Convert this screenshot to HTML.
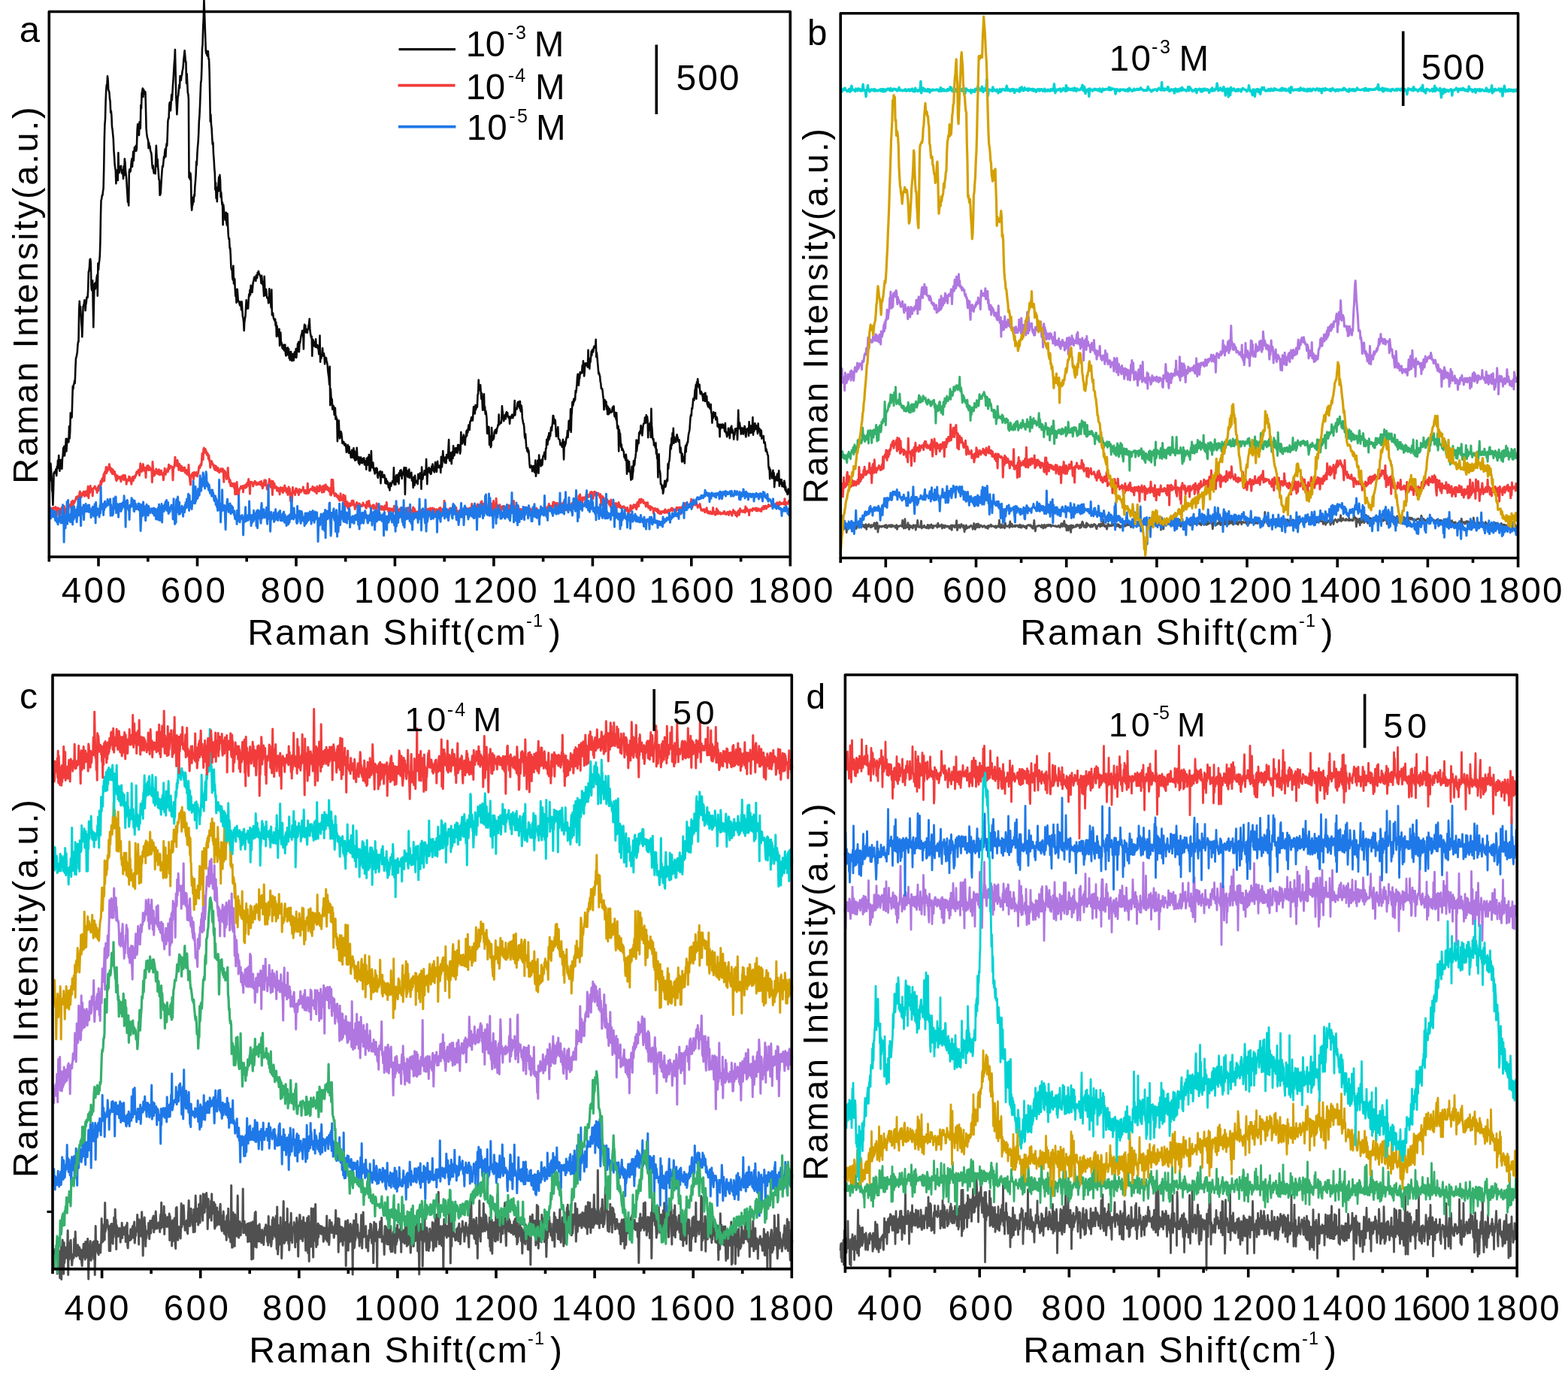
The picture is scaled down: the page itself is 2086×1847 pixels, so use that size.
<!DOCTYPE html>
<html><head><meta charset="utf-8"><title>Raman spectra</title>
<style>
html,body{margin:0;padding:0;background:#fff;}
svg{display:block;}
text{font-family:'Liberation Sans', Arial, sans-serif;fill:#000;}
</style></head>
<body>
<svg xmlns="http://www.w3.org/2000/svg" width="2086" height="1847" viewBox="0 0 2086 1847">
<rect width="2086" height="1847" fill="#fff"/>
<g id="curves" transform="scale(0.1)">
<path d="M662 6404l6-155l6-81l6 84l6 86l6 187l6 27l6 167l6-182l6-238l6-16l6 12l6-4l6-32l6-17l6 87l6-120l6 25l6-109l6 102l6-166l6 161l6 46l6-64l6-84l6 92l6-34l6 61l6-142l6-26l6-111l6 29l6-51l6 126l6-66l5-31l7-130l6 167l6-88l6-48l6-31l6 28l6 17l6-208l6 159l6-88l6-249l6 42l6 21l6-7l6-209l6-203l6 36l6-59l6-9l6-43l5 34l7-204l6-130l6-12l6-32l6-37l6-89l6-49l5 3l7-433l6-109l6 121l6-47l6 103l6 102l6 80l5 115l7-191l6-214l6-4l6-33l6-46l6 23l6 117l6-80l6-26l6-71l6 9l6-8l6-105l6-232l6-17l6-54l6-97l6-5l6 58l6 283l5 67l7 12l6-133l6 363l5 257l7-362l5-179l7-43l6 75l6-87l6-2l6-63l6-34l6 277l6-431l6 87l6-84l6-39l6-61l6-182l6-355l5-201l7-24l6-46l6 0l6-54l6-40l6-247l6-384l6-215l6-73l6-241l6-141l6-74l6-1l6-116l6 45l6 139l6 9l6 23l6 80l6 41l6 146l6-21l6 63l6 149l6 34l6 66l6 60l6 146l6 84l6 105l6 52l6 33l6 175l6-125l6-52l6 67l6 67l6-366l6 232l6 33l6-84l6 35l6 1l6-43l6 71l6 27l6-44l6 30l6 86l6-165l6 118l6-218l6 44l6 111l6 52l6 58l6 107l6 97l6 108l6-49l6 94l6-449l6-32l6 34l6-6l6-58l6-70l6-40l6 104l6-100l6-100l6 118l6-109l6-67l6 50l6-32l6-41l6 70l5-41l7-236l6-78l6 83l6-29l6 93l6-176l6 89l6-5l6-309l6 46l6-202l5-24l7-42l6 112l6-98l6 26l6 30l6-28l6 6l6 224l6 261l6 68l6 44l6 26l6 14l6 111l6-74l6 55l6-8l6 51l6 26l6 10l6 59l6 98l6 53l6-38l6 69l6 32l6-31l6 6l6 31l6-205l6-169l6 126l6 148l6-94l6 109l6 68l6 91l6 15l6 198l6-7l6-27l6-111l5-78l7-108l6-58l6 9l6-59l6-70l6 15l6-76l6-45l6 101l6-116l6-54l6 25l6-145l6-183l6-36l6 1l6-178l6-36l6 100l6 10l6-111l6-103l6 75l5-69l7-135l6-76l6-102l6-105l6-72l5-113l7 302l6 315l6 107l6 136l6-119l6-113l6-19l6-73l6-69l6 45l6-162l6 21l6 36l6-60l6-7l6-53l6-25l5-44l7-91l6-55l6-60l6 62l6 86l6 0l6 289l6-130l6 121l6 132l6 21l5 67l6 1042l7-69l6 93l6-81l6 75l6 329l6 86l6-73l6 3l6-101l6 63l6-95l6 17l6-135l6-64l6-89l6-172l6 46l6-149l6-92l6-63l6-108l6-168l6-73l6-129l6-162l6-152l6-35l6-165l6-264l5-33l7-242l6-124l6-250l6 161l6 181l6 171l6 179l6 33l6-35l6 65l6-18l6-44l6 102l6-1l6 158l6 293l6 386l6-92l6 137l6 43l6 121l6 92l6-25l5 142l7 87l6 117l6 61l6 224l6-93l6 205l6-99l6 145l6-190l6 56l6-110l6-83l6 180l6-207l6 69l6 224l6-64l6 84l6 80l6-27l6 298l6-268l6 60l6 57l6 16l6 68l6 6l6-103l6 142l6 28l6-156l6 173l6 119l6 46l6-8l6 128l6-2l6 100l6 155l6 35l6-13l6 112l6 37l6-187l6 237l6-45l6-21l5 131l6 100l6-90l6 178l6-82l6-98l6 83l6 80l6-4l6 14l6 30l6 14l6-49l6 41l6 66l6-108l6 103l6 91l6 23l6 56l6 111l5-111l7-44l6-39l6-113l6-99l6 115l6-44l6-37l6 77l6-115l6-73l6 26l6-83l6 64l6-124l6 66l6 5l6 20l6-66l6-66l6-13l6-37l6-23l6 8l6 1l6 45l6-75l6 33l6 2l6-72l6 18l6-37l6 25l6 18l6 12l6 12l6 23l6 72l6-101l6 64l6 53l6-35l6 87l6 102l6-263l6 152l6 67l6 33l6-79l6 84l6 31l6-7l6 7l6 68l6-5l6-185l6 173l6-82l6 90l6 70l6-238l6 336l6-29l6 3l6 55l6 22l6 12l6 16l6-26l5 88l7-46l6 191l6-142l6 67l6-14l6 75l6 18l6-103l6 221l6-97l6-77l6 140l6-8l6 39l6 39l6-13l6 23l6-58l6 76l6-7l6-70l6 115l6 33l6-102l6 35l6 53l6-95l6 38l6-19l6 121l6-83l6 109l6-66l6-46l6 70l6 52l6-17l6-74l6 46l6 40l6-62l6-49l6 42l6 25l6-112l6 118l6-71l6-10l6-102l6 0l6-27l6 133l6-112l6-7l6-37l6-40l6-29l6-10l6-46l6 51l6 0l6 193l6-260l6-66l6 67l6-55l6 92l6-12l6-28l6 46l6-48l6 1l6-51l6-19l6-68l6 130l6 57l6 33l6 31l6-17l6 259l6-221l6 3l6 73l6-44l6 57l6-36l6 47l6-102l6 101l6 7l6-31l6 5l6 43l6 4l6 70l6-24l6-224l6 351l6-90l6 44l6-45l6-7l6-86l6 102l6-2l6-30l6 40l6 103l6-77l6 18l6-27l6 49l5 11l7 40l6 81l6 47l6 38l6 92l6-239l6 515l6-218l6 111l6 25l6 2l6 134l6-4l6-44l6 23l6 98l6-63l6-29l6 149l6-38l6 43l6-11l6 302l6-182l6 22l6-117l6 141l6 97l6-17l6-77l6 7l6 23l6 56l6 74l6-12l6-9l6 2l6 33l6 12l6 2l6-22l6 41l6 71l6-52l6 12l6-58l6 66l6 42l6-84l6 84l6-15l6 31l6 45l6-36l6-65l6 100l6-24l6-29l6-73l6 141l6-100l6 124l6-59l6 55l6-20l6-145l6 110l6 27l6 24l6 43l6-78l6 98l6-50l6-40l6-7l6 75l6-18l6 20l6-60l6 51l6-40l6-19l6 91l6-53l6 4l6 2l6 110l6-149l6 55l6 33l6-104l6 72l6-105l6 215l6-104l6 101l6-123l6-138l6 195l5 25l7-37l6-28l6 76l6 23l6 18l6 31l6-70l6 54l6-60l6 0l6 13l6 100l6 18l6-52l6 16l6-42l6 15l6-26l6 162l6-129l6 10l6-36l6 71l6 4l6-8l6-4l6-21l6 28l6 83l6-2l6-57l6 65l6-39l6 44l6-25l6 63l6 13l6-35l6 67l6-99l6 16l6 28l6-37l6-2l6-30l6 0l6 17l6-195l6 226l6-49l6 4l6 47l6-117l6-12l6 71l6 16l6-65l6-32l6 127l6-148l6 43l6-70l6 62l6-72l6 60l6 56l6-68l6 16l6-41l6-15l6-40l6 96l6 262l6-253l6-104l5 35l7 13l6 55l6 22l6-79l6-10l6-13l6 115l6-42l6-12l6 29l6-48l6 107l6-2l6-11l6 108l6-142l6 64l6 49l6-133l6 87l6-13l6 22l6-18l6-11l6 49l6-133l6 50l6 10l6-24l6-51l6 43l6 3l6 166l6-291l6 110l6 50l6-43l6-12l6-2l6-57l6 54l6-16l6 14l6-203l6 187l6 144l6-168l6 10l6-49l6-13l6 46l6 27l6-54l6 68l6-8l6-96l6 50l6-79l6 56l6 32l6 10l6 10l6-61l6-73l6 9l6 65l6 56l6-71l6-71l6 75l6-19l6 27l6 0l6-14l6-17l6 100l6-213l6 141l6-12l6-99l6-106l6 103l6 16l6 9l6 27l6-70l6 38l6 38l6-112l6 34l6 9l6-19l6-103l6-120l6 254l6 27l6-110l6 101l6-19l6 68l6-151l6-9l6 87l6-167l6 88l6 43l6-28l6-66l6-7l6 57l6-55l6 56l6 6l6-106l6 54l6-54l6 49l6 23l6 44l6-41l6-245l6 113l6 23l6 18l6-90l6 34l6-62l6 76l6 38l6 20l6-106l6 1l6-79l6 64l6-83l6 38l6-55l6-45l6 60l6 6l6-103l6-16l6-11l6-37l6 43l6-2l6 0l6-102l6-80l6 34l6 23l5 35l7-115l6 61l6-29l6-28l6 23l6-166l6-9l6-186l6 138l6-13l6 4l6-62l6 93l6 91l6-73l6 93l6 129l6-135l6 74l6-151l6 214l6-44l6 96l6-40l6 40l6 57l6 201l6-94l6 98l6-83l6-9l6 239l6-65l6-48l6 146l6-21l6-240l6 112l6 54l6-33l6 18l6-17l6-76l6-10l6-17l6-5l6 50l6-24l6-45l6-8l6-36l6 7l6-146l6 131l6-23l6 11l6-15l6 10l6-43l6-184l6 71l6 38l6 35l6 57l6-63l6 34l6-55l6 56l6-75l6-17l6 20l6-11l6 57l6-11l6 23l6-10l6 88l6-93l6 2l6 17l6-24l6-24l6 31l6 14l6-24l6-6l6-68l6-133l6 193l6-94l6 10l6-6l6 9l6-73l6-18l6 44l6 12l6-66l6 89l6-90l6 119l6 16l6-77l6 49l6 120l6 26l6 45l6-3l6 49l6 110l6 39l6-58l6 100l6 88l6 4l6 38l6-42l6 56l6-24l6 85l6 96l6 46l6-20l5-2l7-5l6 11l6 64l6-34l6 2l6-39l6 62l6 23l6-43l6-116l6 212l6-43l6-33l6-6l6-127l6 128l6 41l6-243l6 89l6 28l6-43l6 75l6-53l6-36l6 74l6-60l6-61l6 3l6-19l6-34l6 35l6 59l6-143l6-1l6-120l6 33l6 37l6-109l6 53l6-99l6 78l6-78l6 42l6-85l6-34l6 44l6-59l6-47l6-93l6 1l6 103l6-57l6 61l6-48l6 98l6 117l6-92l6 84l6 1l6-116l6 155l6 5l6 3l6 9l6 60l6-20l6 29l6-16l6 40l6-52l6-48l6 76l6 190l6-234l6 60l5-17l7-17l6-54l6-35l6 2l6-86l6 88l6-91l6-129l6 122l6-129l6 105l6-256l6 306l6-215l6-71l6-116l6 53l6-20l6-69l6 33l6-46l6 24l6-123l6 24l6-49l6-62l6-100l6-35l6 9l6 140l6-85l6-4l6-83l6 20l6-20l6 3l6 6l6-99l6 84l6-144l6 89l6 112l6-57l6-113l6 5l6 23l6-31l6 21l6 11l6 22l6-227l6 186l6-74l6 137l6-134l6 45l6-69l6-74l6 53l6-74l6 26l6 3l6-48l6-25l6 8l6-18l6 32l6-115l6 232l6-57l6 65l6 67l6 69l6 79l6-15l6 33l6 14l6 73l6 22l6 71l6 2l6-2l6 36l6 68l6 35l6 142l6-44l5-87l6 44l6-24l6 1l6 104l6-49l6 116l6-100l6 15l6 83l6-15l6-52l6 28l6 6l6 12l6-10l6 1l6-58l6 22l6-39l6 0l6 112l6 26l6-53l6 25l6 65l5-89l7 132l6 78l6-37l6 9l6 330l6-285l6 59l6-9l6 102l6 75l6-32l6 76l6-22l6 14l6 17l6 13l6 67l6 12l6-21l6 54l6-75l6 56l6 201l6-76l6-105l6 148l6-61l6-70l6 133l6-2l6 33l6 80l6-63l6-114l6 165l6-69l6-38l6-135l6 65l6-12l6-81l6-16l6-64l6-168l5 148l7-65l6-33l6-48l6 42l6-143l6 27l6-47l6 28l6-103l6 40l6-11l6 104l6-69l6-60l6-28l6-1l6-11l6-71l6 74l6-29l6-77l6 99l6-79l6 53l6 225l6-181l6 36l6-36l6 85l6-104l6 199l6-383l6 217l6 67l6 103l6 28l6-12l6 85l6-24l6 2l6 54l6-64l6 144l6-57l6 121l6-12l6 264l6-222l6-88l6 224l6-3l6 37l6 140l6-1l6 14l6 49l6-39l6 104l6-27l6-54l6-45l6-44l6 82l6-10l6-39l6-32l6-23l6 24l6-227l6 66l6-85l6-18l6-49l6-128l6-43l6 58l6-143l6 91l6-159l6 84l6-150l6 201l6-84l6 43l6 1l6 23l6 1l6-67l6-33l6 32l6 17l6 41l6 7l6-26l6 80l6 88l6-68l6 52l6 24l6 115l6-103l6 96l6-59l6 11l6-10l6 86l6-166l6-67l6 83l6-103l6 16l6-43l6 5l6-73l6-45l6-24l6-28l6-90l6-83l6-28l6 13l6-102l6 12l6-56l6-80l6 18l6 2l6-58l6-83l6-4l6-63l6 189l6-221l6 30l6-74l6 60l6 41l6 16l6-40l6 80l6 44l6-36l6 6l6 16l5 19l7 29l6 53l6-60l6-30l6 75l6 24l6-111l6 109l6-36l6-29l6 106l6 4l6 31l6-59l6 15l6 56l6-26l6 46l6-64l6 106l6 15l6 126l6-125l6 63l6-82l6 18l6 6l6 36l6-51l6 91l6-11l6-24l6 17l6 109l6-34l6 8l6 43l6-13l6 132l6-163l6 58l6-14l6-42l6 30l6-35l6 49l6-38l6 29l6 16l6 41l6-112l6 121l6-4l6 32l6 33l6-36l6 10l6-87l6 26l6 22l6 84l6-71l6-72l6 41l6-60l6 89l6-42l6 42l6 9l6 79l6-82l6 21l6-80l6 20l6-12l6-12l6 27l6 125l6-144l6-251l6 208l6 37l6-77l6 53l6 18l6 80l6-18l6-63l6 45l6-44l6 80l6-77l6 23l6-53l6 21l6 99l6 25l6-87l6-18l5 9l7-18l6 14l6 84l6-186l6 124l6 22l6 3l6-97l6 30l6 61l6-65l6-138l6 233l6-143l6 99l6-50l6-60l6 79l6-52l6 33l6-23l6 55l6 47l6-135l6 109l6-8l6-35l6 39l6 59l6-76l6 8l6 104l6-29l6 4l6 2l6-12l6 93l6-3l6-6l6 43l6 77l6-29l6 25l6 19l6 34l6 6l6 143l6 42l6-25l6 153l6-126l6 57l6-4l6-4l6 67l6-69l6-35l6 105l6-70l6 187l6-92l6 8l6-52l6 47l6-4l6-70l6-15l6 94l5-8l7-126l6 204l6-89l6 2l6 29l6 30l6-57l6 89l6-3l6-6l6-36l6 56l6-85l6 25l6 96l6-39l6 64l6-9l6 7l6 39l6-56l6-17l6 55l6 14" fill="none" stroke="#0a0a0a" stroke-width="26" stroke-linejoin="round"/>
<path d="M662 6835l6-19l6-4l6-50l6 30l6 36l6 8l6-77l6 31l6-35l6 16l6-13l5 0l7-12l6 30l6 90l6-83l6-23l6 19l6-19l6 40l6 75l6-72l6-4l6-29l6 38l6 26l6-84l6-4l6 2l6 49l6-14l6-48l6 119l6-80l6-1l6 19l6-11l6 39l6-72l6 12l6 32l6-59l6-9l6 9l5-14l7 10l6 26l6-78l6 85l6-37l6-62l6 26l6 16l6-33l6 12l6-17l6-15l6-20l6-19l6 23l6-26l6-5l6-2l6 49l6 14l6-103l6-23l6 77l6-28l6 29l6-31l6-25l6 24l6-15l6-29l6 5l6 56l6-60l6 24l6-18l6-12l6 58l6-51l6-18l6-54l6 156l6-89l6 18l6-1l6-90l6 44l6 16l6-24l6 11l6 86l6-95l6-8l6-2l6-6l6-18l6 26l6 12l6 9l6-8l6 47l6-59l6-19l6 49l6-67l6 42l6-45l6 14l6-69l6 45l6-41l6-36l6 41l6-38l6-34l6-35l6 96l6-119l6 1l6-16l6-50l6 81l6-77l6 48l6-48l6 17l6 12l6-72l6 40l6 31l6-21l6 56l6-46l6 19l6 52l6-59l6 33l6-2l6 27l6-31l6 60l6-23l6 68l6 16l6-13l6-54l6 41l6-29l6 10l6 12l6-7l6-11l6 35l6 27l6-44l6-27l6 13l6 14l6-42l6 64l6-22l6 1l6-41l6 62l6-9l6 66l6-63l6 10l6 6l6 2l6-11l6-48l6 40l6-30l6 54l6-7l6 47l6-47l6-14l6-38l6 53l6-26l6-32l6 11l6 8l6-32l6 4l6-32l6-20l6 19l6-26l6 1l5-19l7 36l6 36l6-61l6-97l6 103l6-42l6 46l6-25l6-46l6-27l6 54l6 33l6-28l6-3l6-9l6 131l6-122l6-4l6-30l6 46l6-50l6 63l6-50l6 38l6-22l6 33l6 0l6 2l6-21l6 180l6-272l6 104l6 7l6 77l6-12l6-4l6-45l6 23l6-55l6 57l6-15l6-10l6 36l6-50l6-10l6 56l6 15l6-38l6-8l6-12l6 32l6 24l6-20l6 17l6 74l6-52l6-53l6-50l6 71l6 8l6-41l6-5l6 11l6-36l6 36l6-43l6-52l6 47l6 7l6-24l6-10l6 8l6 1l6 3l6 3l6 172l6-166l6 5l6-17l6-36l6-93l6 110l5-26l7 29l6 4l6-74l6 46l6 9l6 74l6-81l6 5l6 35l6-1l6 54l6-63l6 37l6-20l6 47l6-13l6-2l6-26l6-6l6 69l6-15l6-14l6-6l6 58l6 2l6-36l6 17l6-110l6 155l6-17l6 80l6 48l6-110l6-12l6-18l6-4l6-13l6 46l6 36l6-90l6 38l6 3l6-34l6 24l6-32l6 48l6 5l6-35l6-3l6-43l6-50l6 9l6 9l6-38l6-12l6 17l6-57l6-100l6 37l6 44l6-142l6-13l6 20l6 41l6-46l6 25l6 4l6 41l6 8l6-21l6 30l6 46l6-49l6 75l6 10l6 77l6-85l6 21l6-22l6 35l6-4l6 24l6-4l6 27l6 29l6-45l6 58l6-55l6 6l6 50l6 3l6 10l6-46l6 35l6 4l6 25l6-30l6 14l6-34l6 22l6-10l6 25l6-37l6 4l6 31l6 141l5-151l7 17l6-3l6 43l6 0l6 54l6-35l6-16l6-99l6 122l6 6l6 67l6 2l6-33l6 78l6-22l6-15l6 42l6-4l6-11l6-21l6 27l6 31l6-59l5 144l6-64l6 4l6 58l6-160l6 84l6 15l6 21l6 67l6-79l6-5l6-24l6 2l6-25l6 8l6 15l6 3l6-31l6 83l6-84l6 12l6-12l6-8l6 34l6-44l6 36l6-8l6-52l5 27l7-22l6-53l6 91l6-45l6 151l6-160l6 15l6-9l6-6l6 12l6 10l6 36l6-24l6-21l6-9l6-13l6 5l6 8l6 35l6-21l6-6l6 23l6-7l6-12l6 13l6-27l6 32l6-4l6-20l6-18l6 60l6-32l6 65l6-18l6-29l6-26l6-35l6 67l6-34l6-34l6 60l6 1l6 62l6-38l6-2l6-10l6-11l6-77l6 73l6 6l6 29l6-21l6-61l6 88l6 97l6-179l6 69l6 18l6-61l6 30l6 31l6-10l6-8l6 9l6 45l6-39l6 28l6 17l6-38l6 20l6 62l6-82l6-10l6 45l6-27l6-2l6-12l6 66l6-22l6-15l6-14l6-45l6 69l6 1l6-36l6 58l6-8l6-37l6 76l6-61l6-43l6 51l6-31l6 69l6 100l6-102l6 1l6 110l6-127l6-66l6 77l6-19l6-9l6 14l6 37l6-51l6-33l6 46l6-42l6 27l6 10l6 8l6 34l6-17l6-57l6 33l6-17l6 22l6-25l6-1l6 4l6-2l6-44l6 41l6 13l6 27l6-34l6-2l6 41l6-22l6 22l6-23l6-110l6 126l6 3l6-13l6-18l5-15l7 3l6-14l6 13l6-7l6 6l6-42l6 54l6-7l6-18l6-17l6 54l6 3l6-43l6 21l6 44l6-93l6 28l6 37l6-29l6-24l6 52l6-78l6 22l6 28l6-20l6 11l6 52l6-83l6 16l6-5l6 68l6-89l6 64l6-32l6-40l6 28l6 30l6 5l6-36l6 35l6 12l6 8l6 5l6-43l6 86l6-31l6 40l6-208l6 174l6-18l6-153l6 128l6 57l6-8l6 39l6-17l6-17l6 25l6-11l6 32l6-8l6-10l6 40l6-23l6 34l6 16l6-32l6-62l6 82l6-15l6 19l6 7l6 0l6-76l6 38l6 34l6 98l6-158l6 65l6 20l6 51l6-52l6-3l6 87l6-40l6-18l6 38l6-48l6 37l6-7l6-29l6 24l6-56l6 34l6 18l6-56l6 25l6 36l6 9l6 44l6-59l6 30l6-42l6-20l6 29l6-7l6 38l6-25l6-20l6 71l6-64l6 22l6 5l6 3l6-12l6 9l6-14l6-29l6 27l6 1l6 1l6 8l6 13l6 14l6 6l6-82l6 49l6-15l6-41l6 66l6-73l6 57l6-5l6 39l6 4l6-21l6 10l5-5l7-5l6-19l6 51l6-48l6 25l6 12l6-10l6 20l6 34l6-104l6 44l6-8l6 4l6-19l6 33l6-6l6 26l6-24l6-6l6-8l6 47l6-29l6-13l6 29l6-20l6 39l6-3l6-55l6 34l6 8l6-14l6-75l6 94l6-19l6 8l6 34l6 16l6-27l6-26l6 38l6-30l6-1l6 4l6 19l6-6l6-17l6 41l6-17l6-62l6 15l6 41l6-4l6 49l6-47l6-2l6 24l6 3l6-28l6 17l6 90l6-120l6 48l6-57l6 51l6-4l6 2l6 4l6-7l6-26l6-7l6 9l6 34l6-44l6 10l6 8l6 37l6 26l6 41l6-80l6-60l6 55l6-17l6-24l6 26l6-12l6 27l6 4l6 25l6-32l6-20l6-39l6 60l6 25l6-65l6 57l6-25l6 25l6 53l6-46l6-13l6-13l6 16l6-6l6-5l6 9l6 14l6-17l6 0l6-33l6 25l6 56l6-38l6-37l6 68l6 17l6-75l6 37l6-21l6-22l6-7l6 31l6 17l6-23l6-42l6 6l6 37l6 19l6-25l6-49l6 69l6-32l6 2l6-3l6-36l6 49l6-2l6 12l6-48l6 80l6-33l6-14l6 23l6-49l6 23l6-19l6 22l6-18l6 51l6-74l6 49l6-55l6 61l6-11l6-33l6 4l6 19l6 13l6-23l6 22l6-144l6 178l6 8l6-82l6 84l6-18l6-31l6 29l6-34l6 20l6-38l6 18l6-24l6-13l6 29l6-8l6 27l6 15l6-32l6 5l6-46l6 8l6 43l6-6l6-1l6-23l6-20l6 38l6 13l6 23l6-5l6 7l6-24l6 17l6-30l6 19l6 6l6-38l6 23l6-33l6 58l6-47l6 16l6-5l6-14l6 49l6 11l6 4l6-82l6 25l6 21l6-23l6-11l6 115l6-111l6 14l6-28l6 16l6 10l6 40l6-34l6-86l6 52l6 1l6 14l6 26l6-20l6 107l6-121l6-6l6 5l6 80l6-117l6 105l6-121l6 36l6 6l6 40l6-68l6 21l6 78l6-138l6 83l6-98l6 45l6 33l6-11l6 18l6-50l6 69l6-49l6 32l6-40l6-11l6 29l6 10l6 31l6-26l6 9l6-1l6 55l6-86l6 46l6-30l6-45l6 37l6 38l6 86l6-139l6-55l6 60l6 41l6 6l6-37l6 35l6-138l6 101l6 123l6-61l6-41l6-20l6 0l6 46l6-63l6 27l6 2l6 56l6-58l6 32l6-17l6-25l6 35l6-4l6 34l6-61l6 7l6 10l6-4l6 27l6-26l6-13l6 26l6 26l6-68l6 8l6 11l6 23l6 8l6-42l6 30l6 15l6-13l6-44l6 34l6-88l6 115l6 43l6-83l6 56l6-53l6 50l6-29l6-37l6 77l6-67l6 52l6 3l6-13l6 34l6-40l6 74l6-46l6-11l6-13l6 37l6-16l6-12l6 2l6 8l6-46l6 49l6-7l6-17l6-4l6-15l6 95l6-53l6-23l6 77l6-62l6-5l6-18l6 36l6-3l6-5l6 18l6-32l6 45l6-34l6 15l6 2l6-20l6 6l6-29l6-5l6 29l6-12l6 28l6-12l6 13l6-7l6-2l6-3l6-10l6-3l6 55l6-83l6 32l6 25l6-15l6 20l6-21l6-41l6 18l6-25l6 51l6 8l6-43l6 19l6-22l6-25l6 20l6-50l6 44l6 15l6 9l6-41l6 14l6 11l6 2l6 2l6-77l6 44l6-50l6 38l6 29l6 11l6-62l6 35l6 8l6-7l6-35l6 42l6-19l6 31l6-8l6-21l6 17l6-19l6 91l6-109l6 30l6 23l6-60l6 43l6-59l6 49l6 29l6-3l6 33l6-46l6 49l6-21l6 11l6-20l6-10l6 6l6 7l6-29l6-1l6-3l6-12l6 25l6-46l6 58l6 0l6-17l6 21l6 8l6-43l6-3l6 22l6-10l6-1l6-22l6 50l6-80l6 18l6-96l6 143l6-28l6-136l6 75l6-30l6 7l6 30l6 35l6-77l6 16l6-8l6-11l6 30l6-23l6 2l6-6l6-47l6 43l6-9l6 12l6-28l6 20l6-32l6 14l6 15l6-57l6-1l6 42l6-47l6 62l6-35l6 65l6-70l6-13l6-11l6 21l6 28l6-39l6 35l6-2l6-15l6 12l6-22l6 11l6 22l6-2l6 30l6-44l6 24l6 121l6-109l6 30l6-40l6 43l6-22l6 10l6 29l5-18l6 22l6 65l6-71l6 2l6-20l6 23l6 21l6 5l6-25l6 49l6-2l6-12l6 44l6-97l6 46l6 4l6 13l6 0l6 2l6 8l6-19l6 6l6 19l6-32l6 17l6-16l6 56l6-9l6-18l6 12l6-55l6 64l5-12l7-16l6 38l6-14l6 14l6 17l6-25l6-7l6 11l6-17l6 11l6 3l6 4l6 34l6-3l6-24l6 35l6-41l6 19l6 11l6 85l6-86l6 8l6 8l6-76l6 68l6-45l6-11l6 15l6 15l6-13l6-36l6 33l6-7l6 0l6-28l6 38l6 23l6-20l6-69l6 24l6-35l6 61l6-72l6-21l6 35l6-15l6 26l6-52l6 36l6-14l6 7l6-12l6 40l6-15l6 18l6-1l6-7l6 49l6-15l6-34l6 25l6-28l6 61l6 10l6-3l6-17l6-3l6 51l5-33l7-9l6 8l6 0l6 7l6 12l6 60l6-57l6 1l6-11l6 1l6 5l6 28l6-5l6 12l6-33l6 51l6-36l6 13l6 8l6 28l6-21l6-8l6 28l6-30l6 11l6-10l6 6l6-10l6 10l6 11l6-34l6-12l6 43l6-15l6 8l6-15l6 21l6 3l6-37l6 49l6-44l6 8l6-17l6 12l6-25l6 10l6-19l6 34l6 2l6-21l6 4l6 8l6-1l6-3l6 16l6 7l6-50l6 6l6-9l6 31l6-26l6 2l6 2l6-10l6 49l6-48l6 87l6-82l5-7l7 2l6-23l6 26l6-6l6-8l6-25l6 8l6-29l6 22l6-2l6 18l6-29l6 19l6 26l6-34l6 9l6 4l6-14l6-11l6-27l6-34l6 57l6 50l6-52l6 14l6-58l6 21l6 44l6-15l6 2l6 13l6-34l6 28l6 7l6 34l6-29l6 5l6 8l6-1l6-31l6 54l6-1l6 33l6-14l6 7l6 10l6-11l6 2l6-11l6 25l6 18l6-16l6-11l6-17l6-16l6 53l6 17l6-27l6 10l6 21l6-16l6-3l6-6l6 30l6-2l6-2l6 7l6-10l6-76l6 67l6 2l6 14l6-22l6 38l6-21l5 3l7-67l6 68l6 4l6-48l6 43l6-8l6 3l6-13l6 14l6 11l6-12l6 0l6-3l6 11l6-18l6 13l6 0l6-31l6 35l6-9l6 10l6 7l6-7l6-19l6 19l6-24l6 11l6 29l6-22l6-27l6 23l6 1l6-15l6 24l6 24l6-30l6-4l6-42l6 39l6-6l6-1l6-9l6 46l6-34l6 18l6 34l6-33l6-24l6-19l6-1l6 57l6-43l6-43l6 45l6-21l6 16l6-11l6 5l6 11l6-17l6 17l6-13l6-15l6 37l6-80l6 49l6 10l6-38l6 40l6-12l6-3l6 4l6 65l6-72l6 15l6-18l6 3l6 5l6 5l6 3l6-33l6 10l6 6l6 0l6-13l6 16l6 4l6-28l6 39l6-34l6 13l6 23l6-16l6-15l6 7l6 12l6 8l6-18l6 5l6 22l6-43l6 16l6-28l6 9l6-24l6 39l6-21l6 6l6-27l6 1l6 36l6-28l6 1l6-6l6 11l6-33l6 10l6 11l6-2l6 2l6-11l6 0l6 4l6-13l6-3l6 1l6 5l6-3l6-6l6 1l6 6l6-2l6 0l6-21l6 27l6-32l6 26l6-16l6 15l6 5l6-37l6 30l6-5l6-10l6 10l6-11l6 6l6-1l6 8l6-25l6 23l6-69l6 81l6 1l6-25l6-5l6-1l6 13l6 3l6-22l6-16l6 26" fill="none" stroke="#F23C3C" stroke-width="30" stroke-linejoin="round"/>
<path d="M666 6904l5-141l5 135l5-43l5 7l5 13l5-80l5 82l5-27l5 10l5 5l5-64l5 82l5-16l5 59l5-116l5 18l5 65l5 56l5-51l5 12l5 69l5-44l5-47l5 16l5 33l5-141l5 106l5 2l5 56l5-84l5 27l5 54l5-13l5-227l5 232l5-156l5 422l5-337l5-31l5 88l5 93l5-124l5-28l5 51l5-249l5 294l5-124l5-193l5 224l5 45l5-71l5 63l5-5l5 37l5-109l5 41l5-128l5 139l5-14l5 103l5-237l5 90l5 80l5-175l5 150l5-23l5 1l5-45l5-39l5 33l5 132l5-76l5-126l5 69l5-167l5 212l5-65l5-16l5-61l5-101l5 210l5 172l5-156l5-36l5-45l5-8l5-1l5 86l5-117l5 197l5-148l5 24l5 15l5-83l5-22l5 77l5 27l5-71l5 52l5-25l5-40l5 71l5 18l5-92l5 48l5 0l5 29l5-14l5 104l5-48l5-1l5-75l5-8l5-13l5 51l5 75l5-47l5 44l5-156l5 14l5 236l5-274l5 109l5 63l5-94l5 35l5-28l5 72l5-46l5 27l5 56l5-72l5-83l5 104l5-353l5 270l5-9l5 39l5-56l5-13l5 61l5 86l5-124l5 56l5-104l5-10l5 81l5-22l5-7l5 12l5-12l5-2l5-76l5 18l5 56l5-40l5 15l5-15l5-6l5-35l5 224l5-151l5 95l5-58l5 4l5 108l5-101l5 80l5-207l5 127l5 12l5-2l5-39l5-122l5 5l5 210l5-62l5-60l5 122l5-51l5-37l5 146l5-170l5 90l5-39l5-59l5 14l5 13l5 74l5-102l5 77l5-75l5-14l5 12l5-22l5 61l5-144l5 146l5 21l5-47l5 295l5-344l5 58l5-60l5-12l5 6l5 109l5-43l5 66l5-54l5 176l5-164l5-32l5 17l5 11l5-8l5-111l5 59l5 51l5-87l5 90l5-47l5 105l5 7l5-144l5 95l5-12l5-41l5 72l5-44l5 17l5-8l5 6l5 29l5-77l5 84l5 6l5-84l5 22l5 163l5 174l5-133l5-85l5-132l5 56l5-12l5 106l5-185l5 88l5 18l5-24l5 83l5-104l5 188l5-54l5-81l5-80l5 133l5-82l5 5l5 90l5-124l5 20l5 59l5-10l5 21l5-22l5-31l5 37l5-10l5-31l5 38l5 25l5-46l5-17l5-8l5 101l5-64l5-25l5-1l5 9l5 129l5-114l5-4l5-12l5 68l5 67l5-158l5 117l5-160l5 44l5 169l5-183l5 124l5-86l5 49l5-124l5 245l5-190l5 34l5-59l5 61l5 8l5-45l5-47l5 46l5-82l5 93l5 12l5-126l5 138l5-52l5-7l5-50l5 149l5-27l5 13l5-64l5 53l5-36l5 6l5-44l5-14l5 49l5-29l5 6l5 162l5-126l5-145l5 189l5-65l5 212l5-160l5 46l5 94l5-294l5-17l5 173l5-71l5-135l5 138l5-25l5 122l5-163l5 101l5 55l5-23l5-47l5 7l5 33l5-75l5 63l5-3l5 79l5-121l5-1l5 47l5 18l5-95l5 48l5-84l5 63l5 8l5-112l5 74l5-60l5-29l5-56l5 163l5 59l5-202l5 81l5 79l5-25l5 16l5-69l5 100l5-66l5-31l5-24l5-253l5 121l5 139l5 38l5-29l5 28l5-223l5 195l5-138l5 92l5 16l5-95l5 83l5-122l5 38l5-40l5 89l5-70l5-194l5 97l5 36l5 71l5-160l5 91l5 11l5-15l5-169l5 27l5 85l5-34l5 21l5 112l5-137l5 31l5-117l5 34l5 134l5 23l5-50l5 46l5 24l5 33l5-71l5 33l5 57l5 22l5-41l5 12l5 18l5 50l5-81l5 0l5 78l5-43l5 36l5 43l5 30l5-57l5-9l5 2l5 117l5-83l5 22l5 89l5-46l5 94l5-91l5 42l5-21l5-340l5 406l5-90l5 13l5 237l5-159l5-23l5 32l5-282l5 221l5 48l5-55l5 58l5-3l5-62l5 29l5 157l5 137l5-224l5-63l5 8l5-102l5-25l5 132l5-46l5 85l5-104l5 63l5 18l5-89l5 125l5 11l5-108l5 1l5 93l5-26l5-49l5 45l5 12l5 2l5 48l5-54l5 104l5-14l5-28l5 22l5-28l5 118l5-182l5 119l5-54l5 74l5-336l5 294l5-5l5 65l5-64l5-17l5 30l5-30l5 31l5-44l5 56l5-30l5 237l5-206l5-7l5 43l5-84l5-21l5-97l5 188l5-29l5-23l5-19l5 60l5-66l5 65l5-21l5 9l5-241l5 202l5 0l5 22l5-17l5 121l5-144l5 109l5-106l5 27l5-8l5 61l5-145l5 122l5-81l5 75l5-55l5-24l5 9l5 162l5-200l5 21l5 207l5-240l5 111l5-32l5-26l5-11l5-30l5 40l5 82l5 40l5-216l5-50l5 166l5 33l5-68l5 12l5 38l5-100l5 84l5 26l5-27l5 11l5-44l5 50l5-125l5 162l5 58l5-148l5-28l5-341l5 417l5 35l5 2l5-84l5 248l5-129l5-131l5 99l5-59l5 45l5-2l5 3l5 3l5-81l5 123l5-77l5 18l5 38l5-146l5 59l5 0l5 19l5 48l5-70l5 93l5-42l5-23l5-49l5 71l5-6l5-83l5 133l5-70l5 33l5 7l5 5l5 29l5-95l5 40l5-6l5-60l5 82l5 61l5-103l5 37l5-13l5 46l5 76l5-99l5 9l5 39l5-77l5 109l5-82l5-35l5 93l5-105l5 57l5-41l5 43l5-286l5 39l5 203l5 34l5-7l5-21l5 41l5-151l5 81l5 43l5-30l5 6l5 28l5-3l5 72l5 9l5-229l5 210l5-105l5 27l5-42l5 49l5-78l5 68l5 60l5 39l5-29l5-131l5 18l5 34l5 72l5-42l5 44l5-42l5 13l5 96l5-97l5-71l5 82l5 59l5-103l5 87l5-126l5 55l5 49l5-63l5-2l5-38l5 80l5-98l5 108l5-15l5-91l5 159l5-82l5-4l5 40l5-130l5 40l5 51l5-57l5 124l5-39l5-104l5 67l5 24l5-2l5-64l5-17l5 99l5-9l5 299l5-183l5-51l5-76l5 66l5 24l5-101l5 18l5-64l5 115l5 8l5-58l5 137l5-196l5 88l5-104l5 33l5 198l5-186l5-92l5 374l5-276l5-85l5 75l5 7l5 29l5-22l5-85l5 90l5-33l5-159l5-9l5 206l5 67l5 167l5-57l5-248l5 48l5-44l5 51l5-8l5-88l5-15l5 140l5 17l5-32l5-8l5 189l5-259l5-28l5 167l5 185l5-267l5 118l5 85l5-148l5-85l5-141l5 184l5 101l5-99l5-37l5 19l5-64l5 15l5 82l5-210l5 219l5 28l5-100l5-18l5-74l5 199l5-118l5 87l5-73l5-23l5 141l5-85l5-30l5 60l5-9l5-82l5-51l5 40l5 214l5-108l5 21l5-20l5-28l5 19l5 50l5-85l5 74l5-10l5-20l5 54l5-98l5 30l5-39l5 7l5-13l5 68l5-63l5 45l5-54l5-121l5 254l5-72l5 63l5 67l5-306l5 169l5-75l5 137l5-73l5 34l5-58l5-44l5 65l5 71l5 3l5-37l5-105l5 45l5-67l5 10l5 81l5 3l5-33l5-3l5 59l5 42l5 3l5-66l5 37l5-72l5 51l5-62l5 76l5-74l5-89l5 129l5 25l5 76l5-126l5-46l5 80l5-48l5 42l5-90l5 247l5-137l5-85l5-40l5 104l5 48l5-45l5 31l5-62l5-39l5-26l5-94l5 211l5-93l5 54l5 8l5 36l5-63l5 29l5-30l5 83l5-56l5-35l5-12l5 291l5-180l5-132l5 224l5-54l5-52l5-60l5 42l5 136l5-183l5 13l5 72l5-65l5 60l5-119l5 92l5-99l5-11l5 29l5 1l5 57l5-68l5 120l5-72l5-52l5 59l5-32l5 60l5 77l5-21l5-54l5 156l5-221l5-183l5 335l5-263l5 106l5 74l5 34l5-72l5-51l5-8l5 58l5-44l5 11l5 22l5 8l5-126l5 127l5 53l5 18l5-36l5 75l5-331l5 271l5 91l5-133l5-5l5-5l5 33l5-149l5 96l5 8l5 38l5-52l5 4l5 2l5 6l5-43l5 118l5-226l5 139l5 22l5 94l5-50l5 30l5 104l5-161l5-57l5 70l5 5l5-80l5 23l5 31l5 2l5-3l5-46l5 6l5 52l5-31l5-41l5 134l5-101l5-16l5-7l5-192l4 267l5-33l5 28l5-83l5 239l5-218l5 22l5 21l5-114l5 38l5 14l5-19l5 41l5 54l5 63l5-310l5 159l5 263l5-144l5-119l5 134l5-32l5-33l5-63l5 34l5 1l5-46l5 37l5 24l5 13l5 31l5-56l5-22l5 38l5-46l5-29l5 108l5-69l5 22l5 23l5-28l5 27l5-8l5-25l5 21l5-52l5 270l5-249l5-29l5 80l5-88l5 25l5 25l5 59l5-10l5 48l5-81l5-32l5 7l5 32l5-12l5-2l5-64l5-25l5-2l5 57l5 79l5-207l5 101l5-25l5 105l5-49l5-49l5 109l5-40l5 52l5 28l5-48l5-26l5-58l5 32l5-20l5 0l5-15l5-25l5 70l5 50l5 14l5-166l5-28l5 139l5-36l5-84l5 11l5 96l5 12l5-55l5 113l5 17l5-86l5 45l5-2l5-28l5 138l5-38l5-63l5-86l5-2l5 84l5-86l5-100l5 180l5 6l5-50l5 37l5-8l5-90l5 219l5-104l5-139l5-15l5 33l5 61l5-45l5 65l5-18l5 18l5-75l5 80l5 60l5-124l5 95l5-16l5-15l5-32l5-50l5 13l5 73l5 10l5 10l5-32l5-111l5 68l5 96l5-68l5 68l5-194l5 47l5 45l5-43l5 73l5-55l5 282l5-220l5-9l5 55l5-1l5-159l5 140l5 20l5 2l5-52l5 11l5-75l5-8l5-46l5 127l5-48l5 112l5-155l5 50l5 70l5-77l5-23l5-163l5 181l5-202l5 220l5 39l5-47l5 62l5-33l5-46l5 21l5-224l5 292l5-49l5-189l5 148l5 8l5-20l5 101l5-25l5-24l5 17l5 192l5-180l5-38l5 51l5-77l5 5l5 42l5-8l5 151l5-184l5 12l5 34l5 55l5-159l5 44l5 15l5 16l5 25l5-48l5 69l5 56l5-23l5-65l5 83l5-59l5-14l5 13l5 36l5-39l5-101l5 118l5 45l5 4l5-58l5-34l5 21l5-80l5-36l5 169l5-30l5-27l5 26l5-62l5 118l5-96l5 117l5-57l5-84l5-77l5 47l5-202l5 272l5-22l5-4l5-68l5 216l5-121l5 103l5-148l5 16l5 36l5 25l5-171l5 245l5-105l5 158l5-263l5 215l5-2l5-157l5 165l5-130l5 75l5-72l5 45l5-59l5 102l5-102l5 23l5 50l5-132l5 47l5 70l5 54l5-162l5 99l5-66l5 41l5-12l5-65l5 43l5-2l5 10l5 94l5-15l5-154l5 81l5 20l5-40l5 67l5-19l5-1l5 100l5-74l5 74l5-111l5-74l5 117l5-92l5-14l5-55l5 169l5-65l5 43l5-60l5-11l5 110l5-16l5-31l5-31l5-23l5-3l5 118l5 73l5-123l5 16l5-69l5-64l5 99l5-67l5 43l5 26l5-75l5 85l5-65l5 74l5-82l5-182l5 166l5 85l5-72l5 46l5 53l5-68l5 20l5 98l5-118l5-3l5-41l5 15l5-34l5 56l5-48l5 11l5 42l5-47l5 12l5 65l5-54l5 84l5-40l5 3l5-47l5 11l5 30l5-81l5 65l5-86l5 124l5-49l5-7l5 14l5-41l5 22l5 53l5-96l5-9l5 43l5-212l5 260l5-61l5 33l5-61l5 44l5 45l5 1l5-107l5 98l5-46l5 74l5-192l5 45l5 62l5-209l5 230l5-9l5-11l5-36l5 19l5 40l5 38l5-109l5-90l5 138l5-50l5 76l5 7l5-19l5-43l5 84l5-67l5 114l5-101l5 0l5-123l5 104l5 0l5 20l5-126l5 170l5-113l5-165l5 190l5 21l5-84l5 285l5-257l5 66l5 141l5-196l5 54l5 31l5-101l5 90l5-44l5-29l5 16l5 86l5-74l5 12l5-20l5 14l5 7l5-21l5-7l5-30l5-1l5 59l5 17l5-222l5 196l5-36l5 0l5 102l5-124l5 66l5 31l5 49l5-119l5-4l5 81l5-183l5 188l5-122l5 61l5-36l5 74l5 53l5-20l5 3l5-31l5 77l5-35l5-35l5 155l5-358l5 187l5 56l5 14l5-69l5 55l5 42l5 59l5-77l5-24l5-91l5 55l5 52l5 43l5-26l5-15l5 72l5-19l5-233l5 187l5-60l5 54l5-21l5 97l5-60l5-178l5-89l5 326l5-93l5 64l5-12l5 38l5-33l5-33l5 34l5-16l5 33l5-36l5 72l5-72l5-97l5 7l5 100l5-3l5 5l5-206l5 183l5-9l5 189l5-284l5 103l5 62l5-13l5-112l5 75l5 39l5 3l5-44l5 68l5-75l5 18l5 63l5-54l5 178l5-144l5-66l5 163l5-149l5-76l5 152l5-50l5 31l5-39l5-29l5 34l5-79l5 73l5 34l5-3l5 17l5-32l5 16l5 126l5-174l5-14l5 92l5-8l5-35l5 10l5-35l5 180l5-143l5-49l5 89l5-64l5-64l5 137l5-1l5-56l5 36l5-54l5 13l5 26l5-66l5 44l5 54l5-35l5-33l5 29l5 41l5-37l5 16l5 23l5-53l5 50l5 8l5 3l5-6l5-89l5 46l5-3l5 46l5-29l5 27l5 12l5-47l5 99l5-125l5 37l5 57l5 30l5-76l5 113l5-120l5-2l5-8l5 19l5-9l5 19l5-29l5 31l5 101l5-160l5 78l5-16l5-16l5-48l5 64l5 28l5 6l5-24l5-20l5-29l5 26l5-97l5 119l5-9l5 10l5-27l5 13l5 2l5 22l5-35l5 93l5-56l5-16l5 13l5-27l5 31l5 20l5-10l5-30l5 39l5-40l5-7l5 17l5 53l5-130l5 57l5 20l5 3l5-53l5 40l5-24l5-1l5-12l5 23l5-42l5 4l5-3l5 15l5 8l5-5l5-8l5-74l5 36l5 89l5-63l5 2l5 15l5-28l5-9l5-43l5 57l5-13l5-14l5 14l5-25l5 4l5-71l5 85l5-1l5-27l5 16l5-10l5 29l5-40l5 9l5-18l5 82l5-124l5 5l5 51l5-4l5-34l5 24l5-14l5-28l5 40l5-48l5 2l5-58l5-24l5 202l5-147l5 6l5 17l5-7l5-1l5 26l5-1l5-101l5 53l5 17l5 4l5-16l5-3l5-7l5-23l5 35l5-2l5-45l5 14l5 61l5-91l5 15l5-10l5-26l5 55l5-66l5 23l5 18l5-21l5 6l5 15l5 12l5-62l5 3l5-24l5-3l5 20l5-5l5 12l5-24l5 15l5 1l5-18l5 18l5-23l5-22l5 33l5-20l5-7l5 1l5 29l5-37l5 3l5-11l5 24l5-84l5 50l5-7l5-16l5 41l5-32l5 13l5 22l5 5l5-37l5 14l5-10l5 111l5-102l5-2l5 37l5 23l5-57l5-18l5 23l5 16l5-15l5 12l5-24l5 30l5-18l5 25l5-37l5-4l5 55l5-51l5-2l5-3l5 5l5 15l5 4l5-29l5 33l5 46l5-82l5-16l5 73l5-66l5 35l5-27l5 82l5-26l5-65l5 24l5 12l5-12l5-27l5 17l5-19l5-7l5 67l5-23l5-34l5-1l5 30l5-17l5 18l5-19l5 7l5 7l5-20l5-13l5 12l5 8l5 46l5-35l5-34l5 43l5 15l5 0l5 10l5-26l5-2l5 17l5-58l5 42l5-5l5-9l5 16l5 7l5-47l5 21l5 8l5 12l5-9l5-5l5 81l5-100l5 31l5 74l5-39l5-18l5-35l5 20l5 28l5-39l5 16l5-74l5 49l5 18l5 17l5 36l5-20l5-63l5-2l5 54l5-39l5 51l5-48l5 30l5 58l5-63l5-8l5-5l5 29l5-33l5 36l5 4l5 6l5-14l5-27l5 1l5 0l5-4l5 12l5 87l5-76l5-15l5 23l5-28l5 38l5-51l5 37l5-27l5 7l5-6l5 39l5 14l5 15l5-59l5 19l5-34l5 41l5-13l5-27l5 55l5-13l5-2l5 62l5-57l5-68l5 62l5-6l5-45l5 41l5 3l5 23l5-27l5 16l5 2l5 25l5-63l5 67l5 30l5-20l5-12l5-1l5 14l5-3l5 0l5 19l5 1l5 37l5-31l5 49l5 41l5-129l5 96l5-2l5 14l5-21l5-15l5 38l5-22l5 38l5 5l5-29l5 7l5-7l5 14l5-19l5 22l5 15l5-12l5 8l5-9l5 23l5-1l5-11l5 94l5-86l5 0l5 12l5-13l5 14l5 11l5-49l5 35l5-21l5 36l5-28l5-38l5 31l5 19l5 13l5 35l5-66l5 15l5 70l5-56" fill="none" stroke="#1E78E8" stroke-width="30" stroke-linejoin="round"/>
<path d="M11185 1198l8 0l8 19l8-10l8-24l8 14l8-3l8-22l8 19l8 11l8 0l8 14l8-13l8 2l8-20l8 37l8-42l8 31l8-69l8 49l8 2l8 0l8 10l8-5l8 16l8-33l8 18l8-9l8 17l8-29l8 18l8 5l8-17l8 25l8-7l8 7l8 0l8-86l8 68l8 6l8 10l8 1l8 78l8-93l8 3l8-59l8 60l8 1l8 22l8-26l8 2l8 7l8-14l8 6l8 4l8 8l8-21l8 26l8-17l8 5l8 7l8-2l8 4l8-9l8-2l8 4l8-13l8 22l8-20l8-5l8 33l8-22l8-10l8 30l8-22l8 14l8-19l8 6l8-15l8-2l8 9l8 13l8 5l8-32l8 14l8 20l8-2l8-9l8-14l8 0l8 7l8-4l8 12l8-7l8 19l8-11l8 1l8-37l8 40l8-6l8 0l8 0l8 12l8-3l8-5l8 5l8-14l8 11l8-14l8 22l8-13l8 1l8 5l8-17l8 8l8 14l8-10l8-11l8 14l8-22l8 34l8-18l8 2l8 22l8-48l8 26l8 5l8 5l8 6l8-18l8 9l8 4l8-9l8-118l8 155l8-51l8 2l8-17l8 23l8 16l8-24l8 23l8-8l8-5l8 20l8-32l8 4l8 6l8 35l8-36l8 12l8-2l8 2l8-16l8 6l8 5l8-4l8-1l8 4l8-8l8-1l8 4l8 12l8-11l8 20l8-18l8-30l8 6l8 40l8-17l8-4l8-5l8 22l8-3l8-3l8-3l8 11l8-7l8-20l8 20l8-6l8-3l8-37l8 38l8-29l8 44l8 4l8-20l7-3l8 6l8-15l8 16l8-6l8 26l8-33l8 3l8 18l8 2l8-17l8 3l8-8l8 16l8 9l8-33l8 28l8-33l8 18l8 52l8-62l8-2l8 17l8 7l8-4l8 9l8 5l8-1l8-17l8 42l8-37l8-3l8 16l8 3l8-16l8 22l8-40l8 4l8 8l8 0l8-44l8 13l8 36l8-19l8 4l8 21l8-3l8-50l8 55l8 18l8-34l8-15l8 26l8-8l8 11l8-153l8 143l8 79l8-68l8-14l8 1l8 2l8 7l8 1l8 10l8-55l8 49l8-19l8 12l8-4l8 16l8-12l8-10l8 10l8 37l8-31l8 9l8-30l8 37l8-26l8 8l8-21l8 1l8 9l8 0l8 10l8-19l8 16l8-58l8 43l8 19l8-19l8 13l8 0l8 14l8-24l8 8l8 9l8-22l8 11l8-8l8 49l8-34l8 1l8-12l8 18l8-1l8-14l8-2l8 28l8-47l8 39l8-23l8-31l8 33l8 3l8 14l8-16l8-25l8 28l8-10l8 12l8-1l8-16l8 28l8-28l8 18l8-13l8 2l8 1l8 14l8-19l8 10l8 18l8-23l8 7l8 7l8 21l8-23l8-11l8 13l8-6l8-10l8 23l8-15l8-8l8 0l8 4l8 23l8-16l8 9l8-24l8 34l8-9l8-10l8 2l8 12l8-18l8 7l8-5l8 18l8-7l8-21l8 16l8-17l8 22l8-4l8-84l8 73l8 46l8-34l8-9l8-2l8 10l8-14l8-2l8 2l8-7l8 38l8-26l8 11l8 0l8-29l8 8l8 12l8-10l8 30l8-80l8 60l8 9l8-32l8 8l8 13l8 1l8-11l8 15l8-2l8-16l8 13l8 12l8-32l8-4l8 35l8-12l8 21l8-34l8 11l8 7l8-5l8 6l8-3l8-8l8-17l8 14l8-51l8 68l8 6l8-55l8 40l8 53l8-47l8-4l8 4l8 13l8-26l8 98l8-103l8 25l8-16l8 4l8 2l8 15l8-17l8-4l8-7l8 15l8-12l8 4l8 5l8 7l8-14l8 13l8 11l8-32l8 29l8 7l8 8l8-23l8-20l8 17l8-6l8 6l8-12l8 1l8 3l8-2l8 1l8 4l8-30l8 30l8 6l8-28l8 26l8-10l8-4l8-2l8 5l8 1l8 11l8 53l8-46l8-19l8 15l8 4l8-10l8 10l8 11l8-26l8 11l8-7l8 2l8-3l8-3l8 13l8 1l8-9l8 16l8-5l8-3l8-15l8 27l8-6l8-35l8 11l8 6l8 10l8 7l8 6l8-16l8 5l8-20l8 19l8-9l8 5l8-3l8-11l8 2l8 10l8 1l8-4l8-18l8-5l8 14l8 9l8 1l8 1l8 13l8-7l8 6l8-5l8-5l8 9l8-13l8-37l8 30l8 11l8-4l8 7l8 14l8 6l8-14l8-10l8 8l8-6l8-8l8 5l8-1l8-4l8 20l8-19l8 0l8-17l8 15l8-4l8 3l8 13l8-106l8 104l8-8l8-4l8 18l8-23l8 12l8-11l8 9l8 3l8-38l8 10l8 43l8 6l8-17l8 5l8-15l8 6l8 6l8-6l8-6l8 52l8-44l8-16l8 29l8-11l8 22l8-33l8 26l8-2l7-13l8-20l8 15l8 13l8-43l8 29l8-4l8 11l8-6l8 6l8 1l8 12l8-15l8 1l8-40l8 49l8-53l8 41l8-22l8 17l8 6l8 20l8-15l8 2l8 1l8 5l8-25l8 3l8 48l8-42l8-1l8 4l8-11l8-4l8 6l8 30l8-27l8 31l8-9l8-29l8 22l8-22l8-3l8 21l8-7l8 5l8-12l8 16l8-4l8 34l8-32l8-7l8-7l8 23l8-40l8 40l8-17l8 7l8 4l8-21l8 2l8-1l8-74l8 53l8 45l8-13l8-14l8 17l8-27l8 22l8-2l8 20l8-19l8-35l8 31l8-1l8 84l8-70l8-19l8 11l8-13l8 109l8-92l8-14l8 83l8-103l8 40l8 2l8-11l8-9l8-6l8 24l8 6l8-10l8 12l8-21l8 1l8 20l8-26l8 16l8-2l8-2l8 22l8-33l8 5l8-17l8 10l8 6l8 1l8 2l8 5l8 18l8-3l8-16l8 2l8-62l8 50l8 26l8-8l8 1l8 30l8 31l8-77l8 42l8-39l8 91l8-89l8-1l8 10l8-19l8 35l8-31l8 39l8-24l8 48l8-62l8 5l8-30l8 25l8-5l8-21l8 36l8 1l8 9l8 0l8-5l8-10l8 11l8-21l8 11l8 14l8-7l8-22l8 8l8 15l8-3l8 5l8-29l8 5l8 11l8-8l8 10l8 0l8 4l8-5l8 7l8 2l8-6l8-14l8 25l8-36l8 27l8-2l8-18l8 22l8-12l8-6l8 25l8-16l8 6l8 6l8 7l8-34l8 11l8 48l8-79l8 5l8 35l8 0l8 6l8-6l8-6l8 6l8-2l8-5l8 8l8 1l8-14l8 21l8-2l8-1l8-35l8 28l8-2l8-9l8 16l8-21l8 28l8-9l8-9l8 19l8-9l8 14l8-32l8 18l8 9l8-3l8-24l8 27l8 2l8-7l8-13l8-11l8 6l8 3l8 9l8 3l8-14l8-9l8 3l8 0l8 27l8-26l8 18l8 3l8-18l8 52l8-44l8-12l8 4l8 11l8 9l8-30l8 20l8-2l8-6l8 6l8 1l8 0l8 9l8-18l8 27l8-8l8-15l8-14l8 19l8-4l8 12l8 0l8 12l8-21l8 10l8-13l8 1l8 19l8-17l8 1l8-3l8 7l8 3l8-7l8-11l8 15l8-26l8 19l8-7l8 14l8-6l8 20l8-9l8 12l8 5l8-38l8 7l8 8l8 7l8-14l8 2l8 14l8-20l8 11l8 14l8-19l8 11l8-9l8-23l8 18l8 4l8-2l8 4l8 3l8-1l8-1l8-6l8 2l8-2l8-2l8 20l8-33l8 21l8-19l8 27l8-2l8-11l8 17l8-24l8 7l8-4l8 7l8-4l8 0l8 4l8-6l8 7l8-1l8-4l8-15l8 3l8 4l8-26l8-31l8 74l8-11l8-5l8 4l8 12l8-3l8-26l8 49l8-3l8-36l8 22l8-16l8-6l8 8l8 16l8-13l8-2l8 19l8-9l8-6l8 20l8-14l8-12l8-3l8 7l8 6l8 7l8-1l8-7l8-13l8 21l8-8l8-12l8-1l8 14l8 1l8 5l8-20l8 1l8-7l8 17l8 14l8-3l8-20l7 16l8 6l8-5l8 54l8-45l8-33l8 17l8-11l8 6l8 1l8 8l8-17l8 15l8 10l8-49l8 23l8 18l8-12l8 4l8 4l8 4l8 16l8-4l8-21l8 0l8-6l8-13l8 37l8-8l8-67l8 61l8 24l8-19l8 0l8 41l8-53l8-4l8 3l8 10l8-4l8 10l8 10l8-11l8 2l8-12l8-9l8 35l8-15l8 5l8-64l8 70l8-5l8-35l8 20l8-3l8 7l8 6l8 4l8-33l8 31l8 93l8-96l8-11l8 57l8-58l8-8l8 13l8 32l8-23l8-8l8 11l8-6l8 17l8-17l8 1l8-9l8-5l8 5l8 77l8-67l8 1l8-7l8 3l8-11l8 2l8-20l8 12l8 8l8 31l8-39l8 14l8-4l8-13l8 19l8-2l8-15l8-9l8 23l8-14l8 22l8-10l8 8l8-8l8 19l8-9l8 9l8-64l8 38l8-4l8 9l8 8l8-9l8 31l8-25l8 5l8-4l8-13l8 48l8-29l8 3l8-19l8 10l8 0l8 12l8-26l8 21l8 6l8-17l8-4l8 6l8 5l8 9l8-4l8 4l8-13l8-26l8 41l8-20l8 13l8 14l8-3l8-20l8 12l8 2l8-72l8 100l8-39l8-9l8 24l8-24l8-7l8 11l8 7l8-1l8-4l8-1l8-18l8 29l8 11l8-25l8-11l8 26l8 71l8-93l8 7l8-51l8 47l8 32l8-10l8-12l8 2l8 16l8-27l8 19l8-15l8 18l8-9l8-9l8 18l8-5l8 13l8-23l8 6l8-6l8 17l8-20l8 7l8 4" fill="none" stroke="#00D2D2" stroke-width="34" stroke-linejoin="round"/>
<path d="M11183 7001l8 0l8 0l8 9l8 10l8-14l8-10l8-3l8 21l8 13l8 58l8-98l8 4l8 35l8-19l8 14l8-18l8-15l8 48l8 12l8-75l8 39l8-54l8 38l8 14l8 6l8 20l8-36l8-10l8 12l8-16l8-33l8 50l8-3l8-21l8 19l8-9l8-4l8 22l8-19l8 32l8-6l8-38l8 68l8-55l8 15l8 1l8-29l8 25l8-1l8 17l8-30l8 27l8-25l8 10l8-7l8-33l8 53l8 26l8-74l8-11l8 8l8 119l8-77l8 20l8-25l8 9l8-3l8 9l8-14l8 3l8 5l8-2l8-13l8 25l8-31l8 1l8 39l8-8l8-19l8-9l8-2l8 22l8-21l8-3l8 27l8-26l8 12l8 5l8-6l8 5l8 20l8-26l8-11l8 57l8-42l8-2l8 9l8-10l8-1l8-3l8 3l8 9l8-81l8 80l8 26l8-20l8-105l8 122l8-19l8-18l8 26l8-60l8 38l8 51l8-56l8 15l8 14l8-20l8 11l8 20l8-43l8 21l8-8l8-11l8 62l8-47l8 6l8-87l8 82l8 9l8-6l8 8l8-6l8-78l8 98l8-17l8-7l8 8l8-23l8 23l7 7l8-8l8 13l8-22l8-20l8 47l8-12l8-30l8 34l8-19l8-25l8 19l8 32l8-4l8-33l8 7l8 0l8-1l8-8l8 16l8 12l8-57l8 46l8-20l8 18l8-12l8 1l8-15l8 51l8-14l8-27l8 27l8 6l8-31l8 4l8 3l8 14l8-11l8-1l8 2l8 27l8 4l8-37l8-6l8 62l8-63l8 6l8 9l8-14l8 27l8-9l8-17l8-66l8 129l8-25l8-26l8-19l8 4l8 35l8-28l8-21l8 21l8 8l8 17l8-31l8 87l8-62l8 28l8-53l8 39l8-1l8-12l8-7l8 11l8-18l8 1l8-11l8 12l8-1l8 40l8-42l8-37l8 58l8 22l8-24l8-46l8 31l8 11l8-46l8 11l8 38l8-19l8-11l8 10l8-3l8 18l8-4l8-10l8-5l8 8l8 20l8-14l8 15l8-22l8 33l8-41l8 19l8-8l8-14l8-10l8 25l8-7l8 0l8 0l8 9l8 0l8 9l8-20l8 26l8-8l8-16l8 4l8 8l8-90l8 91l8 11l8-30l8-14l8 42l8-17l8 10l8-29l8 43l8-66l8 40l8-3l8 7l8-4l8-2l8-12l8 34l8-83l8 66l8 0l8-34l8 40l8-10l8-1l8 5l8-15l8 18l8-14l8-3l8 1l8 14l8 8l8-18l8-13l8 36l8-30l8 32l8-18l8-9l8 1l8 15l8 6l8-15l8 16l8 16l8-32l8-13l8 1l8-4l8 10l8-1l8-9l8 26l8-12l8 30l8 3l8-13l8-94l8 101l8 43l8-58l8-6l8-6l8 4l8-9l8 0l8 0l8 9l8-4l8 17l8-31l8 17l8 28l8-25l8-23l8 38l8 2l8-26l8-11l8 15l8-1l8-17l8 16l8-12l8-5l8 26l8-4l8-9l8-3l8 5l8 2l8 0l8 5l8-5l8 11l8 2l8-2l8-14l8 0l8 15l6 9l10-16l8-34l8-3l8 42l8-14l8-25l8-37l8 73l8-3l8-20l8 76l8-65l8 15l8 50l8-58l8 13l8-19l8 90l8-96l8 7l8 28l8-29l8 22l8-5l8-2l8 1l8-26l8 20l8-23l8 7l8 9l8-9l8 38l8-44l8 37l8-28l8-49l8 12l8 41l8 19l8-11l8-13l8 30l8-62l8 50l8-36l8 17l8-1l8 3l8 18l8 5l8-33l8 6l8 23l8-7l8-22l8-7l7 13l8-2l8 39l8 14l8-29l8-14l8 2l8-23l8 16l8 19l8-41l8 26l8 6l8-20l8-67l8 72l8 21l8-10l8-4l8 24l8 25l8-35l8-35l8 7l8 21l8 1l8-14l8 7l8 6l8-10l8-19l8 21l8-12l8-2l8 9l8 25l8-13l8-22l8 23l8-21l8 31l8-22l8 34l8-10l8-3l8-16l8-2l8-4l8-25l8 9l8 33l8-10l8-4l8 1l8-71l8 67l8-18l8 18l8-16l8 7l8 38l8-40l8 14l8-3l8-2l8 14l8-40l8-2l8-24l8 59l8 15l8-18l8 1l8-24l8 23l8-2l8-24l8 30l8-17l8 5l8 4l8-71l8 66l8-6l8 6l8 2l8-20l8 19l8-9l8-10l8 16l8 18l8-42l8-3l8 0l8 51l8-28l8-1l8-11l8-2l8-15l8 30l8-13l8-17l8 13l8 4l8 9l8 4l8 12l8-43l8 109l8-76l8-23l8 1l8 86l8-67l8-6l8-26l8 22l8 15l8-5l8-9l8-2l8-19l8 29l8 9l8 9l8-23l8-82l8 66l8 32l8 7l8-33l8 12l8 20l8 16l8 37l8-83l8 14l8-29l8-21l8-5l8 63l8 25l8-42l8-5l8-5l8 7l8-3l8 1l8 60l8-55l8 19l8-42l8 24l8-12l8-7l8-18l8 42l8 21l8-40l8 17l8-7l8 0l8-1l8 12l8-78l8 54l8 25l8-14l8 3l8-5l8 11l8-25l8 21l8 12l8-20l8 32l8-39l8-12l8 16l8-64l8 55l8 8l8 7l8 25l8-12l8 8l8-42l8 33l8-9l8 0l8-8l8-5l8 14l8-2l8 78l8-70l8-32l8 24l8-1l8 12l8 15l8-15l8 4l8-21l8 9l8 5l8-96l8 113l8-38l8-8l8 40l8 7l8-39l8 1l8-82l8 111l8-49l8 19l8 37l8-37l8-22l8 48l8-8l8-14l8-82l8 93l8-22l8-19l8 59l8-17l8-54l8 47l8 9l8 3l8-32l8 21l8 22l8-14l8-21l8 5l8-30l8 24l8 34l8-24l8-11l8 4l8 6l8 0l8-3l8-6l8 20l8 12l8-29l8 0l8 24l8-37l8 12l8-28l8 38l8-6l8 1l8-30l8 16l8-8l8-4l8 39l8-35l8 31l8 3l8 2l8-14l8-6l8 9l8-9l8-10l8 35l8-30l8 25l8-5l7-14l8 13l8-146l8 120l8-32l8 37l8 16l8 4l8 42l8-58l8 2l8 24l8-1l8-14l8-20l8 27l8-5l8 0l8 21l8-13l8-5l8-52l8 64l8-16l8 9l8-21l8-16l8 29l8 18l8-17l8-20l8 11l8-3l8 10l8-20l8 73l8-62l8 0l8 12l8-6l8-38l8 37l8 0l8-17l8 24l8-13l8-9l8 20l8-14l8-26l8 39l8-6l8-12l8 5l8 17l8-22l8 20l8-76l8 68l8 8l8-7l8-5l8-29l8 17l8-3l8 15l8 15l8-11l8-9l8 7l8 2l8-24l8-22l8 19l8-2l8 13l8-9l8 4l8 18l8-5l8-2l8 24l8-30l8 1l8 22l8-33l8-8l8 41l8-14l8 4l8 0l8 4l8-20l8-9l8 0l8 17l8 1l8-4l8 1l8 40l8-18l8-12l8-24l8 62l8-62l8 28l8 5l8-24l8-3l8 8l8 9l8 40l8-21l8-38l8 14l8-15l8 52l8-45l8-10l8-11l8 8l8 14l8 17l8-10l8-28l8 9l8 7l8-2l8-69l8 80l8-8l8-13l8-18l8 22l8 2l8 0l8 6l8-23l8 16l8-3l5 2l11 8l8-33l8 32l8 0l8-9l8-3l8 13l8 1l8-4l8-65l8 19l8 18l8-3l8 116l8-107l8 27l8 22l8-28l8-20l8 86l8-86l8-8l8 58l8-28l8-18l8 13l8 38l8-11l8-32l8-61l8 55l8-8l8 63l8-91l8 35l8-15l8 1l8 3l8 15l8 6l8 0l8 10l8-20l8 14l8 7l8-9l8-35l8 43l8-39l8 5l8 27l8-17l8 30l8-22l8-17l8 16l8-8l8 28l8 1l8-13l8-15l8 5l8 14l8-26l8 76l8-18l8-37l8-14l8-1l8-24l8 44l8-18l8-19l8 4l8 3l8 36l8 50l8-93l8 45l8-7l8-34l8-23l8 51l8-23l8 7l8-6l8 25l8 3l8-21l8-2l8 5l8 5l8-31l8 39l8-22l8 35l8-29l8 11l8 2l8 81l8-101l8-8l8 14l8-11l8 22l8-22l8 13l8 12l8 2l8-11l8 18l8-1l8 2l8-14l8-2l8-6l8-4l8 10l8 5l8-1l8 16l8-69l8 20l8 28l8 16l8-21l8 13l8 5l8 8l8-6l8 13l8-26l8 17l8 17l8-23l8 22l8-36l8-23l8 32l8 11l8-3l7-11l8 6l8 11l8-1l8 12l8-14l8-12l8 20l8-16l8 12l8 59l8-66l8 14l8-17l8 10l8 9l8-7l8 25l8-28l8 1l8 1l8-25l8 7l8 96l8-78l8 25l8 29l8-50l8 18l8-10l8 19l8-37l8 22l8 4l8-1l8 9l8-1l8-14l8 61l8-10l8 24l8-59l8 6l8-15l8-15l8 9l8 16l8-62l8 68l8-15l8 2l8-10l8 8l8 18l8-20l8-16l8 11l8 22l8-31l8 12l8 19l8 6l8-17l8 17l8 40l7-50l9 3l8-79l8 51l8 18l8 11l8 2l8 1l8 6l8 0l8-29l8 15l8-2l8 23l8-21l8 21l8-12l8 32l8-22l8-9l8-2l8 5l8-30l8 22l8-5l8 10l8-3l8-7l8 26l8 0l8-13l8 0l8-7l8 7l8-6l8 29l8 6l8 17l8-21l8-44l8 20l8 2l8 10l8 5l8-13l8 7l8-6l8 28l8-48l8 11l8 6l8 49l8-48l8 7l8-5l8 9l8 10l8-7l8 2l8-15l8-2l8 12l8 18l8 27l8-24l8-1l8 3l8-27l8 30l8-7l8 19l8-50l8 27l8-6l8 5l8-9" fill="none" stroke="#505050" stroke-width="28" stroke-linejoin="round"/>
<path d="M11183 7013l6 43l6-193l6 134l6 33l6 10l6-22l6 24l6-65l6-44l6 53l6-25l6 5l6 36l6-30l6 55l6 0l6 14l6-101l6 86l6-69l6 62l6-35l6 5l6-57l6 138l6-82l6-37l6 61l6-26l6 118l6-125l6 19l6-32l6-173l6 160l6 8l6-15l6 37l6-17l6-28l6 85l6-76l6 0l6-48l6 87l6 35l6-100l6-8l6-55l6 60l6-2l6-45l6-2l6-52l6-9l6 26l6 22l6-41l6 15l6 13l6-35l6 7l6 23l6-82l6 59l6-80l6 31l6 29l6-23l6 6l6 83l6-89l6 14l6-31l6 42l6-48l6 19l6-3l6 27l6-36l6 5l6 17l6 18l6-63l6 44l6-18l6 33l6 133l6-105l6-38l6 11l6-66l6 128l6-124l6-19l6 15l6-97l6 104l6-25l6 30l6-110l6 73l6 53l6-129l6 6l6 28l6-6l6-18l6-10l6-7l6-60l6 91l6 4l6-10l6-82l6-19l6 44l6-8l6-35l6 24l5-23l7 39l6-3l6 17l6-82l6 133l6-64l6-26l6 33l6-40l6 42l6 26l6-7l6 16l6 16l6 15l6-44l6 33l6-19l6-47l6 50l6 6l6 1l6-11l6-2l6 103l6-82l6-22l6 105l6-181l6 109l6 22l6-31l6 40l6-5l6-18l6-50l6-2l6 40l6 10l6-188l6 176l6 50l6 134l6-191l6-32l6 9l6 12l6-19l6 104l6-83l6 57l6-51l6 0l6-5l6-2l6-21l6-23l6 23l6 20l6-3l6 16l6-19l6-35l6 54l6-88l6-47l6 136l6-62l6 6l6-3l6 13l6 2l6 4l6 21l6-18l6-43l6-31l6 69l6 63l6-48l6-135l6 148l6-66l6 19l6-16l6 84l6 1l6-143l6 117l6 18l6 1l6-76l6-93l6 131l6 7l6-26l6 77l6-33l6 166l6-153l6-22l6-33l6 18l6-18l6-88l6 61l6 53l6-9l6-6l6-48l6 13l6 120l6-89l6-50l6-83l6 135l6 86l6-19l6-135l6-1l6 64l6-23l6-45l6-29l6 126l6-49l6-15l6-14l6-86l6 14l6 52l6-18l6 1l6 107l6-142l6 32l6-32l6 8l6 13l6 6l6 33l6 13l6-76l6 41l6 88l6-48l6-48l6-34l6 99l6 2l6-41l6 115l6-106l6 104l6-4l6-95l6 127l6-74l6-5l6 66l6-116l6 91l6-35l6 122l6-71l6 24l6-28l6-47l6 22l6 8l6 52l6-31l6 26l6 33l6-91l6 115l6-68l6-56l6 35l6 73l6-57l6 35l6-107l6 140l6-68l6-53l6 64l6-24l6 42l6-80l6 20l6-110l6 191l6-234l6 142l6-38l6 129l6-72l6-149l6 115l6 46l6-27l6 34l6-193l6 136l6 2l6 94l6-60l6 208l6-268l6 113l6 9l6 49l6-77l6 154l6-133l6-21l6-90l6 91l6 7l6 30l6 6l6-11l6 24l6-53l6 15l6 23l6 21l6-63l6 90l6-29l6-24l6 30l6 157l6-182l6-10l6 88l6-17l6 183l6-168l6-3l6 158l6-170l6 53l6 41l6-94l6 22l6-63l6 10l6-6l6 27l6-44l6 117l6-51l5 7l6-32l6 39l6-29l6-1l6 4l6 5l6-29l6-4l6 82l6 47l6 75l6-215l6 51l6 36l6-84l6 35l6 15l6-25l6 3l6 56l6-42l6-1l6 68l6-76l6 64l6-21l6 19l6-34l6 2l6-49l6 9l6 139l6 8l6-105l6-38l6-18l6-22l6 20l6 84l6-74l6 7l6 34l6-2l6-20l6 12l6-16l6 52l6-57l6-11l6 0l6-6l6-44l6 48l6 3l6 9l6 4l6-16l6 46l6-21l6-99l6 119l6-36l6-22l6 2l6-39l6 101l6-78l6 15l6-7l6 53l6-10l6 16l6-57l6 7l6 15l6 76l6-73l6-10l6 38l6 47l6-307l6 238l6 46l6-17l6-81l6 107l6-15l6-8l6 76l6-196l6 131l6-14l6 10l6-162l6 315l6-241l6 95l6-17l6-38l6 74l6-81l6 16l6 27l6-45l6 100l6-60l6-9l6 6l6 24l6 53l6-81l6 85l6-67l6-11l6-38l6-7l6 53l6 7l6 1l6-10l6 16l6-45l6-32l6 149l6-112l6 17l6 14l6-53l6 28l6 2l6-4l6 31l6 5l6-115l6 56l6 142l6-141l6 2l6 6l6-3l6 127l6-176l6 55l6 71l6-58l6 2l6-10l6-16l6 64l6-82l6-9l5 18l7 17l6 59l6-88l6 107l6-118l6 45l6-54l6 120l6-6l6-102l6-14l6 106l6-56l6 20l6-2l6 0l6 15l6-9l6-9l6 0l6 32l6-31l6 24l6 31l6-34l6 26l6-149l6 190l6-59l6 5l6-3l6 29l6 31l6-100l6 42l6-50l6 47l6 40l6-37l6 25l6 42l6-15l6-17l6-113l6 73l6 20l6 41l6-22l6-15l6 109l6-105l6 20l6 74l6-76l6-18l6-38l6 50l6 27l6 6l6 80l6-29l6-29l6-19l6-22l6 66l6 17l6-120l6 105l6-8l6-28l6-42l6 75l6-66l6 113l6-96l6 62l6-36l6 10l6 35l6-209l6 314l6-362l6 245l6 7l6-16l6 2l6-57l6-4l6 51l6-47l6 61l6-45l6 65l6-16l6-6l6-12l6-10l6 157l6-98l6-29l6 21l6-21l6-2l6 35l6-37l6-60l6-52l6 124l6 1l6-18l6 35l6-32l6 29l6-12l6 46l6-41l6 5l6-10l6-36l6 31l6 80l6-25l6-87l6 6l6-95l6 146l6 6l6 37l6-65l6 41l6 7l6-51l6 34l6-7l6 25l6-23l6-230l6 329l6-69l6-50l6 1l6 38l6-59l6 37l6-18l6-56l6 63l6 24l6-30l6-52l6-14l6 355l6-293l6 10l6 19l6-13l6-74l6 68l6 188l6-149l6-50l6-13l6 50l6-69l6 29l6-5l6-54l6 99l6-12l6-27l6 55l6-44l6 21l6 19l6 21l6-38l6-35l6 37l6-88l6 83l6-4l6-43l6 104l6-144l6 133l6-70l6 34l6-13l6-6l6-19l6-6l6 32l6-56l6 78l6-50l6 31l6-49l6 49l6-20l6 13l6-32l6 8l6-34l6 57l6 35l6-83l6 57l6-19l6 11l6 25l6-145l6 140l6 72l6-76l6-118l6 78l6-43l6 134l6-79l6-33l6-20l6 47l6 43l6-45l6-7l6 18l6-30l6-9l6 35l6-49l6 69l6 71l6-97l6 96l6-61l6 15l6-61l6 180l6-152l6-77l6 76l6-6l6 8l6-57l6 69l6-5l6-33l6-49l6 52l6-36l6-22l6 160l6-44l6-116l6-46l6 95l6 22l6-59l6 34l6 21l6-20l6 56l6-100l6 31l6 30l6-24l6-38l6-107l6 82l6 33l6-23l6 72l6-15l6-93l6 34l6 97l6-21l6 36l6-131l6 78l6-24l6 43l6-4l6-70l6 40l6-9l6-128l6 116l6 10l6 18l6-47l6-16l6 101l6-18l6-4l6-19l6-50l6-24l6 27l6 31l6 29l6-182l6 243l6-84l6-79l6 68l6-15l6-17l6-109l6 162l6-78l6 53l6-44l6 31l6 51l6-35l6-3l6 23l6-12l6 170l6-231l6-67l6 112l6-11l6-65l6 89l6 25l6-16l6 91l6-168l6 32l6 50l6-115l6 81l6-19l6 36l6 17l6-52l6-2l6 31l6 6l6-16l6 38l6-37l6-36l6 121l6-54l6-65l6 42l6-26l6 58l6-8l6 0l6-20l6-36l6 34l6-27l6 36l6 22l6-10l6-15l6-62l6 33l6 6l6 2l6-65l6 102l6 2l6-2l6-41l6 24l6 23l6 9l6-43l6 107l6-96l6 32l6-6l6-20l6-7l6 16l6-114l6 132l6 12l6-22l6 35l6-46l6 72l6-60l6 12l6-52l6 24l6 20l6 6l6-47l6 38l6-9l6 19l6-45l6 67l6-60l6 32l6 92l6-40l6 4l6-11l6 29l6-68l6 58l6-86l6 22l6-50l6-22l6 58l6 7l6-43l6 27l6 61l6-35l6-110l6 111l6 11l6 57l6-55l6 17l6-48l6-1l6 2l6 129l6-92l6-101l6 130l6-43l6 13l6-43l6 26l6 84l6-98l6 59l6-62l6-2l6 85l6-152l6 80l6 31l6 44l6-93l6 99l6-78l6-43l6 177l6-133l6 31l6-96l6 54l6 5l6 19l6 136l6-172l6 82l6-32l6 40l6-51l6 15l6 20l6-11l6 7l6 14l6-27l6-101l6 109l6-32l6 49l6-66l6 3l6 133l6-72l6-38l6-27l6 18l6 29l6 52l6-207l6 141l6-63l6 185l6-109l6-38l6 36l6-97l6 44l6-8l6 30l6-27l6-5l6 15l6-30l6 93l6-18l6 47l6-108l6 21l6-71l6 52l6 24l6-2l6-49l6-35l6 90l6-52l6 96l6-16l6-78l6 19l6 76l6-68l6-98l6 153l6-36l6-75l6 60l6 73l6-181l6 178l6-107l6 38l6-22l6 11l6-27l6 12l6 58l6 5l6-66l6-20l6 20l6-95l6 103l6-65l6 87l6-31l6-49l6 60l6-10l6 23l6-13l6 34l6-127l6 31l6-1l6 98l6-87l6 2l6 12l6-17l6 23l6-92l6 104l6 71l6-94l6-118l6 166l6 28l6-210l6 134l6-88l6 15l6-50l6 78l6 32l6-73l6 83l6-122l6 1l6-23l6 86l6-72l6 14l6-21l6 18l6-13l6 25l6-13l6 31l6-67l6 42l6 2l6 99l6-54l6 38l6-78l6 17l6 29l6-17l6 71l6-21l6 20l6 23l5-16l6 25l6-42l6-35l6-18l6 33l6 10l6-1l6-21l6-30l6 20l6-13l6 88l6-79l6-19l6-32l6-20l6 63l6-151l6 137l6-17l6 35l6 50l6-24l6-109l6 84l6 22l6-15l6 0l6 1l6 124l6-68l6-126l6 162l6-11l6-125l6 146l6-21l6 59l6 7l6-14l6-40l6-20l6 39l6-36l6 68l6-3l6-11l6 76l6-51l6-22l6-5l6-5l6 151l6-93l6-83l6 80l6-37l6-7l6-47l6 37l6-27l6-33l6 83l6-13l6-21l6 154l6-188l6 1l6 36l6-112l6 132l6 9l6 58l6-149l6 11l6 14l6-72l6 36l6 8l6 52l6-117l6 128l6-162l6 95l6 38l6 63l6-18l6-71l6-66l6 236l6-209l6 99l6 94l6-116l6 44l6-2l6-182l6 180l6 22l6-19l6-61l6 97l6-47l6 20l6 119l6-135l6 70l6-109l6 7l6 9l6 49l6 2l6-38l6 38l6-18l6 23l6 5l6-5l6-19l6 10l6 21l6-79l6 74l6-8l6-22l6 42l6-6l6-39l6-45l6 119l6-189l6 153l6-5l6 20l6-10l6-31l6 57l6-42l6 30l6 15l6 6l6-32l6 18l6-21l6 7l6-71l6 129l6-75l6 86l6-27l6-50l6 122l6-153l6 27l6 133l6-140l6-22l6 42l6 8l6-21l6 44l6-15l6-113l6 73l6-30l6 35l6-15l6 5l6 29l6 77l6-105l6 132l6-134l6 3l6-25l6-32l6 50l6-42l6 62l6-24l6-96l6 115l6-38l6 6l6-38l6 24l6-2l6 10l6-5l6 44l6-12l6-2l6 77l6-87l6 24l6-7l6 1l6-25l6-28l6 94l6-43l6 20l6-32l6 32l6-2l6 1l6 3l6-43l6 30l6-18l6 147l6-187l6 244l6-199l6 22l6-2l6-56l6 44l6 49l6-59l6-54l6 110l6 25l6-217l6 168l6 21l6-3l6 15l6-6l6-50l6 46l6-32l6 33l6-23l6 43l6 0l6-12l6-33l6 34l6-44l6 8l6 145l6-124l6-10l6 42l6-94l6 97l6-42l6 55l6 123l6-204l6 49l6-46l6 31l6 40l6-26l6 37l6-28l6 4l6 27l6-13l6 84l6-80l6-4l6-77l6 10l6 33l6 30l6-55l6 58l6-139l6 99l6 48l6-114l6 94l6-5l6-99l6 49l6 23l6 18l6-10l6-40l6 45l6 49l6-5l6-166l6 91l6 40l6-19l6 29l6-44l6 27l6-34l6-12l6-148l6 173l6 22l6-16l6-47l6 30l6 71l6-73l6 116l6-40l6-35l6-29l6 7l6 5l6-31l6 106l6-62l6-90l6 179l6-34l6-62l6 15l6 16l6-88l6 120l6-53l6-15l6 86l6-143l6 88l6 27l6-52l6 54l6-27l6-60l6 58l6-77l6 5l6 76l6-2l6 54l6-73l6-42l6 77l6-31l6-4l6 115l6-131l6 117l6-32l6-50l6-23l6 62l6-50l6-19l6 14l6 12l6 28l6 12l6-75l6 46l6-27l6 6l6-64l6 128l6-31l6-54l6 32l6 36l6-28l6-90l6 99l6-9l6 5l6 1l6 23l6-55l6 100l6-44l6-57l6 31" fill="none" stroke="#1E78E8" stroke-width="30" stroke-linejoin="round"/>
<path d="M11183 6437l6 37l6-17l6-19l6 13l6 160l6-126l6-133l6 141l6-57l6 44l6-4l6-8l6-31l6-119l6-36l6 143l6 26l6-43l6-71l6 73l6 77l6-60l6 46l6-3l6-9l6-72l6 56l6 17l6-2l6-55l6 26l6-21l6-1l6 50l6-15l6-30l6 21l6-50l6 8l6 46l6-223l6 126l6 33l6 32l6-93l6 66l6-28l6-29l6-11l6 41l6-95l6 62l6-107l6 49l6 59l6-26l6 20l6-33l6-13l6 25l6-23l6 15l6-41l6-83l6 108l6 30l6 5l6-75l6 197l6-144l6-82l6-27l6 79l6 39l6-175l6 122l6-3l6 1l6 51l6-61l6 32l6-14l6-16l6-5l6-30l6 31l6-15l6 45l6-17l5-22l7 34l6-70l6 35l6-138l6 157l6-131l6-36l6 0l6-22l6 40l6-94l6 84l6 50l6-128l6 28l6 54l6-55l6 24l6-69l6 16l6-18l6-59l6 17l6-11l6-42l6 27l6-45l6 99l6-62l6 2l6 10l6-4l6-50l6 32l6 111l6-178l6 144l6-72l6 81l6-143l6 156l6 44l6-167l6 155l6-56l6 28l6 0l6 6l6-15l6 68l6-66l6 43l6-16l6-6l6 3l6 74l6-46l6 31l6 80l6-317l6 189l6-10l6 14l6-14l6-1l6 77l6 110l6-185l6-25l6 16l6 56l6-18l6-89l6 187l6-169l6-79l6 114l6-18l6-7l6-20l6 25l6-33l6 58l6-35l6-52l6 74l6-59l6 21l6-12l6-16l6-5l6 31l6-30l6 58l6-89l6 35l6-59l6 66l6-63l6 43l6 41l6 2l6-39l6 28l6 9l6 2l6 4l6-40l6 61l6-82l6 64l6-118l6 121l6 101l6-135l6-23l6-15l6-59l6 82l6 31l6 27l6 64l6-150l6 5l6 62l6-8l6 10l6-26l6-18l6 87l6-40l6-54l6 63l6-28l6 10l6-50l6-22l6 43l6-36l6 184l6-192l6 28l6-7l6 45l6-109l6 63l6-36l6-4l6-49l6 24l6 30l6-31l6-1l6-187l6 207l6-41l6 0l6-32l6-45l6-44l6 76l6 44l6-125l6 43l6 1l6-81l6 123l6 5l6 180l6-194l6 62l6 150l6-151l6-29l6 82l6-55l6 62l6-63l6 43l6 12l6 15l6 40l6 21l6-56l6 46l6-4l6-81l6 94l6 95l6-83l6-26l6 32l6 11l6 50l6 7l6-26l6 20l6-20l6 13l6-34l6 101l6-19l6-3l6-15l6-12l6 104l6-44l6-72l6 6l6 43l6-127l6 77l6-50l6 76l6 20l6-34l6-14l6-14l6-24l6 30l6 27l6-39l6 4l6-1l6 9l6-52l6 39l6-20l6 51l6-51l6 40l6 27l6-97l6 31l6 23l6-33l6 3l6 46l6-88l6 71l6 4l6-23l6 43l6-44l6 19l6 61l6-63l6 62l6 4l6-24l6 12l6 44l6-62l6-9l6 99l6-76l6 46l6 124l6-192l6 5l6 13l6 11l6 3l6 15l6 5l6-16l6 10l6 10l6-6l6 262l6-195l6-34l6 67l6-126l6 66l6 33l6-78l6 73l6 0l6-21l6-31l6 33l6-5l6 44l6 53l5-56l6-26l6-7l6 38l6 1l6-25l6 42l6-33l6-187l6 262l6 5l6-32l6-11l6 6l6-10l6 23l6 138l6-200l6 65l6-137l6 115l6 143l6-207l6 26l6 27l6 4l6-26l6-11l6 24l6-45l6 6l6 50l6-13l6-73l6 95l6 15l6-264l6 190l6 0l6-27l6 107l6-67l6 34l6-70l6-10l6 80l6-66l6 43l6-65l6 71l6-20l6-39l6 40l6-19l6-75l6 169l6-99l6 83l6-85l6-6l6 40l6 30l6-71l6 48l6-17l6-8l6 57l6 24l6-1l6-66l6 37l6-17l6-13l6 42l6-21l6 88l6 9l6-88l6-104l6 112l6-111l6 221l6-107l6-49l6 74l6-50l6 91l6-56l6 11l6-41l6 39l6-23l6-10l6 47l6-34l6 5l6 41l6-39l6 38l6-9l6-27l6-27l6 113l6-64l6-44l6 57l6 7l6-1l6 57l6-86l6-14l6 16l6-11l6 212l6-149l6-55l6 46l6-67l6 89l6-147l6 119l6-75l6 115l6-91l6 23l6-38l6 105l6-79l6 41l6-38l6 15l6-62l6 44l6 10l6-3l6-22l6-66l6 86l6 0l6 104l6-49l6-61l6 33l6 167l6-217l6-5l6 19l6-30l6-31l6 57l6-9l6 4l5 26l7-38l6 15l6-7l6 26l6-5l6-38l6-68l6 73l6-33l6 87l6-68l6 92l6-33l6 5l6-5l6 4l6-16l6 112l6-94l6 21l6-36l6 118l6-73l6-6l6-7l6 33l6-64l6 66l6 14l6-15l6 6l6-7l6-8l6-10l6 36l6-3l6 42l6-25l6 23l6 42l6-63l6-50l6 79l6-30l6-67l6 90l6-52l6 53l6 35l6 6l6-46l6 23l6 48l6-1l6-48l6 0l6-27l6 20l6 38l6 2l6-34l6-83l6 36l6 145l6-36l6-1l6 19l6-17l5 2l7 2l6-39l6-18l6 69l6-18l6 131l6-177l6 42l6-5l6 24l6-70l6 59l6 39l6 44l6-86l6 19l6 25l6-104l6 81l6 22l6 6l6 32l6-15l6-23l6 1l6 17l6-38l6 16l6 30l6 81l6-109l6 5l6 83l6-127l6 50l6 46l6-57l6 11l6 1l6 32l6 9l6-75l6 20l6 39l6-87l6 35l6 78l6-14l6 0l6-28l6 52l6-45l6 41l6 49l6-107l6 33l6-27l6 42l6-12l6-36l6 31l6-13l6 39l6-66l6 26l6 172l6-181l6 7l6 19l6-21l6-37l6 91l6-62l6 33l6-2l6-26l6-24l6 183l6-84l6-71l6 19l6 11l6 37l6-52l6 25l6-32l6 7l6-19l6 65l6-35l6-112l6 103l6 5l6 28l6-28l6-23l6 19l6 87l6-47l6-97l6 143l6-79l6 136l6-145l6 70l6-45l6 5l6-36l6 73l6 9l6-51l6 4l6-82l6 79l6-25l6 19l6 7l6-31l6 28l6-8l6-34l6 12l6 27l6-28l6 62l6-16l6 37l6-131l6 116l6-20l6-94l6 263l6-246l6 29l6 9l6-63l6 70l6-56l6 54l6-30l6 11l6 7l6-15l6-2l6-38l6-61l6 171l6 4l6 35l6-90l6-26l5 27l7-10l6-1l6-7l6 155l6-161l6 213l6-235l6 21l6-61l6 68l6-6l6 23l6 4l6-55l6 26l6 90l6-77l6 41l6-5l6-15l6-30l6-19l6 53l6-41l6 128l6-144l6 64l6-32l6 23l6-15l6-6l6-32l6-12l6 35l6-44l6 126l6-29l6-117l6 81l6-12l6-18l6 38l6-55l6 146l6-164l6-6l6 68l6-29l6-34l6-41l6 78l6-26l6 12l6-9l6-12l6 7l6-71l6 39l6 37l6-1l6-58l6 37l6-4l6 12l6-49l6 88l6-47l6-41l6-50l6 91l6-13l6 22l6-186l6 142l6 20l6 48l6-55l6 13l6-91l6 44l6 15l6-13l6 125l6-159l6 39l6 12l6-99l6 68l6 13l6-51l6-25l6 84l6 78l6 13l6-149l6 38l6 36l6-9l6-1l6-45l6 44l6-38l6-19l6 10l6 66l6-39l6-103l6 79l6 41l6-48l6 12l6-49l6-21l6 55l6 11l6 11l6-25l6-129l6 88l6 42l6 7l6 7l6 29l6-31l6 17l6-55l6 63l6 28l6-25l6-13l6 0l6 52l6-62l6 52l6-21l6 12l6-32l6 25l6-15l6 15l6-4l6-68l6-39l6 69l6 146l6-96l6 92l6-111l6-2l6 8l6 69l6 64l6-37l6-68l6 27l6-19l6-2l6-30l6-15l6 70l6-34l6 121l6-117l6-27l6 28l6 12l6 16l6-26l6-31l6-50l6 90l6-7l6-18l6-3l6 28l6-46l6-9l6-16l6 70l6-78l6 104l6-84l6-15l6-30l6 58l6-38l6-35l6-40l6 153l6-48l6 27l6 9l6-38l6 31l6-11l6-14l6 3l6 12l6-1l6-10l6 6l6 47l6-26l6 21l6 11l6-17l6 52l6-92l6-7l6 25l6 66l6 60l6-172l6 26l6 55l6 5l6-1l6-23l6 17l6-70l5 58l7 33l6-97l6 168l6 15l6-84l6-34l6-19l6 39l6-37l6 1l6 56l6-27l6 17l6-153l6 136l6-43l6 50l6-3l6 22l6 15l6-41l6 4l6 58l6-47l6-27l6 59l6-42l6 27l6 112l6-113l6 2l6-23l6 75l6-50l6-120l6 138l6-48l6 9l6 65l6-104l6 156l6-114l6 3l6 89l6-134l6 63l6-33l6 1l6 15l6 15l6-51l6-10l6-60l6 52l6-27l6 136l6-96l5 55l7-90l6 89l6 85l6-100l6 17l6 33l6-48l6 99l6-138l6 44l6-27l6 31l6-29l6 22l6-84l6-25l6 107l6-39l6-15l6 14l6-36l6 43l6 68l6-41l6-70l6 5l6 12l6 41l6-42l6-47l6 79l6-3l6-39l6-24l6 148l6-93l6 12l6-19l6-43l6 31l6 40l6-26l6-75l6 55l6 3l6-72l6-2l6 20l6-50l6 86l6-210l6 94l6 48l6-4l6 6l6-2l6-103l6 118l6-104l6 88l6-27l6-9l6-3l6-39l6-43l6 28l6 151l6-151l6 76l6 3l6-119l6 48l6-92l6-2l6 75l6-19l6-15l6 4l6-17l6-32l6 30l6 29l6-14l6 43l6-17l6 30l6 57l6 105l6-115l6-149l6 152l6 3l6 4l6 40l6-47l6 82l6-31l5-15l6 30l6 13l6 10l6-18l6 24l6-12l6-42l6 48l6 10l6 16l6-24l6 110l6-118l6 20l6-12l6 49l6-7l6 34l6-40l6 13l6 7l6 9l6 10l6-35l6-11l6 36l6-28l6 40l6-3l6-15l6 96l6-78l6-2l6 21l6 21l6-16l6-15l6-43l6 24l6 35l6-9l6-36l6 14l6 7l6-86l6 10l6 54l6-82l6 45l6 45l6-86l6 51l6 12l6-23l6-50l6 50l6-3l6-7l6-59l6 47l6-26l6 5l6 18l6 8l6 3l6-47l6-75l6 116l6-6l6-20l6-28l6-6l6 25l6-70l6 46l6-17l6 9l6-36l6 30l6 31l6 48l6-178l6 143l6 142l6-155l6 42l6-5l6-6l6 99l6-82l6 11l6-26l6-13l6 0l6 229l6-164l6-88l6 110l6 23l6-41l6 81l6-73l6 23l6 16l6 21l6 5l6 4l6 11l6-17l6-64l6 43l6 14l6-20l6 40l6-37l6-74l6 130l6-22l6-13l6 23l6 5l6-21l6-17l6-11l6 7l6 46l6-24l6 31l6 157l6-263l6 69l6-9l6-22l6 90l6-45l6-26l6 45l6-37l6-12l6 34l6 19l6-41l6-77l6 130l6 53l6-105l6 31l6-9l6-1l6 26l6 13l6 51l6-13l6-52l6-52l6 27l6-1l6 21l6-33l6 16l6 10l6-44l6-53l6 5l6-11l6 87l6-77l6 47l6-11l6-109l6 74l6 4l6-7l6 5l6 12l6-53l6 27l6 46l6-103l6 55l6-38l6 29l6 16l6-31l6 22l6-69l6 85l6-48l6 41l6-8l6-81l6 58l6-40l6 117l6 79l6 53l6-211l6 15l6 89l6-19l6-35l6-38l6 79l6 58l6-56l6-37l6 124l6-127l6 68l6-25l6-9l6 18l6-23l6 34l6 3l6 2l6-86l6 85l6-20l6 78l6-91l6-18l6 3l6 16l6 84l6-36l6 8l6-1l6-54l6 133l6-59l6-28l6-7l6 62l6-61l6-23l6-4l6 122l6-71l6-50l6 13l6 47l6 2l6-36l6 39l6-91l6 21l6 45l6 23l6-28l6-46l6 114l6-26l6-39l6 34l6 64l6-111l6 41l6 32l6-7l6-24l6-39l6 53l6-41l6-54l6 160l6-64l6 33l6 19l6-236l6 208l6-1l6-48l6 26l6-31l6-115l6 68l6 53l6-32l6 24l6 1l6 99l6-254l6 156l6-80l6 57l6 13l6-125l6 97l6 28l6 139l6-128l6 45l6-72l6 29l6-34l6-77l6 66l6 80l6-35l6 5l6-36l6 42l6-32l6-33l6 51l6-1l6 10l6-163l6 132l6-40l6 24l6-16l6 96l6-82l6 13l6 28l6 62l6-100l6-5l6 51l6-52l6 54l6-25l6-32l6-15l6 90l6-65l6 47l6 52l6-33l6-78l6 36l6-12l6 158l6-197l6 24l6 34l6-8l6 22l6-27l6 68l6-92l6 29l6 7l6-53l6 77l6-69l6 44l6-18l6-30l6-18l6 34l6-46l6 83l6-3l6-38l6-10l6 36l6 108l6-87l6 49l6-169l6 87l6-4l6-21l6-2l6-3l6 18l6-1l6 35l6-96l6 65l6-29l6 26" fill="none" stroke="#F23C3C" stroke-width="30" stroke-linejoin="round"/>
<path d="M11183 6076l6-27l6-4l6 40l6-78l6 64l6-26l6 53l6-1l6 10l6-22l6-28l6 25l6 16l6 59l6-92l6-22l6 41l6-71l6 13l6 17l6-6l6 69l6-72l6-18l6-25l6 18l6 9l6-66l6 94l6-80l6-49l6 57l6 39l6-67l6 54l6-7l6 27l6-163l6 30l6 65l6-102l6 48l6-44l6 32l6-8l6 19l6-23l6-46l6-136l6 115l6 29l6-45l6 71l6 13l6-71l6 14l6 35l6-38l6-30l6 1l6-56l6 170l6-136l6 23l6-30l6-31l6 21l6 28l6 119l6-104l6-61l6 22l6 70l6-102l6 28l6 28l6-34l6-40l6-46l6 130l6 86l6-127l6-56l6 168l6-145l6-32l6-18l6 35l6 53l5-20l7-117l6 19l6 4l6-57l6 25l6 2l6-44l6-217l6 177l6 136l6-193l6 22l6-19l6 2l6-22l6-46l6-25l6 34l6-61l6-2l6-98l6 113l6-73l6 46l6-78l6 3l6 34l6 104l6-176l6 51l6 55l6-179l6 165l6 62l6-26l6-13l6-10l6 34l6-45l6 66l6-141l6 104l6 24l6 20l6 27l6-20l6 36l6 2l6-33l6 2l6 65l6-12l6-13l6-10l6 41l6-49l6 17l6-35l6 59l6-110l6 96l6 34l6-58l6-2l6 65l6-104l6 57l6-65l6 43l6 52l6-89l6-6l6 91l6-72l6-14l6 12l6-54l6 66l6 15l6-29l6-17l6-19l6-50l6-48l6 87l6 8l6-72l6 69l6-21l6-1l6 0l6 10l6-73l6 17l6 24l6-6l6 6l6-15l6 50l6 14l6 10l6 15l6-9l6-55l6-1l6 10l6 32l6-17l6 38l6 23l6-59l6 46l6-38l6 11l6-30l6 32l6-43l6 75l6 34l6-53l6 254l6-189l6-33l6 0l6-11l6 70l6-45l6 36l6-111l6-4l6 104l6-35l6 81l6-73l6 17l6-39l6 118l6-169l6 4l6 60l6-112l6 12l6 56l6-33l6-42l6-23l6 50l6 15l6-19l6-20l6-1l6-18l6-101l6 138l6-106l6 26l6-6l6 37l6-24l6-42l6-53l6 56l6-4l6-2l6-55l6 27l6-41l6 5l6 4l6 51l6-60l6 48l6-20l6-141l6 166l6 27l6-50l6 43l6 66l6 91l6-82l6-16l6 64l6-38l6 56l6-15l6 35l6-32l6 14l6 66l6-87l6 109l6-43l6 70l6-62l6 53l6-42l6 188l6-143l6 66l6-73l6-23l6 49l6-48l6 47l6-30l6-76l6 53l6-15l6-28l6 46l6-94l6 8l6 15l6 31l6 20l6-78l6-76l6 31l6 30l6-30l6 13l6 15l6-44l6-6l6-11l6-3l6-25l6 21l6 48l6-21l6 133l6-113l6 47l6-50l6 46l6 113l6-89l6 51l6-90l6 32l6 49l6-24l6 35l6 61l6-11l6 13l6-7l6-8l6 102l6-97l6 7l6 46l6 18l6 113l6-151l6 84l6-171l6 88l6 46l6 18l6-11l6-2l6 22l6-10l6 11l6 12l6-58l6 105l6-93l6 64l6 0l6-2l6-20l6 56l6-15l6 2l6-46l6 40l6-7l6-15l6 122l6-58l6 79l6-89l5 48l6-67l6 43l6 48l6-36l6 5l6-5l6 43l6-73l6 1l6-11l6 77l6-62l6-40l6 58l6-50l6-20l6 28l6 96l6-40l6 14l6-39l6 25l6-21l6-36l6 67l6-27l6 7l6-85l6 28l6 52l6-3l6 21l6-45l6 72l6-45l6-9l6-43l6-38l6 101l6-36l6 13l6-42l6 5l6 121l6-196l6 64l6-30l6 37l6 75l6-77l6 24l6-74l6 49l6-6l6 25l6-22l6-11l6 34l6 28l6-11l6-18l6 13l6-55l6-94l6 188l6-107l6 52l6 23l6 19l6 48l6-76l6 9l6 50l6-22l6 135l6-87l6-30l6-18l6-53l6 79l6-10l6-12l6 97l6-60l6-14l6-13l6 26l6 137l6-78l6-44l6-18l6-43l6 95l6-22l6-13l6-138l6 68l6 240l6-144l6-29l6 20l6-11l6 83l6-78l6 23l6-39l6 30l6-43l6 7l6-3l6 47l6-36l6 46l6-68l6 41l6-46l6 67l6-55l6 34l6-35l6-3l6 30l6-59l6 120l6-25l6-1l6-21l6-51l6-92l6 125l6 17l6-27l6-9l6 34l6-49l6 44l6-13l6-41l6 112l6-46l6-45l6-31l6 29l6-26l5 38l7-34l6 47l6 29l6 32l6-54l6-11l6 50l6-56l6-86l6 93l6-94l6 133l6-101l6-77l6 37l6 8l6-25l6 66l6 14l6 75l6-153l6 138l6 5l6 41l6 6l6-155l6 147l6-61l6 20l6 18l6-35l6-1l6 34l6-23l6 16l6-34l6 43l6-25l6 49l6-13l6-1l6 23l6 98l6-109l6-40l6 0l6 72l6-10l6 1l6 30l6-25l6-31l6 84l6-21l6-31l6 22l6 4l6-5l6-30l6 48l6 0l6 70l6 14l6-51l6-7l6 13l6 3l6 15l6 7l6-56l6 77l6-31l6-19l6-24l6 3l6 55l6-29l6 2l6 140l6-101l6-12l6 69l6-49l6-4l6-24l6 107l6-32l6 3l6-46l6 101l6-114l6 71l6-120l6 149l6-123l6 154l6-73l6-13l6 43l6-143l6 106l6-67l6-17l6 158l6 6l6 61l6-121l6-52l6 53l6 10l6-3l6 20l6-76l6 16l6 15l6 19l6 36l6-52l6 25l6 232l6-255l6 74l6-62l6 57l6-10l6-54l6-2l6 1l6-10l6 9l6 7l6-22l6 87l6-38l6-43l6 25l6-14l6-6l6 26l6 37l6-75l6 58l6-57l6 42l6-6l6-65l6 54l6 84l6-37l6-29l6-31l6 53l6 69l6-73l6 101l6-125l6 6l6 59l6-31l6 27l6 17l6-51l6-53l6 119l6-128l6 8l6 70l6 76l6-84l6-56l6 31l6 15l6-39l6-32l6 53l6 153l6-157l6-155l6 215l6-43l6-23l6-41l6 45l6-27l6 14l6-8l6 83l6-88l6-42l6 30l6 29l6 80l6-209l6 114l6 9l6-37l6 102l6-94l6 38l6-36l6 107l6-73l6-43l6 4l6-28l6 78l6-35l6-49l6 50l6 54l6-19l6-82l6 61l6-47l6-155l6 147l6 65l6-13l6-25l6 1l6 69l6-82l6-18l6-143l6 198l6 19l6-29l6-9l6 7l6 30l6-29l6 22l6-70l6 68l6-17l6 63l6 103l6-123l6-97l6 187l6-35l6-110l6 19l6 51l6-31l6-15l6 22l6-45l6 18l6 1l6 54l6-49l6 53l6 45l6-116l6-45l6 68l6-144l6 56l6 92l6-20l6-80l6 88l6 17l6-69l6 27l6-70l6 46l6 49l6-81l6-80l6 115l6-30l6 19l6-57l6-26l6 70l6 36l6-64l6 43l6-67l6 49l6-1l6-152l6 193l6-32l6 53l6-91l6 83l6 25l6-90l6 156l6 21l6-210l6 74l6-57l6-14l6 40l6-56l6 108l6-99l6 12l6 146l6-120l6 33l6-45l6 70l6-57l6-85l6 104l6-47l6 28l6 59l6-11l6-79l6 69l6-46l6-29l6 17l6-8l6 56l6-33l6 17l6 63l6-127l6 36l6 39l6 31l6-84l6 21l6-43l6 33l6 47l6-36l6-52l6 24l6 10l6 10l6-7l6-36l6 15l6 34l6-66l6 30l6 54l6-26l6-14l6 34l6-96l6 38l6-12l6 73l6-43l6-25l6-18l6 38l6 21l6-6l6-50l6 29l6 29l6 58l6-79l6-17l6 46l6-48l6 68l6-19l6-19l6-4l6-28l6 8l6 23l6-21l6 53l6-56l6 1l6 26l6-12l6-19l6 29l6-61l6 19l6-24l6-5l6 63l6 49l6-51l6 44l6-8l6-52l6 32l6-23l6-25l6 36l6 40l6-44l6-82l6 242l6-168l6 8l6-22l6 58l6-37l6 48l6-49l6 42l6-57l6 128l6-103l6-136l6 168l6 20l6 11l6-39l6 53l6-21l6-72l6 33l6-48l6 29l6 25l6-19l6 44l6-73l6 58l6 2l6-19l6-72l6 65l6 18l6-35l6 33l6-46l6 133l6-66l6-4l6-25l6 26l6-117l6 90l6 38l6-92l6 77l6 9l6 35l6-50l6 130l6-308l6 156l6 20l6-28l6 40l6 66l6-104l6 2l6 40l6 83l6-56l6 66l6-70l6 4l6-15l6 28l6 18l6-41l6-4l6 11l6-18l6 55l6 4l6-43l6 31l6-52l6-23l6 91l6-53l6-17l6 44l6-3l6-26l6-137l6 160l6-22l6-10l6 11l6-26l6-50l6 108l6-50l6 18l6-60l6-43l6 53l6-6l6-1l6-20l6 10l6 37l5-54l7 27l6-16l6-18l6 30l6-39l6 15l6-9l6 42l6 13l6-28l6-13l6 16l6 23l6-52l6 78l6 1l6 100l6-45l6-17l6-70l6 29l6-32l6 15l6 16l6-53l6 37l6-12l6 18l6-8l6 21l6 12l6-33l6 42l6-58l6 76l6-140l6 120l6-67l6 36l6-82l6 69l6-14l6 109l6-66l6-129l6 90l6 11l6-81l6 58l6-26l6-25l6-22l6-38l6 7l6 167l6-171l6-21l6-24l6 50l6 35l6-16l6-62l6 33l6-30l6 12l6-21l6 8l6-110l6 22l6 57l6-36l6 106l6-109l6 11l6-27l6 2l6-39l6-9l6 120l6-115l6-55l6 31l6 47l6-42l6 20l6-90l6 65l6 5l6 11l6 65l6-49l6 64l6-101l6 65l6 2l6 11l6 72l6 3l6-50l6 119l6-113l6 124l6-92l6 95l5-60l6-42l6-20l6 24l6 100l6-90l6-11l6 130l6-95l6 36l6-39l6 77l6-47l6-12l6 61l6-35l6 7l6 13l6-38l6 8l6 40l6 53l6-85l6 49l6-121l6-13l6 80l6 97l6-61l6-37l6 42l6-17l6 20l6-86l6 55l6 116l6-65l6-25l6 73l6 19l6-67l6 40l6-45l6 15l6-9l6 148l6-183l6 70l6-11l6 13l6-27l6 12l6 12l6-20l5 13l7 39l6-40l6-4l6 65l6-1l6-69l6-61l6 1l6 84l6-26l6-54l6 39l6-1l6-31l6 57l6-75l6 32l6-76l6 145l6-120l6 9l6-30l6 124l6-127l6 14l6-80l6 68l6-48l6 46l6 102l6-147l6 81l6-26l6 30l6 34l6-86l6-1l6 57l6 13l6-14l6 30l6-82l6 107l6-19l6-3l6-26l6 56l6 4l6-104l6 108l6 27l6-64l6 24l6 65l6-93l6 129l6-35l6-33l6 26l6-57l6 82l6-81l6 86l6-51l6 57l6-59l6 39l6-1l6 69l6-83l6 28l6 36l6-86l6 74l6-61l6 63l6-39l6 57l6-48l6-6l6 49l6-37l6 3l6 37l6 17l6-15l6-81l6 34l6 36l6-151l6 190l6-10l6-14l6 49l6-63l6-14l6 85l6-212l6 214l6-81l6 36l6-47l6-20l6 57l6-57l6 36l6-106l6 23l6 19l6-20l6 33l6-9l6-118l6 79l6-4l6-23l6 84l6 0l6-28l6-57l6-23l6 42l6 20l6-84l6 58l6 115l6-146l6 76l6-55l6-23l6-4l6-41l6 50l6-20l6-20l6-50l6 148l6-27l6-46l6 49l6-35l6 46l6 32l6-166l6 223l6-96l6-69l6 64l6 20l6 6l6-3l6 15l6-13l6 49l6-27l6-2l6 53l6-88l6 34l6-9l6-53l6 31l6 143l6-79l6-32l6 153l6-6l6-93l6 3l6-35l6 2l6 223l6-206l6 23l6 19l6-40l6 27l6-72l6 107l6-62l6 78l6-64l6 14l6 5l6 83l6-106l6 31l6 83l6-145l6 91l6-55l6-7l6 35l6-63l6 55l6 40l6-147l6 145l6 63l6-54l6-18l6 12l6-9l6 44l6-12l6-2l6-151l6 134l6 48l6-124l6 36l6 50l6-18l6-12l6-24l6 10l6 6l6-100l6 118l6 2l6 34l6-28l6 0l6-30l6 12l6 3l6 22l6-11l6-21l6 2l6 34l6-56l6 61l6 65l6-84l6-86l6-97l6 175l6 7l6-32l6 3l6 31l6-47l6 25l6 5l6-25l6 42l6-83l6 47l6 32l6-12l6-4l6 55l6-74l6 126l6-131l6 38l6-28l6-65l6-7l6 97l6-40l6 3l6-8l6 42l6-40l6 36l6 58l6-83l6 25l6-20l6-21l6 57l6 20l6-56l6 94l6 16l6-111l6 48l6-84l6 105l6-60l6 26l6 40l6-51l6 87l6-123l6 61l6 77l6-131l6-23l6 91l6-32l6 13l6-38l6-92l6 135l6-10l6-95l6 96l6-49l6 106l6-77l6 2l6 39l6-53l6 34l6-85l6 83l6 52l6-114l6 118l6-70l6 12l6-81l6 117l6-68l6 69l6 4l6-25l6 3" fill="none" stroke="#36B06C" stroke-width="30" stroke-linejoin="round"/>
<path d="M11183 5066l6-5l6-64l6-91l6 175l6 11l6-40l6-9l6-24l6 177l6-235l6 107l6-50l6 80l6-15l6-63l6-41l6 71l6-64l6-6l6 12l6 7l6-57l6 120l6-133l6 105l6-20l6-64l6 46l6 68l6-88l6-56l6-32l6 34l6-34l6 59l6-23l6-93l6 83l6-20l6 6l6-25l6-38l6 20l6-13l6 12l6-17l6 78l6-108l6-8l6 4l6 9l6-50l6-43l6-16l6 16l6-1l6-84l6 8l6-9l6-20l6-126l6 109l6 35l6-93l6-6l6-15l6 17l6 7l6 15l6-22l6 12l6-70l6 24l6-11l6 35l6 6l6-64l6-21l6 85l6 3l6-68l6 51l6 22l6-9l6 22l6-101l6 24l6 20l6 86l5-173l7 38l6 34l6-37l6-16l6-53l6-55l6 88l6-120l6 82l6-113l6 11l6-32l6-113l6 63l6 56l6-61l6-31l6-42l6-142l6 125l6-209l6 203l6 18l6-35l6-131l6 146l6-178l6 42l6-29l6-7l5-26l7 64l6-84l6 22l6 103l6 58l6-96l6 73l6-35l6 24l6 7l6 15l6 43l6 4l6-8l6-25l6-40l6 62l6 1l6 59l6 29l6-48l6-64l6 49l6 33l6-27l6 19l6 18l6 105l6-162l6 58l6-35l6 65l6 49l6-46l6-90l6 39l6 7l5 45l7-75l6 18l6 12l6-1l6-49l6 11l6 21l6-44l6-76l6 52l6-38l6 169l6-168l6-59l6 23l6 16l6 131l6-157l6-14l6-43l6-68l6-16l6 145l6-111l6 16l6 17l6-106l6 130l6-73l6 59l6-75l6 101l6 9l6 0l6 9l6-6l6 45l6 13l6-55l6 17l6 19l6 36l6 28l6 3l6-16l6 34l6-17l6-5l6 75l6-5l6 8l6-34l6-23l6 102l6-53l6 42l6-26l6 6l6 6l6-149l6 81l6 51l6 0l6-181l6 161l6-98l6 60l6 4l6-94l6 58l6 5l6-73l6-59l6 94l6 8l5-19l7-52l6 102l6-101l6 6l6-26l6 3l6 20l6-10l6-26l6-50l6 30l6 165l6-158l6-2l6-77l6 10l6 51l6-148l6 67l6 48l6-4l6-154l6 71l6 14l6 2l6 34l6-153l6 139l6-52l6 75l6 19l6-1l6-14l6 49l6-32l6 3l6 31l6 2l6-8l6 44l6 36l6-24l6 26l6 27l6-6l6 86l6 51l6-100l6 91l6 2l6-82l6 168l6 78l6-190l6 69l6-6l6-73l6 35l6 44l6 12l6-57l6-10l6 12l6-39l6 20l6-53l6 19l6 7l6-6l6-78l6 36l6 0l6-8l6 45l6 83l6-196l6-54l6 75l6-12l6-7l6-5l6-15l6 33l6 4l6-32l6-71l6 144l6-14l6-46l6 50l6-96l6 160l6-45l6 95l6 34l6-4l6-45l6-10l6 130l6-106l6 38l6-23l6 21l6 3l6 52l6 26l6 2l6-6l6-38l6 51l6 26l6 19l6 4l6-90l6-101l6 153l6-2l6 76l6-64l6-8l6 258l6-211l6 128l6-120l6 48l6-47l6 108l6-80l6-98l6 105l6-34l6 77l6 0l6-60l6 15l6-57l6 29l6 52l6-33l6 41l5-93l6 89l6 30l6-20l6 19l6 8l6 23l6-32l6-3l6 22l6-27l6 72l6 0l6-85l6 44l6 9l6 27l6-2l5-46l7 21l6-147l6 121l6-16l6-64l6 142l6-203l6 134l6 19l6 29l6-90l6 69l6-42l6-8l6 34l6-107l6 188l6-60l6-103l6-141l6 181l6 100l6-221l6 100l6 83l6-91l6 37l6-15l6 9l6-35l6 82l6 31l6 14l6-41l6 71l6-65l6 64l6-105l6 2l6-7l6 1l6 11l6 40l6-30l6-25l6-4l6 59l6-56l6 52l6-118l6 116l6 90l6-78l6 38l6 178l6-252l6-63l6 134l6-85l6 36l6 9l6 115l6-4l6-6l6-45l6-25l6 63l6-21l6 35l6-41l6-37l6 32l6-25l6 44l6 26l6-29l6 87l6-64l6 39l6-7l6-116l6 172l6-25l6-21l6-17l6 55l6 4l6-55l6 48l6-78l6 63l6 50l6-29l6 52l6-91l6 55l6-16l6-67l6 27l6 0l6 54l6-44l6 102l6-92l6 75l6-93l6 66l6-118l6 0l6 21l6 195l6-187l6-38l6 15l6 88l6-57l6 0l6 45l6-115l6 56l6-19l6 16l6 77l6-68l6 38l6 1l6-29l6 21l6-63l6-53l6 129l6-152l6 137l6-32l6 23l6 40l6-75l6 127l6-66l6-50l6 52l6-79l6 119l6-86l6 265l6-177l6-33l6 28l6-98l6 59l6 79l6-181l6 133l6-24l6-35l6 52l6 1l6-10l6 32l6 63l6-46l6-45l6-29l6 31l6 24l6 43l6-32l6-106l6 102l6 70l6 13l6-16l6-31l6 118l6-68l6 22l6-62l6 48l6-28l6 2l6-90l6 137l6-9l6 47l6-15l6 29l6-11l6-52l6 27l6-1l6 12l6 76l6-179l6 62l6 44l6 32l6-96l6 90l6 50l6-50l6 35l6-22l6-16l6 8l6 86l6-25l6-29l6-2l6-13l6 1l6 29l6 91l6-177l6 140l6-36l6 29l6-115l6 173l6-189l6 127l6-21l6 121l6-151l6 102l6-38l6-16l6-4l6 78l6 13l6-111l6 49l6 5l6-16l6 60l6 78l6-42l6-97l6 50l6-43l6 51l6 32l6-72l6 131l6-116l6-8l6 49l6 17l6 67l6-77l6-132l6 110l6-167l6 58l6 109l6-135l6 136l6 93l6-42l6-31l6 36l6-72l6 97l6-52l6 61l6 78l6-116l6-97l6 136l6-46l6 13l6-157l6 134l6 45l6-38l6 78l6-269l6 208l6 28l6 8l6 9l6-38l6 62l6-60l6 18l6 46l6-138l6 215l6-199l6 90l6-8l6-35l6 35l6-5l6 65l6-14l6-33l6-70l6 35l6 36l6-10l6 2l6-39l6 23l6-13l6-1l6 42l6-60l6 14l6 33l6-7l6 32l6-57l6 44l6-47l6 3l6 33l6-14l6 0l6-3l6 103l6 8l6-159l6 31l6 11l6-16l6-22l6-154l6 98l6 131l6-65l6-40l6-8l6 148l6 55l6-178l6 13l6 4l6-30l6 122l6-127l6 67l6-25l6-29l6 1l6-9l6 8l6 18l6-87l6 60l6-172l6 180l6 4l6 1l6-9l6-31l6 26l6 46l6-270l6 315l6-101l6-28l6-102l6 129l6 44l6-14l6-5l6-147l6 131l6-104l6 126l6 96l6-128l6 24l6-61l6 17l6 26l6-86l6 63l6-46l6 40l6 2l6-7l6-33l6 21l6-23l6 27l6-24l6-17l6 54l6-71l6 32l6 72l6-61l6 14l6-155l6 176l6 63l6-138l6 31l6-61l6 40l6 106l6-98l6-2l6-54l6-3l6 24l6-13l6 5l6-19l6 43l6-28l6 34l6-58l6-31l6 47l6 23l6 8l6-36l6-44l6 22l6 12l6-43l6 20l6-11l6-8l6-10l6-45l6 89l6-7l6-25l6 8l6-61l6 62l6 31l6-71l6 38l6 170l6-180l6-67l6-8l6 12l6-1l6 11l6 43l6-47l6-3l6-4l6-33l6 50l6-25l6 3l6-23l6-152l6 149l6-43l6-39l6 133l6-107l6-4l6 57l6-21l6-34l6-26l6-47l6 34l6 116l6-168l6 133l6-25l6-107l6-195l6 203l6 9l6 27l6 77l6-67l6 69l6-75l6 59l6-15l6-4l6 30l6 41l6-22l6 16l6-11l6 20l6 5l6 21l6-23l6-8l6 12l6 7l6 41l6-159l6 180l6-8l6 40l5-77l7 133l6-85l6-12l6-196l6 114l6 67l6-27l6 0l6-50l6 96l6-5l6-56l6 167l6-138l6 10l6-213l6 155l6-144l6 178l6-132l6 157l6-54l6-7l6 56l6-41l6 50l6-167l6 32l6 65l6-7l6-55l6 3l6-1l6 45l6-116l6 84l6-23l6-75l6 102l6 48l6-69l6 38l6-238l6 74l6 67l6 44l6-62l6 42l6 28l6 36l6-54l6 27l6-23l6 65l6-56l6 78l6 103l6-140l6 79l6-81l6-111l6 133l6-28l6-19l6 50l6 164l6-111l6 43l6-76l6 27l6-62l6 130l6 34l6-51l6 15l6-56l6 17l6 9l6 16l6 14l6 55l6 90l6-70l6-75l6 151l6-201l6 57l6 18l6-26l6 69l6-153l6 96l6-35l6 104l6 0l6-70l6-43l6 45l6-80l6 57l6-72l6 123l6-79l6-29l6-49l6 34l6 24l6 52l6-28l6-88l6 36l6 38l6-56l6 39l6 8l6-85l6-7l6 81l6-50l6-57l6-83l6 97l6 27l6-64l6-22l6 34l6-76l6 38l6-60l6 48l6 11l6-1l6-63l5 26l7 52l6-14l6 33l6-2l6 16l6 69l6-83l6 44l6-12l6 152l6-63l6 31l6-72l6 18l6 17l6 36l6-180l6 212l6-61l6-5l6 16l6 98l6-66l6-20l6 74l6-15l6-10l6-3l6-43l6 47l6-50l6-76l6-14l6-1l6-40l6-85l6 90l6-106l6 85l6 21l6-69l6-2l6-17l6-64l6 89l6-65l6-25l6 19l6 46l6-96l6-20l6 87l6-129l6 103l6-71l6-11l6-39l6 51l6 12l6-86l6 67l6-68l6 26l6-38l6 49l6-75l6 9l6-4l5-5l7-14l6-47l6-43l6 76l6 170l6-218l6 121l6-167l6 95l6-49l6-22l6-183l6 134l6 134l6-58l6 17l6-30l6 24l6 20l6 106l6-18l6 12l6 10l6-8l6 9l6 53l6-60l6 131l5-37l6-30l6 56l6-120l6 50l6 38l6-48l6 5l6 73l6-64l6 8l6-157l6-132l6-65l6-157l6-117l5-40l7 118l6 134l6 58l6 83l6 63l6 112l5 101l7-13l6 0l6 17l6 102l6-24l6 36l6 62l6 122l6-136l6 48l6 52l6-111l6 110l6 35l6-26l6-1l6 62l6-39l6 104l6 3l6-60l6-25l6 113l6-31l6-199l6 143l6 99l6-111l6 43l6-51l6 16l6 36l6-77l6-26l6 41l6-17l6-20l5-8l7 8l6-41l6 22l6-22l6-36l6-6l6-88l6 72l6-18l6-30l6-91l6 97l6-16l6-7l6-10l6 62l6-44l6 45l6-15l6-43l6 69l6-3l6-45l6 11l6 0l6 4l6-6l6-2l6 30l6 126l6-181l6 68l6 56l6 24l6-19l6 4l6 72l6 38l6-24l6 3l6 94l6 58l6-138l6 71l6-151l6 93l6 128l6-1l6 4l6-62l6 20l6 5l6 72l6-36l6 13l6-9l6-30l6 80l6 15l6-37l6-13l6 15l6 8l6-20l6 38l6 1l6-47l6 52l6-9l6 42l6-74l6-29l6-106l6 141l6-9l6-37l6-143l6 143l6 28l6-87l6-159l6 128l6 41l6 25l6 30l6-16l6-82l6 221l6-240l6 67l6-22l6 34l6-23l6-13l6 23l6 9l6-14l6 20l6 40l6-54l6 142l6-145l6 4l6 82l6-79l6-58l6 67l6 39l6-78l6-70l6 80l6-20l6 13l6-35l6-11l6-15l6 18l6-17l6-13l6 13l6 17l6-75l6 23l6 43l6 27l6-5l6 1l6 50l6-16l6 14l6-11l6-31l6 40l6 31l6 33l6-45l6 85l6-85l6 33l6 45l6 24l6-39l6 3l6 11l6 20l6 200l6-145l6-7l6-61l6 20l6 86l6-152l6 49l6-9l6 94l6-23l6-19l6-22l6 74l6-71l6 42l6-15l6 157l6-137l6 94l6-189l6 80l6 57l6-102l6 120l6-48l6 31l6 7l6 2l6-59l6 101l6-52l6-7l6 22l6 36l6-42l6 128l6-99l6-21l6 32l6 11l6-80l6-2l6 34l6-23l6-44l6 72l6 0l6-8l6 62l6-48l6-38l6 0l6 45l6-12l6-23l6-11l6 55l6-50l6 22l6-10l6 11l6-36l6 144l6-138l6 46l6 71l6-112l5 6l7-70l6 6l6 90l6-112l6 118l6-102l6 72l6-44l6 25l6 26l6 44l6-36l6-63l6 58l6-48l6 19l6 12l6-1l6 9l6-27l6 6l6-99l6 104l6-14l6 6l6 30l6 5l6-30l6 68l6-62l6-86l6 125l6 20l6-33l6-63l6 119l6-104l6-8l6 13l6 74l6-47l6-59l6 123l6-109l6 111l6-140l6 124l6-40l6 133l6-133l6 103l6-92l6 18l6-62l6-121l6 145l6 18l6 185l6-137l6-80l6-28l6 73l6-8l6-21l6-38l6 76l6-30l6 89l6-54l6 2l6-57l6 17l6 58l6-62l6 15l6 21l6-167l6 139l6 26l6-71l6 43l6 4l6 68l6-53l6 9l6 29l6 31l6-70l6 3l6 27l6-53l6 134l6-231l6 43l6 48l6 21l6 17l6-52l6 2l6 1" fill="none" stroke="#B077E0" stroke-width="30" stroke-linejoin="round"/>
<path d="M11183 7367l7-104l7-94l7-60l7-108l7-80l6-75l8-8l7-53l7-41l7-59l7-33l7-18l7-50l7-31l7-37l7 12l7-96l5 31l9-21l7-71l7-17l7-71l7 53l7-51l7-80l7 15l7 15l7 5l7-72l7-62l7-93l7 15l7-56l7-38l7-1l7-87l7-42l7-36l7-71l7-58l7-47l7-94l7-21l7-114l7-35l7-113l7-82l7-74l7-101l7-109l7-8l7-134l7-77l7-47l7-159l7-49l7-53l7 70l7-32l7 2l7-23l7 115l7-73l7-68l7-24l7-27l7-94l7-108l7-46l7-128l7-78l7 51l7 82l7 26l7 25l7 96l7 100l7-175l7 4l7-41l7-32l7-73l7-69l7-65l7 29l7-73l7-119l7-153l7-118l7-203l7-150l7-175l7-231l7-218l7-221l7-226l7-135l7-134l7-273l7 52l7-122l7 19l7 6l7 315l7-11l7 209l7-63l7 19l7 66l7 113l7 281l7 134l7 114l7 41l6 61l8 52l7 88l7-89l7-61l7-16l7-15l7-38l7 67l7-30l7-5l6 3l8 66l7 74l7 126l7 180l7-19l7-70l7-121l7-114l7-152l7-80l7-79l7-134l7-204l5 25l9 291l7 143l7 94l7-3l7 203l7 99l7 136l7 47l7-363l7-520l5-199l9-34l7-11l7-19l6 8l8-53l7-137l7-43l7-122l7-77l7-91l7 99l7 40l7-26l7 60l7-1l7 96l7 44l7 222l7 24l7 81l7 89l7-9l7-8l7 109l7 4l7 82l7 38l7 6l7 109l7-38l7-57l7-151l6-37l8 237l7 315l5 140l9-78l7-64l7 40l7-125l7 63l7-62l7-12l7-42l7-118l7 61l7-90l7-31l7-94l7-14l7-253l7-137l7-35l7-49l7 17l7-164l7 152l7-47l7 29l7-109l7-141l7-42l7-105l7-13l7-208l7-120l7-64l7-119l6-79l8 215l7 120l7 423l7 103l7-196l7-166l7-182l7-146l7-201l7-63l7 112l7 74l7 229l5 58l9 100l7 19l7 120l7 68l7 19l7 406l7 239l7 479l7-19l7 59l7 41l7-49l7 143l7 135l7 96l7 155l7-70l7-191l7-316l7-47l7-118l7-87l7-201l7-121l7-218l7-353l7-236l7-306l5-171l9 38l7-3l7-40l7 15l7 3l7 6l7-256l7-131l7-157l7 98l7 95l7 124l7 157l7 105l6 153l8 309l7 284l7 227l7 148l7 38l7 67l7 111l7 35l7 154l7 36l6 51l8-8l7-133l7 31l7-20l7-33l7 235l7 191l7 329l7-118l7 47l7-10l7 0l7 32l7-35l7-48l7-66l7 75l7 268l7-32l7 78l7 245l7 183l7 84l7 52l7 87l7 3l7 68l5 54l9 65l7 115l7-25l7 36l8 62l7 76l7-83l7 177l7-40l7 44l7 40l7 30l7 59l7-57l7 134l7-61l7 46l7-17l7-1l7 97l7-32l7-98l7 68l7-72l7-19l7 7l7-61l7 53l7-70l7 43l7-55l7-20l7-36l7 19l7-121l7-24l7-28l7 41l7-53l7-60l7-26l7-89l7 62l7-82l7 45l7-183l7 203l7-12l7 24l7-49l7 59l7 124l7-69l7 13l7 25l6 4l8 141l7-80l7 159l7-80l7-30l7-29l7 86l7 33l7-36l7 19l7 78l5 11l9 31l7 44l7 9l7 8l7 35l7 20l7 17l7 7l7-79l7 137l7 53l7 25l7-76l7 140l7-10l7 79l7-37l7 81l7 73l7 137l7-139l7 62l7 8l7-3l7-123l7 126l7-36l7 59l7 15l7-107l7 332l7-266l7 50l7-7l7-33l7 34l7-75l7 51l7-56l7 4l7-59l7-37l7-61l7 54l7-36l7-76l7-59l7 5l7-19l7-87l7 58l7-85l7-34l7 109l7 24l7 112l7 23l7-30l7 90l7 41l7 29l7-140l7 60l7 44l7-143l7 50l7-98l7-94l7 33l7-36l7 15l7 119l7-23l7 144l7 44l7 71l7 19l7 99l7-13l7 28l7-64l7-30l7-109l7 6l7-51l7-13l7-101l6-31l8 120l7-3l7-63l7 109l7 76l7 40l7-36l7 143l5 3l9 12l7 78l7 12l7 73l7 56l7 97l7 4l7 75l7 15l7 6l7 47l7 104l7-24l7 172l7 38l7-47l7 37l7 122l7-44l7 76l7 12l7 37l7 28l7-102l7 208l7-40l7 104l7-20l7 33l7-39l7 61l7 81l7 9l7-49l7 40l7-92l7 94l7 27l7 70l7-72l7-39l7 226l7-70l7 16l7-27l7-6l7 37l7-28l7 41l7-2l7-2l7 40l7 7l7 67l7-28l7-202l7 321l7-123l7 9l7 39l7-31l7 29l7-34l7 23l6 46l8-31l7 36l7 30l7 30l7-76l7 26l7 24l7-137l7 67l7 107l7-50l7 2l7 140l7-107l7-16l7 54l7-192l7 111l7 92l7-5l7 23l7-22l7 63l7-17l7 36l7 24l5-17l9 86l7 65l7 158l7-101l7 182l7-87l7-161l7 61l7-157l5-37l9 29l7-108l7-10l7-4l7 66l7-45l7-52l7 5l7-81l7 207l7-201l7 117l7 5l7-57l7-91l7 84l7-75l7 165l7-69l7-20l7 48l7 15l7-66l7 96l7-47l7 34l7-21l6 21l8 29l7-30l7-53l7 51l7-11l7-13l7 54l7-86l7 51l7-26l7-6l7 31l7-24l7-35l7-9l7-14l7 34l5-6l9 17l7-35l7-18l7 22l7-6l7-45l7 47l7-23l7 12l7-26l7-14l7-40l7-8l7 64l7-30l7-21l7 38l7 103l7-200l7 76l7-39l7 29l7-63l7 20l7-152l7 133l7 45l7-36l7-31l7-18l7 48l7-13l7 1l7-22l7-11l7 37l7-67l7 99l7-119l7 59l7-65l7 48l7-52l7-16l7 134l7-121l7 55l7-76l7 84l7-117l7 65l7-31l7-16l7-12l7 23l7-19l7-34l7 73l7 149l7-89l7-133l7-23l7-19l7-48l7 114l7-73l7 34l7 13l7-46l7 26l5 18l9 94l7-255l7 16l7 79l7 30l7-193l7 116l7 105l7-176l7 5l7-79l7 50l7-239l7 195l7-39l7-8l7 56l7-157l7-1l7-7l7-43l7 19l7-68l7 97l7-117l7-60l7-20l7 85l7-49l7-45l7-62l7-30l7 38l7-51l7-59l7-95l7 32l7-48l7-102l7 118l7-158l7 124l7-254l7 37l7-54l7 133l7 3l7 117l7-64l7 174l7 49l7 1l7 122l7-2l7 15l7 129l7 27l7 43l7 74l7 59l7 10l7 19l7 142l7 53l6-22l8-75l7-49l7 73l7-153l7-42l7-35l7 42l7-103l7-50l7-28l7-68l5 7l9 28l7 4l7 26l7-184l7 206l7-39l7-77l7 67l7 4l7-5l7 153l7-170l7 15l7-44l7 59l7-17l7 75l7-79l7-36l7-61l7-7l7-81l7 72l7-148l7 62l7-82l7 20l7-11l7-257l7 165l7-65l7-54l7 103l7-52l7 119l7-48l7 47l7 136l7-15l7 80l7-8l7 74l7 11l7 86l7 50l7 59l7 45l7 16l7 21l7 44l7 25l7 190l7-80l7 40l7 50l7 29l7 86l7-35l7 12l7 111l7 11l7 12l7-6l7 85l6-20l8-17l7 6l7-50l7-83l7-28l7 78l7 150l7-248l7-26l7-10l7-17l7 6l7-45l7-32l7-8l7-64l7-5l7-54l7 7l7-33l7 4l7-31l7-19l7-101l7 160l6-167l8 43l7 39l7 20l7-14l7-1l7 132l7-3l7 23l7 23l7 39l7-30l5 21l9 55l7-31l7 54l7 29l7 91l7-107l7 76l7 14l7 29l7-94l7-44l7 89l7-42l7-155l7 151l7-134l7-55l7 29l7-74l7 34l7-61l7-232l7 159l7-127l7-74l7 61l7-96l7 16l7-107l7-40l7 3l7-57l7-41l7-80l7-55l7-28l7-39l7-52l7 43l7 37l7-89l7-35l7 26l7-85l7 18l7-41l7 128l7-113l7 35l7-55l7-4l7-59l7 33l7-73l7-18l7-53l7-45l7-77l7-13l7-31l7-4l7-78l7-60l7-92l6 30l8 18l7 253l7-78l7 63l7 23l7 83l7 68l7 48l5 60l9 105l7-30l7 82l7 74l7 89l7-15l7 185l7 25l7 26l8-14l7 4l7 1l7 10l7 36l7 38l7 4l7-7l7 46l7 21l7-49l7 18l7 35l7 45l7-18l7-36l7 113l7 40l7-20l7 12l7 141l7-12l7 69l7-41l7-103l7 167l7-19l7 46l7 12l7-8l7 17l7 82l7 138l7-9l6-62l8-1l7 58l7-4l7 29l7 46l7-41l7 34l7 12l6 30l8-64l7-17l7-102l7 130l7-161l7-12l7-34l7-34l5-32l9-69l7-23l7-11l7-15l7-80l7 6l7-47l7-108l7-12l7-114l7 32l7-9l7-51l7-6l7-45l7-12l7-57l7 28l7 48l7 9l7 52l7-67l7-46l7 76l7 147l7 17l7 25l7 3l7 58l7-6l7 54l7 121l7-8l7 29l7 58l7 24l7 39l7 119l7-42l7 56l7 78l7 26l7 63l7 36l7 18l7 90l7 16l7-46l7 15l7-108l7-29l7 5l7-1l7-130l7 9l6 42l8 5l7-80l7-86l7 1l7-76l7-59l7 42l7-37l6-48l8 28l7-87l7 103l7-10l7 42l7-70l7-14l7 109l5-6l9-101l7 147l7 4l7 34l7-55l7 137l7 3l7-84l7 44l7-88l7 51l7-47l7 7l7-49l7-39l7-18l7-55l7-28l7 38l7-55l7-47l7-29l7-98l7-64l7-34l7-61l7-65l7-40l7-23l7-59l7-31l7 13l7-63l7-33l7-16l7-6l7-68l7-24l7-43l7 56l7 54l7 32l7-141l7 152l7 131l7-99l7 39l7 50l7-50l7 33l7 18l7-35l7 168l7-61l7 27l7-71l7 82l7-6l7 81l7-29l7 122l6-87l8 31l7-177l7 286l7-98l7-74l7 134l7 35l7 16l7 12l7-195l7 168l5 21l9-1l7 22l7-11l7-15l7 58l7 32l7-62l7 51l7-21l7-44l7-40l7 56l7 57l7 3l7-20l7 20l7-14l7-3l7 26l7-165l7 61l7 30l7 102l7 34l7-46l7-110l7 57l7-37l7 112l7-85l7-20l7 13l7 70l7-64l7-32l7 94l7-50l7 35l7-44l7-30l7 47l7-1l7-206l7 149l7 60l7-108l7 38l7 6l7 21l7-23l7 72l7 12l7-43l7-67l7-37l7 83l7 96l7-29l7-52l7 21l7 50l7-35l7 6l7-48l7 152l7-69l7-72l7 88l7 28l7-80l5 54l9 54l7 100l7-69l7 160l7-32l7 28l7 21l7 34l7-26l7 103l7 24l7-19l7 117l7-15l7 4l7 0l7 2l7-7l7 74l7-40l7 8l7 86l7-40l7 41l7 10l7-22l7 3l7 48l7-80l7 6l7 50l7-17l7 99l7-124l7 78l7-65l7 128l7-36l7-144l7 71l7-11l7-32l7 12l7 138l7-120l7-44l7-20l7 101l7-53l7-6" fill="none" stroke="#D4A000" stroke-width="32" stroke-linejoin="round"/>
<path d="M712 16690l5 121l5 58l5-228l5 26l5-48l5 117l5-57l5-9l5-153l5 433l5-453l5 245l5-35l5-61l5 75l5 31l5 254l5-149l5-119l5-141l5 428l5-264l5-148l5-113l5 99l5 163l5 189l5-415l5 269l5-55l5-103l5-46l5 101l5 29l5 8l5-25l5-145l5-194l5 590l5-379l5 98l5 76l5-215l5 55l5-82l5-16l5 167l5 35l5 132l5-56l5-51l5-18l5-21l5 49l5-255l5 223l5-2l5-315l5 154l5 82l5 92l5-75l5 2l5 32l5-110l5 132l5 8l5-19l5-91l5 145l5 12l5-126l5 73l5 56l5 48l5 40l5-122l5-93l5 6l5-83l5 172l5-94l5 64l5 66l5-235l5 91l5-91l5 140l5 67l5-10l5-239l5 108l5 429l5-249l5-90l5-105l5 94l5-155l5 110l5 146l5-93l5-75l5 32l5-12l5-96l5 72l5 153l5-126l5-113l5 452l5-274l5-376l5 334l5-48l5-88l5 9l5 0l5 155l5-92l5 112l5-132l5 33l5-25l5 31l5 64l5-114l5-35l5-306l5 317l5-240l5 45l5 185l5-142l5 87l5-20l5 52l5-494l5 387l5-70l5-51l5-2l5 24l5-57l5 54l5 43l5 32l5-52l5 332l5-305l5 28l5 279l5-244l5-109l5-6l5 248l5-248l5 235l5 28l5-264l5 176l5-260l5 212l5 0l5-322l5 292l5-150l5 390l5-319l5 80l5-52l5 99l5 20l5-45l5 3l5-19l5-47l5 27l5 160l5-108l5-32l5 52l5-170l5 201l5-147l5 4l5 12l5 6l5 78l5-76l5-10l5-12l5 196l5-113l5-108l5 108l5-140l5 303l5 32l5-147l5 7l5 27l5-48l5 60l5-50l5-99l5 139l5-22l5-59l5-23l5-60l5-17l5 154l5-119l5-55l5-35l5 281l5-68l5-135l5 107l5-106l5 28l5 17l5-219l5 224l5-112l5 28l5 254l5-332l5 49l5 157l5-159l5 78l5 99l5-125l5-199l5 232l5 25l5 325l5-342l5 22l5-132l5-57l5 111l5-1l5 274l5-171l5 65l5-43l5-54l5 20l5-23l5 28l5-132l5 100l5 113l5-112l5-130l5 108l5 57l5-82l5-86l5 47l5 49l5-134l5 81l5-105l5 218l5-78l5-23l5 58l5-103l5-132l5 110l5 86l5 34l5-42l5-10l5 39l5-61l5-8l5 42l5 14l5 70l5-191l5-44l5 187l5-344l5 274l5 30l5-47l5 69l5-136l5 137l5-276l5 372l5-165l5-96l5 123l5-12l5 47l5-116l5 35l5 82l5-127l5 7l5 81l5 46l5-179l5 354l5-319l5 126l5 151l5-210l5 80l5 247l5-330l5-12l5 79l5 196l5-116l5 76l5-262l5 131l5 219l5 53l5-540l5 239l5-247l5 317l5-71l5 190l5-61l5-32l5-62l5-20l5 34l5-14l5 133l5-193l5-273l5 315l5-28l5-68l5-160l5 166l5-198l5 91l5 163l5 8l5 69l5-59l5-10l5-28l5-33l5 65l5 93l5 17l5-216l5-91l5-135l5 313l5-53l5 80l5-170l5 96l5-159l5 172l5-84l5 68l5 72l5-122l5 210l5-303l5 161l5-27l5 164l5-270l5-213l5 249l5 95l5-58l5-89l5-21l5 75l5 140l5-103l5-174l5 57l5 41l5 149l5-360l5 248l5-92l5 84l5-87l5 73l5 105l5-355l5 245l5-9l5 13l5-5l5-237l5 108l5 65l5-20l5-171l5 84l5 61l5 333l5-187l5-213l5 256l5-87l5-66l5 104l5 28l5-18l5-192l5 263l5-354l5 252l5-119l5 123l5 4l5-13l5-138l5 221l5 132l5-324l5 301l5-88l5-111l5 32l5-91l5 233l5-68l5-108l5 47l5 101l5-99l5 120l5-234l5-39l5 215l5 85l5 32l5 27l5-207l5 112l5-69l5-98l5 87l5 209l5-124l5-37l5 73l5 110l5-155l5 220l5-318l5-9l5 139l5-26l5-205l5 295l5 87l5-208l5 131l5-37l5 177l5-110l5-644l5 583l5 245l5-191l5 185l5-460l5 303l5-206l5 203l5 147l5-421l5 262l5-159l5 181l5-196l5 201l5-159l5-383l5 398l5-39l5 203l5-86l5-54l5-76l5 79l5 103l5-143l5 6l5-18l5 3l5 39l5-503l5 586l5-92l5 31l5-95l5 151l5-30l5-78l5 87l5 54l5-44l5 5l5-112l5 242l5-70l5-70l5-108l5 180l5 62l5-17l5-20l5-214l5 71l5 421l5-432l5 187l5-259l5 493l5-377l5-39l5 4l5-92l5-108l5 452l5-466l5 393l5 82l5-230l5 64l5 55l5-179l5 202l5 8l5-3l5-226l5 110l5 116l5-1l5-65l5 88l5-88l5-86l5 54l5 55l5-11l5 103l5-96l5-50l5-78l5 92l5-98l5-37l5 12l5 9l5 83l5 122l5-85l5 132l5-387l5 349l5-89l5-127l5 78l5-65l5 157l5 97l5-47l5-108l5-193l5 252l5-289l5 147l5-127l5 37l5 184l5-172l5 193l5-107l5-174l5 273l5 170l5-562l5 431l5 198l5-83l5-135l5 92l5-260l5 162l5-21l5-246l5 360l5-168l5 354l5-177l5-78l5-94l5-185l5-225l5 452l5 107l5-21l5-36l5-207l5-16l5 243l5-186l5 97l5-336l5 305l5-99l5 261l5-239l5 325l5-172l5 46l5-237l5 124l5-255l5 305l5-6l5 96l5-118l5-56l5-38l5 62l5-123l5 129l5-101l5 306l5-296l5 119l5 103l5-319l5 30l5 49l5 96l5 340l5-295l5 73l5-129l5-203l5 13l5 300l5-76l5-134l5 217l5-239l5 240l5 28l5-200l5-118l5 106l5-20l5 176l5-186l5 180l5 190l5-302l5-43l5 102l5-192l5 145l5 321l5-236l5-256l5 602l5-437l5-75l5 227l5 24l5 68l5-512l5 293l5-62l5 35l5 169l5 217l5-649l5 324l5-36l5 141l5-362l5-124l5 362l5 208l5-178l5 131l5 16l5-183l5-99l5 183l5-164l5 65l5 46l5-40l5-57l5 20l5-4l5 92l5-102l5 14l5 32l5-30l5 185l5-15l5-132l5-37l5 92l5 21l5 27l5-80l5 102l5-319l5 117l5 224l5-12l5-167l5 23l5 198l5-80l5-249l5 169l5-19l5-3l5-30l5-84l5 136l5-89l5 52l5-21l5-10l5 133l5-32l5-82l5-64l5 57l5-244l5 312l5-72l5 32l5 7l5 43l5-214l5 451l5-326l5-117l5 310l5-100l5-16l5-92l5 93l5 13l5 92l5-188l5 204l5 36l5-224l5 158l5-91l5 63l5-58l5-96l5-75l5 597l5-526l5-31l5 156l5-88l5-119l5 403l5-227l5-110l5 225l5-7l5-209l5-29l5 43l5 192l5-130l5 92l5-67l5 545l5-667l5 90l5-141l5 367l5-27l5-78l5 2l5-29l5-320l5 286l5-145l5 1l5-4l5 91l5 84l5 11l5-39l5 142l5-105l5-72l5 117l5-189l5-166l5 206l5 237l5-152l5-59l5-271l5 251l5 79l5-88l5 53l5 11l5-76l5-43l5 286l5-98l5-29l5-14l5 1l5 188l5-210l5 71l5-141l5 52l5 48l5-185l5 8l5 2l5 52l5 196l5-111l5 86l5-124l5 414l5-282l5-264l5 65l5 92l5-85l5 180l5-229l5 156l5 31l5 391l5-468l5 44l5-14l5-13l5 36l5-89l5 107l5-208l5 184l5-45l5 54l5-247l5 320l5-77l5 31l5-14l5-2l5 51l5 182l5-268l5-112l5 133l5-127l5 20l5 82l5 131l5-73l5-25l5 101l5-211l5 211l5-163l5-44l5 53l5 223l5-312l5 343l5-81l5-65l5-42l5 186l5-211l5-49l5 138l5-218l5 166l5-51l5 243l5-200l5-127l5 214l5-209l5 171l5-222l5 177l5-107l5 78l5-62l5-21l5-3l5 91l5 50l5-188l5 348l5-293l5 121l5-98l5-16l5 150l5-9l5 0l5-150l5 179l5-111l5-111l5 209l5-71l5-162l5 282l5-58l5 9l5 31l5-43l5-178l5 80l5 5l5-39l5 73l5 208l5-80l5-13l5-35l5-97l5-15l5 80l5-63l5 136l5-78l5-85l5 98l5-82l5 76l5-191l5 135l5-84l5-3l5-85l5 364l5-207l5 35l5 55l5 426l5-458l5-169l5 139l5-179l5 206l5-30l5 11l5-195l5 567l6-394l5 31l5 37l5-258l5-108l5 232l5 26l5-25l5 86l5 161l5-301l5 27l5 252l5-167l5-14l5 210l5-228l5 187l5-254l5 57l5-4l5 86l5-66l5 49l5 39l5-245l5 157l5 220l5-134l5 95l5-327l5 41l5 236l5-373l5 249l5 158l5-422l5 331l5-80l5-52l5-29l5-473l5 589l5 103l5-157l5 122l5-143l5-59l5 232l5 15l5 13l5-195l5-11l5-56l5 573l5-416l5-249l5 130l5 83l5-201l5 190l5-11l5-16l5 70l5-153l5 6l5 29l5 96l5-47l5-282l5 334l5-68l5-170l5 596l5-456l5 69l5 162l5-434l5 88l5 139l5-121l5 110l5 89l5-26l5 16l5 17l5 43l5-87l5 80l5-142l5 52l5-54l5-17l5 74l5 104l5-196l5-38l5 165l5-17l5 126l5-85l5-73l5-51l5 48l5-36l5-108l5 122l5-17l5-22l5-3l5 190l5-91l5 21l5-140l5-38l5 65l5 47l5-54l5 36l5 79l5-60l5 138l5 73l5-301l5 75l5-279l5 245l5 77l5-471l5 369l5-19l5 56l5 41l5 31l5-90l5-106l5 246l5 14l5-108l5-10l5-122l5 305l5-345l5 223l5-88l5 404l5-433l5 72l5 64l5-53l5-416l5 478l5-7l5 70l5-315l5 180l5-1l5-101l5 101l5 5l5-99l5-274l5 293l5 45l5-59l5 88l5-221l5 147l5-126l5 109l5-16l5 92l5-61l5 36l5 136l5-4l5-57l5-215l5 387l5-236l5 290l5-54l5-278l5-78l5 450l5-376l5 87l5-69l5-54l5 192l5-199l5 250l5-218l5 223l5-451l5 318l5 32l5 9l5-531l5 607l5-187l5 70l5-278l5 206l5-99l5 169l5-35l5 180l5-236l5 33l5 61l5-194l5 225l5-196l5 117l5-42l5 24l5-270l5-46l5 403l5 21l5 148l5-258l5-15l5 4l5-54l5-211l5 292l5 52l5-163l5 136l5-109l5 106l5 36l5 12l5-4l5-102l5 48l5-24l5 72l5 32l5-90l5-88l5 171l5-155l5-45l5 47l5 187l5-102l5-187l5 393l5-299l5 272l5-213l5 136l5-38l5-7l5-35l5-101l5 166l5-12l5 86l5-173l5 57l5 283l5-173l5-61l5 72l5-153l5 170l5-104l5 72l5 52l5-261l5 80l5 134l5-1l5-129l5 70l5 178l5-196l5-127l5 62l5 2l5 270l5-449l5 643l5-423l5-36l5-30l5 74l5-253l5 208l5-66l5 75l5-32l5-49l5-56l5 126l5-70l5 272l5-202l5-12l5-321l5 510l5-273l5-220l5 559l5-246l5 8l5 102l5-226l5 126l5 147l5-191l5 198l5-364l5 280l5-78l5 115l5-148l5-124l5 190l5 125l5-58l5-9l5-106l5 60l5 312l5-180l5-151l5 81l5-70l5-53l5 12l5-65l5-108l5 175l5 25l5-111l5 162l5-56l5 32l5-57l5 143l5-64l5-155l5 83l5-28l5-203l5 452l5-257l5-136l5 40l5 7l5 105l5 2l5 51l5-169l5 254l5-160l5 121l5 45l5-186l5-210l5 310l5 86l5 40l5-211l5 36l5 33l5-190l5 100l5 1l5 281l5-287l5-166l5 221l5-154l5 348l5-289l5 238l5-1l5-420l5 151l5-190l5 302l5-119l5-98l5 169l5 120l5-115l5 82l5-37l5 88l5 13l5-21l5-258l5 253l5-83l5-43l5-89l5-38l5 31l5 96l5-274l5 198l5 311l5-182l5-89l5-166l5 308l5-151l5 5l5-76l5 123l5 19l5-38l5-60l5-53l5 64l5-18l5 133l5-13l5-193l5 163l5-102l5-53l5 48l5 114l5 16l5-53l5-153l5-62l5 291l5-145l5-16l5 238l5-327l5-95l5 332l5-21l5-147l5 78l5-235l5 245l5 154l5-138l5-8l5 80l5-249l5 110l5-40l5 175l5-252l5-185l5 397l5-208l5 150l5-115l5 155l5-60l5-41l5 88l5 23l5-714l5 591l5-61l5 93l5 146l5-148l5 15l5 1l5 67l5-199l5 127l5-127l5-118l5 256l5 113l5-85l5 29l5 18l5-58l5-137l5-299l5 113l5 184l5-396l5 398l5 52l5 171l5 63l5-51l5-208l5 269l5-238l5 140l5-271l5 230l5 16l5 0l5 35l5 96l5-328l5 198l5-183l5 50l5 59l5-42l5 129l5 76l5-131l5 124l5-127l5 60l5-58l5 89l5-9l5 6l5 40l5-64l5 13l5 118l5-131l5 78l5 190l5-243l5-54l5-30l5 77l5 211l5-128l5 32l5-119l5-80l5 390l5-214l5-130l5 70l5 226l5-160l5-192l5 143l5 55l5-182l5 28l5 114l5 35l5-111l5 19l5-16l5 15l5-92l5-21l5 121l5-150l5 68l5 28l5-36l5 116l5-62l5 32l5-84l5 125l5 10l5-14l5-75l5 74l5-16l5-3l5 128l5-180l5 73l5 452l5-315l5-281l5 166l5-224l5 223l5-60l5-1l5-83l5 106l5-134l5 104l5-24l5-271l5 360l5-88l5 70l5-354l5 281l5-13l5 1l5 170l5-58l5-35l5-151l5 162l5 23l5-37l5-144l5 275l5-2l5-64l5-39l5-232l5 608l5-320l5-455l5 175l5 102l5-59l5-128l5 175l5-137l5 205l5-120l5 77l5 90l5 120l5-243l5 193l5-230l5-14l5 151l5-261l5 188l5 57l5 91l5-62l5 45l5-222l5 144l5 34l5-138l5 80l5-13l5-162l5 96l5 213l5-410l5 271l5 129l5-43l5-124l5 120l5-80l5-232l5 238l5 106l5-200l5 270l5-2l5-101l5-206l5-97l5 240l5-13l5-275l5 202l5 350l5-350l5 102l5-140l5 91l5 175l5-337l5 254l5-315l5 426l5-148l5-127l5 182l5-102l5 89l5-42l5 12l5-11l5-93l5-54l5 224l5-100l5 39l5 158l5-365l5 68l5 241l5 62l5-53l5-266l5 400l5-300l5 14l5 14l5-50l5 243l5-186l5 30l5-254l5 461l5-216l5-3l5-73l5 152l5-184l5 122l5-117l5 182l5 226l5-202l5-22l5 226l5-302l5 144l5-238l5-40l5 48l5 189l5-253l5 106l5 47l5 14l5-49l5 216l5-522l5 449l5-147l5 26l5-76l5 68l5 57l5-117l5 162l5-128l5 58l5-106l5 72l5 43l5-450l5 721l5-701l5 452l5 121l5-228l5 110l5-103l5 73l5 120l5-292l5-2l5 467l5-415l5 185l5-14l5 48l5 33l5-391l5 342l5-77l5-73l5 81l5-14l5 107l5-194l5 106l5-22l5 184l5-241l5 197l5-252l5 191l5-42l5 48l5-96l5-111l5 140l5 157l5-98l5-96l5 161l5 43l5-188l5-41l5 216l5 240l5-430l5 115l5 175l5-8l5-471l5 296l5-2l5-141l5 109l5 45l5 49l5-116l5 91l5-155l5 246l5-110l5-47l5-92l5 278l5 177l5-406l5 25l5 30l5 265l5 57l5-363l5 81l5 9l5-30l5-66l5 198l5-59l5-70l5-186l5 567l5-362l5 346l5-378l5 134l5-87l5-79l5-184l5 319l5-200l5 484l5-319l5 96l5-126l5-103l5 162l5-28l5-51l5 261l5-358l5 179l5-23l5 110l5-5l5-59l5 36l5-138l5-140l5 162l5-107l5 100l5 72l5 2l5-87l5-65l5 96l5-227l5 61l5 97l5 71l5-152l5-90l5 247l5-123l5 145l5 11l5-150l5 117l5 230l5-619l5 408l5 39l5-79l5 111l5-207l5 30l5 137l5-293l5 320l5 77l5-107l5 82l5-102l5-176l5 274l5-120l5 63l5-85l5 123l5-104l5 253l5-246l5-3l5 41l5 8l5-74l5-25l5 92l5 11l5-35l5 62l5-93l5 156l5-66l5 55l5-87l5-190l5 166l5 180l5 3l5-281l5 229l5-153l5 12l5-24l5 378l5-467l5 123l5 87l5-102l5-29l5 17l5-26l5 407l5-441l5-25l5-45l5 37l5 265l5-58l5 25l5-6l5-178l5 76l5-350l5 285l5 109l5-194l5-32l5 55l5 137l5 85l5 128l5-104l5-480l5 143l5 222l5 82l5-212l5 70l5 7l5 44l5-19l5 63l5 87l5-127l5 61l5-84l5-75l5-2l5-32l5-84l5 226l5 83l5-126l5 111l5-139l5-88l5-153l5 333l5 89l5-28l5-357l5 341l5-232l5 242l5 159l5-200l5-2l5-39l5 69l5-93" fill="none" stroke="#505050" stroke-width="30" stroke-linejoin="round"/>
<path d="M712 15749l5-193l5 117l5 107l5 49l5-174l5 31l5 43l5-21l5 62l5-65l5 26l5-148l5 148l5-97l5 157l5-58l5 0l5-65l5-76l5 174l5-61l5-112l5-196l5 212l5-3l5 89l5-256l5 50l5 40l5 140l5-91l5 0l5-53l5-23l5-24l5-243l5 319l5-3l5-135l5 180l5-64l5-100l5 116l5 91l5-56l5-65l5 260l5-228l5-156l5 104l5 44l5 28l5-97l5 102l5-190l5 261l5-90l5-9l5-87l5-178l5 184l5 31l5 278l5-417l5 35l5 70l5 79l5-205l5-23l5 83l5 1l5-105l5 143l5 27l5-66l5 16l5-109l5-192l5-85l5 330l5 29l5-14l5-186l5 185l5 129l5-301l5 131l5-66l5-65l5 197l5-146l5 5l5-217l5 231l5 37l5-11l5-64l5-274l5 232l5 354l5-396l5 40l5-64l5-180l5 194l5 2l5 48l5-73l5-24l5 38l5-185l5 490l5-336l5-122l5 152l5 6l5-27l5-94l5-69l5 106l5-17l5-105l5-44l5 108l5-56l5 171l5-202l5-2l5 18l5-348l5 286l5 51l5-167l5 110l5-47l5 323l5-222l5-32l5-46l5 34l5-3l5-71l5 70l5-218l5 89l5 51l5 5l5 248l5-237l5 36l5-44l5-21l5 29l5-33l5-101l5-4l5 140l5-142l5 76l5-23l5 79l5-108l5 441l5-353l5 3l5-101l5 73l5 42l5 40l5-12l5 14l5-118l5 8l5 23l5 138l5-124l5-96l5 46l5 230l5-188l5-64l5 103l5 131l5-90l5 31l5-37l5-146l5 247l5-25l5-49l5 63l5 15l5 55l5 8l5-100l5-52l5 114l5-75l5-24l5-59l5 29l5 166l5-164l5 90l5-51l5 48l5 2l5-322l5 260l5 20l5-4l5-371l5 338l5-126l5 54l5-287l5 305l5 46l5 6l5-16l5 115l5-127l5 8l5-57l5 32l5-21l5 127l5-82l5-57l5 146l5-199l5 255l5-122l5-31l5-54l5 4l5-17l5 64l5-140l5 116l5-26l5-48l5-110l5 122l5-35l5 90l5 37l5 55l5-185l5 44l5-41l5 99l5-83l5 67l5 107l5-29l5-46l5-90l5 53l5-76l5-239l5 452l5-34l5-61l5-131l5 159l5 20l5-167l5 59l5 6l5 62l5-64l5-17l5 29l5 215l5-191l5-20l5 14l5 52l5 80l5-18l5-6l5-42l5 10l5 371l5-465l5 215l5-146l5 11l5 3l5 16l5-108l5 17l5 43l5 48l5 20l5-115l5-12l5 66l5-17l5 135l5-333l5 270l5-53l5-6l5-90l5-12l5 156l5-130l5 126l5-177l5 12l5-124l5 134l5-416l5 486l5-22l5-39l5-11l5-43l5-12l5 20l5-23l5-12l5 33l5-199l5 195l5 35l5-52l5 12l5-128l5 91l5 37l5-215l5 76l5 34l5-133l5 113l5 45l5-31l5 287l5-281l5 132l5-217l5 425l5-326l5-330l5 393l5-34l5 27l5 65l5 64l5-234l5 212l5 23l5-125l5 63l5-116l5 230l5-270l5 281l5-77l5 220l5-35l5 76l5-306l5 129l5-41l5 6l5 55l5-41l5 40l5-44l5 33l5 35l5 7l5-123l5 73l5 16l5-8l5-73l5 97l5 11l5-218l5 281l5-132l5 7l5-13l5 241l5-251l5-80l5 129l5 168l5-71l5-195l5 50l5 119l5-122l5 23l5-224l5 256l5-6l5 77l5-160l5 40l5-104l5 44l5 87l5-90l5-63l5 148l5-141l5 76l5 71l5-75l5-128l5 50l5 68l5-30l5 17l5 4l5-68l5 24l5-29l5-18l5-22l5 190l5 155l5-222l5-4l5-212l5 122l5 14l5 92l5 53l5-127l5-10l5 2l5-144l5 184l5-50l5 128l5-270l5 126l5 147l5 32l5-94l5 170l5-44l5-169l5 22l5 143l5-76l5 30l5-60l5-40l5 96l5-13l5 61l5-58l5-3l5-163l5 121l5 141l5-197l5 45l5 285l5-241l5 55l5-3l5-61l5 187l5-110l5 66l5 2l5-83l5-175l5 306l5-36l5-6l5 48l5-19l5 146l5-71l5-19l5-7l5-11l5-86l5 156l5 85l5-41l5-55l5-26l5 171l5-46l5 109l5 225l5-346l5 56l5-36l5 99l5-118l5 55l5-5l5-43l5 47l5 210l5-226l5-25l5 248l5-275l5 3l5 219l5-241l5-209l5 302l5-76l5 112l5-216l5 162l5-62l5-6l5-116l5 190l5-108l5 84l5-18l5-51l5 89l5-66l5-82l5 152l5-152l5 56l5-11l5-157l5 286l5-56l5 59l5-168l5 4l5-93l5 151l5 72l5 7l5 122l5-116l5-65l5-54l5 115l5-88l5 14l5-69l5 63l5 210l5-220l5 28l5-168l5 225l5-58l5 62l5-71l5-14l5-21l5 50l5-3l5-86l5 54l5-34l5 133l5-121l5-49l5-58l5 334l5-115l5-117l5-51l5 78l5-8l5 35l5 1l5 54l5-62l5 1l5-62l5 42l5 50l5-103l5 261l5-186l5 27l5 40l5 23l5 47l5-51l5 59l5-29l5-111l5-36l5-93l5 264l5-290l5 243l5-67l5 101l5-80l5 64l5 281l5-372l5 74l5 8l5-174l5 182l5 94l5-207l5 133l5 39l5-75l5 175l5-192l5-35l5-3l5 49l5 110l5-64l5 333l5-467l5 49l5 225l5-363l5 120l5 57l5 39l5 96l5-143l5 55l5 0l5-207l5 190l5-34l5-21l5 203l5 15l5-144l5 90l5-155l5-65l5-21l5 370l5-308l5 100l5-138l5 224l5-57l5-29l5 58l5-124l5-1l5 108l5 8l5 29l5-85l5 184l5-95l5-172l5 39l5 21l5-58l5 13l5 17l5 272l5-105l5-51l5-334l5 445l5-181l5-10l5-7l5 95l5-192l5 81l5 46l5 29l5-333l5 227l5-106l5 124l5 44l5-18l5-32l5 114l5-2l5-95l5 58l5-223l5 313l5-246l5 144l5-130l5 58l5 70l5-16l5 64l5-113l5 94l5-4l5 54l5-168l5-75l5 280l5-145l5-77l5-176l5 156l5 215l5-179l5 37l5-37l5 37l5 44l5-68l5 16l5 131l5-76l5-43l5-40l5 22l5-44l5 59l5-58l5 155l5-142l5-42l5 75l5-39l5-13l5-57l5 165l5-193l5 271l5-367l5 320l5-93l5 217l5-165l5 97l5-121l5 101l5-50l5 134l5-120l5 26l5 154l5-133l5 82l5-132l5 121l5-134l5 190l5-79l5-227l5 256l5-22l5 101l5-154l5 110l5-5l5 147l5-205l5 24l5 252l5-568l5 465l5 142l5-167l5-101l5 264l5-263l5 16l5 60l5-18l5-92l5 49l5 93l5-136l5 111l5-18l5 48l5-83l5 99l5-43l5-73l5 33l5 13l5 137l5-134l5 99l5-85l5-18l5 84l5-79l5 72l5-64l5 70l5-7l5-70l5 188l5-62l5-151l5 120l5-43l5 168l5-59l5-51l5-32l5 52l5-206l5 120l5 189l5-495l5 406l5-30l5-28l5-40l5 17l5 66l5-117l5 101l5 87l5-89l5-155l5 182l5-57l5 11l5 88l5-78l5 157l5-84l5-37l5 27l5 172l5-325l5 152l5 39l5-17l5-59l5 64l5 71l5-70l5-13l5 42l5-260l5 178l5 25l5 9l5-104l5 167l5-76l5-121l5 29l5 211l5-100l5 76l5-102l5 116l5-57l5-126l5 111l5-108l5 132l5-6l5-56l5-24l5 95l5 25l5-188l5 4l5 165l5-11l5-5l5-114l5-7l5 215l5 5l5 30l5-121l5-39l5-191l5 247l5-79l5 59l5-38l5 114l5-114l5 36l5-96l5 9l5 190l5-160l5 38l5 33l5 20l5-118l5 72l5 102l5-75l5-95l5-79l5 253l5 23l5-28l5-206l5 182l5 91l5-178l5 20l5 99l5-31l5-8l5-224l5 130l5 101l5 9l5-13l5-2l5-14l5 44l5-94l5 88l5-54l5-151l5 116l5 9l5-24l5 69l5-83l5 65l5 234l5-323l5-17l5 114l5-130l5 192l5-89l5-64l5 67l5-68l5-185l5 149l5 110l5 51l5-187l5 67l5 45l5-7l5 17l5 20l5-81l5 20l5-14l5-100l5 165l5-135l5 149l5-178l5 184l5-158l5 29l5-36l5 28l5-62l5 110l5 59l5-3l5 53l5-275l5 325l5-171l5-29l5 6l5 116l5-81l6 79l5-15l5-194l5 133l5-117l5 217l5 207l5-291l5-21l5-103l5 148l5-82l5-133l5 131l5 81l5 53l5-153l5 49l5 90l5-60l5-43l5-14l5-21l5-1l5 108l5-281l5 254l5 22l5 16l5-65l5-6l5 19l5-15l5 61l5-114l5-22l5 237l5-208l5 63l5-95l5 114l5-21l5-38l5 40l5-27l5-451l5 545l5-94l5-42l5 35l5-28l5-53l5 23l5 93l5-19l5-8l5-78l5 82l5 44l5-84l5-53l5 65l5-252l5 143l5 89l5-1l5-141l5 221l5-73l5 169l5-249l5 197l5-21l5-109l5 51l5-196l5 225l5-32l5-13l5 33l5 11l5-170l5 63l5 30l5-278l5 288l5-43l5 61l5-97l5 198l5-108l5-78l5 68l5 54l5-73l5 64l5-145l5-99l5 181l5-7l5-47l5-19l5-14l5 61l5-78l5-23l5 126l5 52l5-88l5 59l5 190l5-202l5-40l5 23l5-95l5 70l5 58l5-29l5 41l5-47l5-15l5-52l5-28l5 27l5 31l5 224l5-208l5-20l5 159l5-29l5-36l5 111l5-125l5 9l5-42l5-84l5 128l5-120l5 84l5 172l5-212l5-76l5 86l5 17l5 48l5-286l5 512l5-311l5-265l5 212l5 5l5 57l5-65l5-175l5 82l5 3l5 93l5 75l5 99l5-208l5 50l5 180l5 112l5-153l5-81l5-127l5 44l5 134l5-175l5 186l5-82l5-234l5 475l5-243l5 134l5-114l5 94l5-66l5-48l5 7l5-348l5 335l5 31l5-44l5 32l5 51l5 7l5-110l5 134l5-255l5 82l5 60l5 98l5-136l5 122l5 146l5-145l5-88l5-20l5 181l5-118l5 18l5-36l5 2l5-156l5 291l5-49l5-10l5-84l5 37l5-31l5-300l5 240l5 177l5-19l5-219l5 126l5 37l5 32l5-61l5-4l5 55l5 23l5-48l5 216l5 64l5-204l5-46l5 95l5-94l5 29l5-112l5-154l5 11l5 329l5-105l5 24l5-139l5 338l5-162l5-51l5-42l5 11l5-346l5 411l5-80l5 78l5 2l5-11l5-3l5 249l5-187l5-111l5 23l5-204l5 290l5-25l5-60l5 90l5-128l5 138l5 12l5-93l5-28l5-45l5 47l5 129l5-263l5 296l5-132l5-60l5 62l5 129l5-299l5 152l5 1l5-55l5 133l5 22l5-63l5-4l5 11l5 59l5-2l5-131l5 77l5 3l5-92l5 189l5 16l5-88l5 68l5-113l5 50l5 139l5-169l5 39l5-74l5 100l5 160l5-254l5 270l5-118l5-2l5-112l5-47l5-42l5 195l5 70l5-154l5-79l5 78l5-20l5 64l5-129l5-142l5 234l5-41l5-114l5 108l5-19l5-61l5 54l5-93l5 181l5-155l5 19l5-9l5 8l5 19l5 93l5-349l5 262l5-17l5-21l5 83l5 2l5 0l5-166l5 99l5-120l5 20l5-43l5 267l5-156l5 67l5-271l5 123l5 13l5 47l5-131l5 208l5-106l5 47l5 2l5-17l5-263l5 207l5 32l5-50l5 98l5 35l5-115l5-9l5 107l5-10l5 54l5 193l5-282l5-25l5 53l5-26l5 9l5 32l5-41l5-31l5 33l5-6l5 60l5 51l5-93l5-124l5 184l5-37l5-86l5-23l5 79l5-48l5 22l5 68l5-181l5 161l5-201l5 265l5-8l5-41l5 13l5-120l5 148l5-231l5 187l5 51l5-119l5-193l5 173l5 107l5-82l5 145l5-236l5 232l5-408l5 269l5 72l5-69l5-36l5-51l5 75l5 106l5 93l5-196l5-500l5 417l5 54l5-218l5 134l5-12l5 13l5-18l5 34l5 180l5-184l5-82l5 56l5-58l5 149l5 61l5-288l5 35l5-101l5 69l5 8l5-51l5-5l5 57l5 2l5 1l5-131l5-3l5 61l5-6l5-174l5 216l5-61l5-156l5 133l5-106l5 6l5-63l5 368l5-356l5 17l5-84l5 150l5 174l5-307l5-3l5 35l5 305l5-247l5-43l5-87l5 174l5 451l5-134l5-178l5-35l5 77l5-5l5-32l5 36l5 29l5 45l5-74l5 152l5-12l5 85l5-42l5-102l5-88l5 169l5 155l5-85l5-47l5-150l5 189l5 22l5-64l5 78l5 63l5-73l5 15l5-65l5 74l5-50l5-54l5 60l5 14l5 109l5-80l5-17l5-6l5 63l5-89l5 37l5 9l5 8l5-55l5 59l5 142l5-133l5-73l5 59l5 70l5 32l5 44l5-107l5 5l5 45l5-121l5-62l5 154l5 47l5-100l5 101l5 38l5-51l5-47l5-15l5 354l5-331l5 168l5-49l5-33l5 4l5-106l5-4l5-72l5 46l5-33l5 137l5 24l5-117l5-66l5 103l5 44l5-32l5-173l5 203l5-44l5-161l5 60l5 74l5 227l5-218l5 88l5-213l5-53l5 43l5-41l5 134l5-212l5 152l5-68l5-66l5 147l5 64l5-184l5 72l5-25l5 33l5-45l5 5l5 122l5-170l5-172l5 344l5-43l5-87l5-61l5 125l5-36l5 67l5-69l5-21l5-32l5 101l5 86l5-135l5-332l5 418l5 19l5 50l5 147l5-176l5-156l5 135l5-33l5 12l5-93l5 173l5 26l5-27l5-8l5-46l5-141l5 633l5-395l5 22l5-34l5-113l5 182l5-130l5 48l5 46l5 33l5-11l5 1l5 71l5-77l5 46l5 67l5 270l5-626l5 374l5-264l5-13l5 190l5 105l5-128l5-37l5 71l5 102l5-91l5-74l5 80l5 1l5-123l5 509l5-525l5 89l5-45l5 106l5-102l5 15l5-123l5-112l5 389l5-175l5-76l5 94l5-16l5 67l5 4l5-93l5 82l5-132l5 84l5-209l5 136l5 189l5 48l5-196l5-1l5 54l5-142l5 288l5-53l5-5l5-72l5-103l5 332l5-205l5-90l5-62l5 210l5-149l5-79l5 128l5-43l5 81l5-24l5 32l5 14l5 0l5-74l5-60l5 63l5 3l5 108l5-4l5-139l5 34l5 147l5-43l5-59l5-13l5-52l5-26l5 65l5-49l5-108l5 133l5-63l5-15l5-71l5-81l5-25l5 212l5-86l5 11l5 153l5-192l5 117l5-368l5 212l5-44l5-43l5 98l5-93l5 56l5-87l5 200l5-207l5 160l5-44l5-110l5 161l5-86l5 114l5-99l5 56l5 6l5 30l5 12l5-198l5 131l5-34l5-61l5 59l5 72l5-43l5-43l5 78l5 104l5-82l5 41l5 13l5 44l5 21l5 28l5-48l5 13l5-13l5-57l5 75l5 281l5-216l5-118l5-46l5 171l5-50l5-54l5 156l5 35l5-158l5 13l5 18l5-6l5 42l5-59l5 68l5-21l5 89l5 262l5-268l5 38l5-57l5 9l5-65l5 30l5 139l5-160l5 28l5-25l5 16l5-227l5 116l5 140l5 218l5-144l5-170l5 143l5 77l5-128l5 101l5 60l5-115l5-74l5-34l5 69l5 63l5-36l5-7l5-39l5 124l5-126l5 145l5-96l5 33l5-126l5 52l5 46l5-4l5 66l5-53l5-7l5 111l5-202l5 78l5 174l5-225l5-3l5 140l5 24l5-253l5 117l5-88l5 170l5-230l5 358l5-189l5-77l5-37l5 158l5-105l5 51l5 68l5-89l5-18l5-46l5 89l5-80l5-294l5 403l5-102l5-62l5 82l5 63l5-16l5 86l5-240l5 130l5-141l5 136l5 59l5-92l5 12l5-190l5 206l5 33l5-160l5 104l5 37l5-114l5-34l5 102l5 91l5-105l5 121l5-113l5 129l5-252l5 276l5-34l5-332l5 152l5 39l5 67l5 49l5 77l5-99l5-80l5 195l5-282l5 42l5 537l5-442l5 27l5 141l5-227l5-45l5 356l5-211l5-106l5 22l5-14l5 23l5 30l5-167l5 103l5 84l5 285l5-258l5 8l5-146l5 9l5 130l5-117l5-31l5-36l5 102l5 20l5 7l5-13l5-105l5 159l5 48l5 12l5-28l5-214l5 128l5 30l5 72l5-58l5-25l5-189l5-24l5-54l5 345l5-134l5-46l5 248l5-27l5-203l5 336l5-309l5-4l5-67l5-5l5 8l5 42l5 16l5-124l5 28l5 60l5 49l5-111l5 161l5-78l5 101l5 65l5-115l5-62l5 94l5-270l5 196l5 29l5 111l5-123l5-53l5 16l5 79l5-88l5 95l5-11l5-32l5 88l5-184l5 46l5 23l5 35l5-109l5 71" fill="none" stroke="#1E78E8" stroke-width="30" stroke-linejoin="round"/>
<path d="M712 14431l5 247l5-155l5 29l5-8l5-53l5 88l5-157l5 145l5-272l5 147l5 225l5-291l5-283l5 233l5 16l5 6l5-282l5 447l5-166l5-91l5 162l5 100l5-39l5-108l5 94l5-211l5 183l5-237l5 126l5 82l5-76l5-55l5-42l5 35l5 114l5-18l5-102l5-88l5 159l5-185l5 61l5-37l5 105l5 278l5-341l5-37l5-3l5-14l5 55l5-63l5-43l5-91l5 84l5-50l5-3l5-64l5-239l5 139l5 149l5 94l5-221l5-290l5 144l5 96l5 17l5-69l5-425l5 20l5 223l5 16l5 99l5 100l5-47l5-546l5 468l5-63l5-309l5 225l5 66l5 44l5-245l5 16l5 219l5-30l5-162l5-17l5 61l5-96l5 63l5 159l5-139l5 78l5-128l5 40l5 77l5-242l5-11l5 92l5 27l5 45l5-31l5-195l5 110l5-73l5-6l5-57l5-188l5 331l5 220l5-87l5-135l5-23l5-21l5 99l5-170l5 4l5-38l5 205l5-142l5-135l5 116l5 244l5-226l5 297l5-256l5 17l5-190l5 193l5-255l5-203l5 100l5 76l5-114l5-72l5-95l5-170l5 553l5-377l5-238l5 104l5 93l5-25l5 17l5-291l5 51l5 216l5-290l5-188l5-263l5 234l5-96l5 52l5 26l5-238l5 13l5 248l5-194l5-42l5 225l5 5l5-389l5 287l5-166l5 172l5-49l5-118l5 299l5-179l5 108l5 75l5 17l5-16l5 34l5 98l5 185l5-155l5 16l5 163l5-110l5-10l5 99l5-101l5-110l5-66l5 306l5-53l5 31l5 176l5-205l5 138l5-124l5-116l5 65l5-205l5 163l5-119l5 31l5 305l5-29l5 79l5 8l5-10l5 77l5-198l5 70l5-63l5-37l5 226l5 79l5 144l5-441l5 153l5-73l5 59l5 15l5-121l5 123l5-221l5-102l5 165l5 32l5 81l5-55l5-161l5-163l5 92l5 144l5-196l5 62l5 142l5-89l5-175l5 102l5-2l5-68l5-33l5 2l5-158l5 120l5-112l5 97l5-15l5-48l5-66l5 52l5-198l5 48l5 84l5 9l5 37l5-5l5 109l5-292l5 348l5 45l5-216l5-97l5 153l5 89l5-99l5-217l5 157l5-17l5 258l5-118l5-134l5 323l5-140l5-5l5-24l5-54l5 62l5 9l5-224l5 218l5-81l5 124l5-280l5 287l5-48l5 83l5 0l5-91l5 127l5-12l5 23l5-149l5 88l5 113l5 49l5-224l5 131l5 101l5 31l5 75l5-101l5-80l5 98l5-198l5 215l5-106l5 15l5 23l5 21l5-228l5 72l5-58l5 45l5 360l5-482l5 355l5-205l5-154l5-68l5 388l5-407l5 107l5-253l5 86l5-54l5 152l5-21l5-78l5 401l5-403l5-184l5 172l5-19l5-337l5 211l5-81l5-213l5 142l5 31l5 54l5-65l5 17l5 31l5-34l5 294l5-298l5-7l5 87l5 157l5-181l5-359l5 453l5 84l5-128l5-20l5 62l5 116l5-173l5 15l5 149l5 193l5-39l5-125l5-24l5 42l5 155l5-276l5-17l5 190l5 167l5 3l5 17l5-126l5 195l5 4l5 74l5-215l5 71l5 173l5-94l5 98l5 98l5 136l5-55l5-18l5 25l5 101l5 64l5-370l5 74l5-47l5 102l5-187l5 151l5-251l5 47l5-67l5-88l5 46l5-121l5 251l5-182l5-156l5 1l5 314l5-460l5 155l5 155l5-94l5-167l5-106l5-66l5-134l5 113l5-16l5-78l5-16l5-125l5 254l5-260l5-80l5 53l5 245l5-81l5-245l5 316l5-112l5 62l5 126l5 4l5-76l5 53l5-287l5 460l5-17l5-48l5-211l5 294l5-186l5 117l5 154l5 13l5 95l5-119l5 185l5-160l5 81l5 284l5-300l5-38l5 63l5-19l5 96l5-145l5-74l5 117l5 13l5 115l5-199l5 374l5-307l5-91l5 281l5-261l5-72l5 295l5-261l5 55l5-23l5-2l5 20l5-111l5 209l5 188l5-316l5 118l5-114l5 105l5-283l5 336l5 141l5-49l5 79l5-314l5 238l5 27l5 369l5-262l5 174l5 227l5-175l5-171l5 146l5 128l5-1l5-83l5 261l5-188l5 18l5 134l5-16l5 21l5-62l5 199l5 3l5-94l5-31l5 170l5-6l5 99l5-233l5 125l5-14l5-70l5-116l5 38l5 109l5 76l5-182l5-59l5 155l5 27l5 68l5-268l5 142l5 21l5-88l5-247l5 440l5-418l5 238l5 157l5-147l5 173l5-120l5-56l5 185l5 13l5-85l5 26l5 242l5-137l5-132l5-57l5 94l5-8l5 102l5-187l5-59l5 159l5-105l5 108l5-159l5 130l5-83l5-93l5 21l5 493l5-492l5 240l5-37l5-125l5-161l5 215l5-45l5 148l5-177l5 6l5-241l5 251l5-7l5 50l5-3l5 139l5-88l5-39l5-49l5-29l5-142l5 144l5 133l5-81l5 174l5-207l5-48l5 102l5-149l5 287l5-245l5 167l5-82l5-82l5 90l5-14l5 114l5-53l5-58l5 261l5-367l5 91l5 158l5-22l5-53l5-51l5 73l5 23l5 52l5 1l5-27l5-205l5 216l5-60l5-43l5 171l5 67l5 261l5-379l5-166l5-158l5 373l5-68l5 62l5-70l5-63l5 26l5 161l5-89l5-267l5 299l5 32l5 1l5-60l5-86l5 78l5-22l5 210l5-84l5 69l5-52l5-67l5 129l5-72l5 81l5-171l5-26l5 186l5 74l5 11l5-105l5 330l5-225l5-116l5 75l5 33l5-74l5-30l5-49l5-3l5 57l5-43l5 29l5-158l5 79l5 82l5-57l5 12l5-52l5 153l5-60l5-85l5 50l5-90l5 215l5-264l5 211l5-41l5 9l5 91l5-55l5-53l5-69l5 73l5-64l5 22l5 160l5-52l5-51l5 28l5-216l5 402l5-387l5 128l5 43l5-2l5 24l5-49l5-13l5-7l5 116l5-12l5-237l5 140l5 87l5 94l5-192l5-73l5-54l5 110l5-49l5 17l5-39l5 370l5-339l5-30l5 144l5-202l5 123l5 273l5-309l5 43l5-16l5 126l5-177l5-109l5 76l5 564l5-514l5 27l5-115l5 20l5 35l5 10l5 92l5-174l5 132l5-79l5 39l5 192l5-262l5-24l5 118l5 64l5 28l5-181l5 286l5 71l5-249l5 170l5-135l5-14l5 165l5-163l5 126l5 203l5-68l5-35l5-149l5 48l5 112l5-172l5 85l5 119l5 43l5-14l5 32l5 231l5-470l5 247l5-152l5 117l5-64l5 304l5-109l5-236l5 320l5-64l5-174l5 101l5 81l5-145l5-7l5 150l5-229l5 248l5-21l5 59l5 67l5-277l5 266l5-59l5-24l5 50l5-89l5-134l5 134l5-127l5 91l5 225l5-607l5 422l5-34l5 253l5-243l5-18l5 68l5 62l5 115l5-332l5 288l5-84l5 42l5-371l5 336l5 71l5-52l5-147l5 254l5-352l5 213l5 52l5 211l5-256l5-290l5 206l5 124l5-53l5-43l5-83l5 243l5-286l5 247l5-118l5 123l5-96l5 241l5-323l5 49l5-5l5-132l5 258l5 69l5-50l5-24l5 104l5-206l5 149l5-212l5 131l5 90l5-38l5 92l5-63l5 65l5-107l5 67l5 39l5-157l5 159l5-98l5 36l5 102l5-38l5-131l5 162l5-56l5 90l5 65l5-87l5-85l5 280l5-276l5-43l5 49l5-15l5 18l5-88l5-63l5-222l5 361l5 92l5-57l5 159l5-134l5 25l5 235l5-120l5-87l5-133l5 214l5 88l5-113l5 139l5-180l5-156l5-23l5 60l5 319l5-71l5-59l5 48l5-80l5-161l5-30l5 174l5 78l5 27l5-30l5 169l5 229l5-436l5 49l5 37l5 111l5-267l5 219l5-26l5-10l5-197l5 59l5 127l5-76l5 62l5-57l5 103l5-34l5-34l5 62l5-100l5 139l5 115l5-290l5-99l5 126l5-51l5-191l5 314l5-159l5 213l5 15l5 132l5-138l5 89l5-233l5-4l5 140l5-196l5 208l5 93l5-167l5 156l5-277l5 307l5-338l5 53l5 89l5-18l5-136l5 69l5 80l5 22l5-176l5 84l5 183l5-64l5-55l5-216l5 164l5 160l5-195l5 95l5-211l5 328l5-140l5-155l5 200l5 66l5-153l5 40l5 64l5-136l5 177l5-148l5-78l5 16l5 100l5-25l5-582l6 571l5-60l5 79l5 88l5-126l5-36l5 106l5 64l5-192l5 193l5-169l5 46l5-82l5 99l5-89l5 291l5-144l5-156l5 82l5 49l5 20l5-76l5-5l5 43l5 74l5-199l5-32l5 145l5 300l5-230l5-114l5 24l5-96l5 89l5-26l5-22l5-82l5 175l5-119l5 45l5 40l5 32l5-101l5-24l5 40l5-19l5-175l5 228l5-140l5-96l5 158l5 21l5-53l5-247l5 318l5 4l5-216l5 240l5 0l5 51l5 86l5-88l5-119l5-68l5 88l5-131l5 188l5-102l5 112l5-61l5-130l5-43l5 109l5-58l5 20l5 144l5-232l5 149l5 48l5 106l5-303l5 143l5-74l5 102l5-75l5 194l5-214l5 15l5 79l5 91l5-262l5 143l5-52l5 172l5-300l5 71l5 24l5 102l5 214l5-210l5-38l5-5l5-58l5-54l5 124l5-123l5 112l5 23l5-119l5 10l5-72l5 160l5-49l5-144l5 145l5 183l5-222l5 28l5-2l5-109l5 75l5 1l5-36l5-340l5 192l5 194l5-20l5 24l5-200l5 169l5 80l5-204l5 122l5-79l5-45l5 101l5-35l5-171l5 122l5 114l5-122l5 22l5-12l5 88l5-2l5-139l5-31l5 131l5 43l5-29l5 8l5-130l5-67l5-37l5 174l5-134l5-11l5 218l5-99l5 233l5-97l5-158l5 180l5-122l5 363l5-466l5 138l5 42l5 87l5-228l5 41l5-149l5 222l5 65l5 99l5-119l5 11l5-12l5-377l5 510l5 17l5 55l5-220l5 267l5 80l5-246l5-87l5-145l5 396l5-129l5-48l5 241l5-220l5-134l5 216l5 37l5 57l5 3l5 109l5-310l5-39l5-42l5 265l5 143l5-435l5-34l5-261l5 150l5 304l5-102l5 8l5 100l5 116l5-146l5-28l5-16l5 52l5-61l5 41l5 47l5-111l5 31l5-6l5 68l5-40l5-1l5 16l5-54l5 40l5-160l5-30l5 344l5-568l5 409l5 89l5-71l5-150l5 146l5-45l5-93l5 60l5-39l5 22l5 57l5-156l5 205l5 101l5-180l5-66l5 51l5 140l5-504l5-33l5 635l5-257l5 79l5-54l5 20l5 44l5-70l5 104l5-21l5 87l5-38l5-23l5 98l5-141l5 283l5-315l5 127l5-98l5 117l5-140l5 83l5 271l5-345l5-5l5 128l5-70l5 117l5-19l5-187l5 230l5 86l5-153l5-21l5 121l5 135l5-169l5-10l5-48l5 35l5-9l5 9l5 174l5-360l5 306l5 11l5 71l5-58l5 18l5 52l5-56l5 107l5 159l5-279l5 356l5-438l5 27l5 39l5 11l5-46l5-90l5 127l5-97l5 87l5-58l5 2l5-2l5-148l5 248l5-188l5 102l5 10l5-100l5 139l5-54l5-136l5 68l5 40l5-85l5-111l5 82l5 93l5-116l5 136l5 198l5-468l5 29l5 62l5 202l5-168l5 5l5-5l5 112l5-113l5-225l5 354l5-248l5 121l5 137l5-84l5 79l5-101l5-136l5 150l5-66l5-123l5 18l5 29l5-109l5 226l5-30l5 47l5-105l5 71l5-134l5 245l5-100l5-44l5 65l5 118l5-100l5 198l5 18l5-139l5-192l5 122l5 136l5-149l5-5l5 67l5 231l5-261l5-119l5 196l5 16l5 35l5-270l5 249l5-63l5 125l5-99l5 31l5-122l5 166l5-112l5-73l5 26l5-10l5-75l5 106l5-34l5 5l5-26l5-99l5-9l5 163l5-394l5 73l5 114l5-173l5 135l5-13l5-97l5 108l5-65l5 49l5-450l5 286l5 26l5 167l5-308l5 231l5-113l5 87l5-84l5-11l5-64l5 179l5-206l5 15l5-101l5 14l5-44l5 38l5 26l5-327l5 190l5 19l5 122l5-160l5 45l5-55l5-126l5 109l5 89l5 39l5-327l5 101l5 81l5-113l5-153l5 219l5-54l5-19l5-111l5 238l5-195l5 10l5-24l5 102l5 77l5-123l5 201l5-113l5 65l5 9l5 89l5-78l5-194l5 128l5 172l5-146l5 115l5-3l5 262l5-88l5-92l5-77l5 36l5-72l5-161l5 317l5 99l5 22l5-303l5 189l5-4l5 85l5 48l5 125l5-187l5 128l5 162l5-229l5 124l5-12l5-332l5 254l5 158l5-215l5 21l5 41l5 311l5-46l5-91l5-187l5 196l5-60l5 86l5 84l5-204l5 210l5-240l5 552l5-431l5 151l5-230l5 151l5 103l5-30l5-14l5 11l5-27l5-122l5 302l5-108l5 38l5-5l5-30l5 85l5-95l5-35l5-22l5-62l5 189l5 19l5-88l5 182l5-128l5 121l5-157l5 192l5-60l5-73l5 170l5-15l5-219l5 447l5-273l5-156l5-10l5 10l5-107l5 194l5-198l5 267l5-246l5-98l5 149l5-99l5-102l5 91l5-29l5-144l5 145l5-15l5-166l5 116l5 14l5-33l5 24l5-282l5 161l5-39l5 47l5-136l5 55l5 49l5-39l5 27l5-132l5-65l5 62l5 211l5 108l5-174l5 79l5-257l5 135l5 170l5-19l5 43l5 69l5-93l5-111l5 88l5 163l5-278l5 403l5-384l5 62l5 152l5 64l5-52l5 145l5 19l5-176l5 62l5-77l5 125l5 38l5-6l5 41l5 153l5-364l5-123l5 269l5-128l5 286l5-221l5 533l5-375l5-32l5-98l5 4l5 46l5-85l5 51l5 54l5 83l5 17l5-203l5 72l5 179l5 4l5-141l5 37l5 3l5 163l5 15l5-292l5 179l5-68l5 29l5 56l5 151l5-214l5 157l5-60l5 19l5-91l5-88l5 98l5 80l5-115l5-76l5 125l5 8l5-87l5 71l5 41l5 187l5-152l5 18l5-107l5-69l5-22l5 167l5 38l5-46l5-159l5 76l5-161l5 67l5 599l5-551l5 56l5 21l5-49l5-48l5-197l5 182l5 49l5-50l5 170l5-219l5-47l5 157l5 73l5-45l5-160l5 88l5-117l5 122l5 291l5-348l5-82l5-15l5 47l5-53l5-51l5 122l5-92l5 177l5-127l5-25l5 258l5-347l5-49l5 125l5-144l5 163l5 45l5-80l5 74l5-108l5 4l5-75l5-27l5 164l5-120l5 23l5-63l5 133l5-135l5-113l5 103l5-117l5 104l5-152l5 183l5-90l5 221l5-152l5-47l5 77l5-46l5-102l5 4l5-176l5 235l5 276l5 26l5-267l5 343l5-330l5 278l5-19l5-103l5-165l5 355l5 101l5-378l5 158l5-51l5 87l5-139l5-117l5 334l5 100l5-281l5 154l5 17l5 43l5-21l5 79l5-70l5 48l5-159l5 157l5-110l5 161l5 109l5-221l5-96l5 259l5 63l5 390l5-383l5-309l5 217l5 150l5 62l5-278l5 177l5-65l5-454l5 339l5 95l5 10l5 26l5-64l5 48l5 104l5-24l5-349l5 550l5-386l5 25l5 69l5-27l5 102l5 11l5-302l5 284l5-242l5 194l5-26l5 40l5-69l5 15l5 70l5 30l5-109l5 101l5-128l5 44l5 78l5 6l5-249l5 96l5 35l5 247l5-1l5-122l5-147l5 141l5-39l5-197l5 202l5-10l5 9l5-67l5 4l5-71l5-29l5 69l5 67l5-116l5 187l5-176l5 207l5-286l5 244l5 253l5-277l5-212l5 223l5-255l5 271l5-109l5-161l5 111l5-146l5 170l5 19l5-136l5-125l5 209l5 138l5-25l5-160l5 162l5-375l5 297l5-64l5 112l5-145l5 24l5 121l5-149l5 114l5 67l5-186l5 71l5 370l5-537l5 105l5 188l5 82l5-144l5-140l5-29l5 66l5 58l5 80l5-270l5 24l5-81l5 162l5 104l5-92l5-338l5 111l5 206l5 40l5 361l5-312l5-180l5 56l5 148l5-70l5 168l5-129l5 44l5 26l5-226l5 125l5-327l5 208l5 320l5-477l5 286l5-141l5-29l5 199l5-109l5 83l5-290l5 274l5-119l5 21l5 224l5-222l5-217l5 186l5-15l5 391l5-332l5 7l5 63l5-127l5 96l5-84l5-17l5 115l5-17l5-170l5 141l5 38l5 198l5-437l5 238l5-231l5 220l5 438l5-343l5-1l5-211l5 60l5 13l5-81l5 8l5 97l5-52l5-34l5-48l5 50l5 47l5 55l5 102l5-86l5-178l5 189l5-78l5 63l5-153l5 164l5-137l5 148l5 46l5-155l5-90l5-25l5 210l5-168l5 59l5 70l5-32l5 47l5-82" fill="none" stroke="#B077E0" stroke-width="30" stroke-linejoin="round"/>
<path d="M712 13232l5-27l5 149l5-312l5 219l5 138l5-102l5 533l5-259l5-145l5 98l5-299l5 107l5 202l5-241l5 21l5-53l5 73l5-208l5 125l5 579l5-502l5-37l5 53l5 5l5 12l5 4l5-179l5 163l5-87l5 300l5-242l5-82l5 80l5-194l5 288l5-87l5 76l5-217l5 52l5 70l5 125l5-65l5-188l5 99l5 90l5-125l5-119l5 99l5 11l5-212l5 124l5 23l5-19l5-167l5 79l5-33l5-188l5 435l5-311l5-159l5-26l5 159l5-157l5-167l5 192l5-65l5-32l5-12l5 242l5-124l5-169l5 18l5-222l5 259l5-60l5-209l5 82l5 126l5-15l5 9l5-11l5-491l5 184l5 123l5 171l5-286l5 279l5-222l5-3l5-28l5-155l5 89l5-12l5 100l5-110l5 46l5 8l5-10l5 102l5-28l5-70l5 45l5-181l5 202l5 9l5 100l5-168l5 35l5-101l5 201l5-153l5 5l5 165l5-112l5-14l5 21l5 37l5 99l5-107l5 101l5 25l5-127l5-55l5-70l5-27l5-18l5-107l5-150l5-153l5 311l5-13l5-183l5-116l5 123l5-46l5-437l5 310l5-212l5 102l5-130l5 118l5-187l5 120l5-190l5 33l5 10l5-250l5 226l5-62l5-270l5 168l5-127l5-7l5-119l5 31l5 91l5-86l5-149l5-16l5-184l5 132l5 220l5-242l5 116l5-26l5 76l5-50l5 425l5-116l5-46l5-7l5-351l5 531l5-177l5-140l5 196l5 79l5 1l5-100l5 240l5-40l5 120l5-93l5 38l5 176l5-196l5 36l5-124l5 232l5-108l5 58l5-43l5-139l5 299l5-181l5 24l5-1l5 177l5 1l5-124l5 228l5-572l5 287l5-62l5 289l5-44l5-101l5 139l5 7l5-79l5 84l5 77l5-92l5-85l5 89l5-4l5 123l5-609l5 270l5 144l5-3l5-83l5 70l5-33l5-352l5 228l5-2l5 300l5-309l5 235l5-168l5-121l5 349l5-273l5 29l5-29l5-133l5-14l5 41l5-106l5 50l5 89l5-59l5-119l5 268l5-301l5 139l5 11l5 48l5-180l5 77l5-16l5 115l5-63l5 5l5 12l5-266l5 282l5 19l5-152l5 140l5-177l5 72l5 65l5-86l5-20l5 91l5 21l5-57l5 303l5-277l5-17l5 38l5 42l5 98l5-46l5-92l5 196l5-27l5-112l5 119l5-122l5-8l5 13l5 209l5-115l5 25l5-11l5 74l5-18l5 27l5 119l5-493l5 470l5-56l5-193l5 239l5-375l5 406l5-130l5 120l5-288l5 176l5-31l5-115l5 76l5-285l5 419l5-315l5 7l5 475l5-473l5 8l5-15l5-118l5 151l5-74l5 60l5-130l5-160l5 117l5-94l5 136l5-142l5 119l5-185l5 279l5-275l5 87l5-143l5 14l5 8l5-19l5-60l5-61l5 19l5 42l5-12l5-72l5-16l5 283l5-327l5 158l5-87l5 201l5-7l5-107l5-86l5 20l5 91l5 140l5 23l5 42l5-175l5 174l5 117l5-209l5 162l5 16l5-198l5 247l5-127l5 242l5-222l5 310l5 25l5 180l5 117l5-118l5 33l5 192l5-136l5 73l5 278l5-413l5 275l5-87l5-5l5 154l5-188l5 106l5-40l5-35l5-91l5 105l5-19l5 86l5-272l5-159l5 315l5-193l5 67l5 52l5-54l5-148l5-234l5 333l5 384l5-518l5 24l5-267l5 209l5-35l5-5l5-97l5 205l5-329l5-25l5-14l5-43l5 126l5-155l5 76l5-48l5-100l5 31l5 11l5 25l5-164l5 169l5-84l5-147l5 232l5 69l5-7l5 55l5-292l5 531l5-251l5 70l5-3l5 70l5-200l5 217l5-28l5 114l5-465l5 143l5 135l5 27l5 83l5-48l5 99l5-69l5 383l5-550l5 143l5 160l5-203l5 255l5-352l5 45l5 212l5-324l5-153l5 131l5 46l5 269l5-172l5-217l5 173l5-94l5 15l5 46l5-66l5-15l5 70l5-62l5 127l5-82l5 358l5-245l5 271l5-7l5-8l5-23l5 243l5 11l5-87l5 27l5 72l5 179l5-192l5 117l5 136l5 270l5-293l5 90l5-73l5 335l5-412l5 171l5-124l5 76l5 69l5-67l5 129l5-5l5-11l5 51l5-89l5-267l5 371l5 1l5-98l5-22l5 418l5-371l5 389l5-370l5 244l5-282l5-119l5 251l5-109l5-66l5 152l5-62l5 246l5-240l5 123l5-56l5-52l5-158l5 298l5-100l5-184l5 123l5 5l5 83l5-121l5-28l5 63l5-37l5-96l5 176l5-110l5-43l5-19l5-29l5 76l5 35l5-73l5 63l5-11l5 109l5-397l5 411l5-251l5-62l5 152l5-109l5 49l5-111l5 15l5-10l5 249l5-114l5 15l5-299l5 222l5 130l5 181l5-275l5 107l5-109l5 109l5 14l5 153l5-250l5 182l5-231l5 22l5 159l5-167l5 9l5-176l5 130l5 87l5-76l5 50l5 219l5-336l5 47l5 86l5 123l5-146l5-27l5-68l5 205l5-148l5 266l5-197l5 39l5-67l5 73l5 110l5-136l5-14l5-172l5 260l5-91l5 90l5-19l5-88l5 31l5-56l5 378l5-178l5-5l5 65l5-11l5-41l5 18l5-176l5-48l5 166l5-66l5 61l5-63l5-26l5 164l5-171l5 156l5-161l5 107l5-110l5 80l5-72l5 177l5-190l5 233l5-126l5 37l5 204l5-203l5-29l5 289l5-168l5-102l5 194l5-121l5-46l5-21l5 46l5-134l5 244l5 22l5-154l5-11l5 22l5 140l5-24l5-215l5 203l5-143l5 236l5-162l5-25l5 102l5-140l5-146l5 159l5 137l5-285l5 242l5 233l5-257l5-48l5 249l5-206l5-12l5 10l5-85l5-10l5 19l5-31l5 195l5-287l5 172l5-82l5 63l5 103l5-272l5 320l5-189l5 185l5 51l5-127l5-184l5 226l5-1l5-212l5 8l5 68l5-78l5 88l5 35l5-78l5 106l5-33l5-368l5 395l5-41l5 15l5-64l5-59l5 53l5 119l5-103l5-37l5 118l5 63l5-144l5-42l5 6l5-97l5-29l5-104l5 238l5-46l5 19l5-92l5 30l5-269l5 363l5 134l5-324l5-98l5 168l5-91l5 157l5-24l5-65l5-30l5 53l5-38l5 227l5-147l5 28l5 127l5-201l5 116l5-45l5 469l5-333l5 189l5-113l5 90l5-219l5 206l5-10l5 61l5 93l5-100l5 157l5-131l5 100l5-45l5 224l5-171l5-164l5 160l5-97l5 281l5-343l5 222l5 69l5 98l5-293l5 143l5-206l5 214l5 23l5-28l5 5l5-388l5 295l5 14l5 217l5-34l5 39l5-526l5 523l5-69l5-16l5-20l5 88l5-258l5 226l5 173l5-88l5 2l5-136l5 110l5-118l5 81l5-33l5 28l5 96l5-54l5 174l5-80l5-10l5-73l5 115l5-68l5 158l5-156l5-64l5-39l5 114l5 97l5-104l5 129l5-33l5-95l5 137l5-252l5-35l5 210l5 15l5 179l5-213l5-118l5 173l5-74l5-55l5-169l5 562l5-246l5-182l5 203l5-124l5 173l5-116l5 5l5-2l5 97l5-355l5 318l5-52l5 141l5-212l5 379l5-259l5-141l5 58l5 138l5-79l5 190l5-36l5-123l5-4l5 148l5-277l5 82l5-29l5 193l5-178l5 215l5-99l5-12l5 60l5-98l5 83l5-110l5 57l5-304l5 319l5-63l5-43l5 97l5 144l5-255l5 288l5-90l5-114l5 153l5-130l5 129l5-125l5 80l5-45l5 114l5-123l5 61l5-84l5 220l5-220l5 114l5 15l5 23l5-134l5 45l5-5l5 93l5-322l5 270l5-32l5-19l5 93l5-181l5 502l5-790l5 604l5-171l5 238l5-93l5-114l5-92l5 78l5-14l5 80l5-110l5 134l5-169l5-108l5 188l5-162l5 168l5-36l5-19l5 16l5-20l5 89l5-121l5-158l5-122l5 488l5-123l5-29l5-57l5-84l5-64l5 88l5-114l5-157l5 474l5-106l5 66l5-399l5 325l5-200l5 206l5-67l5 54l5 56l5-153l5 218l5-196l5-44l5 149l5-159l5 25l5 97l5-148l5 85l5 8l5-28l5-50l5 76l5-133l5 424l5-420l5 129l5 112l5-103l5-62l5-34l5 40l5-21l5 277l5-326l5 167l5 205l5-375l5 7l5-53l5 118l5-22l5 20l6 397l5-349l5-187l5 203l5 149l5-254l5 13l5 72l5 33l5-100l5-5l5-24l5 28l5 119l5 73l5-171l5-71l5-79l5-51l5 88l5-17l5 201l5-73l5 37l5-18l5-181l5-33l5 44l5 186l5-271l5 85l5 207l5-161l5-19l5-24l5 113l5-7l5-50l5-24l5-169l5 588l5-286l5-177l5 20l5-16l5 187l5-57l5-169l5 133l5-33l5-38l5-115l5 145l5-181l5 101l5 30l5 2l5-134l5 141l5 305l5-592l5 315l5-70l5 14l5-6l5 83l5 104l5-153l5 2l5 27l5 366l5-460l5-24l5 250l5-220l5 53l5 112l5-204l5 62l5-214l5-68l5 172l5 260l5-178l5-5l5-151l5 205l5 168l5-212l5-9l5 167l5-335l5 216l5-86l5 46l5-304l5 298l5-29l5 25l5-33l5 60l5-128l5 115l5-67l5 86l5-73l5-42l5-28l5 121l5-31l5 62l5-59l5-68l5 106l5-341l5 374l5-199l5 49l5 32l5-317l5 477l5-268l5 76l5 57l5-175l5 68l5 42l5-56l5 52l5 72l5 75l5-252l5 209l5-25l5-161l5 25l5-96l5 211l5-167l5 193l5-226l5-221l5 246l5 45l5-32l5 16l5-137l5 33l5-141l5 225l5-183l5 121l5-23l5-22l5-223l5 68l5 96l5-89l5 71l5-51l5-68l5 172l5 75l5-124l5 212l5-118l5-18l5 2l5-91l5-28l5 194l5-93l5 291l5-255l5 61l5-59l5 132l5-105l5 21l5 183l5-15l5-157l5-9l5 206l5 95l5 41l5 86l5-265l5 42l5 267l5-259l5-4l5-38l5-220l5 242l5-19l5-144l5 166l5-110l5 118l5 51l5-18l5-193l5 282l5-67l5-124l5-217l5 47l5 18l5 145l5-20l5-147l5 197l5-79l5-13l5 113l5 2l5-15l5-111l5 147l5-222l5 120l5 107l5-91l5-4l5-9l5 79l5-127l5-68l5 62l5-17l5-43l5-21l5 239l5-98l5-49l5 95l5-197l5-3l5 6l5 237l5-322l5 38l5 83l5 136l5 121l5-233l5-163l5 312l5 143l5-241l5 27l5 49l5 65l5-194l5 88l5 5l5 25l5-129l5 172l5 7l5-150l5-99l5 276l5-129l5 144l5 14l5-70l5-113l5-96l5 460l5-482l5 257l5-42l5-13l5 76l5-23l5-12l5 122l5-103l5-231l5 283l5 176l5-154l5 3l5 151l5-184l5 22l5 143l5-35l5-128l5-29l5 43l5 40l5 60l5 11l5-280l5 351l5 85l5-146l5 70l5-218l5 381l5-186l5 25l5-259l5 441l5-208l5-13l5 16l5 99l5-107l5 84l5-94l5 96l5-235l5 101l5 52l5 60l5-173l5 72l5 9l5-40l5-111l5 46l5-100l5 29l5 6l5 74l5-12l5 45l5-83l5 108l5 114l5-435l5 72l5-24l5-181l5 150l5 121l5 20l5 24l5-187l5-75l5 30l5 53l5 45l5-36l5-10l5-25l5-111l5 127l5-152l5-141l5 170l5 96l5-273l5 69l5 116l5 137l5-67l5-187l5 279l5-68l5 119l5 37l5-60l5 36l5-183l5 145l5 82l5 88l5-18l5-155l5 316l5-234l5 330l5-312l5-56l5 84l5-12l5 32l5-181l5 227l5 92l5-98l5 81l5 52l5-34l5 73l5-115l5 76l5-76l5-58l5 50l5 316l5-287l5-139l5 258l5-103l5-84l5-55l5-76l5 131l5-160l5 151l5-271l5 141l5 7l5-212l5 224l5-135l5 129l5-102l5 46l5-38l5 6l5 154l5-213l5-146l5-232l5 37l5 472l5-123l5-132l5-84l5 54l5-82l5-22l5-49l5 4l5-145l5 117l5-32l5 106l5-84l5-58l5 143l5-239l5-6l5 42l5-68l5-55l5 61l5-119l5 148l5-130l5-137l5 20l5-17l5 152l5-157l5 283l5-273l5-33l5 0l5 104l5-77l5-109l5 58l5-197l5 93l5-302l5 350l5-66l5 99l5 2l5-121l5 431l5-249l5-173l5 147l5 208l5-17l5-94l5 90l5 13l5 83l5-34l5 31l5 18l5-116l5 135l5-74l5 196l5-42l5-124l5 149l5 272l5-210l5 78l5-144l5 313l5-436l5 123l5-83l5 2l5 342l5-386l5 197l5 195l5-25l5-56l5-94l5 98l5 35l5-147l5 138l5-30l5 19l5-196l5 136l5 198l5 89l5-335l5 295l5-182l5-166l5 283l5-68l5 154l5-39l5-133l5 25l5 81l5 90l5-93l5-73l5 153l5-77l5 99l5-90l5 109l5-88l5 28l5 108l5 63l5-41l5 194l5 42l5-104l5-135l5 122l5-78l5 271l5-329l5 130l5-115l5-25l5 25l5 391l5-497l5 174l5-105l5-48l5 127l5-165l5 60l5-64l5 32l5-80l5 159l5-238l5 147l5-159l5-358l5 398l5 237l5-438l5 88l5-17l5 252l5-522l5 316l5 75l5-273l5 461l5-355l5-204l5 283l5-140l5-72l5 114l5 177l5-32l5-127l5 36l5 171l5-105l5-129l5 157l5 45l5 326l5-439l5-34l5 174l5-102l5 299l5-115l5-89l5-9l5 64l5-45l5 67l5-9l5-146l5 161l5-118l5 143l5-133l5 180l5-13l5-143l5 242l5 87l5-244l5 280l5-62l5-101l5 436l5-502l5 201l5-37l5 81l5 106l5-236l5 112l5 80l5 91l5-193l5 532l5-581l5 205l5 368l5-369l5 9l5-125l5 250l5 2l5-174l5 64l5 142l5-126l5 215l5-74l5-169l5 254l5-129l5-26l5-83l5 4l5-183l5 480l5-328l5-80l5 237l5-29l5-113l5 289l5-247l5-32l5 292l5-23l5-169l5 24l5-58l5 137l5-47l5-133l5-26l5 98l5 219l5-323l5-3l5-14l5-13l5 29l5 232l5-151l5-258l5 324l5-10l5-209l5 47l5-33l5 376l5-350l5 347l5-301l5 23l5-171l5 226l5-76l5-58l5 79l5-120l5 165l5-65l5-124l5-75l5 70l5-183l5 159l5-93l5-16l5 297l5-260l5 88l5 10l5-190l5-143l5-3l5 213l5-54l5-170l5 50l5 72l5 68l5-135l5 172l5-281l5 236l5-237l5 231l5-131l5-209l5 244l5-108l5 21l5 1l5 63l5-114l5 74l5-211l5 93l5-182l5 537l5-223l5-147l5-38l5 86l5-118l5 337l5-274l5-62l5 115l5 48l5-29l5-38l5 28l5 88l5-89l5-10l5 97l5 10l5-99l5 309l5-110l5 70l5-41l5-351l5 456l5 89l5-323l5 114l5-67l5 27l5 124l5-74l5 163l5-263l5 183l5 29l5 110l5-77l5-200l5-25l5 150l5 53l5 41l5 69l5-130l5 110l5 38l5-277l5 283l5-201l5 169l5 57l5-123l5 74l5-65l5-307l5 289l5-15l5 121l5-3l5-146l5-170l5 256l5-75l5 197l5-146l5 82l5-194l5 166l5-97l5 240l5-146l5 106l5 63l5-286l5 159l5-212l5 162l5-18l5 63l5 59l5 10l5 42l5-90l5-165l5 233l5 35l5-1l5 371l5-369l5 56l5-299l5 156l5 59l5-39l5-199l5 305l5-50l5 73l5-232l5-240l5 286l5 120l5 42l5-91l5 98l5-23l5-94l5 102l5-60l5-20l5 398l5-512l5 5l5-109l5 69l5-59l5 136l5 229l5-212l5-43l5 112l5-38l5-58l5 45l5 114l5-82l5-200l5 223l5 11l5-9l5-83l5-192l5 5l5 147l5 28l5 81l5-124l5 151l5-202l5 79l5-95l5 205l5-31l5-8l5-152l5 156l5-250l5 172l5-3l5 228l5-471l5 425l5-172l5-132l5 102l5 219l5-329l5 225l5-72l5 40l5 131l5-107l5-204l5 307l5-175l5-109l5 435l5-219l5 72l5 195l5-356l5 84l5-97l5 32l5 308l5-320l5-121l5 98l5 97l5 69l5-228l5 244l5-25l5 38l5 72l5-72l5-180l5 224l5-109l5-86l5 118l5 18l5 14l5 174l5-128l5-76l5 26l5 137l5-280l5 214l5-224l5 198l5-451l5 423l5-129l5 60l5-133l5 121l5 55l5-105l5 38l5-6l5 360l5-471l5 113l5-147l5 105l5 140l5-164l5 247l5-254l5 101l5-94l5 116l5-97l5-126l5 104l5 18l5 284l5-311l5 137l5 175l5-252l5-13l5 157l5 18l5-228l5 78l5 15l5 20l5-87l5 178l5-120l5 152l5-149" fill="none" stroke="#D4A000" stroke-width="30" stroke-linejoin="round"/>
<path d="M712 16859l6 21l6-93l6-79l6 29l6-13l6-153l6 107l6-229l6 485l6-359l6-98l6 12l6 4l6 88l6-339l6 150l6 33l6-85l6-139l6-28l6-24l6 157l6-78l6 77l6-192l6 16l6-72l6 0l6-124l6 209l6-168l6 14l6 6l6-28l6-113l6 68l6 2l6 126l6-237l6-85l6-31l6 58l6-8l6-76l6 112l6-112l6 10l6-33l6-137l6 135l6-107l6-191l6 150l6-9l6-138l6-47l6-36l6-35l6 27l6-76l6 56l6-83l6 62l6-225l6 191l6 20l6-93l6-119l6 187l6-154l6-100l6 62l6-82l6 29l6-30l6 7l6-85l6 65l6-71l6-22l6 79l6 55l6-232l6 99l6 35l5-88l7-6l6 53l6-154l6-118l6-57l6 118l6 23l6-67l6-51l6 69l6-115l6 57l6-6l6 67l6-77l6 35l6-116l6 26l6-25l6-195l6-165l6-72l6 21l6-54l6-122l6 3l6-73l6-448l6 139l6-120l6 12l6 144l6-361l6 68l6-220l6 191l6-175l6-8l6-54l6 68l6-42l6-93l6-166l6 154l6 2l6 9l6-308l6 320l6 19l6 47l6 98l6-31l6 215l6-333l6 274l6-38l6 199l6-50l6 270l6-215l6 49l6 22l6 40l6 64l6-150l6 188l6-118l6 16l6-201l6 168l6 261l6-110l6-233l6 123l6-26l6 190l6 150l6-197l6 30l6-64l6 359l5-281l7 11l6 5l6 164l6-173l6 81l6-75l6 28l6-51l6 172l6-88l6 12l6 39l6-22l6 23l6 112l6-14l6 4l6 140l6-77l6-170l6-116l6 46l6-201l6 269l6-125l6-100l6-58l6-170l6 29l6-48l6-186l6 149l6-155l6-135l6 34l6 69l6-124l6-102l6 30l6 73l6-111l6 62l6-20l6 108l6-25l6-178l6 145l6-52l6-23l6 88l6-72l6-43l6 169l6-172l6 36l6 36l6 48l6 13l6 158l6-1l6-37l6-87l6 261l6-65l6-74l6 119l6 84l6-108l6 85l6 311l6-432l6 242l6-141l6 138l6-7l6 93l6 2l6-72l6 314l6-206l6-81l6-18l6 219l6-256l6 142l6 14l6-2l6-59l6 29l6-41l6-51l6 154l6-177l6 219l6-300l6 275l6-239l6-130l6-18l6-55l6-63l6 14l6-2l6-50l6-47l6-122l6 90l6-41l6 44l6-152l6-73l5 17l7 0l6 37l6 73l6 163l6-249l6 92l6-48l6 107l6-42l6-141l6-124l6 192l6-68l6 170l6-67l6-125l6 166l6 45l6 142l6-118l6 21l6-18l6 148l6 82l6-6l6 50l6 47l6 67l6-15l6 43l6-39l6 105l6 59l6 73l6 36l6-48l6 90l6 143l6-56l6 40l5 207l7-174l6 24l6-414l6 203l6-103l6-142l6 48l6 26l6-134l6-122l6-129l6 14l6-50l6 38l6-260l6-67l6 113l6-330l6 0l6-32l6-89l6-26l6-140l6-79l6-52l5-110l7-19l6 43l6 15l6 55l6 175l6 42l6-155l6 276l6 52l6-96l6 389l6-192l6 180l6 30l5-23l7 37l6-22l6-57l6 107l6 430l6-205l6-248l6 51l6 74l6-26l6-112l6 142l6 38l6 27l6-87l6 120l6-60l6-8l6 106l6-68l6 65l6-18l6-51l6-102l6 369l6 32l6 168l6-18l6 155l6 41l6-33l6 60l6 380l6-88l6-56l6 52l6-8l6 250l6-108l6-30l6 139l6-82l6-284l6 186l6 80l6-277l6 228l5 116l6 42l6 41l6-17l6 6l6-464l6 426l6-46l6 115l6 211l6-215l6-72l6-23l6 147l6-9l6-81l6 179l6-141l6 72l6-73l6-1l6-140l6 93l6-29l6 10l6-116l6-32l6-86l6 208l6 2l6-4l6-23l6 129l6-288l6 140l6 70l6-123l6-226l6 215l6-101l6 24l6 68l6-101l6 84l6-55l6 103l6-165l6 104l6 5l6-77l6-27l6-96l6 373l6-219l6-214l6 242l6 29l6 58l6-53l6-2l6 43l6-27l6-87l6 111l6 30l6-43l6-26l6 139l6-49l6 105l6-95l6 146l6-274l6 264l6 37l6-81l6 91l6 17l6-152l6 53l6 78l6 97l6-100l6 51l6-95l6 115l6 6l6-36l6 61l6-27l6 92l6-129l6 60l6-20l6 248l6-220l6 41l6 165l6-114l6 72l6-118l6 103l6 5l6-15l6 145l6-261l6 161l6 22l6-6l6-109l6 253l6-173l6-14l6 123l6-108l6 52l6-253l6 195l6 66l6 48l6-46l6 40l6-119l6 206l6-141l6 86l6-211l6 36l6-112l6 299l6 97l6 5l6-80l6-27l6-1l6 1l6-6l6-27l6-19l6-3l6 184l6-177l6-1l6-18l6 24l6-3l6 3l6 83l6-53l6 135l6-55l6-188l6 53l6 181l6-124l6 27l6 76l6-147l6 87l6 101l6-11l6-229l6 110l6 3l6-73l6 79l6-5l6-118l6 102l6-63l6 17l6 7l6 84l6-77l6-21l6-119l6 97l6 42l6 191l6-192l6-211l6 130l6-10l6-78l6 288l6-221l6 53l6-20l6-99l6 110l6-28l6 37l6-79l6-108l6 51l6 16l6-5l6-82l6 50l6 67l6-372l6 317l6-27l6 126l5-108l7-63l6 255l6-260l6 211l6 215l6 30l6 19l6 43l6-13l6 131l6-18l6 409l6-198l6-24l6 25l6 77l6 38l6-134l6 97l6 102l6 27l6-95l6 95l6-147l6 138l6-71l6 79l6-28l6-81l6 176l6-76l6 134l6-28l6 23l6-23l6-8l6-39l6 97l6 62l6-58l5 8l7 112l6 173l6-297l6 83l6-70l6 31l6 35l6 105l6 41l6-214l6 85l6 1l6 50l6-10l6-47l6 56l6-47l6-4l6 82l6-15l6-37l6 75l6-52l6-15l6 42l6 46l6-61l6 119l6-86l6-80l6 148l6-37l6 224l6-224l6 70l6 22l6-54l6-26l6 22l6-13l6-107l6 166l6-6l6-267l6 321l6-70l6-56l6 70l6 105l6-77l6 24l6 79l6-1l6-114l6 89l6-60l6 31l6 229l6-260l6 19l6 79l6 8l6 10l6-9l6-6l6 11l5 17l7-31l6 51l6-53l6 0l6-23l6-77l6 129l6 27l6 23l6 71l6 6l6-68l6-108l6 11l6 161l6-23l6 8l6 65l6-294l6 314l6 101l6-148l6 145l6-240l6 74l6-42l6 59l6-98l6 34l6 75l6-32l6-150l6-116l6 494l6-306l6 48l6 96l6-126l6 123l6-68l6 3l6 96l6-240l6 177l6-6l6 96l6-142l6 64l6-25l6 177l6-439l6 285l6-58l6-118l6 205l6-51l6 113l6-118l6 22l6 104l6-123l6 25l6-93l6 78l6-13l6 238l6-290l6 255l6-63l6 120l6-282l6-76l6 480l6-391l6-132l6 497l6-257l6-107l6 15l6 110l6-116l6 18l6 65l6-135l6-22l6-7l6 152l6 116l6-268l6-40l6-35l6 26l6 132l6-51l6-155l6 269l6 108l6-191l6-68l6 50l6-56l6-114l6 214l6 24l6-65l6-118l6 127l6-98l6 55l6-19l6 2l6-42l6 107l6-140l6 92l6 42l6-16l6-109l6 104l6-101l6-66l6 95l6 137l6-200l6 32l6-65l6 39l6-114l6 145l6 44l6-65l6 164l6-9l6-36l6 62l6-150l6-15l6 58l6 29l6-76l6 68l6-22l6-139l6 220l6-59l6-115l6-28l6 298l6-216l6 1l6 9l6 90l6-157l6-33l6 166l6-49l6-249l6 10l6 261l6 150l6-261l6 63l6-61l6 99l6-20l6 301l6-266l6 127l6-245l6 98l6 25l6-79l6 11l6 21l6 32l6 96l6 18l6-42l5 8l7-145l6 151l6-102l6 56l6-49l6-71l6 132l6 8l6-72l6-66l6 147l6-79l6-94l6-9l6 2l6 83l6-85l6 185l6-25l6-84l6-32l6 2l6-67l6-13l6-58l6 69l6 7l6-84l6-30l6 158l6-117l6-65l6 51l6 50l6-51l6-117l6 122l6-62l6 79l6-15l6-33l6-62l6 17l6-57l6 43l6 120l6-186l6 52l6 88l6-86l6 57l6-165l6-71l6 167l6 157l6 33l6-72l6 53l6 5l6-76l6-254l6 377l6-11l6 28l6-29l6 9l6 63l6-147l6 315l6-188l6 21l6-129l6 24l6 130l6-63l6 59l6 34l6-92l6 9l6 76l6 70l5-50l7 81l6-452l6 347l6 4l6 32l6 10l6 160l6-186l6 30l6-72l6 55l6-24l6 14l6 164l6-200l6 94l6-109l6 39l6 78l6-91l6 5l6-111l6 126l6 108l6-323l6 208l6-134l6 14l6 124l6 8l6-70l6-92l6 35l6 84l6-40l6 65l6-161l6 170l6 55l6-132l6 116l6-84l6 106l6-50l6-37l6 163l6-264l6 202l6 51l6 3l6-18l6-16l6 72l6-82l6 86l6 8l6 2l6-306l6 300l6-55l6-12l6 150l6-9l6-14l6 139l6-173l6 19l6 71l6 11l6-101l6 108l6-146l6 89l6 69l6 13l6-164l6 147l6-87l6 49l6 32l6-129l6 16l6 110l6 26l6-18l6 13l6 56l6-158l6-1l6 17l6-35l6 110l5-19l7 39l6-64l6 38l6-59l6-117l6 271l6-231l6 17l6 48l6 129l6-129l6 2l6-261l6 181l6-72l6 24l6-107l6 244l6-175l6-31l6-31l6 93l6-106l6-68l6 28l6-53l6-151l6 89l6-48l6-282l6 50l6 77l6 124l6-98l6-70l6-91l6 47l6-83l6 176l6-145l6 153l6-160l6 166l6 48l6-92l6 101l6 73l6-19l6-50l6 143l6 107l6-9l6-19l6-26l6 62l6 66l6 98l6-110l6 84l6 27l6 37l6 262l6-130l6-89l6-33l6-76l6-37l6 2l6 105l6 118l6-393l6 117l6-180l6-145l6 148l6-102l6-20l6 87l6-289l6 23l6 98l6 25l6-181l6 24l6-16l6 133l6-241l6-410l6 219l6 76l6-29l6 8l6-70l6 51l6-162l6 19l6 53l6-7l6 5l6 0l6-4l6-101l6-159l6 96l6-48l6 118l6-137l6-13l6-54l6 8l6 39l6-64l6-77l6-124l6-44l6 54l6-69l6 28l6-55l6-285l6 445l6-240l6-50l6-4l6-186l6 83l6-34l6-129l6 30l6 65l6 81l6 146l6 169l6 3l6 20l6 39l6 117l6-10l6-6l6-57l6 289l6 168l6 3l6 150l6 44l6-76l6-163l6 338l6 276l6-197l6 49l6 347l5-180l6-247l6 231l6-133l6-94l6 293l6-341l6-105l6 67l6-103l6-20l6-98l6-64l6-178l6 155l6 47l6 124l6 117l6-44l6 9l6 16l6 99l6 191l6-195l6 89l6 97l6 40l6-73l6 42l6 67l6 15l6 92l6 54l6-10l6 97l6-274l6 171l6 82l6 72l6-90l6 127l6 35l6 120l6-170l6 132l6 9l6-219l6 251l6-4l6 113l6-240l6 187l6 52l6 25l6 18l6-216l6-420l6 294l6-78l6 63l6-141l6 112l6 51l6-108l6-252l6 127l6-56l6-51l6 21l6-110l6 19l6-89l6 120l6 25l6-176l6-126l6 145l6-196l6-77l6-28l6-30l6 35l5-81l7 64l6 107l6-86l6 110l6-317l6 250l6 171l6-6l6-17l6 91l6 255l6-127l6-72l6-167l6 359l6 19l6 9l6 14l6 54l6 99l6-252l6 219l6-12l6-26l6 100l6-41l6 104l6-176l6 196l6-79l6 145l6 49l6 20l6-63l6 10l6 37l6 22l6 157l6-171l6-8l6 173l6-126l6-96l6 72l6-76l6-73l6 324l6-243l6-167l6 30l6 10l6-8l6-10l6-214l6 130l6-13l6 35l6-125l6 0l6-122l6-180l6 269l6-130l6 26l6-273l6 272l6-98l6-3l5-27l7 13l6 61l6-34l6-36l6 108l6-101l6 295l6-11l6-19l6-75l6 167l6 52l6 131l6 2l6-156l6 131l6 65l6 112l6-135l6 161l6-333l6 147l6-44l6-287l6 114l6 29l6-27l6 20l6-90l6 102l6-103l6 5l6-67l6 72l6-187l6-18l6 127l6-126l6-164l6 181l6-112l6 15l6 60l6-31l6-38l6 67l6-89l6-72l6-22l6-109l6 225l6 226l6-368l6 126l6 58l6-45l6 41l6-27l6 171l6-93l6-107l6 199l6 254l6-139l6-29l6-141l6 152l6 3l6-30l6 159l6 39l6 329l6-304l6-20l6-25l6-108l6 224l6 183l6-122l6-272l6 86l6 84l6 0l6 43l6-12l6 105l6-13l6-48l6 111l6-78l6 193l6-106l6-24l6 41l6 8l6 55l6-156l6 230l6-99l6-38l6 152l6-114l6 117l6-103l5-19l7 20l6-34l6-29l6 87l6-66l6 22l6-56l6 40l6 19l6-86l6 131l6-94l6 19l6-33l6 55l6-91l6-28l6 53l6-27l6-21l6 117l6-107l6 25l6-140l6 68l6 28l6 92l6-110l6 76l6-173l6 69l6 16l6 23l6 9l6-124l6 140l6-24l6 2l6-113l6 115l6-166l6 94l6-2l6 50l6-50l6-48l6 116l6-203l6 63l6 10l6 76l6-44l6-119l6 274l6-227l6 100l6 235l6-140l6-161l6-108l6 122l6 19l6-87l6-12l6 20l6 38l6 37l6 34l6-86l6-25l6 21l6-155l6 58l6-84l6 250l6-100l6-36l6 68l6-32l6-238l6 252l6-10l6-121l6 148l6-46l5-12l7-24l6-57l6 36l6 6l6-64l6 44l6 250l6-312l6 37l6 224l6-235l6 65l6-136l6 172l6-153l6 115l6-97l6 93l6-117l6-230l6 262l6-82l6 64l6-39l6 167l6-191l6-7l6 32l6-38l6-58l6 99l6-72l6-11l6 10l6 169l6-78l6-148l6 27l6-97l6 87l6 36l6-138l6 130l6-65l6-379l6 546l6-189l6 46l6-36l6 39l6-60l6-66l6 1l6-150l6 246l6 122l6 35l6-449l6 124l6-36l6 86l6-56l6 4l6 211l6-67l6-121l6 74" fill="none" stroke="#36B06C" stroke-width="32" stroke-linejoin="round"/>
<path d="M712 11482l5 65l5-183l5 217l5-305l5 194l5 75l5-72l5-84l5 32l5 196l5-101l5-24l5 106l5-44l5 2l5-18l5-40l5-135l5 230l5-199l5 86l5-87l5 135l5 10l5-46l5 100l5-174l5 167l5-198l5 231l5-332l5 221l5 140l5-293l5 237l5-16l5 27l5-1l5-21l5 189l5-227l5 14l5-15l5 75l5-66l5-126l5 244l5-104l5-549l5 506l5 52l5 12l5-248l5 51l5 109l5-75l5 212l5-427l5 147l5 286l5-275l5-43l5-3l5-88l5 13l5 37l5 278l5-328l5 364l5-411l5 25l5 68l5 57l5-41l5-308l5 186l5 29l5-29l5-13l5-56l5 19l5-94l5 253l5-11l5-132l5-75l5 184l5 349l5-372l5-118l5 484l5-462l5 167l5-364l5 233l5-18l5-209l5 69l5 35l5-180l5 218l5-34l5 120l5 11l5-16l5-87l5 27l5 173l5-162l5 26l5-45l5 84l5 2l5-33l5-56l5-4l5-100l5 41l5-156l5 61l5 349l5-490l5 117l5-63l5 272l5-329l5-180l5 192l5-145l5 27l5 52l5-269l5 80l5-151l5 17l5-69l5 81l5-15l5 120l5-250l5 75l5-27l5 193l5-271l5 189l5-85l5-134l5 44l5-23l5 139l5-114l5 7l5-31l5 49l5 93l5-105l5-94l5 178l5-75l5 148l5 423l5-274l5-284l5 80l5 17l5 163l5-245l5-130l5 303l5 98l5-126l5 181l5-53l5-123l5 201l5-73l5 28l5 6l5 95l5-262l5-8l5 254l5-43l5-110l5 43l5 130l5-20l5-129l5 120l5 84l5 240l5-198l5 57l5-27l5-176l5 98l5-222l5 253l5-64l5 154l5 108l5-71l5-19l5-2l5-132l5 47l5 63l5-463l5 471l5-119l5 136l5-145l5 243l5-153l5 79l5 172l5-245l5-1l5-8l5-401l5 503l5-47l5 88l5-159l5 33l5 91l5 79l5-57l5-74l5 49l5-161l5-104l5 144l5-97l5-28l5 70l5-127l5 238l5-338l5 16l5-52l5-203l5 441l5-129l5-184l5 158l5-167l5 57l5 7l5-93l5 81l5 92l5-130l5-110l5-12l5 135l5 103l5-55l5-25l5 48l5 55l5 4l5-280l5 156l5 16l5 198l5-72l5-81l5 57l5 133l5-190l5-189l5 352l5 4l5 0l5-118l5-36l5 205l5-109l5-13l5 9l5 124l5-85l5 2l5 75l5 90l5-208l5 128l5-80l5-98l5 184l5-103l5-247l5 265l5 126l5-107l5 2l5-57l5 206l5-324l5 223l5-74l5 19l5-44l5-94l5-164l5 347l5 23l5 25l5-136l5 30l5-95l5 110l5 151l5 18l5-126l5 9l5 29l5 2l5-108l5 289l5-106l5 17l5-207l5-130l5 76l5-48l5-138l5 63l5-112l5 44l5-245l5 25l5 146l5-69l5 11l5-18l5 5l5 100l5-109l5-42l5 35l5 37l5-22l5 0l5 66l5 37l5-48l5 134l5-152l5-31l5 44l5 162l5-72l5 140l5-107l5 49l5 263l5-367l5 133l5 253l5-11l5-248l5 143l5-47l5-20l5 165l5 52l5-43l5 24l5-84l5 11l5 75l5-75l5 11l5 182l5-232l5 86l5-96l5-5l5 355l5-264l5-55l5 85l5-42l5 48l5-1l5-3l5 178l5-180l5 68l5-108l5-74l5-364l5 297l5 51l5 82l5-78l5-89l5 220l5-223l5-39l5-21l5-109l5-7l5 253l5-338l5 63l5-48l5-97l5-31l5-77l5-49l5 195l5-286l5-276l5 460l5-19l5 66l5-24l5 150l5 213l5-307l5 149l5 128l5-179l5-99l5 207l5-15l5 80l5 96l5-24l5 236l5-102l5-36l5 29l5 71l5-107l5 28l5 42l5-22l5 4l5 69l5-75l5 56l5 155l5-200l5 31l5 38l5 125l5 66l5-16l5 26l5-207l5 187l5-33l5-128l5 168l5 207l5-347l5 178l5-79l5 62l5 176l5-500l5 274l5 82l5-127l5 106l5 31l5 261l5-220l5-38l5 34l5-4l5 279l5-116l5-80l5-29l5-98l5 28l5 0l5-58l5 86l5 101l5-142l5 38l5-104l5 107l5 20l5-28l5 44l5-66l5 12l5-33l5 125l5-45l5 178l5-196l5-36l5 94l5 79l5-155l5 38l5 90l5-180l5-8l5 146l5 29l5 96l5-141l5-61l5 7l5 52l5-72l5 66l5-98l5 53l5 104l5-25l5-103l5 131l5-202l5 463l5-306l5-60l5 202l5-253l5-32l5 78l5-35l5-78l5 167l5-96l5-33l5 78l5 36l5-320l5 214l5 20l5 31l5-138l5 187l5-7l5-103l5 47l5-3l5 88l5-46l5 403l5-249l5-49l5-104l5-99l5-90l5 82l5-48l5 195l5-49l5 60l5-72l5-84l5 69l5-81l5 261l5-326l5 126l5 69l5-17l5 24l5-71l5 28l5 28l5-51l5 105l5-129l5 231l5-180l5-97l5 212l5-89l5 37l5-33l5-5l5 99l5-144l5 32l5 73l5-22l5-32l5 99l5-203l5 120l5-295l5 206l5-6l5 367l5-257l5-56l5 24l5 29l5-156l5-305l5 360l5 97l5 84l5-54l5-12l5-219l5 212l5 118l5-80l5-13l5-45l5 6l5 206l5-248l5-4l5-26l5 165l5-81l5-146l5 124l5 44l5 17l5-131l5-200l5 214l5 55l5-64l5 37l5-34l5 39l5 60l5-189l5 109l5-35l5-20l5-244l5 343l5-5l5-5l5-200l5 612l5-225l5-201l5-114l5 145l5-18l5 2l5-64l5-57l5-57l5 102l5-6l5-48l5 26l5 172l5-144l5 98l5-232l5 54l5 7l5 146l5-135l5-216l5 266l5 98l5-79l5 63l5 11l5-45l5-74l5 170l5 54l5-126l5-194l5 157l5-44l5 30l5 34l5 26l5-153l5 93l5-37l5 21l5-80l5 69l5-25l5 124l5-127l5 176l5-56l5-185l5 67l5-26l5-63l5 248l5-203l5 142l5-434l5 387l5 7l5 92l5-183l5-17l5 66l5-44l5 30l5 46l5 37l5-145l5-10l5 99l5-196l5 157l5 20l5-4l5-132l5 270l5-347l5 127l5-72l5 173l5-77l5-118l5 126l5-11l5-97l5 129l5-69l5 33l5-304l5 254l5 126l5-126l5 262l5-227l5-137l5 312l5-193l5 200l5 42l5-184l5 186l5-108l5 38l5 215l5-120l5-328l5 238l5-126l5 120l5-8l5 23l5 94l5-70l5 24l5-24l5 67l5 54l5 148l5-246l5 27l5-10l5-22l5 103l5-79l5-45l5 161l5 69l5-44l5 2l5 77l5-203l5 284l5 88l5-339l5 150l5-74l5 30l5-357l5 279l5 9l5 63l5-14l5-53l5 84l5-160l5 159l5 15l5-236l5 84l5 126l5 8l5 71l5-420l5 305l5 53l5-92l5 147l5 59l5-55l5-114l5 249l5-485l5 230l5-2l5 127l5-85l5-21l5 87l5-27l5 309l5-370l5 226l5-54l5-33l5-107l5 152l5-168l5-121l5 354l5-24l5-314l5 144l5-25l5 295l5-355l5 100l5 133l5-53l5 235l5-507l5 248l5-21l5 103l5 65l5-148l5-69l5 192l5-234l5-38l5 206l5-77l5 62l5-189l5 496l5-457l5 70l5 142l5-82l5 63l5 54l5-106l5-265l5 419l5-112l5-186l5 242l5-22l5-98l5 20l5-82l5 47l5 181l5-99l5-108l5-24l5 50l5-48l5 8l5-79l5 200l5-187l5-57l5 202l5-48l5 47l5 127l5-141l5-33l5 62l5-18l5-4l5-125l5 267l5-156l5 243l5-205l5 80l5 90l5-59l5-23l5-43l5-103l5-10l5 51l5 39l5-59l5-78l5 279l5-406l5 121l5 228l5-112l5 204l5-113l5-109l5 483l5-491l5 182l5-115l5-48l5 40l5-83l5 192l5-145l5-3l5 18l5 43l5-6l5-6l5-49l5-41l5 102l5 202l5-242l5-80l5 54l5-43l5 50l5 98l5-248l5 113l5-41l5 71l5-109l5 10l5 96l5-66l5 15l5 108l5 40l5-497l5 378l5 52l5-203l5 93l5 105l5 11l5 19l5-5l5-128l5 20l5 105l5-10l5-291l5 236l5-3l5 33l5 15l5 122l5-322l5-21l5 146l5-68l5 95l5-106l5-75l5 455l5-296l5 62l5-44l5 63l5 68l5-339l5 10l5 89l5-135l5 31l5 271l6-15l5-48l5 117l5-331l5-3l5 155l5-155l5 86l5 26l5 72l5 90l5-237l5 141l5-37l5-24l5 64l5-473l5 471l5-183l5 119l5-159l5 33l5 47l5 21l5 54l5 84l5-240l5 22l5 67l5-6l5-2l5-44l5 183l5-65l5-35l5-78l5-52l5 108l5 133l5-175l5-219l5 238l5-51l5 79l5 35l5-182l5 164l5-102l5 107l5-373l5 15l5 129l5 45l5 181l5-15l5-126l5-164l5 16l5 143l5-184l5 85l5 435l5-243l5-156l5 2l5 161l5-156l5 29l5-83l5 78l5-43l5-25l5 95l5-113l5 313l5-347l5 294l5-79l5 53l5-215l5 97l5 34l5-70l5 47l5 59l5-233l5 19l5 111l5 34l5-194l5 83l5-31l5-43l5 282l5-51l5-24l5-15l5-24l5-133l5 78l5 108l5-207l5 153l5-202l5-51l5 196l5-193l5 29l5 233l5-24l5-275l5 179l5 89l5-153l5 269l5-97l5-73l5 462l5-603l5 53l5 59l5 130l5-163l5-141l5 96l5 69l5-448l5 15l5 416l5-86l5-71l5 41l5 178l5-36l5 255l5-138l5-108l5-102l5 70l5-189l5 112l5 115l5 75l5-212l5-34l5 125l5-258l5 139l5-42l5 1l5-34l5 3l5-86l5 44l5 189l5-47l5-31l5-58l5-117l5 263l5-213l5 67l5-21l5 183l5-271l5-143l5 175l5 134l5 144l5-278l5 116l5 79l5 28l5 60l5-46l5-35l5-116l5 152l5-58l5-256l5 475l5-178l5 94l5-73l5 50l5 256l5-431l5 253l5-177l5 185l5-259l5 69l5 143l5-155l5 453l5-313l5-6l5-61l5 60l5-118l5 163l5-215l5 159l5-132l5 129l5-1l5-179l5 257l5-76l5-100l5-36l5 17l5-210l5 256l5-39l5 52l5-90l5-66l5-39l5 294l5-177l5 41l5 8l5-85l5 6l5-26l5 44l5-17l5-81l5 123l5-10l5 77l5-32l5 94l5-53l5-147l5 266l5-192l5-29l5-68l5 60l5-18l5 36l5 98l5-108l5 169l5-224l5 154l5 5l5-190l5 255l5-84l5-18l5-41l5-5l5 223l5-118l5-7l5-138l5 194l5 4l5-71l5 76l5 197l5-220l5-175l5 87l5 161l5-287l5 199l5 122l5 34l5-480l5 453l5-77l5-37l5 50l5 110l5-91l5-4l5-62l5-100l5 110l5-28l5-51l5 171l5-24l5-15l5-27l5-32l5 104l5-200l5 180l5-78l5-232l5 298l5 197l5-313l5 150l5-298l5 116l5 89l5-32l5 29l5-20l5 41l5 43l5-131l5 196l5-113l5-72l5 102l5-135l5-307l5 291l5 154l5 75l5-172l5-263l5 299l5 80l5-96l5-198l5 242l5 103l5 0l5-183l5 435l5-783l5 454l5 34l5-246l5 45l5-8l5-26l5 33l5-29l5-232l5 398l5-93l5 43l5-53l5-52l5-41l5 114l5-54l5 392l5-418l5 130l5-260l5 174l5-26l5-24l5-111l5 98l5 3l5 40l5-134l5 127l5 418l5-428l5-94l5 200l5-221l5 53l5 61l5-123l5 150l5 17l5 96l5-300l5 144l5 150l5-58l5 35l5 83l5-143l5 39l5-11l5-244l5 305l5-57l5 14l5 53l5-115l5 242l5-183l5 163l5-154l5 128l5-58l5 48l5 105l5-85l5-248l5-58l5 303l5-114l5-223l5 212l5 77l5 17l5-404l5 174l5 68l5 36l5-329l5 345l5-30l5 231l5-270l5-320l5 111l5 166l5 113l5-204l5 442l5-603l5 95l5 116l5 16l5-134l5 18l5-230l5 99l5 131l5-66l5 126l5 15l5-280l5 170l5-56l5-10l5-183l5 153l5 48l5-168l5 162l5-189l5 192l5-247l5 192l5-116l5-1l5-128l5-96l5-140l5 258l5 195l5-220l5-64l5 78l5-34l5 32l5 96l5-103l5-178l5 78l5 60l5-42l5-143l5 292l5-163l5-64l5 112l5 37l5 341l5-393l5 31l5 25l5 56l5 42l5-13l5 241l5-212l5-367l5 231l5-61l5 282l5-156l5-7l5 235l5-154l5 121l5-117l5 59l5-217l5 264l5 108l5-160l5 117l5-132l5 39l5-237l5 288l5 113l5-46l5-187l5 143l5 30l5 56l5-45l5 55l5 61l5-7l5 14l5 141l5-86l5-192l5 117l5 141l5-137l5 400l5-536l5 288l5-135l5 300l5-126l5-100l5-248l5 458l5-79l5-42l5 376l5-378l5 25l5 4l5 425l5-242l5-107l5 79l5-147l5 98l5-109l5 282l5 207l5-231l5-34l5 90l5-83l5-131l5 444l5-226l5 37l5-119l5 113l5-15l5-171l5 41l5 138l5-71l5 194l5-90l5 1l5 161l5-180l5 159l5-135l5-33l5-151l5 423l5-365l5 145l5-266l5-12l5 184l5-75l5 51l5 145l5-27l5-228l5 186l5-26l5-109l5-112l5 140l5-119l5-32l5 16l5 35l5 33l5-91l5 144l5-135l5-58l5 227l5-225l5 156l5 41l5-72l5 74l5-29l5-6l5-28l5 21l5 118l5-136l5 159l5-30l5-57l5 95l5-159l5 118l5-16l5-39l5 72l5-160l5 210l5-125l5 306l5-119l5-307l5 357l5-53l5-8l5 81l5 145l5-305l5 90l5 16l5-102l5 157l5 4l5 141l5-12l5 17l5-54l5-2l5 78l5 106l5-37l5-91l5-67l5-431l5 514l5-175l5 151l5-19l5 73l5 55l5-125l5-87l5 32l5 241l5 11l5-367l5-117l5 175l5 157l5-15l5-124l5 85l5-12l5-29l5-45l5 173l5 9l5-363l5 207l5-125l5 271l5-240l5-90l5 143l5 114l5-12l5 4l5-53l5-84l5-22l5-22l5 147l5 93l5-100l5 95l5-196l5-39l5-20l5 60l5 18l5 87l5-87l5-47l5-106l5 260l5-86l5-131l5 74l5 64l5 13l5 94l5-98l5-407l5 262l5 55l5-93l5-155l5 226l5-90l5-141l5 9l5 105l5-373l5 210l5 180l5-319l5 160l5 175l5-305l5 190l5-78l5-131l5 329l5-149l5-290l5 325l5-147l5 35l5-70l5-125l5 103l5 64l5-264l5 84l5 20l5-47l5 175l5-353l5-109l5 261l5-21l5-169l5 532l5-347l5 38l5-63l5-290l5 215l5-79l5 153l5 6l5 13l5-248l5 123l5 7l5 186l5-209l5 29l5 131l5 122l5-12l5-13l5-35l5-83l5 55l5-70l5-87l5 94l5 135l5-47l5-25l5-88l5 219l5-24l5-157l5 144l5 2l5-82l5 3l5 127l5-191l5 170l5-80l5 63l5-94l5 20l5 6l5-150l5 99l5 100l5-56l5 17l5 95l5 221l5-230l5-192l5 166l5 23l5-21l5-20l5 55l5 34l5-298l5 123l5 115l5 47l5-37l5-21l5-53l5 3l5 58l5-26l5 78l5-50l5 4l5-104l5-87l5 126l5 311l5-197l5-38l5-120l5 170l5-214l5 5l5 205l5 101l5-55l5-70l5-121l5 75l5-23l5 167l5-166l5 1l5 12l5-56l5 177l5-221l5 115l5-37l5 52l5 14l5-90l5 16l5 12l5-8l5 101l5-214l5 61l5 191l5-42l5-46l5 70l5-39l5-109l5 112l5-214l5 78l5-280l5 334l5 78l5-98l5 17l5 113l5-238l5 227l5 48l5-71l5-17l5-135l5 113l5 68l5-248l5-116l5 134l5 231l5-40l5-332l5 344l5-72l5-165l5 118l5 105l5-67l5 87l5-51l5-140l5 96l5 110l5-236l5 354l5-190l5-121l5 287l5-18l5-468l5 376l5-83l5-30l5 89l5-70l5 102l5-58l5 28l5 422l5-607l5 284l5-12l5 96l5-43l5-112l5 7l5 95l5-23l5 36l5 5l5-24l5-13l5 15l5 102l5 91l5 84l5-132l5-20l5-128l5-27l5 316l5-308l5 39l5-7l5 138l5 71l5-174l5 11l5 353l5-400l5 323l5-285l5 206l5-171l5 86l5 89l5-64l5 139l5-158l5-41l5 115l5-300l5 336l5 1l5-10l5-152l5 149l5-98l5 245l5 216l5-347l5-69l5 286l5-181l5 104l5 190l5-204l5-113l5 191l5-46l5-193l5 173l5-62l5-14l5 107l5-148l5-142l5 203l5 19l5-105l5 57l5-88l5 201l5-255l5 78l5-102l5 181l5 207l5-409l5 128l5-71l5-72l5 93l5 55l5 121l5-141" fill="none" stroke="#00D2D2" stroke-width="30" stroke-linejoin="round"/>
<path d="M712 10280l5-2l5 123l5-47l5-223l5 151l5-67l5-7l5 51l5 12l5-179l5 254l5-354l5 426l5-358l5 169l5 144l5 72l5-194l5 18l5-59l5 242l5-268l5 223l5-126l5-46l5 117l5-416l5 138l5 6l5 63l5-135l5 377l5-126l5 87l5-98l5-46l5 34l5 125l5-102l5-6l5-138l5 93l5 19l5 173l5-256l5-44l5 28l5 40l5-37l5 4l5 128l5-135l5 45l5 6l5 21l5-298l5 304l5 23l5-65l5 59l5-80l5-16l5 61l5-8l5-15l5-30l5-213l5 154l5 99l5-123l5 157l5 219l5-375l5-66l5 263l5-204l5 58l5 0l5-51l5-118l5 290l5-237l5 153l5 2l5-153l5 130l5-9l5 24l5-13l5-54l5-43l5 237l5-363l5 27l5 72l5 1l5 190l5 23l5-217l5 115l5 40l5-94l5-12l5-40l5 13l5-205l5 236l5-26l5-550l5 299l5 197l5 118l5-87l5 247l5-243l5 380l5-626l5 227l5-193l5 45l5 168l5-45l5 31l5-79l5 63l5-55l5 121l5-76l5 171l5-166l5 382l5-418l5 245l5-220l5-71l5 184l5-181l5-24l5 71l5 14l5 199l5-253l5 204l5-117l5-106l5 154l5-34l5 6l5-178l5 132l5-77l5 16l5-149l5 153l5-163l5 180l5-183l5 243l5-285l5 185l5 134l5-122l5-77l5 111l5-45l5 29l5-93l5-113l5 227l5-41l5 87l5-244l5 63l5-67l5 50l5 92l5 138l5-172l5 178l5-205l5 184l5 69l5-45l5-16l5-195l5 114l5 90l5-157l5-106l5 241l5 113l5-323l5 116l5-60l5 92l5-80l5 181l5-147l5 27l5-72l5 43l5-172l5 181l5 23l5-111l5 113l5-128l5 110l5-1l5-16l5-360l5 335l5 94l5-42l5-276l5 255l5-37l5 43l5-17l5-120l5 275l5-169l5-19l5 76l5-192l5 134l5 55l5-329l5 309l5-39l5 190l5-155l5 16l5-98l5 181l5-67l5-72l5 5l5 56l5-94l5 174l5-152l5 24l5 0l5 77l5-40l5 37l5 75l5-81l5 16l5-4l5-189l5 229l5-83l5-21l5 162l5-144l5-189l5 150l5 59l5 9l5-65l5 220l5-199l5 10l5 88l5-55l5-41l5 22l5 66l5-56l5-30l5 92l5 32l5-268l5 122l5 17l5 115l5-173l5 165l5-343l5 282l5 114l5-174l5 211l5-205l5-132l5 160l5-237l5 276l5-10l5-35l5-71l5-361l5 457l5 109l5-235l5 43l5 178l5-19l5-1l5 65l5-26l5-366l5 349l5 34l5-115l5 37l5-94l5-116l5 10l5 98l5-150l5 148l5-14l5 220l5-248l5 22l5 187l5-318l5 166l5-338l5 468l5-111l5-73l5 167l5 202l5-410l5 193l5-86l5-91l5 213l5 25l5 247l5-483l5 193l5-105l5 14l5-131l5 133l5-98l5 35l5-171l5 182l5 110l5-71l5 43l5 3l5 43l5 11l5-218l5 300l5-81l5-3l5-309l5 375l5-100l5 15l5 20l5 30l5 74l5 162l5-188l5-7l5-76l5-57l5 72l5 150l5-225l5 94l5 29l5-28l5 68l5-73l5 35l5 67l5-362l5 267l5 111l5-40l5-146l5 271l5-78l5-85l5 60l5-219l5 157l5-197l5 218l5-154l5-63l5-139l5 310l5 12l5-23l5-122l5 181l5-98l5 236l5-159l5-19l5-44l5-143l5 282l5-77l5 28l5-160l5 379l5-256l5-139l5-84l5 16l5 347l5-201l5-46l5-122l5 180l5-56l5-224l5 110l5 54l5 267l5-239l5 67l5-99l5 194l5-78l5 21l5-152l5 155l5-269l5 384l5-203l5-35l5-41l5 51l5 97l5-249l5 308l5-193l5 107l5-171l5 65l5-35l5-26l5 79l5-8l5-116l5 230l5 58l5-109l5-90l5 37l5-2l5 138l5-211l5 34l5 59l5 64l5-140l5-47l5 492l5-388l5 69l5 19l5-119l5 25l5 25l5 63l5-28l5-186l5 160l5 130l5 25l5-293l5 134l5-48l5 402l5-282l5 107l5 54l5-58l5-78l5-130l5 88l5 27l5 39l5-50l5 48l5-103l5 173l5-4l5-169l5 301l5-256l5 70l5 227l5-219l5 51l5-86l5 122l5-201l5-66l5 230l5-98l5 5l5-22l5-146l5 442l5-315l5 490l5-654l5 354l5-194l5-11l5 174l5-118l5 248l5 66l5-270l5 13l5 22l5-153l5 120l5 52l5 53l5-63l5-101l5 71l5-196l5 223l5-170l5 221l5 49l5-28l5-137l5-45l5 133l5 199l5-88l5-222l5 86l5-164l5 114l5-46l5-77l5 54l5 616l5-311l5 29l5-268l5 78l5-311l5 95l5 269l5-140l5 78l5-119l5-71l5 88l5-13l5 17l5-56l5 360l5-257l5 369l5-294l5-16l5-44l5 51l5-66l5 30l5-45l5-133l5 39l5-23l5 289l5-165l5 180l5-121l5 179l5-252l5-337l5 426l5 53l5-116l5 274l5-302l5-66l5 95l5-158l5 240l5-57l5 173l5-90l5-23l5-91l5 17l5 47l5-26l5 159l5 69l5-301l5 95l5 78l5 300l5-367l5 66l5-37l5-97l5 31l5 67l5-69l5 8l5 176l5-133l5 16l5-33l5-35l5 45l5-89l5 23l5 89l5-104l5 128l5-251l5 222l5-143l5 126l5-67l5 74l5 134l5-184l5 269l5-307l5 186l5-84l5-100l5-303l5 372l5-62l5-3l5 137l5-100l5 57l5-80l5 88l5 132l5-458l5 321l5 48l5-266l5 142l5 136l5-149l5 12l5 173l5-59l5-28l5-123l5 49l5-318l5 376l5-8l5-135l5 125l5 20l5 428l5-749l5 316l5 45l5-169l5 77l5 132l5 18l5 142l5-449l5 53l5 196l5 127l5-121l5-21l5-83l5-94l5 51l5-8l5 21l5 104l5-52l5 146l5-183l5-116l5-528l5 526l5 54l5 436l5-380l5-60l5-75l5 17l5 8l5 142l5 289l5-340l5 134l5-130l5-184l5 125l5 138l5-91l5 223l5-628l5 440l5 129l5-207l5 95l5-7l5 79l5-39l5-139l5 117l5-124l5 76l5-82l5 189l5-223l5 216l5-26l5-39l5-114l5 208l5-50l5-106l5 106l5-198l5 158l5 13l5-3l5-62l5-106l5 22l5 418l5-364l5 81l5-189l5 34l5 86l5 92l5-77l5-23l5 14l5 136l5 110l5-308l5 250l5-291l5 224l5 52l5-23l5-266l5 106l5 221l5-425l5 240l5 56l5 251l5-223l5-312l5 368l5 110l5-268l5 11l5 122l5-104l5-118l5 227l5 8l5-21l5 378l5-405l5-67l5 75l5-158l5 221l5 19l5-50l5 77l5-54l5 41l5 53l5-209l5 87l5 77l5-89l5 81l5-82l5 47l5-26l5 181l5-79l5-182l5 103l5 144l5-51l5 109l5-160l5 1l5 24l5-52l5-63l5 131l5 50l5-119l5 72l5-149l5-135l5 79l5 152l5-56l5 112l5 32l5 16l5-52l5 98l5-165l5 67l5-170l5 124l5 151l5 20l5-67l5-6l5 116l5-236l5 221l5-300l5 68l5 92l5-63l5-68l5 175l5-259l5 155l5-101l5 173l5-92l5 54l5-29l5-342l5 188l5 67l5 146l5-11l5 208l5-286l5-53l5 21l5 57l5-17l5-24l5 76l5-34l5-56l5 312l5-117l5-220l5 289l5-11l5-299l5 143l5 89l5-95l5-72l5-36l5 87l5 93l5-165l5 1l5 244l5-255l5 134l5-125l5 92l5-67l5 71l5-122l5-12l5 442l5-246l5-73l5-23l5 115l5-168l5 139l5-176l5 249l5-320l5 310l5-339l5 189l5-4l5 59l5-146l5 225l5-150l5 41l5-73l5 246l5-245l5 56l5 69l5 111l5-185l5-44l5 51l5-3l5 44l5-46l5-77l5-184l5 50l5 17l5 265l5-119l5-145l5 3l5 240l5 70l5 82l5-74l5-39l5-255l5 120l5-13l5-74l5 144l5-90l5 163l5 28l5-111l5-51l5 47l5-269l5 269l5 16l5 41l5 151l5 176l5-306l5 91l5-237l5-146l5 320l5 17l5-102l5 143l5-19l5-74l5 126l5-352l5 235l5-183l5 351l5-282l5-11l5 23l5-533l5 565l5-67l5-10l5 27l5-165l5 341l5-225l5 192l5-274l5-84l5 397l5-139l5-22l5-118l5-25l6 119l5 24l5 304l5-492l5 199l5-45l5 37l5 9l5 272l5-237l5 61l5-107l5-24l5-124l5-61l5 183l5-216l5 134l5 45l5 48l5-24l5-23l5-59l5 34l5 34l5 93l5-103l5 124l5-56l5-39l5 9l5-21l5-45l5-23l5 158l5-165l5 312l5-245l5 2l5 94l5-7l5-55l5-122l5-27l5 34l5 123l5 39l5-30l5-76l5-313l5 628l5-278l5 40l5 269l5-308l5-218l5 6l5 100l5-55l5 159l5-40l5-52l5 77l5 19l5 67l5-395l5 263l5 158l5-146l5 123l5-212l5 65l5 88l5-87l5 155l5-46l5-150l5-24l5-70l5 108l5 102l5-125l5 118l5-142l5 147l5 13l5 121l5-218l5 319l5-222l5-36l5-153l5-118l5 398l5-109l5 74l5-51l5 28l5-116l5-18l5 134l5-143l5 139l5-167l5 104l5 164l5 96l5-232l5 124l5-112l5-83l5 25l5 171l5-30l5-10l5-162l5-120l5 191l5-157l5 251l5-185l5 83l5 19l5 112l5-12l5-155l5 74l5 72l5-95l5 109l5-182l5-60l5 90l5-73l5 300l5-392l5 201l5-17l5 9l5-67l5-37l5 53l5-128l5 44l5 54l5-45l5 29l5 92l5-238l5 130l5-67l5 127l5 79l5-65l5-93l5 31l5-9l5 67l5 48l5-94l5 385l5-308l5 73l5-442l5 211l5 346l5-220l5-69l5-59l5-64l5 300l5-100l5-13l5 136l5 280l5-332l5-170l5 39l5 12l5-125l5 98l5 62l5 162l5-133l5 141l5-271l5 59l5 5l5 157l5-195l5 61l5 48l5-1l5-27l5-32l5 70l5-29l5 95l5-168l5 29l5-5l5-21l5-8l5 85l5 28l5-80l5-12l5 95l5-44l5 23l5-62l5 101l5 34l5-170l5 126l5-81l5 150l5-158l5 174l5-209l5 499l5-444l5 62l5-74l5-171l5-12l5 178l5 7l5 12l5 131l5-186l5 56l5 218l5-301l5 71l5-30l5 17l5 77l5 18l5-60l5 84l5-128l5 84l5-103l5 3l5 162l5-46l5-40l5 88l5 52l5-351l5 94l5 157l5 127l5-203l5 399l5-19l5-382l5 184l5 1l5-81l5-199l5 17l5-32l5-4l5 79l5 70l5-124l5 75l5 228l5-88l5 48l5-443l5 253l5 64l5-77l5 422l5-372l5 68l5-41l5-133l5-4l5 225l5 293l5-530l5 373l5-262l5-3l5-72l5 350l5-323l5 72l5 20l5 14l5-71l5 170l5-245l5 143l5-52l5 103l5-197l5-10l5 148l5-44l5 136l5-73l5-189l5-135l5 427l5-76l5-9l5-128l5-17l5-11l5-97l5 238l5-239l5 233l5-165l5 111l5-19l5 115l5-124l5-103l5 81l5 105l5-43l5 63l5 26l5-88l5 12l5 18l5 129l5-162l5-121l5 310l5-98l5-2l5-9l5 13l5 190l5-295l5 197l5-283l5 93l5 69l5-108l5-28l5 11l5-65l5 320l5-166l5-127l5 86l5-35l5 20l5-7l5 59l5-111l5 6l5 133l5-145l5 121l5-113l5 30l5 56l5 73l5-106l5 72l5-169l5 106l5-335l5 355l5-37l5-63l5 237l5-124l5 308l5-298l5-59l5-46l5 278l5-223l5 139l5-96l5-35l5 197l5-166l5 33l5-41l5 111l5-1l5-128l5-98l5 138l5-52l5 86l5 7l5-71l5-86l5 244l5-111l5-140l5-59l5 45l5 173l5-252l5 228l5-58l5 39l5-190l5 263l5-157l5 12l5 34l5-205l5 154l5 109l5-114l5 193l5-352l5-13l5 179l5-109l5-14l5 37l5-114l5 136l5 40l5 146l5-317l5 25l5-119l5 121l5 36l5 239l5-249l5 48l5 88l5 96l5-12l5-228l5-138l5 127l5 65l5-236l5 175l5 66l5-96l5-75l5 84l5 33l5 37l5 91l5-148l5 182l5-232l5-14l5-25l5 37l5 137l5-156l5 30l5-154l5 171l5 75l5-101l5 22l5 8l5 55l5-103l5 3l5 81l5 69l5-171l5-79l5 128l5-38l5 135l5-121l5-44l5 235l5-88l5 62l5-80l5-151l5 221l5-400l5 189l5 49l5-82l5 90l5-75l5 363l5-314l5 140l5-204l5 222l5-207l5-150l5 313l5-271l5 269l5-176l5 11l5 65l5 45l5 44l5-302l5 278l5-132l5 164l5-147l5 99l5-6l5 18l5-221l5 200l5 75l5-243l5 184l5-54l5 120l5-75l5-26l5 168l5-162l5-93l5 266l5-163l5 31l5-10l5 2l5-19l5-109l5 151l5 168l5-110l5-43l5-56l5-58l5 24l5 2l5 208l5-23l5-114l5 311l5-136l5-47l5-69l5 37l5-149l5 264l5-191l5 16l5-339l5 206l5 52l5 189l5-249l5 277l5-50l5-197l5 172l5-96l5-93l5 41l5-212l5 421l5-167l5 187l5-46l5-85l5 162l5 224l5-521l5 229l5-276l5 163l5-12l5-39l5 112l5-119l5 96l5-57l5 73l5 102l5-91l5-85l5 247l5-67l5-162l5 87l5-38l5-6l5-97l5 81l5-103l5 107l5 122l5-198l5 13l5-47l5 251l5-143l5-95l5-125l5 295l5-53l5 67l5-269l5 205l5 10l5 138l5-150l5-64l5 26l5-46l5-45l5-111l5-90l5 543l5-478l5 300l5-72l5 209l5-209l5-4l5-35l5 152l5-54l5 42l5 56l5 101l5-87l5-222l5 240l5-80l5-194l5 123l5 28l5 92l5-160l5-138l5 243l5-191l5 83l5-43l5 254l5-495l5 427l5-61l5 13l5-8l5 4l5-125l5 17l5 41l5-219l5 182l5-38l5 57l5-279l5 464l5-184l5-34l5 46l5 159l5 74l5-174l5-137l5 268l5-184l5-12l5-50l5 128l5-420l5 225l5 87l5 212l5-177l5 59l5-42l5 48l5 5l5-63l5-12l5 44l5-91l5-41l5-10l5 244l5-52l5-37l5 36l5 25l5-211l5-3l5 160l5 67l5-28l5-173l5 111l5 72l5-78l5-304l5 257l5 132l5-200l5 58l5 127l5-141l5-130l5 218l5 205l5-364l5 13l5 152l5 21l5-161l5 128l5-66l5 26l5 62l5-9l5-108l5 312l5-371l5 117l5-108l5 223l5-100l5-99l5 56l5 44l5-132l5 155l5-396l5 345l5 187l5-177l5-70l5 85l5-44l5 15l5 30l5-55l5 50l5-17l5 24l5-58l5 24l5-116l5 6l5 62l5-3l5 151l5-52l5-319l5 276l5 92l5-4l5-129l5 14l5 120l5-3l5-326l5 367l5 38l5-224l5 20l5 211l5-82l5 43l5-136l5 98l5-118l5 119l5-16l5-363l5 472l5-38l5-61l5-161l5 256l5-168l5 65l5 71l5 134l5-138l5 103l5-104l5-86l5 160l5-101l5-23l5-5l5 132l5 12l5-202l5 46l5 36l5-10l5-66l5 131l5-50l5-27l5 94l5-189l5 255l5-247l5 176l5-88l5-34l5 20l5 97l5-77l5 98l5-143l5 113l5 74l5 6l5-193l5 63l5-150l5 188l5-201l5 281l5-162l5 34l5 116l5-103l5-58l5-50l5 134l5 54l5-164l5 50l5-157l5 288l5-59l5-163l5 198l5-104l5-84l5 288l5-234l5 10l5 168l5-149l5 27l5-26l5 48l5-73l5 116l5 38l5-303l5 269l5 8l5 68l5-82l5-125l5 286l5-222l5 12l5 41l5-112l5 88l5-12l5 28l5-97l5-50l5 319l5-174l5-54l5-8l5 34l5 9l5-319l5 315l5 5l5-48l5-122l5 127l5 217l5-375l5-15l5 80l5 97l5 85l5-65l5-28l5 47l5 7l5-184l5 273l5-188l5 189l5-15l5-68l5-150l5 210l5-46l5-73l5-20l5 140l5-163l5 329l5-137l5-133l5 45l5 78l5 175l5-262l5 19l5 68l5-167l5 31l5 40l5 32l5 18l5 77l5-38l5-107l5-64l5-1l5 55l5 162l5-99l5 51l5-160l5 46l5-92l5 160l5-8l5-15l5-53l5 11l5 51l5 181l5-57l5-150l5-11l5 74l5 57l5-254l5 262l5-31l5-98l5 188l5-315l5 116l5 285l5-99l5-45l5-85l5 93l5-217l5 86l5 155l5-54l5-82l5-95l5 221l5-197l5 31l5 57l5 3l5-4l5 35l5 4l5 172l5-166l5-36l5-165l5 245l5-121l5 109l5-58l5 67l5 21l5 53l5-115" fill="none" stroke="#F23C3C" stroke-width="30" stroke-linejoin="round"/>
<path d="M11180 16640l5-86l5 182l5-192l5 246l5-92l5-108l5 69l5-157l5 328l5-305l5-152l5 263l5-66l5-98l5 157l5 43l5-130l5 40l5 29l5-362l5 328l5-65l5-19l5 91l5 240l5-260l5 55l5 221l5-354l5 59l5-8l5-110l5 196l5-14l5-62l5-78l5 296l5-182l5-137l5 180l5 3l5-39l5-78l5 49l5 115l5-312l5-264l5 377l5 233l5-401l5 217l5 70l5-202l5-54l5 224l5-112l5 16l5 108l5-242l5 210l5-121l5 45l5-45l5 40l5 18l5-3l5 152l5-224l5 62l5 37l5 52l5-34l5 111l5-90l5-25l5-93l5 123l5-99l5-41l5 84l5-33l5-21l5 54l5-43l5 73l5 128l5-241l5 209l5-80l5-57l5 80l5-111l5-191l5 335l5-150l5-23l5 201l5-330l5 118l5 82l5 55l5 113l5-172l5 26l5-25l5 119l5-114l5-22l5 30l5-49l5 29l5-18l5-33l5 189l5 11l5-215l5-206l5 184l5 68l5-117l5 92l5-176l5 126l5 165l5-186l5-82l5-67l5 33l5 148l5-149l5-50l5 102l5-146l5 112l5 1l5-92l5 61l5 135l5 0l5-131l5 102l5-160l5 119l5 77l5-151l5 325l5-283l5-154l5 148l5 44l5 95l5-58l5-121l5 173l5-145l5 10l5-66l5 30l5-111l5 228l5-79l5-150l5 179l5 202l5-223l5-83l5 40l5 166l5-51l5 26l5 46l5-311l5-265l5 446l5-110l5 46l5 64l5-96l5 90l5-166l5 120l5-14l5 331l5-235l5-66l5-70l5-46l5 56l5 60l5 143l5-356l5 203l5 67l5-140l5-20l5 33l5 8l5 45l5 78l5-12l5-202l5 18l5 119l5-68l5 137l5 30l5-225l5 212l5-28l5-52l5 80l5-116l5 60l5-166l5 61l5 198l5 7l5-119l5 72l5-116l5-27l5 97l5 75l5-121l5 10l5-15l5-72l5-81l5 158l5-120l5 237l5-117l5 34l5-332l5 195l5-6l5 200l5-161l5-143l5 252l5-231l5 343l5-163l5 19l5 23l5 108l5-108l5-62l5-62l5 278l5-369l5 136l5-1l5-57l5 20l5 36l5-12l5 33l5-36l5-114l5 119l5 16l5-24l5 1l5 3l5 186l5-235l5 116l5-45l5 8l5 120l5-338l5 188l5 175l5-303l5 258l5-234l5 280l5-211l5 14l5-8l5 94l5-26l5-102l5 219l5-117l5-38l5 126l5-62l5-82l5-18l5-71l5 127l5-162l5 240l5-196l5 132l5 82l5-149l5 58l5-20l5-54l5 162l5-80l5-145l5 171l5-126l5 114l5-53l5 157l5-133l5 12l5-107l5 275l5-159l5 125l5-275l5 177l5-13l5-122l5 80l5-337l5 612l5-168l5 105l5-552l5 292l5-4l5 231l5-317l5 46l5-38l5 162l5-97l5 74l5-177l5 326l5-159l5-267l5 18l5 149l5 135l5-198l5 41l5-89l5 60l5 80l5-43l5 196l5-126l5-178l5 38l5-163l5 125l5 185l5-205l5 198l5-125l5 13l5 46l5-111l5-285l5 114l5 97l5 164l5-109l5 330l5-209l5-12l5-172l5 56l5 58l5-54l5-227l5 268l5 64l5 104l5-201l5 8l5 91l5 37l5 124l5-173l5-158l5 929l5-476l5-454l5 371l5-221l5 173l5-140l5 77l5-75l5 115l5-75l5 39l5-283l5 468l5-180l5-187l5 169l5 14l5 170l5-35l5-200l5 261l5-39l5 25l5-149l5 87l5-185l5 329l5-45l5-168l5-21l5 129l5-12l5 12l5 70l5-302l5 235l5-123l5 208l5-102l5-83l5 100l5-201l5 148l5 11l5-215l5 123l5 91l5-494l5 554l5-78l5-83l5 274l5-288l5 102l5-3l5-224l5 222l5-97l5 75l5 105l5 101l5-21l5-133l5-68l5 148l5-118l5 373l5-387l5 84l5-48l5 223l5-204l5 5l5-201l5 131l5 237l5-201l5 119l5-185l5 91l5 104l5-107l5 53l5-52l5-21l5 61l5-40l5 174l5-133l5 43l5-103l5 117l5-198l5 84l5-78l5 32l5-117l5 37l5-3l5-10l5 450l5-253l5 74l5-45l5-116l5 90l5-57l5-102l5 115l5 24l5-111l5 182l5-185l5-341l5 485l5-18l5-42l5 10l5 98l5-5l5-263l5 143l5 28l5-68l5 130l5 66l5-27l5-105l5 27l5 107l5 137l5-221l5 28l5-37l5-133l5 87l5-27l5 37l5-287l5 302l5-39l5-58l5 151l5-79l5 74l5 79l5-69l5-36l5 82l5-237l5 100l5-84l5 162l5-74l5 191l5-167l5-61l5 94l5-9l5 19l5-95l5-102l5-50l5 238l5-1l5-116l5 117l5 50l5-106l5-68l5-62l5 88l5-57l5 174l5-49l5 80l5-97l5 50l5-104l5-184l5 387l5-300l5 32l5 71l5 167l5-225l5 193l5-224l5 76l5-111l5 111l5 474l5-300l5-58l5-49l5 109l5-90l5-10l5 99l5-208l5-79l5 91l5 119l5 106l5 21l5-320l5 6l5 214l5-270l5 138l5 202l5-69l5-144l5-284l5 219l5 77l5 82l5-145l5 31l5 60l5-329l5 372l5 27l5-27l5 61l5-199l5-28l5 105l5 48l5 365l5-445l5 197l5-171l5 100l5-158l5 186l5-124l5 71l5-22l5-18l5-54l5 32l5-151l5 48l5-30l5 94l5 216l5-202l5 70l5 22l5-152l5 47l5-36l5 335l5-183l5-31l5-8l5 75l5-59l5-131l5-61l5 277l5-171l5 76l5 173l5-273l5 95l5 162l5-316l5 18l5 126l5-3l5-8l5 18l5 68l5-11l5-22l5 65l5-115l5 126l5-280l5 341l5-131l5-150l5 78l5 37l5 64l5-188l5 140l5-72l5-18l5 71l5 64l5-245l5 31l5 128l5-34l5-61l5 2l5 18l5 110l5 45l5-113l5 38l5-59l5 34l5 142l5-112l5-270l5 256l5 47l5-18l5-359l5 448l5-170l5 207l5-109l5-193l5 127l5 72l5-127l5 286l5-77l5-63l5-106l5-68l5 1l5 182l5-282l5 239l5-137l5 36l5 46l5 142l5-89l5 90l5 143l5-301l5 84l5-26l5-21l5 8l5-11l5-77l5-152l5 327l5-86l5-7l5 9l5-2l5-84l5 1l5 56l5 86l5-121l5 10l5 55l5 184l5-11l5-299l5 220l5-117l5-19l5 286l5-257l5-65l5-20l5 350l5-253l5 23l5-279l5 85l5 114l5 112l5-54l5-14l5 47l5 76l5-136l5-25l5 31l5-50l5 288l5-197l5 182l5-164l5-54l5 109l5-272l5 127l5 126l5-4l5-41l5-11l5 52l5-80l5-17l5 62l5-3l5-235l5 324l5-352l5 273l5 202l5-146l5 11l5-119l5 35l5 34l5-233l5 161l5-66l5 8l5 102l5 10l5 167l5-191l5 55l5 48l5-104l5-67l5 87l5-72l5 230l5-152l5 24l5-131l5 144l5-77l5 59l5-77l5 35l5-128l5-74l5 132l5-21l5-59l5 143l5-9l5-19l5-17l5 33l5 18l5 73l5-123l5-19l5-2l5 175l5-195l5-69l5 65l5 171l5-156l5 220l5-569l5 355l5 133l5-87l5 91l5 117l5-635l5 434l5 113l5-70l5-89l5 17l5 46l5 54l5 11l5-7l5 11l5-207l5 39l5 200l5-90l5-117l5 110l5 33l5-64l5 22l5-137l5 29l5 209l5 102l5-142l5 58l5-188l5-9l5 88l5-27l5 45l5 127l5-154l5 421l5-442l5-23l5-58l5 32l5-276l5 498l5-159l5-99l5-3l5 163l5-6l5 25l5 3l5-61l5 8l5 300l5-717l5 124l5 361l5-2l5 12l5-81l5-21l5 104l5-12l5-127l5 97l5-90l5 0l5-56l5 57l5 139l5 98l5-195l5-120l5 519l5-414l5 206l5-239l5 145l5-10l5-105l5 146l5-11l5-83l5 56l5 109l5-140l5 17l5-439l5 411l5 233l5-274l5 44l5 57l5-62l5-478l5 437l5 125l5-189l5 8l5 21l5 95l5-169l5 9l5 84l5 157l5-79l5-5l5-13l5-178l5-107l5 165l5-80l5 397l5 45l5-181l5-19l5-102l5-83l5 332l5-100l5-68l5-114l5 35l5-24l5 42l5-15l5 101l5-124l5 52l5 26l5-64l5 16l5 633l5-746l5 75l5 205l5 23l5-258l5-107l5 123l5-322l5 390l5-415l5 329l5 361l5-294l5 54l5-16l5 52l5 47l5-65l5 45l5-84l5 65l5-144l5 185l5-61l5-69l5-170l5 186l5-18l5-23l5-51l5 86l5-43l5 106l5-22l5-22l5-38l5 75l5-206l5 268l5-90l5-17l5-310l5 452l5-447l5 343l5 58l5-10l5-115l5 414l5-132l5-582l5 291l5 50l5-81l5-14l5 42l5 25l5 117l5-51l5-73l5 126l5-73l5-436l5 614l5-302l5-19l5 160l5-163l5 198l5-106l5-132l5 140l5 38l5 84l5-119l5 1l5 127l5-51l5-89l5 13l5 76l5-136l5 103l5 16l5 130l5-264l5 51l5 45l5 47l5 211l5-269l5 89l5-131l5 112l5 99l5 45l5-128l5 32l5-234l5 264l5-188l5-46l5 244l5-8l5-75l5-67l5-72l5 170l5 285l5-447l5 76l5 108l5-60l5-173l5 168l5 113l5-106l5-165l5 39l5-3l5 135l5-48l5-337l5 208l5 130l5 42l5 311l5-320l5 6l5-64l5-14l5 45l5-88l5 222l5-110l5 14l5-224l5 83l5-6l5 210l5-144l5-73l5 38l5 61l5-199l5 211l5 28l5-87l5-8l5 46l5-127l5 177l5-235l5 307l5-248l5 67l5 139l5-120l5 159l5-75l5 4l5-29l5-152l5 74l5-10l5 93l5 96l5-99l5 119l5-179l5 17l5-15l5 115l5-267l5 229l5 2l5 22l5 9l5-92l5-16l5-72l5 295l5-86l5-35l5-115l5 135l5 85l5-135l5-146l5 304l5-61l5-197l5 100l5 22l5-153l5 114l5-167l5 140l5-16l5-42l5-57l5 66l5 157l5-138l5 109l5-208l5 71l5 79l5-124l5 266l5-166l5 12l5 4l5-96l5 121l5 195l5-360l5 276l5-177l5 91l5-12l5-3l5 78l5-152l5 84l5-449l5 401l5 73l5-93l5 82l5-74l5 293l5-309l5-246l5 507l5-257l5-48l5 354l5-240l5-29l5 127l5-119l5 3l5 84l5-130l5-85l5 139l5-25l5 28l5 85l5-97l5-44l5-5l5-51l5 82l5-43l5 81l5 80l5 4l5-229l5 144l5-49l5-47l5 218l5-30l5 53l5-311l5 123l5 200l5-266l5 56l5-39l5 6l5 165l5 199l5-277l5-25l5 71l5 2l5 80l5 123l5-269l5 44l5-278l5 325l5 213l5-311l5 56l5 18l5-141l5 173l5-196l5 212l5-112l5 413l5-346l5-63l5-26l5-154l5 391l5-82l5-111l5-36l5 72l5-58l5 46l5 34l5-116l5 108l5-70l5 17l5 13l5-54l5 260l5-208l5 37l5-238l5 217l5-29l5 77l5-88l5 125l5-291l5 268l5-58l5 33l5-125l5 187l5-309l5 228l5-172l5 254l5-430l5 228l5-20l5 192l5 37l5-69l5-58l5 126l5-326l5 129l5 149l5-84l5-182l5 240l5 6l5-13l5-76l5 85l5-23l5 153l5-449l5 300l5 167l5-159l5 5l5-11l5 78l5-166l5 108l5-36l5 117l5-180l5 137l5-86l5 149l5-46l5-143l5-48l5 46l5 24l5 157l5-225l5 184l5-56l5-256l5 56l5 265l5-142l5-22l5 79l5-75l5 26l5 28l5-75l5 32l5-185l5 162l5-18l5 35l5 440l5-550l5 145l5 29l5 130l5-118l5-218l5 368l5-139l5-149l5 134l5-47l5-64l5 61l5 100l5-163l5 261l5 45l5-198l5 53l5-15l5-43l5 88l5-90l5 279l5-253l5-37l5-178l5 374l5-360l5 150l5 89l5 31l5-191l5-213l5 223l5 78l5 8l5-56l5-23l5-39l5-43l5 84l5 183l5-96l5 4l5 256l5-383l5 113l5 7l5 34l5-77l5 64l5-147l5 28l5 5l5 61l5-166l5 64l5 50l5-64l5 202l5 95l5-231l5 34l5 72l5-64l5-258l5 66l5 273l5-54l5 177l5-194l5 143l5-223l5 131l5-37l5 77l5 24l5-109l5-307l5 238l5 256l5-158l5 133l5-31l5-197l5-22l5-12l5 22l5 144l5-178l5 25l5 101l5-37l5 163l5-162l5-20l5 128l5-139l5-107l5 194l5 22l5-98l5 139l5-133l5 45l5 288l5-577l5 223l5 0l5 156l5-319l5-38l5 119l5 196l5-152l5-32l5 127l5-117l5 197l5-340l5 264l5 184l5-444l5 341l5-144l5 185l5-221l5 143l5-140l5 131l5 103l5 68l5-270l5 159l5-312l5-250l5 792l5-340l5 27l5-57l5 78l5-273l5 564l5-280l5 15l5 28l5-280l5-28l5 185l5 189l5-326l5 184l5 6l5 2l5 48l5-82l5-26l5-39l5 45l5-77l5 201l5-77l5 237l5-354l5 178l5-338l5 291l5-20l5-54l5 64l5-60l5-411l5 590l5-165l5 43l5 137l5-90l5 16l5-126l5 232l5-189l5-15l5-39l5 91l5 59l5-10l5 73l5-117l5-85l5 39l5-190l5 70l5 9l5 153l5 25l5 142l5-129l5 30l5-260l5 278l5-285l5 174l5-338l5 382l5 9l5-86l5-122l5-19l5 11l5 508l5-455l5 195l5-194l5 173l5 63l5-238l5 36l5-73l5 182l5-88l5 10l5 67l5-47l5-49l5 63l5-22l5-33l5-85l5 283l5-167l5 212l5-212l5 19l5 1l5-61l5 20l5-9l5 10l5 127l5 27l5-137l5 281l5-302l5 74l5-375l5 341l5-10l5 109l5-99l5-26l5 256l5-292l5-83l5 243l5-212l5-31l5 406l5-472l5 156l5 71l5-45l5 77l5-13l5 47l5-9l5 18l5-100l5-58l5 21l5-17l5 40l5 57l5-55l5 85l5-47l5-43l5 54l5 14l5-40l5-399l5 389l5 6l5 190l5-303l5 182l5 143l5-225l5 64l5 0l5-34l5-361l5 450l5-123l5 104l5-20l5-123l5 78l5-19l5-97l5 98l5-5l5 61l5-76l5 60l5-135l5-36l5 131l5 52l5-109l5-150l5 70l5 22l5 95l5 20l5-179l5 192l5 96l5-74l5-90l5 365l5-383l5-148l5 386l5-263l5 3l5-20l5 401l5-282l5 360l5-358l5 261l5-220l5 281l5-240l5 24l5-192l5-26l5 122l5-246l5 290l5-121l5-416l5 608l5-1l5 177l5-209l5-94l5 54l5-158l5 7l5 306l5-170l5 200l5-143l5-101l5-189l5 301l5-50l5-109l5 104l5-59l5 5l5 10l5-17l5-71l5 105l5-165l5 214l5-156l5 60l5-7l5 294l5-298l5 72l5-12l5-89l5-87l5-97l5 125l5 64l5-9l5 203l5 86l5-280l5 100l5-164l5 180l5-191l5 138l5 33l5 44l5 18l5-73l5 63l5 132l5-165l5 135l5-238l5-68l5 93l5-11l5 215l5-299l5 29l5-111l5 332l5-28l5-158l5 80l5-93l5 444l5-346l5-38l5 160l5-227l5 425l5-374l5 59l5-210l5 187l5 59l5-55l5 154l5-22l5-98l5 51l5-190l5 182l5-163l5 196l5-168" fill="none" stroke="#505050" stroke-width="28" stroke-linejoin="round"/>
<path d="M11240 15814l5 55l5-29l5-52l5 25l5-68l5 102l5-58l5 59l5-10l5-60l5 64l5-10l5-50l5 132l5-60l5-100l5 10l5 65l5-1l5-137l5 181l5-56l5-48l5-168l5 201l5-69l5 35l5-49l5-83l5 203l5-95l5 80l5-76l5 51l5-17l5-36l5 32l5-34l5 76l5-13l5 57l5-133l5 127l5-59l5 24l5 8l5 48l5-8l5-26l5 93l5-46l5 175l5-269l5-6l5 28l5 38l5-47l5-37l5-16l5 57l5 36l5 91l5-124l5-46l5 135l5-66l5-17l5-47l5-20l5 219l5-177l5-41l5 66l5 34l5 199l5-381l5 39l5 232l5-75l5 12l5-157l5-70l5 89l5-78l5 125l5 115l5-128l5 44l5 9l5 75l5-104l5-230l5 226l5 2l5-64l5 45l5 30l5-237l5 167l5-226l5 281l5-8l5 73l5-131l5 70l5-133l5 193l5-187l5 34l5 95l5-41l5 59l5-160l5 113l5-43l5-35l5 6l5 53l5-63l5 44l5 25l5 9l5-124l5 347l5-209l5-261l5 464l5-178l5-43l5-145l5 212l5-185l5 57l5-41l5 128l5-105l5 54l5 28l5-62l5 41l5-49l5 9l5 87l5-116l5 8l5-75l5 154l5-55l5 42l5-24l5 13l5-139l5 136l5 31l5-49l5 142l5-177l5 83l5-86l5-129l5 322l5-178l5 24l5 36l5-70l5 29l5-36l5-46l5 60l5-74l5 92l5-23l5-26l5-30l5 54l5 86l5-276l5 195l5 71l5 160l5-116l5-171l5 94l5-146l5 107l5 178l5-126l5-186l5 204l5-137l5 91l5 2l5-35l5-6l5-1l5 35l5-39l5-13l5 31l5 10l5-15l5 25l5-56l5 50l5 31l5 38l5-141l5 100l5-33l5 82l5-118l5-18l5 76l5 47l5-34l5-27l5 159l5-235l5-38l5 26l5 40l5 95l5 73l5-71l5-85l5 74l5-27l5-10l5 81l5 106l5-241l5 4l5 45l5 7l5-30l5 23l5-256l5 261l5-60l5-3l5 182l5-182l5 111l5-105l5 60l5-156l5 209l5-81l5-18l5 37l5 79l5-101l5 22l5 39l5-105l5-160l5 253l5 7l5 5l5-96l5 53l5 252l5-125l5-331l5 156l5-16l5 20l5 1l5 65l5 205l5-187l5-94l5 104l5-203l5 81l5 370l5-279l5-80l5 110l5-194l5 135l5-30l5-74l5 93l5-70l5 100l5-241l5 273l5-19l5-57l5 51l5-85l5 358l5-286l5-32l5-61l5 62l5 493l5-438l5-89l5 24l5-47l5 101l5-37l5 40l5-54l5-33l5 69l5-100l5 51l5 65l5-55l5 120l5-175l5 143l5-111l5-106l5 154l5 37l5-93l5 105l5-37l5-42l5 34l5-115l5 147l5 123l5-282l5 145l5-147l5 59l5 79l5 94l5-102l5-149l5-112l5 216l5-64l5 138l5-85l5-180l5 143l5 15l5 141l5 128l5-272l5 90l5-5l5-52l5 31l5-58l5 16l5-5l5-11l5 64l5-68l5 75l5 17l5-181l5 244l5-194l5 202l5-130l5-70l5 182l5-106l5 31l5-56l5 49l5-95l5 139l5-66l5-52l5 43l5 4l5 72l5-58l5-49l5 80l5-59l5 26l5 28l5-70l5 64l5 64l5-150l5 216l5-185l5-132l5-23l5 204l5-144l5 145l5-45l5 140l5-192l5 420l5-244l5-122l5 70l5-33l5 100l5-128l5-157l5 246l5 0l5 59l5-87l5-1l5 6l5 65l5-52l5-52l5 19l5 36l5-75l5 29l5 17l5 37l5 26l5-67l5 9l5 42l5-62l5 114l5 19l5-13l5-124l5 70l5-31l5-16l5 132l5-178l5 205l5-128l5 41l5-32l5-15l5 167l5-161l5-9l5-51l5-111l5 124l5-23l5 65l5-9l5 7l5 44l5 218l5-221l5-32l5 9l5-24l5-21l5 72l5-31l5 35l5-13l5 0l5 58l5-60l5-14l5-49l5 89l5-78l5 41l5-62l5 139l5-334l5 219l5-12l5 199l5-107l5-293l5 232l5-40l5 180l5-90l5-19l5-28l5-22l5-20l5 73l5 14l5-87l5 30l5-201l5 61l5 168l5 110l5-26l5-89l5 124l5-197l5 221l5-224l5 71l5 45l5 41l5 13l5-133l5 123l5-148l5 124l5-115l5 137l5-79l5-7l5 46l5-53l5 110l5-79l5 10l5 60l5 17l5-167l5 129l5-89l5 286l5-191l5-150l5-169l5 67l5 179l5 15l5-38l5-21l5 113l5-96l5 85l5 122l5-133l5-50l5-52l5 160l5-15l5-77l5 102l5-252l5 280l5-218l5 14l5-2l5 12l5 63l5-9l5 331l5-291l5-47l5-20l5 17l5 149l5-179l5 128l5-58l5-17l5 155l5-134l5-56l5 52l5 36l5-13l5-22l5-36l5 118l5-87l5 25l5-67l5-33l5-7l5-8l5 29l5-22l5 119l5 75l5-171l5 318l5-255l5-10l5-110l5-199l5 317l5 27l5-38l5 130l5-200l5-102l5 265l5-126l5 47l5 139l5-130l5-3l5-109l5 70l5 247l5-261l5 52l5-52l5 221l5-93l5 58l5-76l5-21l5-50l5 41l5-17l5-51l5 24l5-30l5-204l5 175l5 48l5 49l5-45l5 14l5-81l5-34l5 178l5 67l5-143l5 53l5-22l5-180l5 80l5 43l5-122l5 129l5-75l5 82l5 2l5-49l5-32l5 291l5-227l5 11l5 164l5-156l5-19l5-45l5 59l5 60l5-15l5-67l5 79l5 99l5-208l5 57l5 67l5 23l5-163l5 98l5-1l5 50l5-66l5-14l5-137l5 101l5 46l5 191l5-207l5-286l5 285l5 8l5-39l5 78l5 26l5-241l5 199l5-228l5 294l5-194l5 106l5-30l5-49l5 118l5 2l5-24l5-43l5-21l5 228l5-140l5-91l5-21l5 58l5-19l5 72l5-107l5 108l5-138l5 53l5 44l5 70l5-56l5-22l5 71l5 1l5-114l5 0l5 79l5-87l5 116l5-79l5 42l5 133l5-65l5 282l5-391l5 31l5-44l5 84l5-47l5 32l5-42l5 178l5-244l5-86l5 89l5 125l5 26l5-39l5-76l5 137l5-75l5-48l5-8l5 82l5-141l5 92l5-22l5 31l5-5l5-42l5 110l5-4l5-135l5 56l5 32l5 124l5-102l5-9l5-49l5 32l5 94l5 41l5-242l5 97l5-32l5 20l5-12l5 33l5-47l5-191l5 244l5 7l5-1l5-31l5-18l5 55l5-25l5 48l5 108l5-112l5 43l5-142l5 10l5 74l5 86l5-177l5 122l5-46l5-73l5 102l5-18l5 9l5-103l5-49l5 227l5-62l5 4l5-9l5-127l5 38l5 169l5-149l5 76l5-93l5 94l5-121l5 43l5 65l5-16l5 5l5 189l5-215l5 80l5-17l5-52l5-29l5 1l5-51l5 76l5 0l5 26l5 101l5 54l5-52l5-181l5 32l5-124l5 68l5 31l5-36l5-105l5 133l5 55l5-75l5 117l5-152l5 222l5-54l5 27l5-38l5-52l5-59l5 140l5-14l5-120l5-136l5 200l5 29l5-11l5 6l5 11l5 22l5-56l5 47l5-59l5 5l5 116l5-92l5-68l5 45l5-87l5 54l5 239l5-91l5-98l5-42l5 59l5-202l5 173l5 43l5-59l5 83l5-98l5-20l5 112l5-233l5 207l5 139l5-162l5 201l5-218l5-14l5 222l5-199l5 86l5-76l5-267l5 308l5-11l5-93l5 67l5 85l5-168l5 45l5 6l5 15l5-52l5 68l5-87l5 89l5-31l5 60l5-16l5-20l5-13l5-1l5-202l5 97l5 131l5 12l5-61l5 4l5 54l5-71l5 195l5-143l5-91l5 51l5 80l5-177l5 37l5 12l5 101l5 16l5-73l5 46l5 19l5 52l5-19l5-44l5-14l5-29l5 86l5-61l5 16l5 34l5-57l5 6l5-17l5 36l5-94l5 131l5-85l5 95l5 118l5-250l5 77l5-33l5 46l5-29l5 55l5 61l5-224l5 182l5-250l5 272l5-109l5 33l5 9l5 14l5-154l5-143l5 234l5-1l5 14l5 51l5-4l5-27l5-31l5 53l5-22l5 76l5-151l5 94l5-135l5-8l5 108l5-41l5-71l5 58l5 128l5-32l5-16l5-40l5-25l5 268l5-234l5-37l5 40l5 28l5 65l5-40l5-84l5-42l5 70l5 51l5-1l5-12l5 68l5-69l5 14l5-36l5 11l5 29l5-271l5 223l5-32l5 140l5-202l5 85l5 61l5 97l5-129l5 79l5-51l5-40l5-17l5 11l5-64l5 58l5-109l5 224l5-45l5-111l5 118l5-49l5-10l5-5l5-5l5-55l5 0l5 159l5 19l5-170l5 59l5-7l5 196l5-209l5 31l5 35l5-64l5 94l5-91l5 50l5-66l5-84l5 92l5 40l5 12l5-13l5-43l5 97l5-31l5-65l5-55l5 21l5 28l5-58l5-10l5 143l5-29l5-31l5-14l5 34l5 160l5-293l5 118l5-2l5 24l5-62l5-35l5 137l5-33l5-158l5 76l5-163l5 15l5 271l5 131l5-188l5-49l5 100l5-173l5 204l5 33l5-95l5-15l5-175l5 369l5-219l5 110l5-91l5-53l5-15l5 49l5 6l5 47l5-16l5 84l5-129l5 97l5-50l5-21l5 27l5 14l5-16l5-224l5 127l5 76l5-245l5 236l5 45l5-49l5-125l5 161l5-44l5 50l5-49l5 38l5-21l5 113l5-139l5-260l5 304l5-25l5 42l5-66l5-34l5-1l5 244l5-170l5-7l5-78l5 350l5-375l5 85l5 14l5 84l5-94l5 106l5 111l5-228l5 21l5-61l5 76l5-32l5-133l5 199l5 60l5 41l5-120l5-38l5 69l5-86l5 106l5-134l5 61l5 35l5-87l5 16l5 15l5-8l5-57l5 88l5 87l5-102l5 4l5-19l5 150l5-79l5-85l5-143l5 77l5 238l5-87l5-110l5 92l5 61l5-56l5 3l5-46l5-287l5 387l5-166l5 57l5 64l5-36l5 89l5-135l5 26l5 89l5-122l5 7l5 43l5-17l5 155l5-102l5-45l5-25l5 128l5 19l5-302l5 189l5 12l5-35l5-118l5 140l5 96l5-155l5 33l5 55l5 118l5-40l5-112l5-110l5 66l5 114l5-131l5 172l5-132l5-11l5 44l5-15l5 49l5-147l5-20l5 157l5-119l5 63l5 5l5-15l5 3l5 105l5 98l5-303l5 213l5-35l5 38l5-102l5 12l5-107l5 335l5-257l5 14l5-21l5 87l5-386l5 410l5-69l5 25l5-122l5 329l5-299l5 139l5-105l5 1l5 96l5-74l5 2l5 92l5-93l5 111l5-72l5-43l5-12l5-136l5 167l5-207l5 202l5 4l5-19l5-19l5 19l5 22l5-113l5 243l5-62l5-27l5-52l5-78l5 147l5-129l5 99l5 92l5-25l5 45l5-109l5-16l5-34l5 48l5-18l5 5l5-40l5-57l5 30l5 98l5-7l5-62l5 89l5-171l5 118l5-33l5 27l5-114l5 122l5-14l5 37l5 76l5-152l5 22l5 10l5 35l5 45l5-76l5 3l5-228l5 280l5-18l5-17l5-43l5 195l5-201l5 81l5-98l5 9l5 44l5-38l5 0l5 85l5 104l5-238l5 75l5-249l5 197l5-32l5 126l5-11l5-59l5-15l5-1l5 294l5-295l5-38l5 116l5-73l5-176l5 408l5-208l5 16l5 327l5-301l5-4l5 50l5-107l5 70l5 133l5-251l5 107l5 35l5 79l5-23l5-47l5 23l5-78l5 79l5 8l5-211l5 178l5-57l5 35l5-56l5 69l5-92l5 140l5-21l5-46l5 67l5-10l5-151l5 273l5-155l5 24l5-152l5 122l5-156l5 130l5-105l5 144l5-90l5 39l5 32l5 23l5-14l5 12l5-37l5-31l5 71l5 16l5-34l5-332l5 365l5-37l5-73l5-280l5 333l5 12l5 56l5-81l5 20l5-42l5 68l5 38l5-146l5 112l5-209l5 123l5 55l5-262l5 268l5 23l5-169l5 225l5 41l5-238l5 150l5 4l5-83l5 14l5-86l5 15l5-20l5 120l5-9l5 115l5-179l5 81l5-98l5 78l5 63l5 95l5-254l5 120l5 120l5-38l5-158l5 142l5-134l5-248l5 295l5 44l5-7l5-81l5 18l5 116l5-55l5-70l5 27l5-15l5 9l5 19l5-27l5-220l5 81l5 144l5 73l5-89l5-18l5 101l5-19l5-7l5 49l5-95l5 93l5 35l5-93l5 129l5-103l5-105l5 65l5 7l5-44l5 71l5-122l5 153l5-36l5 31l5-46l5 59l5-66l5 23l5-56l5-15l5-16l5 146l5-106l5 124l5 8l5 111l5-150l5-16l5 127l5-146l5 221l5-252l5-41l5 105l5-109l5 45l5 16l5-44l5-22l5 91l5-26l5 171l5-270l5 115l5-66l5-37l5 179l5-143l5-19l5 35l5-126l5 104l5-4l5 77l5-26l5 103l5-54l5-15l5-76l5 53l5 14l5-303l5 385l5-12l5-60l5-165l5 40l5 181l5-153l5 121l5-40l5 13l5-10l5-5l5-56l5 85l5-54l5-50l5 33l5-17l5-141l5 205l5-36l5-76l5 46l5 73l5 6l5-35l5-77l5 192l5-99l5 22l5-96l5 29l5-142l5 172l5 62l5-153l5 90l5-69l5 180l5-60l5-73l5 17l5-366l5 376l5 47l5-122l5 27l5 60l5-71l5-201l5 287l5-84l5 63l5-24l5 75l5-43l5 18l5-177l5 124l5 11l5 8l5-11l5 60l5-92l5 115l5-30l5-56l5 85l5-41l5-32l5 38l5-108l5-52l5 175l5-1l5-70l5 325l5-255l5-8l5 28l5-90l5-41l5 43l5 105l5-2l5-5l5-65l5 168l5-136l5-137l5 85l5 341l5-398l5 70l5-8l5-54l5 50l5 37l5 19l5-40l5 32l5 25l5-67l5 63l5-39l5 4l5-51l5-44l5 42l5 75l5-22l5 10l5-39l5 3l5-39l5 99l5-85l5 78l5-156l5 148l5 25l5-62l5-41l5 122l5-119l5 30l5 61l5-67l5 13l5-24l5 128l5 14l5-108l5-138l5 80l5 27l5 35l5-7l5 83l5-97l5 67l5-39l5-62l5 44l5-142l5 102l5 314l5-257l5 29l5 28l5-73l5 55l5-110l5 336l5-167l5-141l5 52l5 11l5-76l5 110l5-145l5 160l5-74l5-73l5 66l5 183l5-189l5-65l5-2l5 0l5 166l5-81l5-77l5 11l5 88l5 89l5-178l5 70l5 30l5-26l5 33l5 66l5-83l5 1l5-101l5-80l5 119l5 25l5-77l5-106l5 192l5 73l5-113l5 341l5-323l5 20l5-48l5 72l5 69l5-12l5-17l5-151l5 2l5 87l5-93l5 155l5-90l5 72l5-77l5 25l5-48l5-75l5 127l5-33l5-83l5 155l5 49l5-43l5-101l5 88l5-28l5-29l5 4l5 8l5 22l5 6l5-42l5 87l5-106l5 58l5-12l5 31l5 55l5-38l5 32l5-113l5 93l5-24l5 1l5 26l5-30l5-75l5 87l5-3l5 218l5-354l5 294l5-150l5-152l5 196l5-352l5 425l5-155l5-51l5 198l5-108l5-106l5 64l5-11l5 98l5-145l5 34l5 33l5 12l5 34l5-56l5-200l5 213" fill="none" stroke="#36B06C" stroke-width="28" stroke-linejoin="round"/>
<path d="M11240 15647l5 36l5 16l5-76l5 8l5-63l5-30l5 2l5 177l5-49l5-68l5 13l5-78l5-6l5-8l5 207l5-176l5 56l5 138l5-156l5-82l5 186l5-171l5 89l5 147l5-328l5 80l5 49l5 59l5-65l5 41l5 15l5-149l5-158l5 355l5-126l5 112l5-81l5 8l5-141l5 330l5-39l5-60l5-253l5 56l5 152l5-32l5 139l5-19l5-136l5 115l5 6l5-57l5 60l5-200l5 32l5-63l5 148l5-154l5 135l5-62l5 79l5-7l5-223l5-38l5 210l5 198l5-464l5 144l5-26l5-27l5-320l5 400l5-13l5-183l5 9l5 131l5-34l5 10l5-20l5-33l5-99l5 45l5 16l5-99l5 69l5 181l5-144l5 72l5-96l5 73l5-347l5 461l5-161l5 93l5-92l5-106l5-75l5 177l5 38l5 108l5-223l5 78l5-45l5-161l5 189l5-52l5-69l5 51l5-3l5 65l5 41l5-130l5 35l5-96l5 54l5-71l5-43l5 114l5-122l5 148l5-106l5 102l5-58l5-78l5 193l5-8l5-78l5 23l5-33l5-11l5-102l5 241l5-256l5 145l5-28l5 21l5 34l5-331l5 305l5-47l5-46l5 150l5-12l5 97l5-206l5-53l5-12l5-20l5 133l5-140l5-2l5 124l5-70l5 138l5 37l5-155l5-38l5-88l5-20l5 97l5 155l5-121l5 127l5-81l5 5l5-48l5-69l5 180l5-10l5-88l5-25l5 93l5-22l5-113l5 44l5 35l5 69l5 11l5 19l5-158l5 124l5-102l5 93l5-36l5 60l5 41l5 70l5-199l5 102l5-154l5 189l5-41l5-39l5-289l5 410l5 31l5-395l5 248l5-23l5-42l5-53l5 228l5-225l5-210l5 427l5 84l5-49l5-115l5-51l5 236l5-186l5-51l5 78l5-43l5 21l5 8l5-94l5 71l5-76l5 129l5-263l5 188l5 56l5-92l5 25l5-2l5 68l5-132l5 54l5 32l5-85l5 33l5 39l5-14l5 115l5-94l5 18l5-16l5 23l5-55l5 82l5-56l5 163l5-50l5-112l5 36l5-58l5 24l5 88l5-49l5 23l5-62l5-116l5 205l5-112l5 178l5-91l5-97l5-50l5-27l5 75l5-45l5-25l5 63l5-8l5 11l5 24l5 86l5-2l5-123l5-10l5-71l5 100l5-56l5 80l5-30l5-3l5 49l5 7l5 12l5-209l5-260l5 447l5-16l5 367l5-713l5 399l5-81l5 15l5-25l5 93l5 91l5-140l5 33l5-171l5 211l5-190l5 84l5-126l5 332l5-207l5-79l5 46l5-105l5 195l5-30l5 147l5-264l5 23l5 96l5 201l5-167l5-29l5 77l5-33l5-145l5 326l5-100l5-8l5-69l5 27l5 33l5-162l5 89l5-38l5 130l5-103l5-53l5 87l5-69l5-9l5-16l5 45l5-51l5 35l5-182l5 158l5-170l5 19l5-130l5 105l5-364l5 535l5-352l5 135l5 59l5-155l5 185l5-205l5 12l5 130l5-130l5 141l5-323l5-19l5-45l5 76l5 22l5 104l5-229l5 52l5-72l5-8l5 4l5-198l5-35l5 146l5-415l5 349l5-68l5 19l5-45l5-19l5-56l5-76l5-48l5 30l5 230l5-236l5 26l5 199l5-106l5 132l5 57l5-179l5 51l5 289l5-123l5 186l5-160l5-147l5 225l5 39l5 155l5 280l5-97l5-199l5 366l5-375l5 60l5 217l5-55l5 83l5 160l5-237l5 99l5-349l5 528l5-178l5-90l5 190l5-58l5 93l5-221l5 35l5-101l5 221l5 314l5-261l5 207l5-170l5 140l5-126l5 62l5 66l5-107l5 57l5-10l5 89l5-139l5 88l5 61l5-121l5 226l5-119l5 1l5-41l5 75l5-60l5-23l5 41l5-28l5 221l5-137l5-28l5-24l5 236l5-474l5 242l5-62l5 73l5 8l5 216l5-163l5 132l5-283l5 223l5-121l5-173l5-206l5 397l5 54l5-7l5-3l5-37l5 105l5-34l5-27l5 10l5 175l5 34l5-139l5 79l5-156l5 179l5-118l5 83l5-210l5 133l5 228l5-358l5 56l5 71l5-82l5 127l5-39l5 39l5-96l5-55l5 41l5 47l5-205l5 218l5-56l5 16l5-194l5 125l5 52l5-15l5 58l5-89l5-19l5-9l5 132l5-65l5-25l5-84l5 156l5-68l5 150l5-87l5-11l5-12l5 12l5 34l5-79l5 115l5-67l5-8l5-140l5 188l5-141l5 132l5-51l5-44l5-64l5 57l5 77l5 93l5-134l5-79l5 87l5-80l5 120l5-356l5 289l5-143l5 85l5-9l5 147l5-177l5 224l5-112l5 21l5 28l5-70l5 388l5-446l5 151l5-22l5-139l5 95l5-125l5 615l5-521l5 368l5-417l5 64l5 13l5-175l5 129l5 66l5 46l5-10l5-54l5 103l5-208l5 115l5 33l5 203l5-275l5-71l5 108l5-171l5 312l5-188l5 62l5-111l5-32l5 262l5-160l5-120l5 220l5-60l5 231l5-108l5-156l5 35l5-93l5 103l5 20l5-70l5 99l5-109l5 31l5 90l5 47l5 100l5-287l5 99l5 143l5-563l5 595l5-303l5-241l5 369l5-114l5 121l5-304l5 535l5-234l5 58l5-151l5 73l5-98l5 67l5-63l5 83l5 7l5 20l5-18l5 0l5 88l5 153l5-143l5-158l5 365l5-266l5-20l5 133l5-158l5 156l5-211l5 189l5-144l5-66l5 117l5-67l5 3l5 163l5-149l5 86l5-86l5 15l5 83l5-124l5 77l5 5l5-38l5-31l5 91l5-50l5-65l5 64l5 16l5 116l5-64l5-84l5 30l5-26l5 88l5-145l5-10l5-53l5 129l5 9l5-152l5 400l5-104l5-159l5 65l5-19l5-141l5 71l5 114l5 34l5 126l5-263l5 94l5 138l5-193l5-120l5 21l5 252l5 112l5-262l5 61l5 4l5 83l5 61l5-212l5 171l5-75l5-54l5 0l5-188l5 181l5 0l5-8l5 79l5-34l5-18l5-55l5 27l5-117l5-156l5 242l5-111l5 153l5-11l5 111l5-123l5-95l5 8l5 171l5-195l5 53l5 53l5 118l5-55l5-140l5 126l5-115l5 5l5 63l5-108l5 244l5-72l5 2l5 49l5-225l5 144l5-80l5 80l5 25l5-103l5-69l5 175l5-32l5 53l5-60l5-109l5-58l5 558l5-504l5-76l5 89l5 392l5-24l5-284l5 90l5-110l5 86l5-212l5 86l5-67l5 227l5-534l5 178l5 234l5-27l5 153l5-210l5-129l5 477l5-296l5 23l5 160l5-114l5-214l5 96l5 16l5 14l5-74l5 148l5-10l5-23l5 91l5-28l5 107l5-147l5-82l5-4l5-279l5 322l5 21l5-41l5-73l5 13l5 109l5 91l5-53l5-170l5-4l5 28l5 386l5-278l5 15l5 6l5 70l5-191l5 171l5-101l5-56l5 112l5-203l5 363l5-219l5-82l5 95l5-241l5 254l5-88l5-61l5 210l5-146l5 14l5 43l5 15l5-195l5-9l5 155l5-176l5 235l5-111l5 24l5-39l5 152l5-152l5-4l5 140l5-189l5 148l5-116l5 123l5-70l5-24l5-18l5-4l5 67l5-36l5 43l5-139l5 169l5-7l5 78l5-122l5 81l5-70l5-140l5 236l5-58l5-69l5-60l5 154l5-4l5-174l5 106l5 117l5-121l5 141l5-95l5-115l5 30l5 120l5-266l5 133l5 19l5 26l5 142l5-115l5-316l5 303l5-26l5-74l5 83l5 39l5-353l5 547l5-182l5-213l5 220l5-93l5-74l5 89l5 43l5-180l5 215l5 65l5-118l5-158l5 364l5-306l5 113l5 140l5-160l5-148l5 74l5 65l5-27l5-208l5 274l5-99l5-109l5 0l5 157l5-176l5 157l5-46l5 94l5-49l5-11l5-16l5 48l5 54l5 116l5-376l5 147l5 220l5-220l5-40l5-4l5 88l5-117l5 138l5-64l5-8l5 52l5-40l5-4l5 10l5 14l5-83l5 39l5-8l5 97l5-83l5-3l5-202l5 133l5-15l5 61l5 44l5-2l5-143l5 169l5 16l5-12l5-150l5 74l5 289l5-231l5-78l5-57l5 20l5-134l5 180l5-75l5 88l5-63l5-31l5 46l5 106l5-170l5 335l5-227l5-48l5-154l5 100l5 502l5-584l5 143l5-42l5 79l5 288l5-194l5-95l5 39l5-125l5 21l5 5l5 18l5 13l5-41l5-34l5 189l5-188l5 28l5 18l5 185l5-173l5-98l5-102l5 317l5-103l5 1l5-248l5 273l5-221l5 197l5 25l5-16l5-70l5 51l5-77l5 166l5-187l5 84l5-55l5 19l5-122l5 238l5-101l5-87l5 246l5-199l5 110l5-93l5 113l5-112l5 86l5 3l5-17l5-85l5-87l5 267l5 122l5-282l5 469l5-420l5-126l5 101l5 77l5-148l5 316l5-228l5-132l5-114l5 203l5-60l5 6l5 1l5-30l5 102l5-116l5-269l5 51l5 104l5 63l5 187l5-114l5-47l5 129l5-1l5-46l5 62l5 9l5 18l5 44l5-119l5-7l5 52l5-69l5 45l5 69l5 154l5-371l5-146l5 237l5-34l5 46l5 4l5 62l5-57l5-129l5 357l5-239l5 6l5-175l5 145l5 6l5-150l5 51l5 52l5 118l5-11l5-60l5-100l5 163l5 88l5-109l5-205l5 169l5-87l5-226l5 339l5-64l5 10l5 82l5-98l5-15l5 62l5-5l5-236l5 36l5 245l5 94l5-332l5 92l5 40l5-126l5 18l5 10l5 95l5-62l5 81l5-99l5 126l5 107l5-246l5 30l5 56l5-151l5 249l5-202l5 20l5 110l5-122l5 87l5 4l5-161l5 126l5 8l5-44l5-65l5 300l5-58l5-86l5-25l5-21l5 89l5-108l5-137l5 130l5 94l5-244l5 294l5-62l5-78l5-56l5 48l5 89l5-43l5 211l5-90l5-125l5-40l5-93l5 324l5-149l5 16l5 146l5-177l5-49l5 13l5 82l5-102l5 223l5-152l5 39l5-98l5 109l5-70l5-34l5 208l5 169l5-319l5-148l5 325l5-266l5 73l5 71l5 20l5-50l5-13l5 91l5-142l5 70l5 73l5-60l5-10l5 132l5-521l5 359l5-47l5 45l5 19l5 93l5-105l5 69l5-174l5 154l5-26l5 33l5 23l5-117l5 64l5-27l5-22l5-60l5-17l5 60l5 94l5-32l5-54l5 46l5-54l5-43l5-32l5 98l5-74l5 56l5 200l5-119l5-165l5 39l5-204l5 236l5-70l5 101l5-315l5 164l5 41l5 33l5-64l5-7l5 422l5-271l5-145l5 29l5 177l5 23l5-99l5-103l5-9l5 50l5 114l5-147l5 318l5-227l5-83l5 44l5 121l5-253l5 209l5 19l5-200l5 128l5-175l5 148l5-37l5-318l5 352l5-27l5 97l5-168l5 260l5-221l5 45l5 79l5-113l5-258l5 203l5 304l5-239l5-29l5-1l5 43l5 334l5-111l5-190l5-161l5-100l5 188l5-17l5-122l5 395l5-379l5 208l5-115l5-10l5 126l5-272l5-33l5 220l5-111l5 8l5-90l5 118l5 136l5-135l5-81l5 131l5-33l5-84l5 77l5-29l5 32l5 29l5-186l5 97l5 175l5-41l5 42l5-188l5 38l5 27l5 122l5-21l5-99l5-290l5 460l5 70l5-75l5 14l5-59l5-63l5 61l5-214l5 261l5-72l5 95l5 157l5-56l5-10l5-4l5 12l5-10l5-91l5 6l5 4l5-3l5 107l5-86l5 122l5 119l5-209l5 34l5-89l5 122l5 34l5 121l5-123l5-44l5-18l5-35l5 134l5-239l5 135l5 46l5 42l5 81l5 20l5-12l5-71l5-24l5-144l5 119l5 37l5-22l5 1l5 190l5-164l5 120l5-35l5-106l5-32l5 143l5-51l5 84l5-53l5 42l5-284l5 210l5-35l5 98l5-190l5 265l5-200l5 71l5-15l5 74l5 92l5-13l5-81l5 6l5-5l5 312l5-237l5-35l5-50l5 22l5 38l5-61l5-82l5-52l5 186l5-27l5-62l5 97l5-75l5 133l5-441l5 371l5-75l5 76l5-137l5 185l5 10l5-119l5 195l5-77l5-157l5 65l5-102l5 42l5-10l5 78l5 133l5-278l5 188l5-37l5-34l5 14l5-145l5 249l5 57l5 7l5-88l5 31l5-147l5 64l5-118l5 197l5 120l5-124l5-5l5-40l5 20l5 13l5 100l5-122l5 226l5-115l5-356l5 293l5 29l5 85l5-13l5-203l5 87l5-80l5 124l5-107l5 89l5-83l5-114l5 242l5 23l5 17l5-59l5-11l5-22l5 75l5-145l5-122l5 197l5 234l5-314l5 113l5 217l5-137l5 133l5 127l5-340l5 206l5-132l5 38l5-124l5 20l5-114l5 148l5-67l5 79l5 23l5 41l5-168l5-63l5-76l5 161l5 59l5-103l5-73l5 124l5-206l5 246l5-196l5 31l5 68l5-163l5 176l5 59l5-140l5-249l5 253l5 162l5-164l5-204l5-22l5 177l5-71l5 13l5 112l5-232l5 75l5-90l5 31l5 4l5-41l5-13l5 93l5-58l5-44l5-97l5 218l5-47l5 44l5 174l5-333l5 36l5-50l5-136l5 195l5-38l5 75l5-113l5-172l5 68l5 73l5 16l5 44l5-219l5 174l5-62l5 53l5-84l5 145l5-18l5-186l5 57l5 69l5 15l5-73l5 150l5-93l5-167l5 281l5-40l5-61l5-34l5 30l5-11l5-177l5-100l5 313l5-79l5-271l5-29l5 280l5 54l5-6l5 48l5-86l5-5l5-85l5 321l5-14l5-244l5 9l5-112l5 364l5-225l5-49l5 14l5 21l5-132l5 13l5 105l5-7l5 30l5-35l5 31l5-5l5-133l5 50l5-3l5 15l5-176l5 211l5 4l5 32l5-31l5 131l5-165l5 43l5-79l5 101l5-97l5-49l5 165l5-64l5-274l5 254l5-38l5 8l5-36l5 334l5-213l5 28l5 55l5-44l5-119l5 74l5-30l5 96l5-97l5 70l5-10l5-149l5 113l5 34l5-188l5 171l5 70l5 40l5 70l5-80l5 78l5 4l5-149l5-7l5 136l5-26l5-120l5 109l5-113l5-11l5 0l5-13l5 124l5-15l5-61l5-95l5 153l5 64l5-56l5-39l5-43l5 130l5-127l5-41l5 115l5-14l5-62l5-44l5-72l5 249l5 185l5-245l5-82l5 41l5 110l5-39l5-39l5-23l5 105l5-52l5 38l5-162l5 202l5-158l5 119l5-83l5 63l5 36l5 26l5-17l5-11l5-34l5 106l5-92l5 102l5 83l5-189l5-41l5 128l5-72l5-9l5 153l5-290l5 209l5-84l5 59l5-20l5 28l5 21l5 110l5-74l5-386l5 261l5 143l5-95l5 77l5 29l5-77l5 99l5 3l5-46l5 153l5-156l5 22l5 50l5 21l5-163l5 451l5-170l5 30l5-94l5-134l5 160l5 23l5-39l5-251l5 153l5-91l5 339l5-65l5 116l5-124l5 58l5-1l5-98l5 78l5-51l5 23l5 101l5 1l5 9l5-9l5-109l5 199l5-80l5-156l5 43l5 79l5-85l5 336l5-219l5 36l5 25l5 1l5-11l5 3l5-103l5 92l5-50l5-48l5 78l5 113l5-50l5-30l5-20l5-229l5 342l5-19l5-24" fill="none" stroke="#D4A000" stroke-width="28" stroke-linejoin="round"/>
<path d="M11240 12083l5 93l5 188l5-328l5 36l5-49l5-1l5-19l5 55l5 69l5-17l5 3l5-153l5 8l5 202l5 56l5-92l5 12l5-146l5 150l5-349l5 162l5 110l5 75l5-190l5 162l5-132l5 176l5-154l5 150l5-68l5-90l5 167l5-46l5-33l5-45l5 36l5-70l5 59l5-56l5-38l5 140l5-86l5-36l5-11l5 48l5-71l5 82l5 126l5-134l5-113l5 212l5 5l5-172l5 154l5-189l5 64l5 121l5 9l5-152l5 20l5 52l5-51l5-278l5 365l5 17l5-65l5 274l5-273l5 241l5-104l5 49l5-145l5-26l5 157l5-162l5 21l5 58l5-217l5 97l5 39l5-69l5 138l5-23l5-302l5 233l5 22l5 36l5-20l5-51l5-92l5 101l5-15l5-32l5 112l5-37l5-114l5 1l5 73l5-94l5 7l5 77l5 16l5 101l5-108l5-177l5 101l5 107l5 35l5 59l5-397l5 231l5 59l5-62l5 41l5 146l5-51l5-279l5 129l5 61l5 0l5-49l5-5l5 81l5 62l5-85l5-51l5-20l5-62l5 31l5 166l5 7l5-141l5 68l5-88l5 54l5 197l5-232l5 150l5 189l5-257l5 25l5 176l5-186l5-24l5 31l5-87l5-120l5-312l5 396l5 56l5 6l5 148l5-41l5-24l5-109l5 135l5-179l5 41l5 148l5-77l5-51l5-97l5 69l5 102l5-20l5-81l5 73l5-49l5-167l5 196l5-41l5 65l5-4l5 5l5 45l5 304l5-472l5 66l5 45l5-11l5-66l5 118l5-60l5 1l5-56l5 131l5-83l5-53l5-2l5 46l5 129l5-51l5-159l5-124l5 252l5 24l5-18l5-63l5 142l5-106l5-139l5 100l5 49l5 155l5-181l5-43l5 80l5-5l5-374l5 215l5 123l5 193l5-199l5-137l5 175l5-36l5-19l5-37l5 22l5 110l5-35l5 92l5 100l5 62l5-380l5 119l5 21l5 17l5-70l5 71l5-69l5 315l5-162l5-130l5 56l5 94l5-150l5-37l5 32l5-62l5 3l5 101l5-40l5 44l5 16l5-81l5-12l5 45l5-25l5-11l5 75l5-30l5 30l5 43l5 1l5-139l5 16l5 239l5-275l5 222l5-195l5 317l5-239l5 235l5-162l5-141l5 36l5-39l5 107l5-100l5 21l5-17l5 58l5 44l5 29l5-115l5 28l5 195l5-230l5-38l5 226l5-299l5 140l5 65l5-204l5 93l5 98l5-318l5 136l5 199l5-10l5 22l5-128l5 153l5-114l5-196l5 232l5-7l5-42l5 95l5-40l5-30l5-9l5-16l5 1l5 48l5 132l5-437l5 169l5 74l5 45l5 27l5-129l5-189l5 369l5-171l5 136l5 277l5-628l5-24l5 258l5 15l5 146l5-57l5-11l5 44l5-87l5 93l5-40l5-46l5-90l5-116l5 226l5-37l5 133l5-90l5-70l5 56l5 161l5-193l5-31l5-11l5-85l5 202l5 48l5 211l5-430l5 44l5-35l5 24l5 50l5-89l5 96l5 9l5 44l5-132l5 93l5 79l5-478l5 254l5 79l5 14l5 35l5-90l5 451l5-353l5-63l5 4l5-96l5-101l5-270l5 476l5-166l5 38l5 39l5 140l5 61l5-141l5-63l5 65l5 32l5-120l5 5l5 42l5 8l5-45l5 61l5-70l5-77l5 210l5-169l5 132l5 134l5 112l5-286l5-21l5 246l5-341l5 101l5 125l5-129l5 38l5-115l5 142l5-38l5 135l5-21l5-240l5 222l5-24l5 31l5-54l5 50l5 74l5-11l5 8l5-44l5-42l5 41l5-130l5 222l5-352l5 86l5 4l5 158l5-149l5 139l5-93l5 21l5-103l5 232l5-21l5-68l5-197l5 9l5 391l5-261l5 18l5 63l5-121l5 120l5 86l5 21l5-2l5-40l5-95l5 125l5-23l5-186l5 78l5-4l5 178l5-41l5-61l5 52l5-33l5 13l5 33l5 43l5-77l5 271l5-324l5 93l5-375l5 302l5 77l5-77l5 122l5-352l5 386l5-266l5 54l5 201l5-102l5 34l5-41l5 30l5 24l5-100l5 54l5 94l5-329l5 204l5 272l5-165l5-81l5 97l5-54l5 23l5 168l5-232l5 30l5 45l5-294l5 235l5 20l5-36l5-50l5 92l5 42l5 95l5-207l5 17l5 67l5 26l5-78l5 172l5-257l5 60l5 146l5-109l5-91l5 65l5 42l5-88l5 201l5-310l5 195l5-119l5 155l5-6l5-17l5-278l5 303l5-334l5 299l5-113l5 88l5-56l5 503l5-346l5-78l5 24l5-87l5-54l5-184l5 21l5 61l5 170l5 20l5 7l5-136l5 117l5-209l5 176l5 97l5-188l5 120l5 85l5-91l5 39l5-10l5-79l5-79l5 74l5 242l5-176l5-313l5 199l5 196l5-58l5 169l5-298l5 75l5-66l5 150l5 55l5-1l5-91l5-55l5 108l5-223l5 82l5 87l5 165l5-128l5-139l5-46l5 162l5-119l5 153l5-110l5-262l5 411l5-125l5 50l5-337l5 295l5 0l5-2l5 132l5-159l5 147l5-163l5 58l5-179l5 16l5 210l5-48l5-105l5 42l5 106l5-40l5 153l5-92l5-169l5-23l5 147l5 75l5-312l5 270l5-119l5 44l5 36l5-56l5 12l5 59l5 31l5 137l5-86l5-111l5-36l5 49l5-241l5 254l5 169l5-455l5 193l5 63l5-16l5-70l5 70l5-85l5-21l5-24l5 240l5-164l5-115l5 159l5-393l5 406l5-9l5 41l5-76l5 73l5-102l5 23l5 14l5 26l5-337l5 289l5-2l5-17l5 46l5 63l5-68l5-92l5 85l5 234l5-327l5 169l5 21l5-120l5-74l5 157l5 42l5-24l5-301l5 443l5-241l5 26l5-51l5 96l5 6l5 40l5-34l5-53l5 111l5-47l5-22l5-92l5 381l5-527l5-102l5 182l5-179l5 307l5 102l5-38l5-120l5 107l5-13l5 84l5-100l5-206l5-63l5 215l5 64l5-167l5 77l5 42l5 40l5 191l5-258l5 47l5 58l5-128l5 105l5 33l5 324l5-360l5 89l5-103l5-36l5-21l5 63l5 53l5 70l5-118l5 152l5-222l5-20l5 87l5-31l5 51l5 169l5-184l5-36l5 47l5-149l5 109l5-173l5 222l5-57l5-62l5 119l5-78l5-202l5 277l5-93l5-43l5 30l5-36l5 118l5 82l5-158l5 132l5-7l5-277l5 138l5 27l5 149l5-110l5 3l5 225l5-170l5-90l5 21l5 55l5-24l5-64l5 130l5-28l5-76l5-15l5-278l5 157l5 163l5-45l5-6l5 101l5-37l5-165l5 131l5 38l5-115l5 368l5-316l5 53l5 70l5-8l5-44l5 51l5-73l5 112l5-221l5 134l5 91l5-148l5 21l5 31l5 0l5-98l5-471l5 607l5-143l5 7l5 8l5 93l5 57l5-454l5 458l5-91l5 10l5 29l5-92l5 51l5 65l5-178l5 87l5 59l5-42l5-34l5-91l5 353l5-320l5 58l5 101l5-108l5 112l5-150l5-111l5 148l5 149l5 12l5-195l5 118l5-174l5 222l5 19l5-121l5-11l5-18l5 107l5-172l5 463l5-231l5-121l5 119l5-127l5-22l5 79l5-64l5 11l5-33l5-52l5 58l5 66l5 24l5-75l5 25l5-81l5 49l5 1l5 1l5 13l5 19l5 56l5-29l5-17l5-185l5 99l5 55l5 18l5 26l5-161l5 125l5-3l5-116l5 56l5 24l5 17l5 54l5-174l5 71l5 157l5-84l5-65l5 29l5-63l5 176l5 1l5-36l5 21l5-48l5 55l5-44l5 50l5-93l5-4l5-31l5 6l5-72l5 188l5 5l5-44l5 17l5-50l5-261l5 159l5 82l5-112l5 73l5 25l5-2l5-109l5 222l5-29l5-98l5 39l5-37l5 20l5-112l5-126l5 240l5-18l5 91l5-64l5-25l5 103l5-183l5 235l5-187l5 0l5 156l5 111l5-135l5-364l5 489l5-521l5 316l5 276l5-350l5 30l5-105l5 142l5-8l5-128l5 157l5-110l5 141l5-50l5-129l5 109l5-56l5 112l5-7l5 39l5-118l5 81l5-121l5 109l5-36l5 30l5-16l5 170l5-192l5 10l5-126l5 132l5-30l5 98l5-63l5-3l5 43l5-53l5 55l5-11l5 69l5-106l5 46l5-19l5-109l5 150l5-93l5-38l5-65l5-14l5 14l5 98l5 4l5 23l5-227l5 206l5-22l5 91l5-2l5-27l5-35l5 155l5-286l5 48l5 84l5-6l5 36l5 13l5 25l5-79l5 112l5-302l5 238l5 579l5-663l5-122l5 217l5 34l5-244l5 97l5 356l5-344l5 12l5 28l5 58l5-71l5-41l5 388l5-322l5 176l5-163l5-21l5 28l5-29l5-55l5 49l5 110l5-260l5 112l5 22l5-260l5 318l5-33l5 98l5-167l5-311l5 406l5 2l5-118l5 14l5 99l5 0l5 28l5 37l5-45l5-202l5 92l5 499l5-381l5-221l5 147l5 22l5 7l5-171l5 230l5-50l5-78l5 133l5-138l5 71l5-70l5 67l5 158l5-166l5 93l5 35l5-26l5 154l5-348l5 21l5 33l5 55l5 113l5-179l5 101l5-34l5 25l5 60l5-181l5 143l5-33l5-6l5-185l5 133l5-48l5 125l5-100l5-80l5 180l5-83l5-424l5 544l5-109l5 17l5-159l5 134l5-146l5 204l5-5l5-69l5 47l5 210l5-378l5 235l5-49l5-117l5 140l5-58l5-89l5 43l5 118l5-210l5 62l5 168l5-31l5 28l5-150l5 56l5 28l5 63l5-109l5 85l5 13l5-29l5 4l5-74l5 158l5-216l5 9l5 27l5 194l5 75l5-173l5-148l5 137l5 73l5-56l5 62l5 0l5-19l5-207l5 57l5 23l5 17l5-15l5-37l5 128l5-136l5 33l5-2l5 239l5-258l5 12l5 108l5 32l5-94l5 108l5-54l5-175l5 188l5-109l5-21l5 119l5-160l5 22l5 24l5 210l5-94l5 7l5-85l5 27l5-35l5-70l5 115l5-72l5 93l5-82l5-30l5-183l5 291l5-128l5 148l5-45l5-1l5-15l5-41l5-142l5 462l5-313l5 54l5-109l5 112l5-28l5 90l5-138l5 46l5 14l5-215l5 281l5-172l5 246l5-52l5 283l5-427l5 189l5-457l5 304l5-2l5-66l5 94l5-85l5-195l5 294l5 30l5 17l5-59l5-61l5 94l5-65l5-133l5 186l5-20l5 187l5-152l5-67l5-32l5 47l5 57l5-150l5-290l5 291l5 168l5-14l5 9l5-400l5 237l5 63l5-23l5-34l5 71l5-38l5 44l5-32l5-39l5 85l5 12l5-63l5-109l5-10l5 60l5 111l5-140l5 121l5 295l5-511l5 235l5-67l5 27l5-206l5 97l5 174l5 169l5 213l5-527l5 431l5-556l5 257l5-30l5 54l5-36l5 85l5-431l5 321l5-48l5 329l5-249l5-118l5 139l5-35l5-36l5-6l5-140l5 135l5 53l5 12l5-51l5 38l5-40l5 2l5 54l5-1l5-252l5 193l5 320l5-301l5 24l5 65l5-53l5-355l5 301l5-8l5 105l5-109l5 11l5 106l5-54l5 73l5-89l5-2l5 51l5-37l5 17l5-16l5 55l5-79l5-85l5 115l5-151l5-10l5 169l5-32l5-162l5 138l5 14l5 79l5-63l5 25l5-27l5-128l5 158l5-122l5 115l5-32l5-24l5-74l5 210l5-230l5 119l5-47l5-43l5-60l5 170l5 139l5-154l5 35l5 5l5-115l5-1l5 185l5-53l5-96l5-164l5 221l5 65l5-53l5-64l5 93l5-83l5 69l5-71l5-158l5 294l5-138l5 178l5-100l5-128l5 18l5 91l5-104l5 165l5-58l5 38l5-129l5-8l5 59l5 44l5-97l5 53l5 15l5 75l5-315l5 120l5 153l5 86l5-196l5 18l5 140l5-62l5-45l5 47l5 33l5-39l5 19l5-11l5 13l5-12l5 14l5-35l5-128l5 120l5-287l5 190l5 71l5 55l5-20l5 48l5 122l5-196l5-84l5 105l5 76l5-30l5 262l5-261l5-13l5-72l5-7l5 5l5 85l5 41l5-44l5-40l5 133l5-129l5 43l5-300l5 334l5-168l5 136l5 89l5-126l5 11l5 74l5-10l5-169l5 12l5-46l5 105l5-50l5 108l5-113l5 82l5 6l5 191l5-122l5-74l5 79l5 7l5-257l5 122l5 6l5-2l5-24l5 30l5 82l5 5l5 59l5-114l5-122l5 390l5-324l5 211l5-191l5 106l5 217l5-277l5 111l5-111l5-102l5 158l5-27l5 5l5 9l5-116l5 13l5 512l5-313l5-189l5 123l5 85l5-134l5 44l5-69l5-24l5 108l5-164l5 186l5 63l5-162l5-70l5 2l5 127l5-56l5 5l5 35l5-296l5 177l5 75l5 31l5 3l5 1l5-71l5 76l5-61l5-235l5 252l5 85l5-95l5 255l5-16l5-306l5-51l5 87l5-53l5 119l5-91l5 129l5-97l5-53l5 337l5-237l5-25l5 23l5 87l5-88l5-54l5-2l5 11l5-19l5-85l5-217l5 377l5 12l5 7l5 28l5 33l5-133l5 44l5-63l5 73l5 60l5-5l5-51l5 111l5-70l5 11l5-90l5 97l5 47l5-337l5 503l5-322l5-3l5 276l5-159l5-91l5 102l5 14l5-1l5-49l5-39l5 115l5-118l5 53l5 41l5 37l5-86l5-267l5 283l5-18l5-404l5 457l5 42l5-109l5 50l5-144l5 4l5 184l5-104l5-99l5 365l5-280l5-76l5 61l5 101l5-83l5 92l5-186l5 174l5-47l5 141l5-137l5-3l5 1l5-283l5 262l5 67l5-25l5 2l5-239l5 180l5 191l5-209l5-342l5 394l5-106l5 104l5-135l5 181l5 42l5 51l5-108l5-3l5-156l5 149l5 54l5-69l5 19l5 236l5-356l5 171l5-96l5-38l5 143l5-35l5 11l5-26l5-47l5 580l5-591l5 175l5-182l5-6l5 118l5-97l5-362l5 332l5 130l5-68l5 66l5-4l5-152l5 148l5-56l5-37l5 121l5-40l5 3l5 195l5-157l5-55l5-155l5 239l5 82l5-267l5 215l5 10l5-225l5 123l5-109l5 126l5-66l5 123l5-36l5-97l5 65l5-65l5 145l5-565l5 436l5-103l5-95l5 466l5-167l5 24l5-94l5 55l5-134l5 328l5-148l5-183l5-108l5 208l5 38l5 56l5-113l5-311l5 236l5 339l5-126l5-107l5 19l5-79l5 8l5-91l5 58l5 48l5 464l5-314l5-85l5-7l5-11l5-112l5 15l5 61l5 7l5 126l5-137l5 50l5-122l5 116l5-18l5 112l5-62l5-109l5 89l5-1l5-98l5-26l5 52l5 51l5-58l5 204l5-81l5-277l5 267l5-257l5 118l5 128l5-34l5-272l5 329l5-157l5 108l5-40l5-100l5 129l5 130l5-111l5-58l5 72l5-14l5-106l5 21l5 196l5-111l5 33l5 60l5 70l5-296l5 190l5-137l5-334l5 369l5 6l5 71l5-203l5 114l5-26l5 66l5-50l5 36l5 198l5-247l5 57l5-11l5-23l5-73l5 285l5-11l5-164l5 4l5 19l5-47l5 29l5 96l5-94l5-111l5 352l5-273l5 24l5 115l5 147l5-311l5 113l5 0l5-3l5-97l5 121l5-32" fill="none" stroke="#B077E0" stroke-width="28" stroke-linejoin="round"/>
<path d="M11240 11380l5-52l5-252l5 289l5 134l5-199l5 165l5 20l5-126l5-3l5 75l5 165l5-56l5 202l5-164l5-210l5 71l5-27l5 47l5-88l5 36l5-99l5 311l5-631l5 362l5-8l5 180l5-121l5-30l5-44l5 181l5-75l5-131l5 177l5-244l5 149l5-13l5-58l5 323l5-217l5-77l5 67l5-89l5 335l5-178l5-98l5 64l5 58l5-212l5-192l5 336l5-20l5-80l5 97l5-168l5 89l5 53l5-170l5 43l5-216l5 239l5 38l5 54l5-56l5-25l5 22l5-60l5 54l5 138l5 3l5-82l5 82l5-223l5 169l5-17l5-60l5-12l5 49l5-94l5 120l5-13l5 66l5 96l5 154l5-76l5-290l5-138l5 287l5-194l5 89l5-53l5 79l5-60l5 1l5-10l5 69l5-166l5 159l5-33l5-82l5 34l5-30l5 31l5 56l5-107l5 91l5 12l5-22l5 59l5 5l5-65l5 115l5-161l5 8l5-134l5-410l5 600l5-89l5-100l5 45l5 0l5-10l5 45l5-125l5 126l5-63l5 100l5 224l5-334l5 100l5-81l5 27l5-237l5 328l5-108l5-312l5 374l5 54l5 8l5-144l5-50l5 331l5-279l5 126l5-104l5 35l5-88l5 107l5 183l5-206l5-41l5 199l5-231l5 63l5 82l5-168l5 133l5-119l5 47l5 20l5 684l5-725l5 50l5-96l5 19l5 89l5 35l5-116l5 131l5 41l5-103l5-16l5 19l5-359l5 291l5 98l5 5l5-78l5 6l5-13l5 344l5-366l5-34l5 157l5-81l5 27l5 113l5-148l5 70l5-125l5 48l5 86l5-62l5-75l5-328l5 443l5-81l5 104l5-26l5-408l5 387l5 54l5-46l5-63l5 83l5-44l5 9l5 215l5-234l5 100l5-76l5-17l5 8l5 46l5-75l5 53l5-55l5 224l5-271l5 257l5-178l5 42l5-10l5-353l5 350l5 123l5-141l5 119l5-76l5-80l5 14l5-117l5 476l5-271l5-18l5 8l5 81l5-401l5 254l5 188l5-159l5 24l5 9l5-4l5 28l5-74l5 80l5-100l5 37l5 31l5-46l5 154l5-204l5 48l5-35l5-177l5 238l5 108l5 117l5-194l5-57l5-38l5 20l5-18l5-39l5 41l5 159l5-59l5-65l5 217l5-252l5 21l5-74l5 189l5-84l5 192l5-166l5 0l5 330l5-436l5 43l5 131l5-167l5-86l5 203l5 3l5-116l5 47l5 80l5 106l5 130l5-305l5 274l5-221l5-53l5-83l5 82l5 31l5-137l5 12l5 248l5-183l5-17l5-81l5 16l5-4l5 128l5-83l5 88l5 87l5-198l5-31l5 111l5 28l5-16l5 1l5-114l5 124l5-19l5-17l5 83l5-173l5 144l5-54l5 62l5 67l5-118l5-16l5 12l5 88l5 10l5-332l5 119l5 228l5-5l5-205l5 11l5 429l5 104l5-288l5-136l5-57l5 131l5-142l5 128l5-73l5 79l5 34l5-13l5-45l5-114l5-4l5-152l5 299l5-14l5-15l5-138l5 250l5-119l5-2l5 12l5-107l5 119l5-13l5-136l5 64l5 78l5-191l5-178l5 197l5 140l5-132l5-311l5 369l5 10l5 0l5-40l5 143l5-147l5 29l5 80l5 126l5-101l5-41l5 25l5-95l5-102l5 236l5-34l5 21l5-9l5-168l5-149l5 439l5-460l5-63l5 244l5 76l5 40l5-185l5 129l5-35l5 98l5-40l5-43l5 174l5-205l5 72l5-163l5 196l5-87l5 45l5 27l5 9l5-59l5 18l5 34l5 110l5-201l5 123l5 57l5 53l5-217l5 145l5-78l5 58l5 34l5-105l5-147l5 88l5 25l5 50l5-10l5 111l5-118l5-363l5 454l5 67l5-116l5-34l5-174l5 143l5 140l5-47l5-107l5 84l5-48l5-37l5 29l5 28l5-102l5 13l5-19l5-184l5 335l5-125l5 12l5-267l5 311l5-47l5 307l5-301l5 339l5-273l5-36l5-102l5 474l5-266l5-204l5 217l5-97l5 92l5-18l5-19l5-25l5 73l5-96l5 87l5-75l5-16l5-504l5 494l5 5l5 81l5 52l5-146l5-21l5 148l5 182l5-243l5-228l5 269l5-115l5 131l5-21l5-193l5 132l5-14l5 49l5-28l5-56l5 39l5 45l5-19l5-12l5 153l5-108l5 146l5-172l5 14l5-84l5 71l5-61l5-226l5 236l5 86l5 0l5-48l5-29l5-18l5 85l5 31l5 27l5-156l5 33l5 34l5-87l5 137l5-9l5 39l5-45l5 70l5-146l5-225l5 313l5-57l5-100l5 66l5-80l5-160l5 242l5-5l5-68l5 84l5 17l5-132l5 253l5-75l5-80l5 170l5 167l5-447l5 139l5-21l5 20l5-278l5 282l5 21l5-165l5 168l5 83l5-83l5 66l5-73l5 18l5 7l5-324l5 272l5 174l5-117l5-228l5 196l5-187l5 111l5 14l5 75l5 24l5-111l5-577l5 704l5-3l5-101l5 35l5-22l5 209l5-225l5 67l5-23l5-408l5 334l5-25l5 146l5-97l5 40l5 22l5-84l5-18l5 31l5 271l5-150l5-168l5 166l5-32l5-24l5 36l5-23l5 18l5 27l5-45l5 21l5 31l5-77l5 76l5 1l5 122l5 172l5-414l5 122l5 11l5-39l5-28l5-14l5-2l5 65l5-119l5 12l5 110l5-14l5-45l5-77l5 0l5 137l5-30l5 72l5-176l5 75l5 239l5-127l5 58l5-125l5 64l5-166l5-31l5 183l5-182l5 114l5 38l5-119l5-32l5 188l5-114l5-10l5-255l5 223l5 28l5 125l5 95l5-314l5-87l5 64l5-114l5 66l5 224l5 68l5-18l5 76l5-206l5 50l5 34l5 26l5 21l5-224l5 94l5-29l5 53l5 36l5 135l5-155l5 65l5-52l5 68l5 38l5 211l5-281l5 91l5-673l5 505l5-27l5-22l5 55l5 27l5 1l5 72l5-94l5 326l5-413l5 64l5 33l5-144l5 113l5 98l5-52l5 188l5-194l5-516l5 519l5-39l5 42l5-1l5 3l5-94l5 50l5 150l5-53l5-77l5 589l5-509l5-176l5-5l5 87l5 138l5-220l5 114l5-54l5 45l5 319l5-373l5 75l5 95l5-111l5-11l5-61l5 29l5-207l5 174l5 52l5-61l5 67l5 31l5-25l5 421l5-412l5 24l5 245l5-343l5 73l5 81l5-127l5 115l5-70l5-32l5 131l5 95l5-159l5 104l5-104l5 198l5-283l5-116l5 104l5 2l5 171l5-65l5-131l5 125l5-45l5 124l5-23l5 8l5-129l5 141l5-49l5 11l5-39l5-52l5 68l5-38l5 39l5-40l5-120l5 140l5-35l5-268l5 265l5-104l5-27l5 66l5 118l5 76l5-124l5 7l5-119l5 156l5 67l5-79l5-277l5 191l5 107l5-148l5 125l5-12l5-58l5-19l5 93l5 114l5-242l5 251l5-176l5 19l5 162l5-368l5 179l5 74l5 66l5-133l5 56l5-8l5-49l5 77l5-50l5 61l5-84l5 30l5-117l5-192l5 296l5-381l5 802l5-676l5 265l5-25l5 197l5-317l5 191l5 41l5-210l5 201l5-184l5 107l5 85l5-178l5 112l5-18l5-246l5 394l5-242l5 85l5 228l5-373l5 162l5-60l5 87l5-66l5 43l5 112l5-117l5 30l5-72l5-81l5 79l5 32l5-18l5 60l5 29l5-60l5-20l5 35l5-197l5 0l5 98l5-29l5 194l5-85l5-163l5 157l5-146l5 80l5-93l5 55l5 241l5-171l5 40l5-285l5 152l5 133l5 97l5-114l5-2l5-72l5 77l5 88l5 161l5-197l5-190l5 550l5-372l5-72l5 38l5 88l5-174l5 144l5-38l5-37l5 93l5-198l5 98l5-69l5 73l5 38l5-137l5 120l5 0l5-33l5 10l5 75l5-50l5 84l5-21l5 263l5-439l5-27l5 266l5-147l5 44l5-65l5 88l5 19l5-77l5 482l5-734l5-123l5 374l5 78l5-53l5-3l5-56l5 26l5-54l5-230l5 377l5 83l5-138l5-10l5-98l5 141l5-120l5 19l5 60l5-70l5 504l5-620l5 102l5-46l5 61l5 74l5-52l5 8l5 16l5-288l5 350l5-42l5-42l5-13l5 10l5 7l5-84l5 65l5-38l5 375l5-325l5 64l5-4l5-90l5 63l5-11l5-30l5 188l5-206l5-6l5 62l5 89l5-121l5 108l5-148l5 39l5 240l5-231l5 20l5-213l5 197l5-49l5 94l5-28l5 61l5 11l5 36l5-94l5 74l5-117l5-70l5 188l5-167l5 61l5 61l5-62l5 35l5 533l5-524l5-18l5-28l5-13l5 29l5-15l5 73l5-83l5 81l5-53l5-55l5 66l5 24l5-105l5-30l5 167l5-80l5 79l5-53l5 23l5-93l5 24l5 33l5-9l5-24l5-67l5 195l5-72l5-52l5 127l5-20l5-97l5 26l5-125l5-111l5 290l5 260l5-375l5 13l5 79l5 18l5-123l5 75l5 17l5 240l5-291l5-216l5 179l5 242l5-149l5 7l5 35l5-98l5-32l5-223l5 269l5 9l5-9l5 124l5-101l5 63l5-125l5 272l5-173l5 393l5-519l5 1l5-228l5 324l5 171l5-165l5 285l5-341l5-37l5-130l5 117l5-23l5 40l5-214l5 289l5-205l5 243l5-119l5 77l5-196l5 128l5 117l5-110l5-59l5-160l5 440l5-107l5-19l5-129l5 99l5-20l5-23l5 81l5-421l5 244l5 76l5 77l5 112l5-248l5 108l5 95l5 1l5-176l5 136l5-200l5 124l5-95l5 29l5 152l5-161l5-36l5 112l5-195l5 313l5-46l5-455l5 277l5-74l5 462l5-194l5 406l5-489l5-13l5 85l5-54l5-142l5 42l5 30l5-337l5 346l5 1l5-302l5 318l5 41l5-2l5-23l5-23l5 195l5-122l5 327l5-363l5-97l5 96l5 69l5-131l5 169l5-224l5-158l5-23l5 285l5 60l5-129l5 124l5-200l5 127l5-30l5 65l5 22l5 25l5-3l5-96l5-32l5 83l5-60l5 262l5-366l5 109l5 377l5-261l5-79l5-112l5 118l5-91l5 99l5-29l5 100l5-75l5-57l5 18l5 74l5-20l5 10l5-102l5-9l5 8l5 57l5 67l5-36l5 254l5-243l5-116l5 49l5 128l5-167l5 67l5 42l5 27l5-15l5-148l5 168l5-4l5-15l5-105l5 110l5-62l5 19l5 13l5-220l5 154l5 128l5-113l5 88l5-174l5-13l5-176l5 344l5-154l5 135l5-21l5-66l5 202l5-83l5-103l5-114l5 108l5 9l5 191l5-108l5-72l5 7l5 6l5-49l5 215l5-111l5-66l5 40l5 118l5-81l5-173l5 255l5-56l5-95l5 127l5-177l5 53l5 14l5 58l5 132l5 20l5-302l5 182l5 255l5 3l5-383l5 66l5-412l5 442l5 47l5-159l5 44l5 10l5 255l5-224l5-2l5-86l5 88l5-148l5 5l5-204l5 366l5 0l5-110l5-40l5 225l5-195l5 175l5-25l5-25l5-100l5 109l5-129l5 207l5-88l5-146l5 80l5 41l5-30l5 25l5-63l5-25l5 38l5-41l5 144l5 89l5-432l5 513l5-617l5 752l5-344l5 10l5-119l5-98l5 264l5-63l5 24l5 7l5-247l5 276l5-81l5-17l5-25l5-26l5 170l5-221l5 198l5-139l5 9l5 165l5-134l5-158l5 264l5-343l5 196l5 89l5-311l5 269l5 288l5-154l5-107l5-66l5 45l5 64l5-242l5 107l5 65l5 31l5-29l5-12l5 44l5 319l5-388l5 8l5 72l5-208l5 83l5 235l5-63l5-56l5 17l5-91l5 127l5 99l5-42l5-82l5 318l5-355l5 62l5-42l5-7l5-144l5-163l5 304l5-21l5-67l5 144l5-45l5 2l5-205l5 113l5 263l5-213l5-48l5 58l5-54l5 18l5-40l5 180l5 112l5-133l5 323l5-299l5-174l5 99l5-89l5 2l5 8l5 31l5-41l5 38l5 114l5-125l5-66l5 129l5-102l5-89l5 206l5-138l5-27l5 150l5-181l5 305l5-160l5-24l5 34l5 26l5 18l5 30l5-57l5 11l5-21l5-59l5 269l5-134l5-297l5 78l5 224l5-145l5 530l5-348l5-208l5 190l5-163l5 101l5 9l5-40l5-18l5-162l5 164l5 83l5 287l5-822l5 450l5 22l5-3l5-90l5 31l5-72l5 44l5-245l5 263l5 66l5-48l5 256l5-259l5 202l5-65l5 6l5 15l5-400l5 211l5-20l5 5l5-221l5 241l5 44l5 88l5-152l5 83l5-5l5 2l5-513l5 475l5 19l5 460l5-435l5 72l5-184l5 133l5-82l5-107l5 164l5-72l5 333l5-170l5-139l5-40l5 318l5-251l5-91l5 134l5-18l5 38l5-88l5 37l5 2l5-1l5-39l5 105l5-31l5-59l5 52l5 34l5-267l5 227l5-71l5-67l5 162l5 0l5 138l5-444l5 237l5 262l5-383l5 235l5-176l5 144l5-109l5 188l5-109l5-346l5 331l5 27l5-115l5 231l5-246l5 21l5 3l5 83l5 320l5-272l5 90l5-77l5-127l5 90l5 3l5 71l5-46l5-142l5 175l5-64l5-80l5 124l5-39l5 316l5-217l5-70l5 10l5-175l5 154l5 16l5 252l5-484l5 205l5 28l5-167l5 90l5 48l5-123l5 100l5 100l5-203l5 184l5-32l5-110l5 5l5-4l5 74l5-165l5 187l5-136l5 1l5-184l5 348l5-132l5 54l5 82l5-381l5 304l5-121l5 140l5-92l5 77l5-63l5-77l5 154l5-147l5 203l5 322l5-290l5-134l5 77l5-123l5 94l5 69l5-130l5 39l5 160l5-134l5 150l5-191l5 79l5-218l5 80l5 271l5-527l5 128l5 133l5 50l5 77l5-146l5 101l5-15l5-13l5-4l5-508l5 575l5-11l5 85l5-86l5-25l5-65l5 36l5-47l5 168l5-231l5 173l5 3l5 13l5-69l5 167l5-159l5-80l5 59l5-5l5-49l5 94l5-55l5 0l5 49l5-20l5 24l5-168l5 157l5-23l5 200l5-56l5-60l5-84l5 55l5-23l5 141l5-291l5 253l5-85l5-161l5 136l5 87l5-84l5-35l5 150l5-64l5-110l5 31l5-113l5 220l5-83l5-18l5 143l5-188l5 50l5 42l5 62l5 81l5-468l5 283l5 5l5-26l5 89l5-27l5-92l5-206l5 428l5-172l5 1l5 128l5-62l5-193l5 210l5-64l5-16l5 75l5-81l5 106l5 52l5-142l5-97l5 93l5 43l5-47l5 56l5 45l5-71l5 35l5 59l5-19l5-111l5 139l5-262l5 463l5-382l5 140l5-58l5-2l5-4l5 57l5-2l5-19l5 42l5-105l5 126l5-8l5-121l5 137l5-86l5-68l5 17l5 216l5-98l5-65l5-51l5 102l5-263l5 94l5 141l5 187l5-157l5 128l5-140l5 1l5-47l5-29l5 63l5 308l5-606l5 252l5 49l5-48l5 35l5-326l5 285l5 58l5-76l5 7l5-60l5 56l5 63l5 60l5-327l5 246l5-21l5 152l5-215l5 147l5-37l5 84l5-115l5 23l5-119l5 214l5-110l5-33l5-10l5-390l5 534l5-274l5 79l5 244l5 43l5-190l5-51l5 155l5-155l5 35l5 47l5-294l5 31l5 311" fill="none" stroke="#1E78E8" stroke-width="28" stroke-linejoin="round"/>
<path d="M11240 10207l5 2l5-16l5-137l5 162l5-141l5 166l5-241l5 235l5-1l5-30l5 156l5-191l5 99l5-351l5 254l5 66l5 171l5-244l5-315l5 314l5-4l5 74l5-51l5-80l5 76l5 68l5 74l5-67l5 74l5-211l5-35l5 65l5 122l5 11l5-179l5 125l5-60l5-33l5-76l5 163l5-105l5 63l5-13l5 98l5-425l5 257l5 48l5 71l5-131l5 89l5-5l5-103l5 21l5-26l5 110l5-46l5-201l5 239l5 26l5-139l5 144l5-40l5 152l5-79l5-11l5 72l5-40l5-116l5 260l5-438l5 141l5-87l5 111l5-93l5 177l5 101l5-106l5-96l5 63l5 34l5-57l5 20l5-15l5 177l5-204l5 147l5-56l5 183l5-253l5 83l5-23l5-102l5 69l5-10l5-27l5 11l5-158l5 176l5 45l5 270l5-406l5 156l5-56l5 97l5-100l5-4l5 63l5-353l5 323l5-43l5-47l5 208l5-11l5-95l5-40l5 156l5-98l5-56l5 33l5 101l5-60l5-70l5 10l5 144l5 54l5-117l5 363l5-270l5-56l5 179l5-258l5 7l5-11l5 5l5 152l5-84l5-40l5-183l5 332l5-151l5 184l5-271l5 112l5 108l5-209l5 72l5 87l5-110l5 2l5 33l5 23l5-52l5-128l5 309l5-118l5-15l5-27l5 110l5-96l5 188l5-213l5 124l5-172l5 16l5 71l5-146l5 94l5-25l5 48l5 35l5 12l5 80l5-246l5 200l5 30l5 3l5-155l5 52l5-1l5-324l5 358l5 12l5-2l5 105l5-109l5 36l5 130l5-461l5 335l5-67l5-160l5 424l5-409l5 171l5-231l5 195l5 112l5 112l5-325l5 35l5 65l5 6l5 55l5-77l5 34l5-261l5 246l5-29l5 412l5-588l5 340l5-118l5-47l5 53l5-137l5 90l5-54l5 101l5 85l5-234l5 206l5-42l5 14l5 30l5-59l5 10l5-225l5 193l5-26l5 89l5 10l5-1l5-7l5-65l5 106l5-103l5 424l5-60l5-422l5 46l5-18l5 73l5-62l5 55l5 68l5-13l5-67l5 55l5-42l5 118l5-41l5-29l5-69l5-5l5 45l5-73l5-255l5 149l5 82l5-41l5 55l5 35l5 18l5-61l5 56l5-101l5 194l5-59l5-69l5 66l5-25l5 55l5-51l5 181l5-125l5-116l5-12l5 48l5 88l5 27l5-73l5 76l5 45l5-131l5-36l5 6l5 41l5 62l5-19l5-156l5 43l5 55l5 198l5-81l5-64l5-286l5 293l5-37l5 69l5 12l5-118l5-18l5 41l5 129l5-119l5 36l5-94l5 221l5-92l5-28l5-42l5-23l5-27l5-88l5 140l5-40l5 49l5-7l5-51l5 30l5 27l5-83l5 36l5 6l5 96l5-175l5 135l5-27l5 49l5-36l5 133l5-166l5-14l5 130l5-96l5 31l5-5l5-218l5 334l5-142l5 13l5-60l5-189l5 249l5-19l5 20l5 18l5-230l5 348l5-220l5 158l5-92l5-113l5 140l5-42l5 143l5-125l5 28l5-194l5 181l5-109l5 176l5-158l5-50l5 115l5-6l5 35l5-375l5 265l5 17l5-320l5 372l5 17l5-95l5 57l5 24l5 94l5-172l5 159l5-67l5-100l5 153l5-131l5-5l5-15l5 138l5-362l5 267l5-42l5 89l5-150l5 66l5 139l5-24l5 34l5-44l5-84l5 89l5-125l5 188l5-47l5-94l5 112l5-53l5-10l5-221l5 222l5 189l5-116l5-88l5-12l5-50l5 148l5-55l5-59l5 213l5-194l5 221l5-28l5-185l5-118l5 176l5-72l5 222l5-122l5 191l5-212l5 26l5 6l5 18l5-68l5 38l5-90l5 92l5-26l5 121l5-144l5 92l5-294l5 297l5-201l5 141l5 312l5-408l5 127l5-200l5 185l5-56l5 57l5-63l5-18l5 105l5-8l5-43l5-13l5 10l5-21l5 2l5-46l5 83l5-88l5 4l5 123l5 30l5-199l5 118l5 93l5-71l5 44l5 21l5-204l5 6l5-1l5 187l5-175l5 44l5 20l5 30l5-84l5 102l5 0l5-28l5-38l5 123l5-195l5 141l5-64l5-46l5 178l5-76l5-8l5 285l5 60l5-393l5 39l5-186l5 148l5 87l5 23l5-70l5 3l5-60l5 90l5 9l5 138l5-349l5 33l5 119l5-26l5 4l5-245l5 258l5 55l5 144l5-165l5-44l5-59l5 26l5 85l5 39l5-55l5 51l5 33l5-161l5 124l5-59l5 7l5-32l5 31l5-21l5 105l5-11l5-121l5 220l5-208l5-35l5 79l5 208l5-175l5-52l5 1l5 34l5-46l5-293l5 300l5 231l5 15l5-152l5 42l5-54l5 56l5-134l5-147l5 278l5-9l5-13l5-64l5 33l5-213l5 142l5-29l5 32l5 47l5-5l5-22l5 47l5 56l5-130l5-110l5 168l5-126l5 126l5-47l5 0l5 27l5 76l5-96l5-137l5 288l5-90l5-73l5-30l5 113l5 16l5-18l5-35l5-5l5 90l5-9l5-131l5 165l5-81l5 6l5-73l5 327l5-241l5-70l5 63l5-106l5 6l5 255l5-202l5-21l5-70l5 101l5-38l5 17l5 89l5-24l5-26l5-45l5-47l5 29l5 16l5 33l5-64l5 21l5 30l5-124l5 183l5-24l5-37l5 108l5 674l5-763l5 66l5-106l5-32l5 98l5-88l5 224l5-226l5 112l5 126l5-162l5 14l5-94l5 74l5 359l5-230l5-58l5-210l5 197l5-32l5-109l5 115l5-68l5 52l5-125l5-20l5 168l5-115l5 124l5 72l5-145l5-147l5 114l5 143l5-55l5 45l5-123l5 10l5-63l5 47l5-119l5 37l5 148l5 12l5-227l5 146l5-55l5 71l5-142l5 61l5 54l5-34l5 182l5-65l5 7l5-109l5 136l5-96l5 68l5-103l5 90l5-66l5 22l5-4l5-434l5 468l5-52l5 10l5 62l5-118l5 66l5 82l5 229l5-259l5 44l5-168l5 156l5-363l5 268l5 13l5 65l5 10l5-27l5-103l5-17l5 419l5-303l5-73l5 86l5-15l5-16l5-200l5 251l5-15l5 66l5-98l5-91l5 91l5 26l5-219l5 403l5-201l5 5l5-104l5 28l5-39l5-226l5 315l5-211l5 133l5 140l5-85l5 72l5 95l5-154l5-30l5 23l5-123l5 155l5-242l5 215l5-187l5 244l5-52l5-38l5 174l5-125l5-393l5 285l5 58l5 145l5-84l5 0l5-66l5 32l5 27l5-24l5-2l5 195l5-233l5 19l5 55l5-2l5-35l5-34l5 0l5 53l5-87l5 62l5-6l5 3l5 105l5-99l5-80l5 175l5-59l5-28l5-69l5 158l5-150l5 147l5-28l5-139l5 238l5-197l5-26l5-55l5 134l5 11l5-214l5 304l5-138l5 436l5-348l5-21l5-70l5 41l5-82l5 92l5-86l5 50l5-5l5-134l5 184l5 132l5-40l5-169l5-159l5 189l5-94l5 111l5 73l5-19l5-138l5-1l5 103l5-5l5-21l5-30l5-8l5-6l5 80l5-409l5 299l5-4l5 179l5 377l5-505l5 86l5-33l5 209l5-281l5 89l5-69l5 78l5-93l5 136l5-83l5-8l5-68l5 45l5 36l5 81l5 7l5-131l5-1l5 47l5 123l5-149l5 168l5-167l5 83l5-27l5-103l5 130l5-76l5-64l5 56l5-30l5 75l5-108l5 110l5-144l5 80l5 55l5-3l5-25l5 38l5 1l5-42l5 11l5 38l5-40l5-149l5 115l5 134l5-169l5 63l5 32l5-169l5 163l5-81l5 109l5-132l5-366l5 592l5-131l5-123l5 229l5-220l5 1l5-25l5 143l5-68l5-28l5-10l5 217l5-261l5 112l5 126l5-213l5 129l5 9l5-77l5 30l5-53l5 168l5-85l5-12l5 49l5-95l5 108l5-183l5 595l5-462l5-10l5-56l5 136l5 0l5-84l5 8l5-61l5 42l5 69l5-108l5-23l5 41l5-239l5 195l5 94l5-148l5 177l5-22l5 17l5-147l5-2l5 55l5 12l5 24l5-60l5-45l5 128l5-140l5 51l5 11l5 95l5-26l5 15l5 301l5-293l5 6l5-42l5-74l5 208l5-148l5-37l5 247l5-229l5 78l5-50l5-177l5 149l5-114l5 50l5 93l5 13l5-151l5 220l5-96l5 63l5-4l5 24l5-48l5 47l5-77l5 3l5 343l5-513l5 370l5-137l5-20l5 73l5-101l5-1l5-22l5 85l5-65l5-27l5 110l5-222l5 484l5-281l5-128l5 214l5-198l5 47l5 344l5-310l5-39l5 77l5 19l5-74l5-31l5 21l5-72l5 1l5 84l5 38l5-110l5 49l5 0l5-179l5 286l5-26l5-15l5 83l5-193l5-87l5 208l5-71l5-19l5-9l5 77l5-238l5 184l5 141l5-268l5 172l5-255l5 178l5-52l5-66l5 137l5 29l5-25l5 9l5 33l5 13l5-92l5 5l5 90l5-34l5 13l5-82l5 136l5-75l5-19l5-35l5 216l5 13l5-187l5 94l5-23l5-65l5-31l5 7l5 53l5-180l5-166l5 306l5 128l5-92l5-33l5 12l5-37l5-3l5 34l5-105l5 109l5-92l5 16l5 36l5 78l5-471l5 511l5-104l5 13l5 15l5-300l5 359l5-24l5-78l5 146l5-56l5 50l5 115l5-149l5-46l5 227l5-302l5 71l5-94l5 333l5-159l5-32l5-219l5 141l5 58l5-99l5-9l5-5l5 92l5-93l5-7l5 134l5-18l5-43l5 29l5-89l5 76l5 81l5-12l5-166l5 82l5-14l5 68l5-16l5-216l5 193l5-3l5-16l5-104l5 103l5-154l5 185l5 2l5-13l5 2l5 53l5-67l5 91l5-53l5 9l5-44l5 231l5-297l5-192l5 262l5-108l5-25l5 114l5 17l5-27l5 6l5-26l5 154l5-128l5-49l5 92l5-70l5-198l5 364l5-34l5-72l5 104l5-126l5 70l5 90l5-74l5-188l5 21l5-290l5 307l5 44l5 96l5-285l5 416l5-211l5 10l5-42l5 37l5 40l5-13l5 56l5 28l5-217l5 149l5-81l5-101l5 161l5-131l5 75l5-80l5 97l5-77l5 252l5-108l5-26l5-60l5 70l5 54l5-75l5-75l5 69l5-95l5 66l5 328l5-368l5 84l5-51l5-91l5 97l5 48l5 103l5-205l5 60l5-92l5 115l5 2l5 36l5 25l5-70l5 79l5-78l5-51l5 28l5-12l5 33l5 7l5 9l5 52l5-23l5-65l5 54l5-34l5 46l5 26l5-75l5 49l5 33l5-66l5-70l5 54l5 92l5-422l5 347l5 6l5 80l5-56l5-34l5-107l5 70l5-9l5 27l5-58l5 103l5 34l5-88l5-61l5 86l5 300l5-71l5 97l5-373l5-36l5 77l5-129l5 68l5 100l5 78l5 51l5-182l5-63l5 54l5 47l5-81l5 159l5-99l5-102l5 111l5 69l5 197l5-285l5 4l5 9l5 29l5 144l5-98l5-43l5 176l5-245l5 138l5-38l5-280l5 228l5-342l5 311l5 24l5-84l5 44l5 76l5-109l5 68l5 1l5-35l5 17l5-44l5-163l5 159l5 37l5-23l5 175l5-252l5 53l5 216l5 23l5-249l5 109l5 90l5-122l5 114l5-189l5 41l5 43l5-1l5 54l5-184l5 86l5 129l5-394l5 332l5 114l5-452l5 639l5-239l5-87l5-35l5-136l5 348l5-253l5 80l5-19l5 47l5-27l5 29l5 39l5-29l5 98l5-203l5 28l5 59l5 8l5-35l5 35l5-27l5 59l5-79l5-45l5 27l5-82l5-41l5 88l5 28l5-10l5 103l5-125l5-60l5 228l5-193l5 126l5-40l5-142l5 194l5-72l5 39l5-31l5 29l5 31l5 70l5-105l5-25l5 60l5-24l5-165l5 36l5 284l5-195l5-66l5 184l5-78l5-52l5 1l5 131l5-114l5 50l5-23l5-49l5 83l5-243l5 134l5 31l5 75l5-52l5 79l5-142l5 38l5-19l5-3l5 89l5 57l5-93l5 217l5-39l5-94l5 105l5-198l5-107l5 26l5 171l5-149l5 168l5-262l5 274l5-171l5-120l5 190l5 34l5-22l5 38l5-64l5 54l5 14l5-18l5-141l5 18l5 46l5 51l5-70l5 125l5-60l5-37l5 106l5-53l5-5l5-98l5 136l5-221l5 192l5 179l5-172l5-164l5 225l5-136l5 17l5 30l5-63l5 100l5-117l5 125l5-133l5 81l5-84l5 12l5 162l5-122l5 34l5-347l5 147l5-66l5 197l5 23l5 15l5-16l5 48l5-53l5 111l5-472l5 327l5 164l5-55l5-33l5-15l5-66l5 62l5-3l5 4l5-102l5 132l5 79l5-87l5 12l5-61l5-95l5 172l5-53l5-45l5-121l5 170l5 57l5 9l5-58l5 43l5 44l5-39l5 9l5-70l5 285l5-91l5-134l5-23l5 1l5-124l5 157l5 202l5-373l5 143l5 48l5-69l5-37l5 33l5-36l5 134l5-227l5 147l5 257l5-300l5-285l5 312l5 63l5-67l5 53l5 28l5-5l5-104l5 21l5 125l5-133l5-41l5 50l5 40l5 53l5 15l5-122l5 110l5-170l5 119l5-91l5 59l5-65l5 39l5-47l5 176l5-33l5-112l5-233l5 286l5-41l5 414l5-435l5 114l5-33l5-56l5 249l5-255l5 75l5-14l5-6l5 31l5-7l5 49l5-118l5 80l5-48l5 60l5-76l5-61l5 3l5 52l5-23l5 38l5 4l5-1l5 55l5-83l5-51l5 124l5-79l5 32l5-46l5-60l5 180l5 23l5-88l5 18l5 49l5-11l5-14l5-123l5 126l5 12l5-291l5 248l5 20l5-60l5 123l5-93l5 86l5-38l5-40l5 83l5-16l5-33l5-12l5-14l5 18l5 28l5-57l5 298l5-474l5 167l5-23l5 68l5-107l5 111l5-44l5 33l5 213l5-207l5-14l5 71l5-98l5-35l5 54l5 48l5 60l5 16l5-91l5 43l5 146l5-232l5 106l5-55l5-30l5 36l5 7l5-97l5-331l5 405l5-49l5 48l5-31l5-21l5 36l5-99l5 129l5 6l5-11l5 349l5-388l5-7l5-63l5 1l5 53l5 89l5-50l5 74l5-30l5 108l5-180l5-211l5 166l5 91l5 23l5-84l5 106l5-9l5-77l5 49l5-31l5 13l5 30l5-127l5-87l5-206l5 437l5-69l5 78l5-97l5 21l5 194l5-75l5-44l5-84l5 57l5-107l5-158l5-67l5 503l5-207l5 59l5 6l5-4l5-115l5 72l5 147l5-210l5 91l5-32l5 119l5-233l5 216l5-102l5 8l5-78l5 10l5 58l5 18l5-136l5 97l5 11l5 16l5-213l5 240l5-31l5-52l5-21l5 94l5 0l5-4l5 50l5 345l5-524l5 119l5 18l5 31l5 6l5-27l5 127l5-168l5-10l5 22l5 18l5 82l5-146l5 70l5 49l5-16l5-87l5 117l5-95l5 45l5 29l5 107l5-144l5-27l5-24l5 112l5 29l5-102l5-36l5 245l5-279l5 7l5 81l5 91l5-119l5 25l5 81l5-114l5-54l5 203l5-62l5 206l5-192l5-18l5-64l5-186l5 113l5 177l5 410l5-487l5 48l5-180l5 113l5-16l5 153l5-93l5-104l5 20l5 159l5-134l5 112l5-11l5-68" fill="none" stroke="#F23C3C" stroke-width="28" stroke-linejoin="round"/>
<path d="M11240 14984l5-23l5-167l5-97l5 315l5-172l5 66l5-204l5 209l5-226l5 94l5 75l5-217l5 27l5 230l5-156l5 137l5-227l5 361l5-329l5-194l5 385l5-460l5 328l5-26l5 164l5-150l5-83l5 47l5 250l5 277l5-83l5 130l5-163l5 90l5 464l5-198l5 247l5-719l5 85l5 390l5-249l5-156l5 85l5 82l5 11l5-284l5 366l5-223l5 92l5-266l5 71l5-128l5-165l5-82l5 221l5 15l5-240l5 79l5-86l5-57l5-72l5 133l5 77l5-224l5-65l5 0l5-82l5 147l5-254l5-39l5 5l5 43l5-264l5 265l5-333l5 230l5-269l5 4l5-131l5-59l5-119l5-419l5 384l5 200l5-223l5 18l5 47l5-255l5 237l5 117l5 19l5-33l5 248l5-259l5 604l5-415l5 221l5-165l5 115l5-136l5 50l5-16l5 78l5 96l5 273l5-535l5 377l5 18l5 79l5-101l5 262l5-67l5-148l5 28l5-158l5 226l5 98l5-490l5 157l5-219l5 172l5-79l5 122l5-95l5-50l5-70l5-72l5-284l5 184l5-213l5 10l5-253l5 234l5 10l5-100l5-36l5-16l5-225l5 262l5-237l5 117l5-227l5 97l5 324l5-1l5 8l5 24l5-89l5 53l5 51l5 58l5-24l5-244l5 287l5-58l5-52l5 252l5-255l5-33l5 108l5-326l5-139l5 118l5 257l5-308l5 106l5 431l5-525l5 1l5 97l5 49l5-144l5 257l5-27l5 77l5-103l5-103l5 338l5-152l5-284l5 355l5-102l5 5l5 68l5 58l5-315l5 383l5 6l5-31l5 55l5-363l5 491l5-150l5-151l5 89l5 160l5-7l5-259l5 139l5-182l5 72l5-136l5-17l5 124l5 46l5-77l5 140l5-136l5 27l5-37l5-343l5 517l5-173l5 305l5-418l5-334l5 180l5 447l5-167l5 110l5-528l5 439l5 112l5 63l5-94l5 218l5 185l5 89l5-350l5 207l5-338l5 141l5 217l5-201l5 124l5-120l5 87l5 294l5-347l5 231l5-219l5 83l5-26l5 46l5 26l5-261l5 155l5 195l5-184l5-72l5 23l5 146l5 38l5-616l5 601l5-74l5 44l5-22l5 90l5-189l5 74l5 93l5-183l5 141l5 15l5 43l5-295l5 15l5 315l5-54l5 88l5-41l5-129l5 17l5-38l5 231l5-180l5 100l5-51l5 239l5-119l5-101l5 169l5-163l5-86l5 272l5-66l5-18l5 40l5-21l5-144l5 338l5-211l5-239l5 201l5 150l5-181l5 259l5-182l5 10l5-13l5 65l5-127l5 235l5-165l5-16l5 93l5 100l5-171l5 26l5-475l5 295l5 125l5-173l5 249l5-236l5 5l5 129l5-49l5-78l5 56l5 238l5-266l5-168l5 129l5 172l5-623l5 245l5 82l5 265l5-233l5 172l5-105l5 73l5 112l5-136l5 105l5-44l5-96l5 224l5-55l5-137l5-54l5-5l5-99l5 89l5 50l5-476l5 157l5-214l5-31l5 177l5-470l5 380l5-319l5 28l5-153l5 22l5-236l5-87l5-535l5 152l5-582l5-185l5-42l5-229l5-556l5-220l5-75l5 122l5-119l5 64l5-134l5 67l5 170l5 87l5-110l5 162l5 69l5-206l5 243l5 175l5 62l5 424l5-37l5 310l5 434l5-82l5 295l5 252l5-161l5 193l5 305l5-205l5 361l5-10l5 63l5-93l5 148l5 84l5-131l5 113l5 46l5 12l5-33l5 239l5 85l5-85l5-124l5 109l5 7l5 62l5 98l5 455l5-513l5 93l5-174l5 313l5 229l5-384l5 361l5 24l5 10l5-82l5 37l5-87l5 284l5 422l5-452l5 256l5-238l5-98l5 310l5-51l5 78l5 9l5-361l5 535l5 45l5-33l5-575l5 648l5-179l5 239l5 35l5-227l5 226l5-186l5 87l5 64l5-100l5 160l5 39l5 27l5-52l5 198l5-141l5-21l5 100l5-64l5-176l5 94l5 13l5 1l5 250l5-82l5 197l5 12l5 28l5-168l5 101l5-168l5 13l5-168l5 235l5 15l5-493l5 545l5-14l5-100l5-48l5-97l5-100l5 92l5-1l5-53l5 194l5-358l5 307l5-76l5-25l5 140l5-48l5-288l5 137l5 213l5-161l5-84l5 140l5-193l5 146l5-242l5-5l5-52l5 5l5 227l5-375l5 112l5 54l5 250l5-67l5-235l5-27l5-31l5 172l5-109l5 231l5-256l5-118l5 171l5-180l5 355l5-255l5-153l5 233l5-22l5-90l5-43l5 279l5-332l5 357l5-324l5 255l5-62l5-68l5-34l5 62l5 72l5 130l5-149l5 277l5-507l5 167l5 66l5-121l5 268l5-169l5 86l5-70l5 90l5-216l5 212l5 14l5 14l5-59l5 23l5-124l5 51l5 0l5 71l5-150l5-4l5 0l5 259l5-177l5 217l5-105l5-59l5-148l5 175l5-71l5-188l5 182l5 93l5-4l5-21l5 43l5-35l5-103l5-193l5 251l5-58l5-174l5 128l5 239l5-105l5 20l5-82l5 161l5-234l5 8l5 149l5 61l5-332l5 111l5 55l5 174l5-213l5 10l5 148l5-64l5-247l5 356l5-58l5-110l5 111l5-249l5 149l5-9l5-131l5 280l5-195l5 312l5-130l5-28l5-1l5-46l5 3l5 15l5 28l5-21l5 35l5-99l5 138l5-15l5 26l5 71l5-125l5-220l5-256l5 528l5-105l5 254l5-343l5 53l5-51l5 63l5-95l5-8l5 208l5-259l5 71l5 119l5-208l5 264l5 97l5-288l5 32l5 90l5-86l5 423l5-403l5 150l5-419l5 272l5 83l5 198l5-304l5 172l5-22l5 360l5-640l5 191l5 150l5-139l5 18l5 40l5-57l5-177l5 187l5 10l5 263l5-314l5-25l5 204l5-176l5 187l5-79l5 40l5-301l5 311l5-120l5 16l5-95l5 77l5 2l5-150l5 593l5-549l5 140l5-20l5 59l5-26l5 77l5 219l5-189l5 83l5-71l5-116l5 241l5-43l5 83l5-108l5-118l5 224l5-101l5-39l5 157l5-94l5 92l5-142l5 34l5 200l5-245l5 84l5 79l5-128l5-16l5-43l5 107l5-67l5 36l5 518l5-159l5-251l5-133l5 220l5-140l5 15l5-79l5 163l5 85l5-277l5 119l5 117l5-243l5 168l5 39l5-67l5 21l5-94l5-2l5-84l5 184l5-176l5 39l5-129l5 275l5 0l5-32l5-311l5 163l5 143l5-172l5 298l5-167l5 57l5-185l5 122l5-37l5 34l5 69l5-116l5 74l5 66l5-316l5 131l5-55l5-574l5 549l5-142l5 273l5-89l5-110l5 41l5-18l5-38l5 237l5 14l5-662l5 562l5-10l5-50l5-174l5 53l5 229l5-262l5 41l5 236l5 21l5-125l5-203l5 185l5-106l5 18l5-59l5 171l5-342l5 383l5 42l5-28l5 259l5-267l5 216l5-496l5 143l5 190l5-81l5-166l5 37l5-318l5 468l5 282l5-282l5-152l5 60l5-87l5 98l5-102l5 87l5 123l5-160l5 393l5-197l5-223l5 280l5-84l5-182l5 7l5-8l5 104l5 7l5-97l5 40l5-45l5-65l5 330l5-318l5-91l5 146l5 158l5-494l5 501l5-413l5 460l5-123l5-191l5-125l5 249l5 162l5-229l5-68l5 189l5-204l5 49l5 117l5-83l5-140l5 276l5-280l5 215l5-103l5 28l5 421l5-98l5-276l5 187l5-266l5 231l5-253l5 84l5-61l5 87l5-221l5 370l5 7l5-355l5-9l5 70l5 248l5-213l5 165l5-190l5 213l5-282l5-34l5 196l5 26l5-210l5 95l5-59l5 56l5-102l5 82l5-188l5-80l5 188l5 236l5-95l5 121l5-253l5 97l5-177l5 87l5-131l5 101l5 65l5-214l5 174l5-165l5 106l5-230l5 175l5 278l5-316l5-70l5 161l5-123l5-41l5 135l5 101l5-103l5-41l5-80l5-25l5 359l5-41l5-231l5 11l5-6l5-76l5 170l5-339l5-126l5 329l5 91l5 59l5-72l5-145l5 187l5 31l5 88l5-261l5 221l5-643l5 423l5-194l5 233l5 113l5 34l5 57l5-69l5 8l5-169l5 160l5 10l5-421l5 243l5-99l5 192l5-126l5 3l5 106l5 17l5 316l5-297l5 0l5-86l5 149l5 43l5-173l5 71l5-20l5-66l5-7l5 159l5-229l5-27l5 233l5-114l5-165l5 33l5 88l5-102l5 352l5-260l5 52l5-160l5 115l5 100l5-235l5-2l5 270l5-160l5-254l5 134l5 121l5 105l5-133l5 69l5 101l5-251l5 152l5 79l5 140l5-49l5-142l5 144l5-450l5 115l5 218l5-95l5-265l5 243l5 63l5-90l5 90l5-53l5-17l5 277l5-261l5 106l5-65l5 43l5-90l5-159l5 366l5-263l5-10l5 168l5-352l5 164l5 195l5-35l5 21l5-11l5 12l5-124l5 184l5-234l5 128l5-196l5 206l5-141l5-44l5 160l5-26l5-65l5-34l5 23l5 130l5-158l5-77l5 163l5-214l5 145l5 100l5-102l5-38l5 259l5-134l5-209l5 31l5-224l5 134l5 217l5 262l5-312l5-29l5-36l5-67l5 186l5 38l5-294l5 273l5 263l5-280l5-2l5-272l5 137l5 334l5-334l5 143l5-119l5-51l5 62l5-80l5-68l5 448l5-212l5-216l5 106l5-17l5 179l5-130l5-72l5-14l5-2l5-36l5-60l5 113l5 121l5-90l5-192l5-72l5 88l5 107l5 19l5 203l5-281l5-42l5 126l5-225l5 414l5-199l5-230l5 295l5-81l5 474l5-301l5-185l5 159l5-445l5 289l5 259l5-529l5 292l5-387l5 292l5 345l5-331l5 205l5-76l5-54l5-15l5 172l5-150l5 417l5-251l5-19l5-140l5 171l5-121l5 138l5-131l5 168l5-12l5-190l5 125l5-300l5 544l5-170l5-68l5-74l5 231l5-268l5 70l5 269l5-700l5 466l5 56l5 114l5-279l5 172l5-124l5 127l5-81l5 228l5-37l5 106l5 84l5-222l5 60l5-279l5 158l5 163l5-290l5 117l5 28l5 9l5 107l5 136l5-791l5 643l5 106l5 77l5-330l5 267l5-52l5-389l5 304l5-126l5 365l5-205l5 54l5-175l5 34l5-136l5 89l5-82l5 226l5 52l5-93l5 153l5-339l5 119l5-61l5-10l5 246l5-102l5 110l5-23l5-229l5 219l5-213l5 183l5 248l5-436l5-201l5 267l5-88l5 199l5-135l5 103l5 16l5-74l5 62l5-161l5 20l5-78l5 229l5 103l5-262l5 58l5 79l5 8l5-10l5 22l5-251l5-118l5 484l5-240l5 33l5 139l5-220l5-118l5 138l5 166l5-114l5-548l5 258l5 285l5-51l5 67l5-67l5-40l5 111l5-23l5-89l5 163l5 110l5-460l5 610l5-602l5 108l5-225l5 215l5-5l5-155l5-73l5 92l5 256l5-238l5-5l5-356l5 165l5 431l5-297l5 176l5-137l5-109l5-213l5 260l5-232l5 65l5-2l5 6l5-9l5-146l5 197l5-80l5 5l5 225l5-264l5 41l5-3l5 118l5 13l5-89l5 66l5 144l5 288l5-482l5 128l5-54l5-22l5-102l5 245l5 42l5-84l5 105l5-35l5 67l5 109l5-95l5 166l5-178l5 24l5-62l5-21l5 4l5 433l5-262l5-109l5 81l5 154l5 82l5-124l5 97l5 177l5-287l5 69l5 113l5-179l5 170l5 79l5-119l5 78l5 196l5-148l5-186l5 259l5-16l5 120l5-284l5 53l5 120l5 84l5-401l5 364l5-341l5 65l5 141l5-301l5 343l5-16l5 163l5-68l5 602l5-623l5 48l5-83l5 194l5-225l5 126l5-40l5-157l5 209l5-127l5 210l5-211l5-138l5 246l5-104l5-440l5 418l5 106l5 45l5 123l5-119l5 124l5-161l5 90l5-12l5 145l5-39l5-105l5-249l5 267l5-91l5 11l5 21l5 171l5-12l5 20l5-15l5-207l5 341l5 30l5-64l5-82l5-344l5 577l5-365l5 318l5-307l5 247l5-159l5-85l5 268l5-79l5-71l5-404l5 688l5-188l5 5l5-138l5 233l5-140l5-48l5 99l5-159l5 276l5-322l5 209l5-138l5 108l5 20l5-145l5-130l5 202l5-136l5 325l5-128l5 72l5-64l5-113l5 89l5 8l5 435l5-442l5-315l5 220l5 242l5-153l5 303l5-186l5 17l5 94l5-82l5 36l5-132l5 126l5 54l5-141l5 176l5-248l5 341l5-300l5-19l5 221l5-29l5 46l5-20l5-133l5 188l5-174l5 209l5-8l5-38l5-56l5 21l5 17l5 65l5-120l5 98l5-31l5-214l5 288l5 52l5-91l5 46l5 121l5-260l5 265l5-203l5-69l5 192l5-124l5 104l5-197l5-137l5 74l5 117l5-344l5 116l5-6l5-79l5 81l5-39l5-53l5 153l5-114l5-48l5 85l5-269l5 109l5-87l5-223l5 476l5-379l5 56l5-15l5 133l5-181l5 76l5-143l5-21l5 173l5-166l5-250l5 520l5-349l5 81l5 50l5-218l5-82l5 168l5-25l5-194l5 144l5-48l5 99l5-197l5 248l5-257l5-7l5-83l5 71l5-151l5-5l5-302l5 499l5-444l5-219l5 522l5-318l5 88l5-1l5-42l5 45l5-148l5-16l5-66l5 143l5-8l5-87l5 12l5-265l5 217l5-62l5 88l5-334l5 120l5 245l5-220l5-198l5 199l5-226l5 66l5 29l5-191l5-95l5 277l5-53l5-107l5-334l5 115l5 201l5-125l5-75l5 0l5-152l5 177l5-134l5 75l5 121l5-370l5 124l5 182l5-138l5 43l5-13l5-6l5 43l5-27l5 19l5-231l5-10l5 90l5 105l5-5l5 5l5-584l5 474l5 139l5-190l5 118l5-5l5-77l5-92l5 170l5-156l5 446l5-629l5 207l5 146l5-33l5-60l5-27l5 70l5-54l5-156l5 108l5 118l5 11l5-159l5 31l5 101l5-203l5 68l5-108l5 361l5-43l5-116l5-1l5 58l5 140l5-314l5 30l5 154l5-245l5 364l5-281l5-25l5-41l5 163l5-47l5 140l5-173l5 89l5 79l5-11l5-149l5-74l5 39l5 8l5-86l5 199l5-198l5 71l5 364l5-359l5 264l5-85l5-55l5-82l5 7l5 44l5-194l5 201l5 36l5-279l5 185l5-24l5-11l5-370l5 444l5-172l5 95l5-40l5 275l5-192l5 104l5 192l5-327l5 31l5-93l5-75l5-179l5 406l5 7l5 37l5-111l5 162l5-73l5 367l5-367l5-127l5 201l5 17l5-288l5 172l5 94l5-47l5-33l5 35l5 37l5 113l5-205l5 131l5 92l5-25l5 31l5-192l5 84l5-182l5 276l5-136l5 82l5 172l5-99l5-87l5 54l5-27l5 309l5-165l5 432l5-340l5-24l5 117l5 33l5 332l5-107l5-40l5-60l5 172l5-66l5 149l5 179l5 403l5-70l5-267l5-42l5-173l5 372l5-109l5 31l5-128l5 236l5 230l5-417l5 362l5-245l5-32l5 20l5 146l5 33l5 103l5-37l5-87l5 161l5-36l5 77l5-6l5-171l5 100l5 235l5-193l5 113l5-363l5 171l5 282l5-134l5 143l5-84l5-44l5 226l5-216l5 187l5-112l5 174l5-159l5-110l5 60l5 75" fill="none" stroke="#00D2D2" stroke-width="28" stroke-linejoin="round"/>
</g>
<g id="axes">
<rect x="65.3" y="15.5" width="986" height="725.5" fill="none" stroke="#000" stroke-width="3.6" stroke-linejoin="round"/>
<path d="M65.3 741V747.5M131 741V753.5M196.8 741V747.5M262.5 741V753.5M328.2 741V747.5M394 741V753.5M459.7 741V747.5M525.4 741V753.5M591.2 741V747.5M656.9 741V753.5M722.6 741V747.5M788.4 741V753.5M854.1 741V747.5M919.8 741V753.5M985.6 741V747.5M1051.3 741V753.5" stroke="#000" stroke-width="3.6" fill="none"/>
<rect x="1118.2" y="17.7" width="901.4" height="724.8" fill="none" stroke="#000" stroke-width="3.6" stroke-linejoin="round"/>
<path d="M1118.2 742.5V749M1178.3 742.5V755M1238.4 742.5V749M1298.5 742.5V755M1358.6 742.5V749M1418.7 742.5V755M1478.8 742.5V749M1538.9 742.5V755M1598.9 742.5V749M1659 742.5V755M1719.1 742.5V749M1779.2 742.5V755M1839.3 742.5V749M1899.4 742.5V755M1959.5 742.5V749M2019.6 742.5V755" stroke="#000" stroke-width="3.6" fill="none"/>
<rect x="70" y="898.4" width="983.3" height="790.2" fill="none" stroke="#000" stroke-width="3.6" stroke-linejoin="round"/>
<path d="M70 1688.6V1695.1M135.6 1688.6V1701.1M201.1 1688.6V1695.1M266.7 1688.6V1701.1M332.2 1688.6V1695.1M397.8 1688.6V1701.1M463.3 1688.6V1695.1M528.9 1688.6V1701.1M594.4 1688.6V1695.1M660 1688.6V1701.1M725.5 1688.6V1695.1M791.1 1688.6V1701.1M856.6 1688.6V1695.1M922.2 1688.6V1701.1M987.7 1688.6V1695.1M1053.3 1688.6V1701.1" stroke="#000" stroke-width="3.6" fill="none"/>
<rect x="1124.4" y="898" width="893.8" height="789.3" fill="none" stroke="#000" stroke-width="3.6" stroke-linejoin="round"/>
<path d="M1124.4 1687.3V1693.8M1184 1687.3V1699.8M1243.6 1687.3V1693.8M1303.2 1687.3V1699.8M1362.7 1687.3V1693.8M1422.3 1687.3V1699.8M1481.9 1687.3V1693.8M1541.5 1687.3V1699.8M1601.1 1687.3V1693.8M1660.7 1687.3V1699.8M1720.3 1687.3V1693.8M1779.9 1687.3V1699.8M1839.4 1687.3V1693.8M1899 1687.3V1699.8M1958.6 1687.3V1693.8M2018.2 1687.3V1699.8" stroke="#000" stroke-width="3.6" fill="none"/>
<path d="M62.5 1612.5H70" stroke="#000" stroke-width="3.2"/>
<path d="M873.3 59.4V152M1866.7 41.4V140.9M870.2 916.9V972.8M1815.6 923.6V995.2" stroke="#000" stroke-width="3.6"/>
<path d="M530.5 65.7H606" stroke="#111" stroke-width="3.2"/>
<path d="M529.5 113.6H605.5" stroke="#F23C3C" stroke-width="3.6"/>
<path d="M530 168.6H606.4" stroke="#1E78E8" stroke-width="3.6"/>
</g>
<g id="labels">
<text x="81.7" y="802.4" font-size="47.5" textLength="85.9" lengthAdjust="spacing">400</text>
<text x="213.8" y="802.4" font-size="47.5" textLength="86.2" lengthAdjust="spacing">600</text>
<text x="346.5" y="802.4" font-size="47.5" textLength="85.6" lengthAdjust="spacing">800</text>
<text x="470.9" y="802.4" font-size="47.5" textLength="114.1" lengthAdjust="spacing">1000</text>
<text x="602" y="802.4" font-size="47.5" textLength="112.7" lengthAdjust="spacing">1200</text>
<text x="733.5" y="802.4" font-size="47.5" textLength="112.7" lengthAdjust="spacing">1400</text>
<text x="863.6" y="802.4" font-size="47.5" textLength="112.7" lengthAdjust="spacing">1600</text>
<text x="995" y="802.4" font-size="47.5" textLength="113.5" lengthAdjust="spacing">1800</text>
<text x="1133" y="802.4" font-size="47.5" textLength="83.9" lengthAdjust="spacing">400</text>
<text x="1254" y="802.4" font-size="47.5" textLength="85.3" lengthAdjust="spacing">600</text>
<text x="1374.2" y="802.4" font-size="47.5" textLength="84.9" lengthAdjust="spacing">800</text>
<text x="1487.6" y="802.4" font-size="47.5" textLength="110.3" lengthAdjust="spacing">1000</text>
<text x="1606.6" y="802.4" font-size="47.5" textLength="111.9" lengthAdjust="spacing">1200</text>
<text x="1728.5" y="802.4" font-size="47.5" textLength="108.9" lengthAdjust="spacing">1400</text>
<text x="1847.4" y="802.4" font-size="47.5" textLength="110.3" lengthAdjust="spacing">1600</text>
<text x="1966.4" y="802.4" font-size="47.5" textLength="111.9" lengthAdjust="spacing">1800</text>
<text x="85.5" y="1756.6" font-size="47.5" textLength="85.9" lengthAdjust="spacing">400</text>
<text x="217.7" y="1756.6" font-size="47.5" textLength="86.1" lengthAdjust="spacing">600</text>
<text x="349.1" y="1756.6" font-size="47.5" textLength="85.6" lengthAdjust="spacing">800</text>
<text x="471" y="1756.6" font-size="47.5" textLength="114" lengthAdjust="spacing">1000</text>
<text x="603.2" y="1756.6" font-size="47.5" textLength="112.8" lengthAdjust="spacing">1200</text>
<text x="733.5" y="1756.6" font-size="47.5" textLength="112.7" lengthAdjust="spacing">1400</text>
<text x="863.5" y="1756.6" font-size="47.5" textLength="114.1" lengthAdjust="spacing">1600</text>
<text x="995" y="1756.6" font-size="47.5" textLength="114" lengthAdjust="spacing">1800</text>
<text x="1140.8" y="1756.6" font-size="47.5" textLength="85.8" lengthAdjust="spacing">400</text>
<text x="1261.5" y="1756.6" font-size="47.5" textLength="86.1" lengthAdjust="spacing">600</text>
<text x="1385.3" y="1756.6" font-size="47.5" textLength="85.6" lengthAdjust="spacing">800</text>
<text x="1490.5" y="1756.6" font-size="47.5" textLength="110" lengthAdjust="spacing">1000</text>
<text x="1611.5" y="1756.6" font-size="47.5" textLength="113.5" lengthAdjust="spacing">1200</text>
<text x="1730.7" y="1756.6" font-size="47.5" textLength="113.6" lengthAdjust="spacing">1400</text>
<text x="1852.3" y="1756.6" font-size="47.5" textLength="103.4" lengthAdjust="spacing">1600</text>
<text x="1962.9" y="1756.6" font-size="47.5" textLength="111.8" lengthAdjust="spacing">1800</text>
<text x="329.3" y="858" font-size="48" textLength="370.2" lengthAdjust="spacing">Raman Shift(cm</text>
<text x="699.9" y="834" font-size="23.5" textLength="22.3" lengthAdjust="spacing">-1</text>
<text x="730.1" y="858" font-size="48" textLength="13.4" lengthAdjust="spacing">)</text>
<text x="1357.3" y="858" font-size="48" textLength="370.2" lengthAdjust="spacing">Raman Shift(cm</text>
<text x="1727.9" y="834" font-size="23.5" textLength="22.3" lengthAdjust="spacing">-1</text>
<text x="1757.6" y="858" font-size="48" textLength="13.3" lengthAdjust="spacing">)</text>
<text x="331.3" y="1812.8" font-size="48" textLength="370.2" lengthAdjust="spacing">Raman Shift(cm</text>
<text x="701.9" y="1788.8" font-size="23.5" textLength="22.3" lengthAdjust="spacing">-1</text>
<text x="732.1" y="1812.8" font-size="48" textLength="13.2" lengthAdjust="spacing">)</text>
<text x="1361.3" y="1813.3" font-size="48" textLength="370.2" lengthAdjust="spacing">Raman Shift(cm</text>
<text x="1731.9" y="1789.3" font-size="23.5" textLength="22.3" lengthAdjust="spacing">-1</text>
<text x="1762.1" y="1813.3" font-size="48" textLength="13.4" lengthAdjust="spacing">)</text>
<text transform="rotate(-90)" x="-643.7" y="50.2" font-size="47" textLength="501.3" lengthAdjust="spacing">Raman Intensity(a.u.)</text>
<text transform="rotate(-90)" x="-670.3" y="1100.5" font-size="47" textLength="499.2" lengthAdjust="spacing">Raman Intensity(a.u.)</text>
<text transform="rotate(-90)" x="-1566.9" y="50.2" font-size="47" textLength="502.7" lengthAdjust="spacing">Raman Intensity(a.u.)</text>
<text transform="rotate(-90)" x="-1570.9" y="1100.5" font-size="47" textLength="501.6" lengthAdjust="spacing">Raman Intensity(a.u.)</text>
<text x="25.7" y="56.2" font-size="49" textLength="25.8" lengthAdjust="spacing">a</text>
<text x="1074" y="60.2" font-size="47.5" textLength="26" lengthAdjust="spacing">b</text>
<text x="26.1" y="943.4" font-size="48" textLength="24.9" lengthAdjust="spacing">c</text>
<text x="1072.4" y="942.9" font-size="46" textLength="26.6" lengthAdjust="spacing">d</text>
<text x="619.7" y="75.1" font-size="47.5" textLength="52.4" lengthAdjust="spacing">10</text>
<text x="675" y="52.3" font-size="25" textLength="24.8" lengthAdjust="spacing">-3</text>
<text x="710.7" y="75.1" font-size="47.5" textLength="42.5" lengthAdjust="spacing">M</text>
<text x="619.7" y="132.2" font-size="47.5" textLength="52.4" lengthAdjust="spacing">10</text>
<text x="675.7" y="108.7" font-size="25" textLength="23.5" lengthAdjust="spacing">-4</text>
<text x="712.1" y="132.2" font-size="47.5" textLength="41" lengthAdjust="spacing">M</text>
<text x="620.8" y="186.2" font-size="47.5" textLength="53.8" lengthAdjust="spacing">10</text>
<text x="677.3" y="162.7" font-size="25" textLength="24.7" lengthAdjust="spacing">-5</text>
<text x="713.1" y="186.2" font-size="47.5" textLength="42.3" lengthAdjust="spacing">M</text>
<text x="1475.8" y="94" font-size="47.5" textLength="55" lengthAdjust="spacing">10</text>
<text x="1532" y="70.9" font-size="25" textLength="24.8" lengthAdjust="spacing">-3</text>
<text x="1568.6" y="94" font-size="47.5" textLength="41.5" lengthAdjust="spacing">M</text>
<text x="538.5" y="972.8" font-size="45" textLength="54.9" lengthAdjust="spacing">10</text>
<text x="594.8" y="952.6" font-size="25" textLength="24.3" lengthAdjust="spacing">-4</text>
<text x="629.6" y="972.8" font-size="45" textLength="44.6" lengthAdjust="spacing">M</text>
<text x="1474.9" y="979.5" font-size="45" textLength="55" lengthAdjust="spacing">10</text>
<text x="1533.6" y="957.1" font-size="25" textLength="22.3" lengthAdjust="spacing">-5</text>
<text x="1566.1" y="979.5" font-size="45" textLength="44.6" lengthAdjust="spacing">M</text>
<text x="899.6" y="120.4" font-size="48" textLength="83.9" lengthAdjust="spacing">500</text>
<text x="1890.8" y="105.9" font-size="48" textLength="84.4" lengthAdjust="spacing">500</text>
<text x="895" y="963.9" font-size="45" textLength="55.5" lengthAdjust="spacing">50</text>
<text x="1840.3" y="981.8" font-size="47" textLength="57.8" lengthAdjust="spacing">50</text>
</g>
</svg>
</body></html>
